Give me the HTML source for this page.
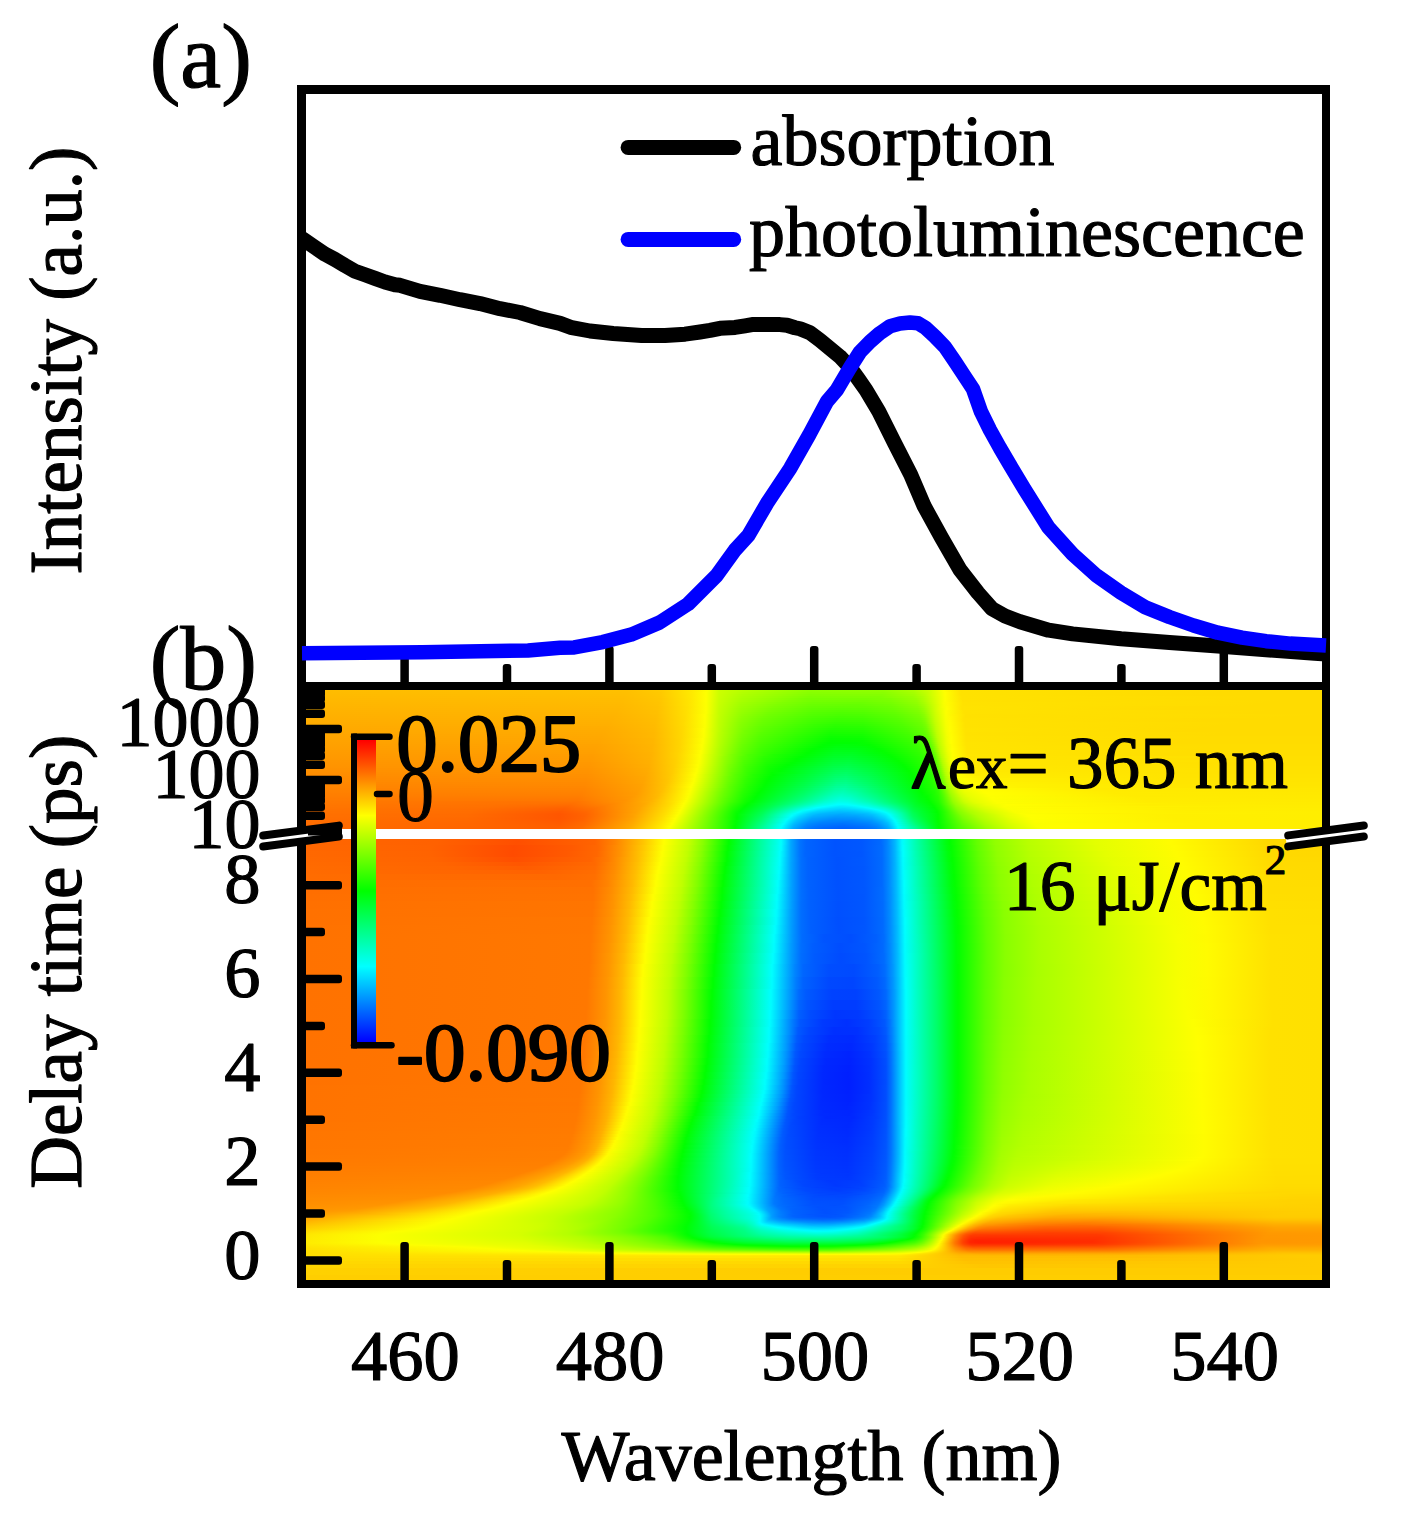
<!DOCTYPE html><html><head><meta charset="utf-8"><style>html,body{margin:0;padding:0;background:#fff}svg{display:block}text{font-family:"Liberation Serif",serif;fill:#000;stroke:#000;stroke-width:1.2px;stroke-linejoin:round}</style></head><body>
<svg width="1405" height="1522" viewBox="0 0 1405 1522">
<defs><linearGradient id="h0" gradientUnits="userSpaceOnUse" x1="306" x2="1321" y1="0" y2="0"><stop offset="0" stop-color="#ffbc00"/><stop offset="0.3163" stop-color="#ffc000"/><stop offset="0.3507" stop-color="#ffcb00"/><stop offset="0.3813" stop-color="#ffeb00"/><stop offset="0.3951" stop-color="#fcff00"/><stop offset="0.4069" stop-color="#ccff00"/><stop offset="0.4315" stop-color="#b5ff00"/><stop offset="0.4966" stop-color="#8cff00"/><stop offset="0.5695" stop-color="#8fff00"/><stop offset="0.599" stop-color="#aaff00"/><stop offset="0.6148" stop-color="#cdff00"/><stop offset="0.6286" stop-color="#feff00"/><stop offset="0.6453" stop-color="#ffe200"/><stop offset="0.9123" stop-color="#ffdb00"/><stop offset="1" stop-color="#ffdb00"/></linearGradient>
<linearGradient id="h1" gradientUnits="userSpaceOnUse" x1="306" x2="1321" y1="0" y2="0"><stop offset="0" stop-color="#ffbb00"/><stop offset="0.3153" stop-color="#ffbf00"/><stop offset="0.3498" stop-color="#ffc900"/><stop offset="0.3803" stop-color="#ffea00"/><stop offset="0.3941" stop-color="#feff00"/><stop offset="0.4069" stop-color="#ccff00"/><stop offset="0.4305" stop-color="#b2ff00"/><stop offset="0.4966" stop-color="#87ff00"/><stop offset="0.5695" stop-color="#8aff00"/><stop offset="0.599" stop-color="#a5ff00"/><stop offset="0.6128" stop-color="#c5ff00"/><stop offset="0.6296" stop-color="#ffff00"/><stop offset="0.6453" stop-color="#ffe200"/><stop offset="0.8995" stop-color="#ffdb00"/><stop offset="1" stop-color="#ffdb00"/></linearGradient>
<linearGradient id="h2" gradientUnits="userSpaceOnUse" x1="306" x2="1321" y1="0" y2="0"><stop offset="0" stop-color="#ffba00"/><stop offset="0.3143" stop-color="#ffbe00"/><stop offset="0.3488" stop-color="#ffc800"/><stop offset="0.3793" stop-color="#ffe800"/><stop offset="0.3941" stop-color="#feff00"/><stop offset="0.4069" stop-color="#cbff00"/><stop offset="0.4296" stop-color="#afff00"/><stop offset="0.4966" stop-color="#82ff00"/><stop offset="0.5675" stop-color="#84ff00"/><stop offset="0.599" stop-color="#a0ff00"/><stop offset="0.6099" stop-color="#baff00"/><stop offset="0.6296" stop-color="#ffff00"/><stop offset="0.6453" stop-color="#ffe200"/><stop offset="0.8867" stop-color="#ffdb00"/><stop offset="1" stop-color="#ffdb00"/></linearGradient>
<linearGradient id="h3" gradientUnits="userSpaceOnUse" x1="306" x2="1321" y1="0" y2="0"><stop offset="0" stop-color="#ffb900"/><stop offset="0.3133" stop-color="#ffbd00"/><stop offset="0.3488" stop-color="#ffc700"/><stop offset="0.3793" stop-color="#ffe800"/><stop offset="0.3941" stop-color="#feff00"/><stop offset="0.4069" stop-color="#caff00"/><stop offset="0.4296" stop-color="#acff00"/><stop offset="0.4956" stop-color="#7dff00"/><stop offset="0.5645" stop-color="#7eff00"/><stop offset="0.598" stop-color="#99ff00"/><stop offset="0.6079" stop-color="#afff00"/><stop offset="0.6296" stop-color="#feff00"/><stop offset="0.6463" stop-color="#ffe200"/><stop offset="0.931" stop-color="#ffdb00"/><stop offset="1" stop-color="#ffdb00"/></linearGradient>
<linearGradient id="h4" gradientUnits="userSpaceOnUse" x1="306" x2="1321" y1="0" y2="0"><stop offset="0" stop-color="#ffb800"/><stop offset="0.3123" stop-color="#ffbc00"/><stop offset="0.3488" stop-color="#ffc600"/><stop offset="0.3783" stop-color="#ffe600"/><stop offset="0.3941" stop-color="#feff00"/><stop offset="0.4069" stop-color="#c9ff00"/><stop offset="0.4296" stop-color="#a9ff00"/><stop offset="0.4936" stop-color="#78ff00"/><stop offset="0.5517" stop-color="#77ff00"/><stop offset="0.5754" stop-color="#7fff00"/><stop offset="0.601" stop-color="#99ff00"/><stop offset="0.6099" stop-color="#b3ff00"/><stop offset="0.6296" stop-color="#feff00"/><stop offset="0.6463" stop-color="#ffe200"/><stop offset="0.9182" stop-color="#ffdb00"/><stop offset="1" stop-color="#ffdb00"/></linearGradient>
<linearGradient id="h5" gradientUnits="userSpaceOnUse" x1="306" x2="1321" y1="0" y2="0"><stop offset="0" stop-color="#ffb700"/><stop offset="0.3113" stop-color="#ffbb00"/><stop offset="0.3478" stop-color="#ffc500"/><stop offset="0.3773" stop-color="#ffe400"/><stop offset="0.3941" stop-color="#feff00"/><stop offset="0.4069" stop-color="#c9ff00"/><stop offset="0.4286" stop-color="#a7ff00"/><stop offset="0.4759" stop-color="#80ff00"/><stop offset="0.4995" stop-color="#73ff00"/><stop offset="0.5498" stop-color="#71ff00"/><stop offset="0.5754" stop-color="#7aff00"/><stop offset="0.602" stop-color="#95ff00"/><stop offset="0.6108" stop-color="#b3ff00"/><stop offset="0.6296" stop-color="#fdff00"/><stop offset="0.6473" stop-color="#ffe100"/><stop offset="0.9616" stop-color="#ffdb00"/><stop offset="1" stop-color="#ffdb00"/></linearGradient>
<linearGradient id="h6" gradientUnits="userSpaceOnUse" x1="306" x2="1321" y1="0" y2="0"><stop offset="0" stop-color="#ffb600"/><stop offset="0.3103" stop-color="#ffba00"/><stop offset="0.3478" stop-color="#ffc400"/><stop offset="0.3773" stop-color="#ffe400"/><stop offset="0.3941" stop-color="#fdff00"/><stop offset="0.4069" stop-color="#c8ff00"/><stop offset="0.4286" stop-color="#a3ff00"/><stop offset="0.469" stop-color="#80ff00"/><stop offset="0.4985" stop-color="#6eff00"/><stop offset="0.5458" stop-color="#6aff00"/><stop offset="0.5764" stop-color="#76ff00"/><stop offset="0.602" stop-color="#91ff00"/><stop offset="0.6099" stop-color="#abff00"/><stop offset="0.6286" stop-color="#faff00"/><stop offset="0.6325" stop-color="#fffb00"/><stop offset="0.6473" stop-color="#ffe200"/><stop offset="0.9478" stop-color="#ffdb00"/><stop offset="1" stop-color="#ffdb00"/></linearGradient>
<linearGradient id="h7" gradientUnits="userSpaceOnUse" x1="306" x2="1321" y1="0" y2="0"><stop offset="0" stop-color="#ffb500"/><stop offset="0.3094" stop-color="#ffb900"/><stop offset="0.3468" stop-color="#ffc300"/><stop offset="0.3764" stop-color="#ffe300"/><stop offset="0.3941" stop-color="#fdff00"/><stop offset="0.4069" stop-color="#c7ff00"/><stop offset="0.4286" stop-color="#a0ff00"/><stop offset="0.464" stop-color="#7fff00"/><stop offset="0.4985" stop-color="#69ff00"/><stop offset="0.5438" stop-color="#64ff00"/><stop offset="0.5764" stop-color="#71ff00"/><stop offset="0.602" stop-color="#8cff00"/><stop offset="0.6089" stop-color="#a2ff00"/><stop offset="0.6286" stop-color="#f9ff00"/><stop offset="0.6325" stop-color="#fffb00"/><stop offset="0.6473" stop-color="#ffe200"/><stop offset="0.935" stop-color="#ffdb00"/><stop offset="1" stop-color="#ffdb00"/></linearGradient>
<linearGradient id="h8" gradientUnits="userSpaceOnUse" x1="306" x2="1321" y1="0" y2="0"><stop offset="0" stop-color="#ffb400"/><stop offset="0.3084" stop-color="#ffb800"/><stop offset="0.3468" stop-color="#ffc200"/><stop offset="0.3764" stop-color="#ffe200"/><stop offset="0.3941" stop-color="#fdff00"/><stop offset="0.4069" stop-color="#c6ff00"/><stop offset="0.4286" stop-color="#9dff00"/><stop offset="0.4611" stop-color="#7dff00"/><stop offset="0.4985" stop-color="#64ff00"/><stop offset="0.5291" stop-color="#60ff00"/><stop offset="0.5527" stop-color="#62ff00"/><stop offset="0.5773" stop-color="#6dff00"/><stop offset="0.603" stop-color="#89ff00"/><stop offset="0.6089" stop-color="#9dff00"/><stop offset="0.6266" stop-color="#f1ff00"/><stop offset="0.6315" stop-color="#fffe00"/><stop offset="0.6463" stop-color="#ffe300"/><stop offset="0.864" stop-color="#ffdb00"/><stop offset="1" stop-color="#ffdb00"/></linearGradient>
<linearGradient id="h9" gradientUnits="userSpaceOnUse" x1="306" x2="1321" y1="0" y2="0"><stop offset="0" stop-color="#ffb300"/><stop offset="0.3074" stop-color="#ffb700"/><stop offset="0.3468" stop-color="#ffc200"/><stop offset="0.3754" stop-color="#ffe100"/><stop offset="0.3941" stop-color="#fdff00"/><stop offset="0.4069" stop-color="#c5ff00"/><stop offset="0.4286" stop-color="#9aff00"/><stop offset="0.4591" stop-color="#7aff00"/><stop offset="0.4985" stop-color="#5fff00"/><stop offset="0.5271" stop-color="#5aff00"/><stop offset="0.5507" stop-color="#5cff00"/><stop offset="0.5783" stop-color="#6aff00"/><stop offset="0.603" stop-color="#84ff00"/><stop offset="0.6089" stop-color="#98ff00"/><stop offset="0.6236" stop-color="#e3ff00"/><stop offset="0.6315" stop-color="#ffff00"/><stop offset="0.6463" stop-color="#ffe300"/><stop offset="0.8493" stop-color="#ffdb00"/><stop offset="1" stop-color="#ffdb00"/></linearGradient>
<linearGradient id="h10" gradientUnits="userSpaceOnUse" x1="306" x2="1321" y1="0" y2="0"><stop offset="0" stop-color="#ffb200"/><stop offset="0.3054" stop-color="#ffb600"/><stop offset="0.3458" stop-color="#ffc000"/><stop offset="0.3744" stop-color="#ffdf00"/><stop offset="0.3941" stop-color="#fcff00"/><stop offset="0.4069" stop-color="#c4ff00"/><stop offset="0.4286" stop-color="#98ff00"/><stop offset="0.4571" stop-color="#78ff00"/><stop offset="0.4995" stop-color="#5aff00"/><stop offset="0.5261" stop-color="#54ff00"/><stop offset="0.5498" stop-color="#57ff00"/><stop offset="0.5793" stop-color="#66ff00"/><stop offset="0.6039" stop-color="#81ff00"/><stop offset="0.6099" stop-color="#98ff00"/><stop offset="0.6207" stop-color="#d3ff00"/><stop offset="0.6305" stop-color="#fcff00"/><stop offset="0.6483" stop-color="#ffe200"/><stop offset="0.9498" stop-color="#ffdb00"/><stop offset="1" stop-color="#ffdb00"/></linearGradient>
<linearGradient id="h11" gradientUnits="userSpaceOnUse" x1="306" x2="1321" y1="0" y2="0"><stop offset="0" stop-color="#ffb100"/><stop offset="0.3044" stop-color="#ffb500"/><stop offset="0.3458" stop-color="#ffc000"/><stop offset="0.3744" stop-color="#ffdf00"/><stop offset="0.3941" stop-color="#fcff00"/><stop offset="0.4069" stop-color="#c3ff00"/><stop offset="0.4286" stop-color="#95ff00"/><stop offset="0.4552" stop-color="#75ff00"/><stop offset="0.4995" stop-color="#55ff00"/><stop offset="0.5251" stop-color="#4eff00"/><stop offset="0.5498" stop-color="#51ff00"/><stop offset="0.5803" stop-color="#62ff00"/><stop offset="0.6039" stop-color="#7dff00"/><stop offset="0.6089" stop-color="#8eff00"/><stop offset="0.6207" stop-color="#d1ff00"/><stop offset="0.6305" stop-color="#fcff00"/><stop offset="0.6483" stop-color="#ffe200"/><stop offset="0.9369" stop-color="#ffdb00"/><stop offset="1" stop-color="#ffdb00"/></linearGradient>
<linearGradient id="h12" gradientUnits="userSpaceOnUse" x1="306" x2="1321" y1="0" y2="0"><stop offset="0" stop-color="#ffb000"/><stop offset="0.3034" stop-color="#ffb400"/><stop offset="0.3458" stop-color="#ffbf00"/><stop offset="0.3744" stop-color="#ffdf00"/><stop offset="0.3931" stop-color="#feff00"/><stop offset="0.401" stop-color="#dbff00"/><stop offset="0.4079" stop-color="#c0ff00"/><stop offset="0.4296" stop-color="#90ff00"/><stop offset="0.4552" stop-color="#71ff00"/><stop offset="0.4995" stop-color="#51ff00"/><stop offset="0.5251" stop-color="#49ff00"/><stop offset="0.5488" stop-color="#4bff00"/><stop offset="0.5813" stop-color="#5eff00"/><stop offset="0.6039" stop-color="#78ff00"/><stop offset="0.6089" stop-color="#88ff00"/><stop offset="0.6197" stop-color="#caff00"/><stop offset="0.6305" stop-color="#fbff00"/><stop offset="0.6374" stop-color="#fff300"/><stop offset="0.6502" stop-color="#ffe100"/><stop offset="1" stop-color="#ffdb00"/></linearGradient>
<linearGradient id="h13" gradientUnits="userSpaceOnUse" x1="306" x2="1321" y1="0" y2="0"><stop offset="0" stop-color="#ffaf00"/><stop offset="0.3025" stop-color="#ffb300"/><stop offset="0.3448" stop-color="#ffbe00"/><stop offset="0.3734" stop-color="#ffdd00"/><stop offset="0.3931" stop-color="#feff00"/><stop offset="0.401" stop-color="#dbff00"/><stop offset="0.4079" stop-color="#bfff00"/><stop offset="0.4296" stop-color="#8dff00"/><stop offset="0.4532" stop-color="#6fff00"/><stop offset="0.4995" stop-color="#4cff00"/><stop offset="0.5241" stop-color="#43ff00"/><stop offset="0.5488" stop-color="#46ff00"/><stop offset="0.5823" stop-color="#5bff00"/><stop offset="0.6049" stop-color="#76ff00"/><stop offset="0.6099" stop-color="#89ff00"/><stop offset="0.6197" stop-color="#c8ff00"/><stop offset="0.6305" stop-color="#faff00"/><stop offset="0.6355" stop-color="#fff800"/><stop offset="0.6493" stop-color="#ffe100"/><stop offset="0.9645" stop-color="#ffdb00"/><stop offset="1" stop-color="#ffdb00"/></linearGradient>
<linearGradient id="h14" gradientUnits="userSpaceOnUse" x1="306" x2="1321" y1="0" y2="0"><stop offset="0" stop-color="#ffae00"/><stop offset="0.3005" stop-color="#ffb200"/><stop offset="0.3448" stop-color="#ffbd00"/><stop offset="0.3734" stop-color="#ffdd00"/><stop offset="0.3931" stop-color="#fdff00"/><stop offset="0.4069" stop-color="#c1ff00"/><stop offset="0.4286" stop-color="#8cff00"/><stop offset="0.4512" stop-color="#6dff00"/><stop offset="0.4995" stop-color="#47ff00"/><stop offset="0.5232" stop-color="#3dff00"/><stop offset="0.5488" stop-color="#40ff00"/><stop offset="0.5833" stop-color="#57ff00"/><stop offset="0.6049" stop-color="#72ff00"/><stop offset="0.6099" stop-color="#83ff00"/><stop offset="0.6197" stop-color="#c6ff00"/><stop offset="0.6305" stop-color="#f9ff00"/><stop offset="0.6345" stop-color="#fffa00"/><stop offset="0.6483" stop-color="#ffe200"/><stop offset="0.8956" stop-color="#ffdb00"/><stop offset="1" stop-color="#ffdb00"/></linearGradient>
<linearGradient id="h15" gradientUnits="userSpaceOnUse" x1="306" x2="1321" y1="0" y2="0"><stop offset="0" stop-color="#ffad00"/><stop offset="0.2995" stop-color="#ffb100"/><stop offset="0.3448" stop-color="#ffbd00"/><stop offset="0.3724" stop-color="#ffdb00"/><stop offset="0.3931" stop-color="#fdff00"/><stop offset="0.4069" stop-color="#c0ff00"/><stop offset="0.4286" stop-color="#8aff00"/><stop offset="0.4502" stop-color="#6aff00"/><stop offset="0.4995" stop-color="#42ff00"/><stop offset="0.5232" stop-color="#38ff00"/><stop offset="0.5488" stop-color="#3bff00"/><stop offset="0.5852" stop-color="#55ff00"/><stop offset="0.6059" stop-color="#6fff00"/><stop offset="0.6099" stop-color="#7eff00"/><stop offset="0.6197" stop-color="#c4ff00"/><stop offset="0.6305" stop-color="#f8ff00"/><stop offset="0.6345" stop-color="#fffb00"/><stop offset="0.6483" stop-color="#ffe200"/><stop offset="0.8818" stop-color="#ffdb00"/><stop offset="1" stop-color="#ffdb00"/></linearGradient>
<linearGradient id="h16" gradientUnits="userSpaceOnUse" x1="306" x2="1321" y1="0" y2="0"><stop offset="0" stop-color="#ffac00"/><stop offset="0.2985" stop-color="#ffb000"/><stop offset="0.3438" stop-color="#ffbc00"/><stop offset="0.3714" stop-color="#ffda00"/><stop offset="0.3931" stop-color="#fdff00"/><stop offset="0.4069" stop-color="#bfff00"/><stop offset="0.4286" stop-color="#87ff00"/><stop offset="0.4493" stop-color="#68ff00"/><stop offset="0.4995" stop-color="#3eff00"/><stop offset="0.5222" stop-color="#32ff00"/><stop offset="0.5488" stop-color="#35ff00"/><stop offset="0.5862" stop-color="#52ff00"/><stop offset="0.6059" stop-color="#6bff00"/><stop offset="0.6099" stop-color="#79ff00"/><stop offset="0.6197" stop-color="#c1ff00"/><stop offset="0.6305" stop-color="#f7ff00"/><stop offset="0.6345" stop-color="#fffc00"/><stop offset="0.6493" stop-color="#ffe200"/><stop offset="0.9222" stop-color="#ffdb00"/><stop offset="1" stop-color="#ffdb00"/></linearGradient>
<linearGradient id="h17" gradientUnits="userSpaceOnUse" x1="306" x2="1321" y1="0" y2="0"><stop offset="0" stop-color="#ffab00"/><stop offset="0.2975" stop-color="#ffaf00"/><stop offset="0.3438" stop-color="#ffbb00"/><stop offset="0.3714" stop-color="#ffda00"/><stop offset="0.3931" stop-color="#fcff00"/><stop offset="0.4069" stop-color="#bfff00"/><stop offset="0.4286" stop-color="#85ff00"/><stop offset="0.4493" stop-color="#65ff00"/><stop offset="0.5005" stop-color="#38ff00"/><stop offset="0.5212" stop-color="#2cff00"/><stop offset="0.5488" stop-color="#30ff00"/><stop offset="0.5872" stop-color="#4fff00"/><stop offset="0.6069" stop-color="#6aff00"/><stop offset="0.6108" stop-color="#79ff00"/><stop offset="0.6207" stop-color="#c5ff00"/><stop offset="0.6305" stop-color="#f6ff00"/><stop offset="0.6345" stop-color="#fffc00"/><stop offset="0.6493" stop-color="#ffe200"/><stop offset="0.9084" stop-color="#ffdb00"/><stop offset="1" stop-color="#ffdb00"/></linearGradient>
<linearGradient id="h18" gradientUnits="userSpaceOnUse" x1="306" x2="1321" y1="0" y2="0"><stop offset="0" stop-color="#ffaa00"/><stop offset="0.2956" stop-color="#ffad00"/><stop offset="0.3438" stop-color="#ffbb00"/><stop offset="0.3714" stop-color="#ffd900"/><stop offset="0.3931" stop-color="#fcff00"/><stop offset="0.4069" stop-color="#beff00"/><stop offset="0.4286" stop-color="#83ff00"/><stop offset="0.4483" stop-color="#62ff00"/><stop offset="0.5005" stop-color="#34ff00"/><stop offset="0.5212" stop-color="#27ff00"/><stop offset="0.5488" stop-color="#2aff00"/><stop offset="0.5892" stop-color="#4dff00"/><stop offset="0.6069" stop-color="#66ff00"/><stop offset="0.6108" stop-color="#74ff00"/><stop offset="0.6207" stop-color="#c2ff00"/><stop offset="0.6305" stop-color="#f5ff00"/><stop offset="0.6345" stop-color="#fffd00"/><stop offset="0.6493" stop-color="#ffe200"/><stop offset="0.8946" stop-color="#ffdb00"/><stop offset="1" stop-color="#ffdb00"/></linearGradient>
<linearGradient id="h19" gradientUnits="userSpaceOnUse" x1="306" x2="1321" y1="0" y2="0"><stop offset="0" stop-color="#ffa900"/><stop offset="0.2946" stop-color="#ffac00"/><stop offset="0.3438" stop-color="#ffba00"/><stop offset="0.3714" stop-color="#ffd900"/><stop offset="0.3921" stop-color="#feff00"/><stop offset="0.4" stop-color="#dbff00"/><stop offset="0.4079" stop-color="#baff00"/><stop offset="0.4296" stop-color="#7eff00"/><stop offset="0.4493" stop-color="#5eff00"/><stop offset="0.5015" stop-color="#2eff00"/><stop offset="0.5202" stop-color="#21ff00"/><stop offset="0.5488" stop-color="#25ff00"/><stop offset="0.5911" stop-color="#4bff00"/><stop offset="0.6079" stop-color="#64ff00"/><stop offset="0.6118" stop-color="#75ff00"/><stop offset="0.6207" stop-color="#c0ff00"/><stop offset="0.6305" stop-color="#f4ff00"/><stop offset="0.6345" stop-color="#fffd00"/><stop offset="0.6493" stop-color="#ffe300"/><stop offset="0.8808" stop-color="#ffdb00"/><stop offset="1" stop-color="#ffdb00"/></linearGradient>
<linearGradient id="h20" gradientUnits="userSpaceOnUse" x1="306" x2="1321" y1="0" y2="0"><stop offset="0" stop-color="#ffa800"/><stop offset="0.2936" stop-color="#ffab00"/><stop offset="0.3429" stop-color="#ffb900"/><stop offset="0.3704" stop-color="#ffd800"/><stop offset="0.3921" stop-color="#feff00"/><stop offset="0.401" stop-color="#d5ff00"/><stop offset="0.4108" stop-color="#b0ff00"/><stop offset="0.4325" stop-color="#75ff00"/><stop offset="0.4532" stop-color="#57ff00"/><stop offset="0.5163" stop-color="#1cff00"/><stop offset="0.5488" stop-color="#1fff00"/><stop offset="0.5931" stop-color="#4aff00"/><stop offset="0.6079" stop-color="#60ff00"/><stop offset="0.6118" stop-color="#6fff00"/><stop offset="0.6207" stop-color="#bdff00"/><stop offset="0.6305" stop-color="#f3ff00"/><stop offset="0.6345" stop-color="#fffe00"/><stop offset="0.6493" stop-color="#ffe300"/><stop offset="0.866" stop-color="#ffdb00"/><stop offset="1" stop-color="#ffdb00"/></linearGradient>
<linearGradient id="h21" gradientUnits="userSpaceOnUse" x1="306" x2="1321" y1="0" y2="0"><stop offset="0" stop-color="#ffa700"/><stop offset="0.2926" stop-color="#ffaa00"/><stop offset="0.3429" stop-color="#ffb800"/><stop offset="0.3704" stop-color="#ffd800"/><stop offset="0.3921" stop-color="#fdff00"/><stop offset="0.4069" stop-color="#bcff00"/><stop offset="0.4296" stop-color="#7aff00"/><stop offset="0.4483" stop-color="#59ff00"/><stop offset="0.5163" stop-color="#17ff00"/><stop offset="0.5488" stop-color="#1aff00"/><stop offset="0.5941" stop-color="#47ff00"/><stop offset="0.6089" stop-color="#5fff00"/><stop offset="0.6128" stop-color="#71ff00"/><stop offset="0.6217" stop-color="#c1ff00"/><stop offset="0.6315" stop-color="#f6ff00"/><stop offset="0.6355" stop-color="#fffc00"/><stop offset="0.6502" stop-color="#ffe200"/><stop offset="0.9084" stop-color="#ffdb00"/><stop offset="1" stop-color="#ffdb00"/></linearGradient>
<linearGradient id="h22" gradientUnits="userSpaceOnUse" x1="306" x2="1321" y1="0" y2="0"><stop offset="0" stop-color="#ffa500"/><stop offset="0.2916" stop-color="#ffa900"/><stop offset="0.3429" stop-color="#ffb800"/><stop offset="0.3704" stop-color="#ffd800"/><stop offset="0.3921" stop-color="#fdff00"/><stop offset="0.4069" stop-color="#bbff00"/><stop offset="0.4296" stop-color="#77ff00"/><stop offset="0.4483" stop-color="#56ff00"/><stop offset="0.5163" stop-color="#12ff00"/><stop offset="0.5478" stop-color="#14ff00"/><stop offset="0.5961" stop-color="#45ff00"/><stop offset="0.6099" stop-color="#5eff00"/><stop offset="0.6128" stop-color="#6bff00"/><stop offset="0.6217" stop-color="#beff00"/><stop offset="0.6315" stop-color="#f5ff00"/><stop offset="0.6355" stop-color="#fffd00"/><stop offset="0.6502" stop-color="#ffe200"/><stop offset="0.8966" stop-color="#ffdb00"/><stop offset="1" stop-color="#ffdb00"/></linearGradient>
<linearGradient id="h23" gradientUnits="userSpaceOnUse" x1="306" x2="1321" y1="0" y2="0"><stop offset="0" stop-color="#ffa400"/><stop offset="0.2906" stop-color="#ffa800"/><stop offset="0.3429" stop-color="#ffb800"/><stop offset="0.3704" stop-color="#ffd800"/><stop offset="0.3921" stop-color="#fcff00"/><stop offset="0.4069" stop-color="#baff00"/><stop offset="0.4296" stop-color="#75ff00"/><stop offset="0.4473" stop-color="#54ff00"/><stop offset="0.5172" stop-color="#0cff00"/><stop offset="0.5478" stop-color="#0fff00"/><stop offset="0.597" stop-color="#43ff00"/><stop offset="0.6099" stop-color="#5aff00"/><stop offset="0.6138" stop-color="#6cff00"/><stop offset="0.6217" stop-color="#bbff00"/><stop offset="0.6305" stop-color="#efff00"/><stop offset="0.6355" stop-color="#fffe00"/><stop offset="0.6502" stop-color="#ffe300"/><stop offset="0.8867" stop-color="#ffdc00"/><stop offset="1" stop-color="#ffdc00"/></linearGradient>
<linearGradient id="h24" gradientUnits="userSpaceOnUse" x1="306" x2="1321" y1="0" y2="0"><stop offset="0" stop-color="#ffa300"/><stop offset="0.2897" stop-color="#ffa700"/><stop offset="0.3419" stop-color="#ffb600"/><stop offset="0.3685" stop-color="#ffd500"/><stop offset="0.3911" stop-color="#feff00"/><stop offset="0.4069" stop-color="#b9ff00"/><stop offset="0.4296" stop-color="#72ff00"/><stop offset="0.4473" stop-color="#51ff00"/><stop offset="0.5172" stop-color="#07ff00"/><stop offset="0.5478" stop-color="#0aff00"/><stop offset="0.598" stop-color="#40ff00"/><stop offset="0.6108" stop-color="#59ff00"/><stop offset="0.6138" stop-color="#66ff00"/><stop offset="0.6227" stop-color="#bfff00"/><stop offset="0.6315" stop-color="#f3ff00"/><stop offset="0.6355" stop-color="#fffe00"/><stop offset="0.6502" stop-color="#ffe300"/><stop offset="0.8759" stop-color="#ffdc00"/><stop offset="1" stop-color="#ffdc00"/></linearGradient>
<linearGradient id="h25" gradientUnits="userSpaceOnUse" x1="306" x2="1321" y1="0" y2="0"><stop offset="0" stop-color="#ffa200"/><stop offset="0.2887" stop-color="#ffa600"/><stop offset="0.3419" stop-color="#ffb600"/><stop offset="0.3685" stop-color="#ffd500"/><stop offset="0.3911" stop-color="#fdff00"/><stop offset="0.4069" stop-color="#b8ff00"/><stop offset="0.4296" stop-color="#70ff00"/><stop offset="0.4473" stop-color="#4eff00"/><stop offset="0.5172" stop-color="#02ff00"/><stop offset="0.5478" stop-color="#05ff00"/><stop offset="0.599" stop-color="#3eff00"/><stop offset="0.6118" stop-color="#58ff00"/><stop offset="0.6148" stop-color="#67ff00"/><stop offset="0.6227" stop-color="#bcff00"/><stop offset="0.6315" stop-color="#f1ff00"/><stop offset="0.6355" stop-color="#ffff00"/><stop offset="0.6502" stop-color="#ffe300"/><stop offset="0.866" stop-color="#ffdc00"/><stop offset="1" stop-color="#ffdc00"/></linearGradient>
<linearGradient id="h26" gradientUnits="userSpaceOnUse" x1="306" x2="1321" y1="0" y2="0"><stop offset="0" stop-color="#ffa100"/><stop offset="0.2877" stop-color="#ffa500"/><stop offset="0.3419" stop-color="#ffb600"/><stop offset="0.3685" stop-color="#ffd500"/><stop offset="0.3911" stop-color="#fcff00"/><stop offset="0.4069" stop-color="#b7ff00"/><stop offset="0.4286" stop-color="#70ff00"/><stop offset="0.4463" stop-color="#4cff00"/><stop offset="0.5143" stop-color="#00ff01"/><stop offset="0.5419" stop-color="#00ff03"/><stop offset="0.5537" stop-color="#07ff00"/><stop offset="0.599" stop-color="#3aff00"/><stop offset="0.6118" stop-color="#54ff00"/><stop offset="0.6148" stop-color="#61ff00"/><stop offset="0.6187" stop-color="#8aff00"/><stop offset="0.6227" stop-color="#b8ff00"/><stop offset="0.6305" stop-color="#ebff00"/><stop offset="0.6355" stop-color="#ffff00"/><stop offset="0.6502" stop-color="#ffe400"/><stop offset="0.8552" stop-color="#ffdc00"/><stop offset="1" stop-color="#ffdc00"/></linearGradient>
<linearGradient id="h27" gradientUnits="userSpaceOnUse" x1="306" x2="1321" y1="0" y2="0"><stop offset="0" stop-color="#ffa000"/><stop offset="0.2867" stop-color="#ffa300"/><stop offset="0.3419" stop-color="#ffb500"/><stop offset="0.3685" stop-color="#ffd500"/><stop offset="0.3901" stop-color="#feff00"/><stop offset="0.4079" stop-color="#b2ff00"/><stop offset="0.4296" stop-color="#6aff00"/><stop offset="0.4483" stop-color="#46ff00"/><stop offset="0.5103" stop-color="#00ff02"/><stop offset="0.531" stop-color="#00ff0b"/><stop offset="0.5547" stop-color="#03ff00"/><stop offset="0.6" stop-color="#38ff00"/><stop offset="0.6118" stop-color="#50ff00"/><stop offset="0.6158" stop-color="#62ff00"/><stop offset="0.6236" stop-color="#bcff00"/><stop offset="0.6315" stop-color="#efff00"/><stop offset="0.6365" stop-color="#fffd00"/><stop offset="0.6502" stop-color="#ffe400"/><stop offset="0.8433" stop-color="#ffdd00"/><stop offset="1" stop-color="#ffdd00"/></linearGradient>
<linearGradient id="h28" gradientUnits="userSpaceOnUse" x1="306" x2="1321" y1="0" y2="0"><stop offset="0" stop-color="#ff9f00"/><stop offset="0.2857" stop-color="#ffa200"/><stop offset="0.3409" stop-color="#ffb400"/><stop offset="0.3675" stop-color="#ffd400"/><stop offset="0.3901" stop-color="#fdff00"/><stop offset="0.4079" stop-color="#b0ff00"/><stop offset="0.4296" stop-color="#68ff00"/><stop offset="0.4483" stop-color="#43ff00"/><stop offset="0.5064" stop-color="#00ff01"/><stop offset="0.5232" stop-color="#00ff0f"/><stop offset="0.5468" stop-color="#00ff0b"/><stop offset="0.5596" stop-color="#04ff00"/><stop offset="0.601" stop-color="#36ff00"/><stop offset="0.6128" stop-color="#50ff00"/><stop offset="0.6158" stop-color="#5cff00"/><stop offset="0.6187" stop-color="#7bff00"/><stop offset="0.6236" stop-color="#b8ff00"/><stop offset="0.6315" stop-color="#edff00"/><stop offset="0.6365" stop-color="#fffe00"/><stop offset="0.6512" stop-color="#ffe400"/><stop offset="0.8936" stop-color="#ffdd00"/><stop offset="1" stop-color="#ffdd00"/></linearGradient>
<linearGradient id="h29" gradientUnits="userSpaceOnUse" x1="306" x2="1321" y1="0" y2="0"><stop offset="0" stop-color="#ff9e00"/><stop offset="0.2847" stop-color="#ffa100"/><stop offset="0.3409" stop-color="#ffb400"/><stop offset="0.3675" stop-color="#ffd400"/><stop offset="0.3901" stop-color="#fcff00"/><stop offset="0.4069" stop-color="#b2ff00"/><stop offset="0.4286" stop-color="#68ff00"/><stop offset="0.4473" stop-color="#41ff00"/><stop offset="0.5005" stop-color="#01ff00"/><stop offset="0.5222" stop-color="#00ff14"/><stop offset="0.5438" stop-color="#00ff12"/><stop offset="0.5635" stop-color="#03ff00"/><stop offset="0.602" stop-color="#34ff00"/><stop offset="0.6138" stop-color="#4fff00"/><stop offset="0.6167" stop-color="#5eff00"/><stop offset="0.6207" stop-color="#8dff00"/><stop offset="0.6246" stop-color="#bdff00"/><stop offset="0.6325" stop-color="#f1ff00"/><stop offset="0.6365" stop-color="#ffff00"/><stop offset="0.6512" stop-color="#ffe400"/><stop offset="0.8828" stop-color="#ffdd00"/><stop offset="1" stop-color="#ffdd00"/></linearGradient>
<linearGradient id="h30" gradientUnits="userSpaceOnUse" x1="306" x2="1321" y1="0" y2="0"><stop offset="0" stop-color="#ff9c00"/><stop offset="0.2837" stop-color="#ffa000"/><stop offset="0.3409" stop-color="#ffb400"/><stop offset="0.3675" stop-color="#ffd400"/><stop offset="0.3892" stop-color="#feff00"/><stop offset="0.4089" stop-color="#a9ff00"/><stop offset="0.4296" stop-color="#62ff00"/><stop offset="0.4493" stop-color="#3aff00"/><stop offset="0.4975" stop-color="#00ff01"/><stop offset="0.5212" stop-color="#00ff19"/><stop offset="0.5409" stop-color="#00ff18"/><stop offset="0.5675" stop-color="#03ff00"/><stop offset="0.6039" stop-color="#33ff00"/><stop offset="0.6148" stop-color="#4fff00"/><stop offset="0.6177" stop-color="#60ff00"/><stop offset="0.6246" stop-color="#b8ff00"/><stop offset="0.6315" stop-color="#eaff00"/><stop offset="0.6365" stop-color="#ffff00"/><stop offset="0.6512" stop-color="#ffe500"/><stop offset="0.8719" stop-color="#ffde00"/><stop offset="1" stop-color="#ffde00"/></linearGradient>
<linearGradient id="h31" gradientUnits="userSpaceOnUse" x1="306" x2="1321" y1="0" y2="0"><stop offset="0" stop-color="#ff9b00"/><stop offset="0.2828" stop-color="#ff9f00"/><stop offset="0.3409" stop-color="#ffb300"/><stop offset="0.3675" stop-color="#ffd500"/><stop offset="0.3892" stop-color="#fdff00"/><stop offset="0.4089" stop-color="#a7ff00"/><stop offset="0.4296" stop-color="#5fff00"/><stop offset="0.4502" stop-color="#35ff00"/><stop offset="0.4946" stop-color="#00ff01"/><stop offset="0.5202" stop-color="#00ff1e"/><stop offset="0.5389" stop-color="#00ff1f"/><stop offset="0.5586" stop-color="#00ff0c"/><stop offset="0.5714" stop-color="#04ff00"/><stop offset="0.6049" stop-color="#31ff00"/><stop offset="0.6158" stop-color="#4eff00"/><stop offset="0.6187" stop-color="#63ff00"/><stop offset="0.6256" stop-color="#bdff00"/><stop offset="0.6325" stop-color="#edff00"/><stop offset="0.6374" stop-color="#fffe00"/><stop offset="0.6512" stop-color="#ffe500"/><stop offset="0.8581" stop-color="#ffde00"/><stop offset="1" stop-color="#ffde00"/></linearGradient>
<linearGradient id="h32" gradientUnits="userSpaceOnUse" x1="306" x2="1321" y1="0" y2="0"><stop offset="0" stop-color="#ff9a00"/><stop offset="0.2818" stop-color="#ff9d00"/><stop offset="0.3399" stop-color="#ffb200"/><stop offset="0.3655" stop-color="#ffd200"/><stop offset="0.3882" stop-color="#feff00"/><stop offset="0.397" stop-color="#d7ff00"/><stop offset="0.4197" stop-color="#7cff00"/><stop offset="0.4355" stop-color="#4dff00"/><stop offset="0.4611" stop-color="#21ff00"/><stop offset="0.4926" stop-color="#00ff03"/><stop offset="0.5202" stop-color="#00ff23"/><stop offset="0.5379" stop-color="#00ff25"/><stop offset="0.5576" stop-color="#00ff12"/><stop offset="0.5744" stop-color="#03ff00"/><stop offset="0.6059" stop-color="#30ff00"/><stop offset="0.6158" stop-color="#4bff00"/><stop offset="0.6187" stop-color="#5cff00"/><stop offset="0.6227" stop-color="#90ff00"/><stop offset="0.6256" stop-color="#b8ff00"/><stop offset="0.6325" stop-color="#ebff00"/><stop offset="0.6374" stop-color="#fffe00"/><stop offset="0.6512" stop-color="#ffe600"/><stop offset="0.8433" stop-color="#ffde00"/><stop offset="1" stop-color="#ffde00"/></linearGradient>
<linearGradient id="h33" gradientUnits="userSpaceOnUse" x1="306" x2="1321" y1="0" y2="0"><stop offset="0" stop-color="#ff9900"/><stop offset="0.2818" stop-color="#ff9c00"/><stop offset="0.3399" stop-color="#ffb200"/><stop offset="0.3655" stop-color="#ffd200"/><stop offset="0.3882" stop-color="#fdff00"/><stop offset="0.4108" stop-color="#9bff00"/><stop offset="0.4296" stop-color="#59ff00"/><stop offset="0.4512" stop-color="#2cff00"/><stop offset="0.4877" stop-color="#00ff01"/><stop offset="0.5192" stop-color="#00ff28"/><stop offset="0.536" stop-color="#00ff2c"/><stop offset="0.5557" stop-color="#00ff1a"/><stop offset="0.5773" stop-color="#03ff00"/><stop offset="0.6069" stop-color="#2eff00"/><stop offset="0.6167" stop-color="#4bff00"/><stop offset="0.6197" stop-color="#5fff00"/><stop offset="0.6256" stop-color="#b3ff00"/><stop offset="0.6305" stop-color="#dcff00"/><stop offset="0.6365" stop-color="#fcff00"/><stop offset="0.6532" stop-color="#ffe500"/><stop offset="0.9399" stop-color="#ffdf00"/><stop offset="1" stop-color="#ffdf00"/></linearGradient>
<linearGradient id="h34" gradientUnits="userSpaceOnUse" x1="306" x2="1321" y1="0" y2="0"><stop offset="0" stop-color="#ff9800"/><stop offset="0.2808" stop-color="#ff9b00"/><stop offset="0.3389" stop-color="#ffb100"/><stop offset="0.3645" stop-color="#ffd000"/><stop offset="0.3882" stop-color="#fcff00"/><stop offset="0.4099" stop-color="#9dff00"/><stop offset="0.4296" stop-color="#57ff00"/><stop offset="0.4512" stop-color="#28ff00"/><stop offset="0.4837" stop-color="#00ff01"/><stop offset="0.5192" stop-color="#00ff2e"/><stop offset="0.535" stop-color="#00ff32"/><stop offset="0.5557" stop-color="#00ff1f"/><stop offset="0.5803" stop-color="#03ff00"/><stop offset="0.6079" stop-color="#2dff00"/><stop offset="0.6177" stop-color="#4bff00"/><stop offset="0.6197" stop-color="#59ff00"/><stop offset="0.6236" stop-color="#8fff00"/><stop offset="0.6266" stop-color="#b8ff00"/><stop offset="0.6335" stop-color="#edff00"/><stop offset="0.6374" stop-color="#feff00"/><stop offset="0.6522" stop-color="#ffe600"/><stop offset="0.8709" stop-color="#ffdf00"/><stop offset="1" stop-color="#ffdf00"/></linearGradient>
<linearGradient id="h35" gradientUnits="userSpaceOnUse" x1="306" x2="1321" y1="0" y2="0"><stop offset="0" stop-color="#ff9600"/><stop offset="0.2798" stop-color="#ff9a00"/><stop offset="0.3389" stop-color="#ffb000"/><stop offset="0.3645" stop-color="#ffd100"/><stop offset="0.3872" stop-color="#fdff00"/><stop offset="0.4138" stop-color="#8bff00"/><stop offset="0.4315" stop-color="#4eff00"/><stop offset="0.4542" stop-color="#20ff00"/><stop offset="0.4828" stop-color="#00ff03"/><stop offset="0.5192" stop-color="#00ff34"/><stop offset="0.535" stop-color="#00ff39"/><stop offset="0.5557" stop-color="#00ff24"/><stop offset="0.5833" stop-color="#03ff00"/><stop offset="0.6089" stop-color="#2cff00"/><stop offset="0.6177" stop-color="#48ff00"/><stop offset="0.6207" stop-color="#5dff00"/><stop offset="0.6266" stop-color="#b2ff00"/><stop offset="0.6315" stop-color="#ddff00"/><stop offset="0.6365" stop-color="#faff00"/><stop offset="0.6404" stop-color="#fffa00"/><stop offset="0.6542" stop-color="#ffe600"/><stop offset="0.9547" stop-color="#ffe000"/><stop offset="1" stop-color="#ffe000"/></linearGradient>
<linearGradient id="h36" gradientUnits="userSpaceOnUse" x1="306" x2="1321" y1="0" y2="0"><stop offset="0" stop-color="#ff9500"/><stop offset="0.2798" stop-color="#ff9800"/><stop offset="0.3389" stop-color="#ffb000"/><stop offset="0.3645" stop-color="#ffd100"/><stop offset="0.3872" stop-color="#fcff00"/><stop offset="0.4128" stop-color="#8dff00"/><stop offset="0.4305" stop-color="#4eff00"/><stop offset="0.4532" stop-color="#1eff00"/><stop offset="0.4788" stop-color="#00ff03"/><stop offset="0.5192" stop-color="#00ff3a"/><stop offset="0.534" stop-color="#00ff40"/><stop offset="0.5557" stop-color="#00ff2a"/><stop offset="0.5862" stop-color="#03ff00"/><stop offset="0.6108" stop-color="#2eff00"/><stop offset="0.6187" stop-color="#48ff00"/><stop offset="0.6207" stop-color="#57ff00"/><stop offset="0.6276" stop-color="#b8ff00"/><stop offset="0.6345" stop-color="#eeff00"/><stop offset="0.6384" stop-color="#ffff00"/><stop offset="0.6532" stop-color="#ffe700"/><stop offset="0.8857" stop-color="#ffe000"/><stop offset="1" stop-color="#ffe000"/></linearGradient>
<linearGradient id="h37" gradientUnits="userSpaceOnUse" x1="306" x2="1321" y1="0" y2="0"><stop offset="0" stop-color="#ff9400"/><stop offset="0.2788" stop-color="#ff9700"/><stop offset="0.3379" stop-color="#ffae00"/><stop offset="0.3626" stop-color="#ffce00"/><stop offset="0.3862" stop-color="#feff00"/><stop offset="0.4167" stop-color="#7bff00"/><stop offset="0.4325" stop-color="#46ff00"/><stop offset="0.4552" stop-color="#17ff00"/><stop offset="0.4749" stop-color="#00ff02"/><stop offset="0.5192" stop-color="#00ff40"/><stop offset="0.534" stop-color="#00ff47"/><stop offset="0.5557" stop-color="#00ff30"/><stop offset="0.5882" stop-color="#02ff00"/><stop offset="0.6128" stop-color="#30ff00"/><stop offset="0.6197" stop-color="#4aff00"/><stop offset="0.6227" stop-color="#6aff00"/><stop offset="0.6276" stop-color="#b2ff00"/><stop offset="0.6335" stop-color="#e4ff00"/><stop offset="0.6384" stop-color="#feff00"/><stop offset="0.6542" stop-color="#ffe700"/><stop offset="0.9113" stop-color="#ffe000"/><stop offset="1" stop-color="#ffe000"/></linearGradient>
<linearGradient id="h38" gradientUnits="userSpaceOnUse" x1="306" x2="1321" y1="0" y2="0"><stop offset="0" stop-color="#ff9300"/><stop offset="0.2788" stop-color="#ff9600"/><stop offset="0.3379" stop-color="#ffae00"/><stop offset="0.3626" stop-color="#ffce00"/><stop offset="0.3862" stop-color="#fcff00"/><stop offset="0.4158" stop-color="#7cff00"/><stop offset="0.4325" stop-color="#43ff00"/><stop offset="0.4552" stop-color="#13ff00"/><stop offset="0.4719" stop-color="#00ff03"/><stop offset="0.5192" stop-color="#00ff47"/><stop offset="0.533" stop-color="#00ff4e"/><stop offset="0.5557" stop-color="#00ff35"/><stop offset="0.5901" stop-color="#02ff00"/><stop offset="0.6128" stop-color="#2dff00"/><stop offset="0.6197" stop-color="#47ff00"/><stop offset="0.6227" stop-color="#64ff00"/><stop offset="0.6286" stop-color="#b8ff00"/><stop offset="0.6355" stop-color="#eeff00"/><stop offset="0.6394" stop-color="#ffff00"/><stop offset="0.6542" stop-color="#ffe800"/><stop offset="0.8837" stop-color="#ffe100"/><stop offset="1" stop-color="#ffe100"/></linearGradient>
<linearGradient id="h39" gradientUnits="userSpaceOnUse" x1="306" x2="1321" y1="0" y2="0"><stop offset="0" stop-color="#ff9100"/><stop offset="0.2778" stop-color="#ff9400"/><stop offset="0.3369" stop-color="#ffac00"/><stop offset="0.3616" stop-color="#ffcd00"/><stop offset="0.3852" stop-color="#feff00"/><stop offset="0.4187" stop-color="#6eff00"/><stop offset="0.4345" stop-color="#3cff00"/><stop offset="0.4571" stop-color="#0dff00"/><stop offset="0.469" stop-color="#00ff03"/><stop offset="0.5202" stop-color="#00ff4f"/><stop offset="0.533" stop-color="#00ff55"/><stop offset="0.5557" stop-color="#00ff3b"/><stop offset="0.5921" stop-color="#02ff00"/><stop offset="0.6138" stop-color="#2dff00"/><stop offset="0.6207" stop-color="#49ff00"/><stop offset="0.6236" stop-color="#6bff00"/><stop offset="0.6286" stop-color="#b2ff00"/><stop offset="0.6345" stop-color="#e4ff00"/><stop offset="0.6394" stop-color="#fdff00"/><stop offset="0.6562" stop-color="#ffe800"/><stop offset="0.9163" stop-color="#ffe100"/><stop offset="1" stop-color="#ffe100"/></linearGradient>
<linearGradient id="h40" gradientUnits="userSpaceOnUse" x1="306" x2="1321" y1="0" y2="0"><stop offset="0" stop-color="#ff9000"/><stop offset="0.2778" stop-color="#ff9300"/><stop offset="0.336" stop-color="#ffab00"/><stop offset="0.3606" stop-color="#ffcb00"/><stop offset="0.3852" stop-color="#fcff00"/><stop offset="0.4167" stop-color="#74ff00"/><stop offset="0.4335" stop-color="#3cff00"/><stop offset="0.4562" stop-color="#0bff00"/><stop offset="0.467" stop-color="#00ff04"/><stop offset="0.4975" stop-color="#00ff33"/><stop offset="0.5232" stop-color="#00ff59"/><stop offset="0.535" stop-color="#00ff5b"/><stop offset="0.5586" stop-color="#00ff3b"/><stop offset="0.5941" stop-color="#02ff00"/><stop offset="0.6148" stop-color="#2eff00"/><stop offset="0.6207" stop-color="#46ff00"/><stop offset="0.6236" stop-color="#65ff00"/><stop offset="0.6296" stop-color="#b7ff00"/><stop offset="0.6365" stop-color="#edff00"/><stop offset="0.6404" stop-color="#feff00"/><stop offset="0.6571" stop-color="#ffe900"/><stop offset="0.8975" stop-color="#ffe200"/><stop offset="1" stop-color="#ffe200"/></linearGradient>
<linearGradient id="h41" gradientUnits="userSpaceOnUse" x1="306" x2="1321" y1="0" y2="0"><stop offset="0" stop-color="#ff8e00"/><stop offset="0.2778" stop-color="#ff9200"/><stop offset="0.336" stop-color="#ffaa00"/><stop offset="0.3606" stop-color="#ffcb00"/><stop offset="0.3842" stop-color="#feff00"/><stop offset="0.4187" stop-color="#69ff00"/><stop offset="0.4355" stop-color="#34ff00"/><stop offset="0.4591" stop-color="#04ff00"/><stop offset="0.4788" stop-color="#00ff17"/><stop offset="0.5202" stop-color="#00ff5c"/><stop offset="0.532" stop-color="#00ff64"/><stop offset="0.5547" stop-color="#00ff47"/><stop offset="0.5961" stop-color="#03ff00"/><stop offset="0.6158" stop-color="#2eff00"/><stop offset="0.6207" stop-color="#42ff00"/><stop offset="0.6236" stop-color="#5fff00"/><stop offset="0.6296" stop-color="#b1ff00"/><stop offset="0.6365" stop-color="#e9ff00"/><stop offset="0.6414" stop-color="#fdff00"/><stop offset="0.6581" stop-color="#ffeb00"/><stop offset="0.8778" stop-color="#ffe200"/><stop offset="1" stop-color="#ffe200"/></linearGradient>
<linearGradient id="h42" gradientUnits="userSpaceOnUse" x1="306" x2="1321" y1="0" y2="0"><stop offset="0" stop-color="#ff8d00"/><stop offset="0.2768" stop-color="#ff9000"/><stop offset="0.335" stop-color="#ffa900"/><stop offset="0.3586" stop-color="#ffc800"/><stop offset="0.3833" stop-color="#ffff00"/><stop offset="0.3931" stop-color="#d3ff00"/><stop offset="0.4227" stop-color="#58ff00"/><stop offset="0.4404" stop-color="#25ff00"/><stop offset="0.4601" stop-color="#00ff01"/><stop offset="0.4916" stop-color="#00ff32"/><stop offset="0.5212" stop-color="#00ff65"/><stop offset="0.532" stop-color="#00ff6b"/><stop offset="0.5547" stop-color="#00ff4c"/><stop offset="0.597" stop-color="#02ff00"/><stop offset="0.6158" stop-color="#2bff00"/><stop offset="0.6217" stop-color="#45ff00"/><stop offset="0.6246" stop-color="#66ff00"/><stop offset="0.6305" stop-color="#b6ff00"/><stop offset="0.6374" stop-color="#eaff00"/><stop offset="0.6424" stop-color="#fdff00"/><stop offset="0.6601" stop-color="#ffec00"/><stop offset="0.87" stop-color="#ffe300"/><stop offset="1" stop-color="#ffe300"/></linearGradient>
<linearGradient id="h43" gradientUnits="userSpaceOnUse" x1="306" x2="1321" y1="0" y2="0"><stop offset="0" stop-color="#ff8b00"/><stop offset="0.2768" stop-color="#ff8f00"/><stop offset="0.334" stop-color="#ffa700"/><stop offset="0.3576" stop-color="#ffc700"/><stop offset="0.3833" stop-color="#fdff00"/><stop offset="0.4177" stop-color="#68ff00"/><stop offset="0.4345" stop-color="#32ff00"/><stop offset="0.4571" stop-color="#01ff00"/><stop offset="0.4897" stop-color="#00ff33"/><stop offset="0.5212" stop-color="#00ff6c"/><stop offset="0.532" stop-color="#00ff73"/><stop offset="0.5547" stop-color="#00ff52"/><stop offset="0.598" stop-color="#02ff00"/><stop offset="0.6158" stop-color="#29ff00"/><stop offset="0.6217" stop-color="#41ff00"/><stop offset="0.6246" stop-color="#60ff00"/><stop offset="0.6305" stop-color="#afff00"/><stop offset="0.6374" stop-color="#e5ff00"/><stop offset="0.6424" stop-color="#faff00"/><stop offset="0.6502" stop-color="#fff700"/><stop offset="0.667" stop-color="#ffed00"/><stop offset="0.8709" stop-color="#ffe300"/><stop offset="1" stop-color="#ffe300"/></linearGradient>
<linearGradient id="h44" gradientUnits="userSpaceOnUse" x1="306" x2="1321" y1="0" y2="0"><stop offset="0" stop-color="#ff8a00"/><stop offset="0.2759" stop-color="#ff8d00"/><stop offset="0.333" stop-color="#ffa600"/><stop offset="0.3567" stop-color="#ffc500"/><stop offset="0.3823" stop-color="#feff00"/><stop offset="0.4187" stop-color="#62ff00"/><stop offset="0.4355" stop-color="#2cff00"/><stop offset="0.4562" stop-color="#00ff01"/><stop offset="0.4916" stop-color="#00ff3b"/><stop offset="0.5222" stop-color="#00ff75"/><stop offset="0.532" stop-color="#00ff7a"/><stop offset="0.5547" stop-color="#00ff57"/><stop offset="0.599" stop-color="#01ff00"/><stop offset="0.6167" stop-color="#29ff00"/><stop offset="0.6217" stop-color="#3dff00"/><stop offset="0.6246" stop-color="#5bff00"/><stop offset="0.6305" stop-color="#a9ff00"/><stop offset="0.6365" stop-color="#d9ff00"/><stop offset="0.6414" stop-color="#f4ff00"/><stop offset="0.6483" stop-color="#fffd00"/><stop offset="0.665" stop-color="#fff000"/><stop offset="0.8512" stop-color="#ffe400"/><stop offset="1" stop-color="#ffe400"/></linearGradient>
<linearGradient id="h45" gradientUnits="userSpaceOnUse" x1="306" x2="1321" y1="0" y2="0"><stop offset="0" stop-color="#ff8900"/><stop offset="0.2759" stop-color="#ff8c00"/><stop offset="0.333" stop-color="#ffa500"/><stop offset="0.3567" stop-color="#ffc600"/><stop offset="0.3823" stop-color="#fcff00"/><stop offset="0.4148" stop-color="#6fff00"/><stop offset="0.4325" stop-color="#32ff00"/><stop offset="0.4542" stop-color="#00ff00"/><stop offset="0.4906" stop-color="#00ff3e"/><stop offset="0.5222" stop-color="#00ff7d"/><stop offset="0.532" stop-color="#00ff82"/><stop offset="0.5547" stop-color="#00ff5d"/><stop offset="0.601" stop-color="#03ff00"/><stop offset="0.6167" stop-color="#26ff00"/><stop offset="0.6227" stop-color="#41ff00"/><stop offset="0.6266" stop-color="#6eff00"/><stop offset="0.6315" stop-color="#adff00"/><stop offset="0.6394" stop-color="#e6ff00"/><stop offset="0.6443" stop-color="#f7ff00"/><stop offset="0.6522" stop-color="#fffb00"/><stop offset="0.6709" stop-color="#fff100"/><stop offset="0.8473" stop-color="#ffe500"/><stop offset="1" stop-color="#ffe400"/></linearGradient>
<linearGradient id="h46" gradientUnits="userSpaceOnUse" x1="306" x2="1321" y1="0" y2="0"><stop offset="0" stop-color="#ff8700"/><stop offset="0.2749" stop-color="#ff8a00"/><stop offset="0.332" stop-color="#ffa400"/><stop offset="0.3557" stop-color="#ffc500"/><stop offset="0.3813" stop-color="#fdff00"/><stop offset="0.4158" stop-color="#68ff00"/><stop offset="0.4335" stop-color="#2dff00"/><stop offset="0.4532" stop-color="#00ff01"/><stop offset="0.4916" stop-color="#00ff46"/><stop offset="0.5232" stop-color="#00ff87"/><stop offset="0.532" stop-color="#00ff8a"/><stop offset="0.5537" stop-color="#00ff65"/><stop offset="0.602" stop-color="#03ff00"/><stop offset="0.6177" stop-color="#27ff00"/><stop offset="0.6227" stop-color="#3dff00"/><stop offset="0.6266" stop-color="#68ff00"/><stop offset="0.6315" stop-color="#a6ff00"/><stop offset="0.6384" stop-color="#daff00"/><stop offset="0.6433" stop-color="#f1ff00"/><stop offset="0.6532" stop-color="#fffd00"/><stop offset="0.6739" stop-color="#fff300"/><stop offset="0.8414" stop-color="#ffe500"/><stop offset="1" stop-color="#ffe500"/></linearGradient>
<linearGradient id="h47" gradientUnits="userSpaceOnUse" x1="306" x2="1321" y1="0" y2="0"><stop offset="0" stop-color="#ff8500"/><stop offset="0.2749" stop-color="#ff8900"/><stop offset="0.331" stop-color="#ffa200"/><stop offset="0.3537" stop-color="#ffc200"/><stop offset="0.3803" stop-color="#feff00"/><stop offset="0.4158" stop-color="#65ff00"/><stop offset="0.4335" stop-color="#2aff00"/><stop offset="0.4522" stop-color="#00ff02"/><stop offset="0.4916" stop-color="#00ff4b"/><stop offset="0.5232" stop-color="#00ff8f"/><stop offset="0.532" stop-color="#00ff93"/><stop offset="0.5537" stop-color="#00ff6b"/><stop offset="0.603" stop-color="#02ff00"/><stop offset="0.6177" stop-color="#24ff00"/><stop offset="0.6227" stop-color="#39ff00"/><stop offset="0.6266" stop-color="#61ff00"/><stop offset="0.6325" stop-color="#a9ff00"/><stop offset="0.6404" stop-color="#dfff00"/><stop offset="0.6453" stop-color="#f2ff00"/><stop offset="0.6571" stop-color="#fffc00"/><stop offset="0.6887" stop-color="#fff300"/><stop offset="0.8542" stop-color="#ffe600"/><stop offset="1" stop-color="#ffe500"/></linearGradient>
<linearGradient id="h48" gradientUnits="userSpaceOnUse" x1="306" x2="1321" y1="0" y2="0"><stop offset="0" stop-color="#ff8400"/><stop offset="0.2739" stop-color="#ff8700"/><stop offset="0.33" stop-color="#ffa100"/><stop offset="0.3527" stop-color="#ffc100"/><stop offset="0.3793" stop-color="#ffff00"/><stop offset="0.4177" stop-color="#5bff00"/><stop offset="0.4355" stop-color="#22ff00"/><stop offset="0.4512" stop-color="#00ff03"/><stop offset="0.4916" stop-color="#00ff51"/><stop offset="0.5222" stop-color="#00ff97"/><stop offset="0.531" stop-color="#00ff9c"/><stop offset="0.5507" stop-color="#00ff79"/><stop offset="0.6039" stop-color="#02ff00"/><stop offset="0.6187" stop-color="#25ff00"/><stop offset="0.6227" stop-color="#36ff00"/><stop offset="0.6266" stop-color="#5bff00"/><stop offset="0.6325" stop-color="#a2ff00"/><stop offset="0.6394" stop-color="#d3ff00"/><stop offset="0.6453" stop-color="#eeff00"/><stop offset="0.6591" stop-color="#fffe00"/><stop offset="0.7015" stop-color="#fff200"/><stop offset="0.866" stop-color="#ffe600"/><stop offset="1" stop-color="#ffe600"/></linearGradient>
<linearGradient id="h49" gradientUnits="userSpaceOnUse" x1="306" x2="1321" y1="0" y2="0"><stop offset="0" stop-color="#ff8200"/><stop offset="0.2739" stop-color="#ff8500"/><stop offset="0.3291" stop-color="#ffa000"/><stop offset="0.3517" stop-color="#ffc000"/><stop offset="0.3793" stop-color="#fcff00"/><stop offset="0.4118" stop-color="#6fff00"/><stop offset="0.4315" stop-color="#2aff00"/><stop offset="0.4493" stop-color="#00ff02"/><stop offset="0.4916" stop-color="#00ff58"/><stop offset="0.5222" stop-color="#00ffa0"/><stop offset="0.53" stop-color="#00ffa6"/><stop offset="0.5468" stop-color="#00ff8a"/><stop offset="0.6049" stop-color="#01ff00"/><stop offset="0.6187" stop-color="#22ff00"/><stop offset="0.6236" stop-color="#39ff00"/><stop offset="0.6286" stop-color="#6dff00"/><stop offset="0.6335" stop-color="#a4ff00"/><stop offset="0.6424" stop-color="#ddff00"/><stop offset="0.6483" stop-color="#efff00"/><stop offset="0.664" stop-color="#fffd00"/><stop offset="0.7764" stop-color="#ffeb00"/><stop offset="1" stop-color="#ffe700"/></linearGradient>
<linearGradient id="h50" gradientUnits="userSpaceOnUse" x1="306" x2="1321" y1="0" y2="0"><stop offset="0" stop-color="#ff8100"/><stop offset="0.2729" stop-color="#ff8400"/><stop offset="0.3281" stop-color="#ff9f00"/><stop offset="0.3507" stop-color="#ffbf00"/><stop offset="0.3783" stop-color="#feff00"/><stop offset="0.4138" stop-color="#65ff00"/><stop offset="0.4325" stop-color="#25ff00"/><stop offset="0.4483" stop-color="#00ff02"/><stop offset="0.4916" stop-color="#00ff5d"/><stop offset="0.5212" stop-color="#00ffa6"/><stop offset="0.53" stop-color="#00ffad"/><stop offset="0.5468" stop-color="#00ff90"/><stop offset="0.6059" stop-color="#01ff00"/><stop offset="0.6197" stop-color="#23ff00"/><stop offset="0.6236" stop-color="#36ff00"/><stop offset="0.6286" stop-color="#68ff00"/><stop offset="0.6345" stop-color="#a7ff00"/><stop offset="0.6433" stop-color="#dcff00"/><stop offset="0.6493" stop-color="#eeff00"/><stop offset="0.666" stop-color="#fffe00"/><stop offset="0.7833" stop-color="#ffeb00"/><stop offset="1" stop-color="#ffe700"/></linearGradient>
<linearGradient id="h51" gradientUnits="userSpaceOnUse" x1="306" x2="1321" y1="0" y2="0"><stop offset="0" stop-color="#ff8100"/><stop offset="0.2719" stop-color="#ff8300"/><stop offset="0.3271" stop-color="#ff9e00"/><stop offset="0.3498" stop-color="#ffbd00"/><stop offset="0.3754" stop-color="#fff900"/><stop offset="0.3783" stop-color="#fcff00"/><stop offset="0.4118" stop-color="#6bff00"/><stop offset="0.4315" stop-color="#26ff00"/><stop offset="0.4473" stop-color="#00ff02"/><stop offset="0.4916" stop-color="#00ff61"/><stop offset="0.5212" stop-color="#00ffab"/><stop offset="0.5291" stop-color="#00ffb2"/><stop offset="0.5419" stop-color="#00ff9e"/><stop offset="0.6059" stop-color="#00ff01"/><stop offset="0.6187" stop-color="#1eff00"/><stop offset="0.6236" stop-color="#34ff00"/><stop offset="0.6286" stop-color="#65ff00"/><stop offset="0.6345" stop-color="#a3ff00"/><stop offset="0.6433" stop-color="#d9ff00"/><stop offset="0.6493" stop-color="#ecff00"/><stop offset="0.668" stop-color="#fffe00"/><stop offset="0.7911" stop-color="#ffeb00"/><stop offset="1" stop-color="#ffe700"/></linearGradient>
<linearGradient id="h52" gradientUnits="userSpaceOnUse" x1="306" x2="1321" y1="0" y2="0"><stop offset="0" stop-color="#ff8000"/><stop offset="0.2719" stop-color="#ff8200"/><stop offset="0.3261" stop-color="#ff9d00"/><stop offset="0.3488" stop-color="#ffbc00"/><stop offset="0.3744" stop-color="#fff700"/><stop offset="0.3783" stop-color="#fbff00"/><stop offset="0.4089" stop-color="#75ff00"/><stop offset="0.4296" stop-color="#2aff00"/><stop offset="0.4463" stop-color="#00ff01"/><stop offset="0.4916" stop-color="#00ff64"/><stop offset="0.5202" stop-color="#00ffae"/><stop offset="0.5291" stop-color="#00ffb7"/><stop offset="0.5419" stop-color="#00ffa3"/><stop offset="0.6069" stop-color="#00ff00"/><stop offset="0.6197" stop-color="#20ff00"/><stop offset="0.6236" stop-color="#33ff00"/><stop offset="0.6286" stop-color="#61ff00"/><stop offset="0.6345" stop-color="#a0ff00"/><stop offset="0.6433" stop-color="#d6ff00"/><stop offset="0.6493" stop-color="#e9ff00"/><stop offset="0.669" stop-color="#ffff00"/><stop offset="0.7911" stop-color="#ffec00"/><stop offset="1" stop-color="#ffe800"/></linearGradient>
<linearGradient id="h53" gradientUnits="userSpaceOnUse" x1="306" x2="1321" y1="0" y2="0"><stop offset="0" stop-color="#ff7f00"/><stop offset="0.2709" stop-color="#ff8100"/><stop offset="0.3251" stop-color="#ff9c00"/><stop offset="0.3478" stop-color="#ffbb00"/><stop offset="0.3734" stop-color="#fff600"/><stop offset="0.3773" stop-color="#fdff00"/><stop offset="0.4118" stop-color="#68ff00"/><stop offset="0.4315" stop-color="#23ff00"/><stop offset="0.4453" stop-color="#00ff01"/><stop offset="0.4906" stop-color="#00ff66"/><stop offset="0.5202" stop-color="#00ffb3"/><stop offset="0.5291" stop-color="#00ffbc"/><stop offset="0.5419" stop-color="#00ffa8"/><stop offset="0.6069" stop-color="#00ff02"/><stop offset="0.6187" stop-color="#1cff00"/><stop offset="0.6236" stop-color="#31ff00"/><stop offset="0.6286" stop-color="#5eff00"/><stop offset="0.6345" stop-color="#9cff00"/><stop offset="0.6433" stop-color="#d2ff00"/><stop offset="0.6493" stop-color="#e7ff00"/><stop offset="0.67" stop-color="#ffff00"/><stop offset="0.798" stop-color="#ffeb00"/><stop offset="1" stop-color="#ffe800"/></linearGradient>
<linearGradient id="h54" gradientUnits="userSpaceOnUse" x1="306" x2="1321" y1="0" y2="0"><stop offset="0" stop-color="#ff7e00"/><stop offset="0.2709" stop-color="#ff8000"/><stop offset="0.3251" stop-color="#ff9c00"/><stop offset="0.3478" stop-color="#ffbc00"/><stop offset="0.3734" stop-color="#fff700"/><stop offset="0.3773" stop-color="#fcff00"/><stop offset="0.4099" stop-color="#6eff00"/><stop offset="0.4305" stop-color="#24ff00"/><stop offset="0.4453" stop-color="#00ff03"/><stop offset="0.4906" stop-color="#00ff6a"/><stop offset="0.5192" stop-color="#00ffb6"/><stop offset="0.5281" stop-color="#00ffc2"/><stop offset="0.5389" stop-color="#00ffb3"/><stop offset="0.5586" stop-color="#00ff82"/><stop offset="0.6069" stop-color="#00ff03"/><stop offset="0.6158" stop-color="#11ff00"/><stop offset="0.6236" stop-color="#2fff00"/><stop offset="0.6286" stop-color="#5bff00"/><stop offset="0.6355" stop-color="#a0ff00"/><stop offset="0.6453" stop-color="#d8ff00"/><stop offset="0.6522" stop-color="#eaff00"/><stop offset="0.6729" stop-color="#ffff00"/><stop offset="0.802" stop-color="#ffec00"/><stop offset="1" stop-color="#ffe800"/></linearGradient>
<linearGradient id="h55" gradientUnits="userSpaceOnUse" x1="306" x2="1321" y1="0" y2="0"><stop offset="0" stop-color="#ff7e00"/><stop offset="0.27" stop-color="#ff7f00"/><stop offset="0.3241" stop-color="#ff9c00"/><stop offset="0.3468" stop-color="#ffba00"/><stop offset="0.3724" stop-color="#fff500"/><stop offset="0.3773" stop-color="#faff00"/><stop offset="0.4079" stop-color="#75ff00"/><stop offset="0.4296" stop-color="#25ff00"/><stop offset="0.4443" stop-color="#00ff02"/><stop offset="0.4897" stop-color="#00ff6c"/><stop offset="0.5182" stop-color="#00ffb9"/><stop offset="0.5271" stop-color="#00ffc7"/><stop offset="0.5369" stop-color="#00ffbc"/><stop offset="0.5567" stop-color="#00ff8c"/><stop offset="0.6069" stop-color="#00ff05"/><stop offset="0.6128" stop-color="#08ff00"/><stop offset="0.6227" stop-color="#28ff00"/><stop offset="0.6276" stop-color="#4eff00"/><stop offset="0.6355" stop-color="#9cff00"/><stop offset="0.6453" stop-color="#d4ff00"/><stop offset="0.6522" stop-color="#e8ff00"/><stop offset="0.6729" stop-color="#feff00"/><stop offset="0.8108" stop-color="#ffeb00"/><stop offset="1" stop-color="#ffe900"/></linearGradient>
<linearGradient id="h56" gradientUnits="userSpaceOnUse" x1="306" x2="1321" y1="0" y2="0"><stop offset="0" stop-color="#ff7d00"/><stop offset="0.269" stop-color="#ff7d00"/><stop offset="0.3222" stop-color="#ff9a00"/><stop offset="0.3448" stop-color="#ffb700"/><stop offset="0.3704" stop-color="#fff100"/><stop offset="0.3764" stop-color="#fcff00"/><stop offset="0.4108" stop-color="#67ff00"/><stop offset="0.4315" stop-color="#1eff00"/><stop offset="0.4433" stop-color="#00ff02"/><stop offset="0.4897" stop-color="#00ff70"/><stop offset="0.5172" stop-color="#00ffbd"/><stop offset="0.5271" stop-color="#00ffcc"/><stop offset="0.5369" stop-color="#00ffc1"/><stop offset="0.5567" stop-color="#00ff90"/><stop offset="0.6059" stop-color="#00ff08"/><stop offset="0.6118" stop-color="#04ff00"/><stop offset="0.6227" stop-color="#26ff00"/><stop offset="0.6276" stop-color="#4cff00"/><stop offset="0.6355" stop-color="#99ff00"/><stop offset="0.6453" stop-color="#d1ff00"/><stop offset="0.6522" stop-color="#e6ff00"/><stop offset="0.6729" stop-color="#fdff00"/><stop offset="0.8177" stop-color="#ffeb00"/><stop offset="1" stop-color="#ffe900"/></linearGradient>
<linearGradient id="h57" gradientUnits="userSpaceOnUse" x1="306" x2="1321" y1="0" y2="0"><stop offset="0" stop-color="#ff7c00"/><stop offset="0.269" stop-color="#ff7c00"/><stop offset="0.3212" stop-color="#ff9900"/><stop offset="0.3448" stop-color="#ffb800"/><stop offset="0.3704" stop-color="#fff200"/><stop offset="0.3764" stop-color="#fbff00"/><stop offset="0.4079" stop-color="#71ff00"/><stop offset="0.4296" stop-color="#22ff00"/><stop offset="0.4424" stop-color="#00ff01"/><stop offset="0.4897" stop-color="#00ff75"/><stop offset="0.5163" stop-color="#00ffc0"/><stop offset="0.5261" stop-color="#00ffd2"/><stop offset="0.535" stop-color="#00ffcb"/><stop offset="0.5547" stop-color="#00ff9b"/><stop offset="0.6059" stop-color="#00ff0a"/><stop offset="0.6118" stop-color="#03ff00"/><stop offset="0.6227" stop-color="#25ff00"/><stop offset="0.6276" stop-color="#49ff00"/><stop offset="0.6365" stop-color="#9cff00"/><stop offset="0.6473" stop-color="#d6ff00"/><stop offset="0.6552" stop-color="#e8ff00"/><stop offset="0.6759" stop-color="#feff00"/><stop offset="0.8187" stop-color="#ffec00"/><stop offset="1" stop-color="#ffe900"/></linearGradient>
<linearGradient id="h58" gradientUnits="userSpaceOnUse" x1="306" x2="1321" y1="0" y2="0"><stop offset="0" stop-color="#ff7b00"/><stop offset="0.268" stop-color="#ff7a00"/><stop offset="0.3192" stop-color="#ff9800"/><stop offset="0.3429" stop-color="#ffb500"/><stop offset="0.3685" stop-color="#ffee00"/><stop offset="0.3754" stop-color="#fdff00"/><stop offset="0.4118" stop-color="#5fff00"/><stop offset="0.4325" stop-color="#17ff00"/><stop offset="0.4424" stop-color="#00ff03"/><stop offset="0.4887" stop-color="#00ff77"/><stop offset="0.5153" stop-color="#00ffc3"/><stop offset="0.5261" stop-color="#00ffd7"/><stop offset="0.535" stop-color="#00ffd0"/><stop offset="0.5547" stop-color="#00ffa0"/><stop offset="0.6049" stop-color="#00ff0e"/><stop offset="0.6128" stop-color="#04ff00"/><stop offset="0.6227" stop-color="#23ff00"/><stop offset="0.6276" stop-color="#47ff00"/><stop offset="0.6365" stop-color="#99ff00"/><stop offset="0.6473" stop-color="#d2ff00"/><stop offset="0.6552" stop-color="#e6ff00"/><stop offset="0.6759" stop-color="#fdff00"/><stop offset="0.8236" stop-color="#ffec00"/><stop offset="1" stop-color="#ffe900"/></linearGradient>
<linearGradient id="h59" gradientUnits="userSpaceOnUse" x1="306" x2="1321" y1="0" y2="0"><stop offset="0" stop-color="#ff7b00"/><stop offset="0.267" stop-color="#ff7900"/><stop offset="0.3172" stop-color="#ff9600"/><stop offset="0.3409" stop-color="#ffb300"/><stop offset="0.3665" stop-color="#ffea00"/><stop offset="0.3754" stop-color="#fbff00"/><stop offset="0.4089" stop-color="#6aff00"/><stop offset="0.4305" stop-color="#1bff00"/><stop offset="0.4414" stop-color="#00ff03"/><stop offset="0.4877" stop-color="#00ff79"/><stop offset="0.5143" stop-color="#00ffc7"/><stop offset="0.5261" stop-color="#00ffdd"/><stop offset="0.535" stop-color="#00ffd6"/><stop offset="0.5547" stop-color="#00ffa6"/><stop offset="0.6049" stop-color="#00ff10"/><stop offset="0.6128" stop-color="#02ff00"/><stop offset="0.6227" stop-color="#22ff00"/><stop offset="0.6276" stop-color="#44ff00"/><stop offset="0.6365" stop-color="#95ff00"/><stop offset="0.6463" stop-color="#caff00"/><stop offset="0.6542" stop-color="#e2ff00"/><stop offset="0.6759" stop-color="#fcff00"/><stop offset="0.8276" stop-color="#ffec00"/><stop offset="1" stop-color="#ffea00"/></linearGradient>
<linearGradient id="h60" gradientUnits="userSpaceOnUse" x1="306" x2="1321" y1="0" y2="0"><stop offset="0" stop-color="#ff7a00"/><stop offset="0.266" stop-color="#ff7700"/><stop offset="0.3143" stop-color="#ff9300"/><stop offset="0.3389" stop-color="#ffb000"/><stop offset="0.3645" stop-color="#ffe600"/><stop offset="0.3744" stop-color="#fdff00"/><stop offset="0.4128" stop-color="#58ff00"/><stop offset="0.4335" stop-color="#10ff00"/><stop offset="0.4404" stop-color="#00ff03"/><stop offset="0.4877" stop-color="#00ff7f"/><stop offset="0.5133" stop-color="#00ffcb"/><stop offset="0.5251" stop-color="#00ffe2"/><stop offset="0.534" stop-color="#00ffde"/><stop offset="0.5547" stop-color="#00ffac"/><stop offset="0.6049" stop-color="#00ff12"/><stop offset="0.6138" stop-color="#03ff00"/><stop offset="0.6236" stop-color="#25ff00"/><stop offset="0.6296" stop-color="#53ff00"/><stop offset="0.6374" stop-color="#98ff00"/><stop offset="0.6483" stop-color="#cfff00"/><stop offset="0.6562" stop-color="#e3ff00"/><stop offset="0.6778" stop-color="#fdff00"/><stop offset="0.8276" stop-color="#ffec00"/><stop offset="1" stop-color="#ffea00"/></linearGradient>
<linearGradient id="h61" gradientUnits="userSpaceOnUse" x1="306" x2="1321" y1="0" y2="0"><stop offset="0" stop-color="#ff7900"/><stop offset="0.2128" stop-color="#ff7400"/><stop offset="0.268" stop-color="#ff7500"/><stop offset="0.3172" stop-color="#ff9600"/><stop offset="0.3419" stop-color="#ffb600"/><stop offset="0.3675" stop-color="#ffef00"/><stop offset="0.3744" stop-color="#fcff00"/><stop offset="0.4118" stop-color="#5aff00"/><stop offset="0.4325" stop-color="#11ff00"/><stop offset="0.4394" stop-color="#00ff03"/><stop offset="0.4867" stop-color="#00ff83"/><stop offset="0.5113" stop-color="#00ffce"/><stop offset="0.5251" stop-color="#00ffe9"/><stop offset="0.534" stop-color="#00ffe4"/><stop offset="0.5547" stop-color="#00ffb3"/><stop offset="0.6039" stop-color="#00ff16"/><stop offset="0.6148" stop-color="#03ff00"/><stop offset="0.6236" stop-color="#23ff00"/><stop offset="0.6296" stop-color="#50ff00"/><stop offset="0.6374" stop-color="#94ff00"/><stop offset="0.6483" stop-color="#cbff00"/><stop offset="0.6571" stop-color="#e2ff00"/><stop offset="0.6788" stop-color="#fcff00"/><stop offset="0.8296" stop-color="#ffec00"/><stop offset="1" stop-color="#ffea00"/></linearGradient>
<linearGradient id="h62" gradientUnits="userSpaceOnUse" x1="306" x2="1321" y1="0" y2="0"><stop offset="0" stop-color="#ff7900"/><stop offset="0.201" stop-color="#ff7300"/><stop offset="0.265" stop-color="#ff7200"/><stop offset="0.3103" stop-color="#ff9000"/><stop offset="0.336" stop-color="#ffad00"/><stop offset="0.3616" stop-color="#ffe100"/><stop offset="0.3734" stop-color="#fdff00"/><stop offset="0.4158" stop-color="#48ff00"/><stop offset="0.4355" stop-color="#05ff00"/><stop offset="0.4394" stop-color="#00ff06"/><stop offset="0.4847" stop-color="#00ff85"/><stop offset="0.5103" stop-color="#00ffd4"/><stop offset="0.5251" stop-color="#00fff1"/><stop offset="0.534" stop-color="#00ffec"/><stop offset="0.5547" stop-color="#00ffbc"/><stop offset="0.6039" stop-color="#00ff19"/><stop offset="0.6148" stop-color="#01ff00"/><stop offset="0.6236" stop-color="#21ff00"/><stop offset="0.6305" stop-color="#55ff00"/><stop offset="0.6384" stop-color="#96ff00"/><stop offset="0.6502" stop-color="#ceff00"/><stop offset="0.6611" stop-color="#e6ff00"/><stop offset="0.6818" stop-color="#fdff00"/><stop offset="0.8286" stop-color="#ffed00"/><stop offset="1" stop-color="#ffeb00"/></linearGradient>
<linearGradient id="h63" gradientUnits="userSpaceOnUse" x1="306" x2="1321" y1="0" y2="0"><stop offset="0" stop-color="#ff7800"/><stop offset="0.1921" stop-color="#ff7300"/><stop offset="0.2631" stop-color="#ff7000"/><stop offset="0.3054" stop-color="#ff8b00"/><stop offset="0.334" stop-color="#ffaa00"/><stop offset="0.3596" stop-color="#ffdd00"/><stop offset="0.3724" stop-color="#ffff00"/><stop offset="0.4177" stop-color="#3dff00"/><stop offset="0.4355" stop-color="#02ff00"/><stop offset="0.4739" stop-color="#00ff6c"/><stop offset="0.5094" stop-color="#00ffdc"/><stop offset="0.5241" stop-color="#00fff8"/><stop offset="0.533" stop-color="#00fff6"/><stop offset="0.5537" stop-color="#00ffc9"/><stop offset="0.5823" stop-color="#00ff68"/><stop offset="0.602" stop-color="#00ff21"/><stop offset="0.6158" stop-color="#02ff00"/><stop offset="0.6236" stop-color="#1eff00"/><stop offset="0.6305" stop-color="#51ff00"/><stop offset="0.6384" stop-color="#92ff00"/><stop offset="0.6493" stop-color="#c5ff00"/><stop offset="0.6591" stop-color="#dfff00"/><stop offset="0.6808" stop-color="#fbff00"/><stop offset="0.7182" stop-color="#fff900"/><stop offset="0.866" stop-color="#ffec00"/><stop offset="1" stop-color="#ffeb00"/></linearGradient>
<linearGradient id="h64" gradientUnits="userSpaceOnUse" x1="306" x2="1321" y1="0" y2="0"><stop offset="0" stop-color="#ff7700"/><stop offset="0.1852" stop-color="#ff7200"/><stop offset="0.2611" stop-color="#ff6d00"/><stop offset="0.3005" stop-color="#ff8600"/><stop offset="0.333" stop-color="#ffa900"/><stop offset="0.3586" stop-color="#ffdc00"/><stop offset="0.3724" stop-color="#fdff00"/><stop offset="0.4177" stop-color="#3aff00"/><stop offset="0.4345" stop-color="#01ff00"/><stop offset="0.466" stop-color="#00ff5b"/><stop offset="0.5074" stop-color="#00ffe2"/><stop offset="0.5232" stop-color="#00feff"/><stop offset="0.535" stop-color="#00fffc"/><stop offset="0.5547" stop-color="#00ffd1"/><stop offset="0.5773" stop-color="#00ff83"/><stop offset="0.601" stop-color="#00ff27"/><stop offset="0.6167" stop-color="#02ff00"/><stop offset="0.6246" stop-color="#21ff00"/><stop offset="0.6335" stop-color="#67ff00"/><stop offset="0.6404" stop-color="#99ff00"/><stop offset="0.6532" stop-color="#cdff00"/><stop offset="0.6709" stop-color="#eeff00"/><stop offset="0.6906" stop-color="#ffff00"/><stop offset="0.8246" stop-color="#ffee00"/><stop offset="1" stop-color="#ffeb00"/></linearGradient>
<linearGradient id="h65" gradientUnits="userSpaceOnUse" x1="306" x2="1321" y1="0" y2="0"><stop offset="0" stop-color="#ff7600"/><stop offset="0.1803" stop-color="#ff7100"/><stop offset="0.2591" stop-color="#ff6a00"/><stop offset="0.2956" stop-color="#ff8100"/><stop offset="0.331" stop-color="#ffa700"/><stop offset="0.3576" stop-color="#ffdb00"/><stop offset="0.3714" stop-color="#feff00"/><stop offset="0.4187" stop-color="#33ff00"/><stop offset="0.4335" stop-color="#00ff00"/><stop offset="0.4611" stop-color="#00ff53"/><stop offset="0.5034" stop-color="#00ffe3"/><stop offset="0.5172" stop-color="#00feff"/><stop offset="0.5281" stop-color="#00f3ff"/><stop offset="0.5399" stop-color="#00fffd"/><stop offset="0.5567" stop-color="#00ffd7"/><stop offset="0.5754" stop-color="#00ff95"/><stop offset="0.601" stop-color="#00ff2a"/><stop offset="0.6177" stop-color="#02ff00"/><stop offset="0.6246" stop-color="#1eff00"/><stop offset="0.6404" stop-color="#94ff00"/><stop offset="0.6532" stop-color="#c8ff00"/><stop offset="0.669" stop-color="#e8ff00"/><stop offset="0.6897" stop-color="#feff00"/><stop offset="0.8325" stop-color="#ffee00"/><stop offset="1" stop-color="#ffec00"/></linearGradient>
<linearGradient id="h66" gradientUnits="userSpaceOnUse" x1="306" x2="1321" y1="0" y2="0"><stop offset="0" stop-color="#ff7600"/><stop offset="0.1754" stop-color="#ff7100"/><stop offset="0.2571" stop-color="#ff6700"/><stop offset="0.2916" stop-color="#ff7c00"/><stop offset="0.33" stop-color="#ffa600"/><stop offset="0.3567" stop-color="#ffda00"/><stop offset="0.3714" stop-color="#fdff00"/><stop offset="0.4187" stop-color="#2fff00"/><stop offset="0.4325" stop-color="#00ff01"/><stop offset="0.4571" stop-color="#00ff4c"/><stop offset="0.4975" stop-color="#00ffde"/><stop offset="0.5103" stop-color="#00ffff"/><stop offset="0.5261" stop-color="#00eaff"/><stop offset="0.5379" stop-color="#00f3ff"/><stop offset="0.5468" stop-color="#00fffb"/><stop offset="0.5616" stop-color="#00ffd4"/><stop offset="0.5773" stop-color="#00ff98"/><stop offset="0.6" stop-color="#00ff30"/><stop offset="0.6187" stop-color="#03ff00"/><stop offset="0.6256" stop-color="#21ff00"/><stop offset="0.6404" stop-color="#8fff00"/><stop offset="0.6522" stop-color="#c0ff00"/><stop offset="0.665" stop-color="#ddff00"/><stop offset="0.6877" stop-color="#fcff00"/><stop offset="0.7468" stop-color="#fff600"/><stop offset="0.9232" stop-color="#ffed00"/><stop offset="1" stop-color="#ffec00"/></linearGradient>
<linearGradient id="h67" gradientUnits="userSpaceOnUse" x1="306" x2="1321" y1="0" y2="0"><stop offset="0" stop-color="#ff7500"/><stop offset="0.1724" stop-color="#ff7000"/><stop offset="0.2552" stop-color="#ff6400"/><stop offset="0.2877" stop-color="#ff7700"/><stop offset="0.3291" stop-color="#ffa600"/><stop offset="0.3567" stop-color="#ffdc00"/><stop offset="0.3704" stop-color="#feff00"/><stop offset="0.4197" stop-color="#28ff00"/><stop offset="0.4315" stop-color="#00ff01"/><stop offset="0.4552" stop-color="#00ff4b"/><stop offset="0.4936" stop-color="#00ffdf"/><stop offset="0.5044" stop-color="#00ffff"/><stop offset="0.5232" stop-color="#00e3ff"/><stop offset="0.535" stop-color="#00e5ff"/><stop offset="0.5517" stop-color="#00fffd"/><stop offset="0.5685" stop-color="#00ffca"/><stop offset="0.5872" stop-color="#00ff73"/><stop offset="0.599" stop-color="#00ff38"/><stop offset="0.6187" stop-color="#00ff00"/><stop offset="0.6256" stop-color="#1eff00"/><stop offset="0.6404" stop-color="#8aff00"/><stop offset="0.6512" stop-color="#b7ff00"/><stop offset="0.664" stop-color="#d7ff00"/><stop offset="0.6877" stop-color="#faff00"/><stop offset="0.7084" stop-color="#fffd00"/><stop offset="0.8493" stop-color="#ffee00"/><stop offset="1" stop-color="#ffec00"/></linearGradient>
<linearGradient id="h68" gradientUnits="userSpaceOnUse" x1="306" x2="1321" y1="0" y2="0"><stop offset="0" stop-color="#ff7400"/><stop offset="0.1685" stop-color="#ff6f00"/><stop offset="0.2542" stop-color="#ff6100"/><stop offset="0.2847" stop-color="#ff7300"/><stop offset="0.3281" stop-color="#ffa500"/><stop offset="0.3557" stop-color="#ffdb00"/><stop offset="0.3704" stop-color="#fcff00"/><stop offset="0.4207" stop-color="#21ff00"/><stop offset="0.4305" stop-color="#00ff02"/><stop offset="0.4532" stop-color="#00ff4a"/><stop offset="0.4906" stop-color="#00ffe3"/><stop offset="0.5005" stop-color="#00fcff"/><stop offset="0.5163" stop-color="#00e0ff"/><stop offset="0.53" stop-color="#00d8ff"/><stop offset="0.5488" stop-color="#00efff"/><stop offset="0.5567" stop-color="#00fffd"/><stop offset="0.5714" stop-color="#00ffcb"/><stop offset="0.5882" stop-color="#00ff75"/><stop offset="0.599" stop-color="#00ff3c"/><stop offset="0.6197" stop-color="#01ff00"/><stop offset="0.6266" stop-color="#22ff00"/><stop offset="0.6414" stop-color="#8bff00"/><stop offset="0.6532" stop-color="#b9ff00"/><stop offset="0.669" stop-color="#dcff00"/><stop offset="0.6916" stop-color="#fbff00"/><stop offset="0.7232" stop-color="#fffa00"/><stop offset="0.8729" stop-color="#ffee00"/><stop offset="1" stop-color="#ffed00"/></linearGradient>
<linearGradient id="h69" gradientUnits="userSpaceOnUse" x1="306" x2="1321" y1="0" y2="0"><stop offset="0" stop-color="#ff7300"/><stop offset="0.1665" stop-color="#ff6e00"/><stop offset="0.2532" stop-color="#ff5f00"/><stop offset="0.2828" stop-color="#ff7000"/><stop offset="0.3281" stop-color="#ffa500"/><stop offset="0.3557" stop-color="#ffdc00"/><stop offset="0.3695" stop-color="#fdff00"/><stop offset="0.4217" stop-color="#1aff00"/><stop offset="0.4296" stop-color="#00ff02"/><stop offset="0.4522" stop-color="#00ff4c"/><stop offset="0.4897" stop-color="#00ffed"/><stop offset="0.4956" stop-color="#00feff"/><stop offset="0.5074" stop-color="#00e2ff"/><stop offset="0.5261" stop-color="#00cfff"/><stop offset="0.5409" stop-color="#00d8ff"/><stop offset="0.5557" stop-color="#00f1ff"/><stop offset="0.5616" stop-color="#00fffc"/><stop offset="0.5734" stop-color="#00ffce"/><stop offset="0.5882" stop-color="#00ff7d"/><stop offset="0.599" stop-color="#00ff3f"/><stop offset="0.6128" stop-color="#00ff16"/><stop offset="0.6207" stop-color="#02ff00"/><stop offset="0.6276" stop-color="#25ff00"/><stop offset="0.6414" stop-color="#86ff00"/><stop offset="0.6512" stop-color="#aeff00"/><stop offset="0.666" stop-color="#d2ff00"/><stop offset="0.6916" stop-color="#f9ff00"/><stop offset="0.7103" stop-color="#fffd00"/><stop offset="0.8512" stop-color="#ffef00"/><stop offset="1" stop-color="#ffed00"/></linearGradient>
<linearGradient id="h70" gradientUnits="userSpaceOnUse" x1="306" x2="1321" y1="0" y2="0"><stop offset="0" stop-color="#ff7300"/><stop offset="0.1635" stop-color="#ff6e00"/><stop offset="0.2522" stop-color="#ff5d00"/><stop offset="0.2798" stop-color="#ff6c00"/><stop offset="0.3271" stop-color="#ffa500"/><stop offset="0.3557" stop-color="#ffde00"/><stop offset="0.3685" stop-color="#feff00"/><stop offset="0.4227" stop-color="#13ff00"/><stop offset="0.4286" stop-color="#00ff03"/><stop offset="0.4512" stop-color="#00ff4e"/><stop offset="0.4877" stop-color="#00fff3"/><stop offset="0.4926" stop-color="#00faff"/><stop offset="0.5054" stop-color="#00daff"/><stop offset="0.5251" stop-color="#00c6ff"/><stop offset="0.5409" stop-color="#00ceff"/><stop offset="0.5557" stop-color="#00e5ff"/><stop offset="0.5655" stop-color="#00fffc"/><stop offset="0.5754" stop-color="#00ffd0"/><stop offset="0.5882" stop-color="#00ff85"/><stop offset="0.598" stop-color="#00ff48"/><stop offset="0.6089" stop-color="#00ff23"/><stop offset="0.6217" stop-color="#03ff00"/><stop offset="0.6296" stop-color="#30ff00"/><stop offset="0.6424" stop-color="#87ff00"/><stop offset="0.6532" stop-color="#afff00"/><stop offset="0.6709" stop-color="#d7ff00"/><stop offset="0.6956" stop-color="#faff00"/><stop offset="0.7202" stop-color="#fffc00"/><stop offset="0.867" stop-color="#ffef00"/><stop offset="1" stop-color="#ffed00"/></linearGradient>
<linearGradient id="h71" gradientUnits="userSpaceOnUse" x1="306" x2="1321" y1="0" y2="0"><stop offset="0" stop-color="#ff7200"/><stop offset="0.1626" stop-color="#ff6d00"/><stop offset="0.2512" stop-color="#ff5a00"/><stop offset="0.2778" stop-color="#ff6900"/><stop offset="0.3261" stop-color="#ffa400"/><stop offset="0.3547" stop-color="#ffdd00"/><stop offset="0.3685" stop-color="#fcff00"/><stop offset="0.4227" stop-color="#10ff00"/><stop offset="0.4276" stop-color="#00ff02"/><stop offset="0.4502" stop-color="#00ff4f"/><stop offset="0.4867" stop-color="#00fffc"/><stop offset="0.5034" stop-color="#00d2ff"/><stop offset="0.5241" stop-color="#00beff"/><stop offset="0.5409" stop-color="#00c5ff"/><stop offset="0.5567" stop-color="#00dcff"/><stop offset="0.5685" stop-color="#00fffd"/><stop offset="0.5793" stop-color="#00ffc5"/><stop offset="0.5901" stop-color="#00ff7f"/><stop offset="0.599" stop-color="#00ff47"/><stop offset="0.6118" stop-color="#00ff1e"/><stop offset="0.6217" stop-color="#01ff00"/><stop offset="0.6296" stop-color="#2dff00"/><stop offset="0.6424" stop-color="#82ff00"/><stop offset="0.6522" stop-color="#a8ff00"/><stop offset="0.67" stop-color="#d1ff00"/><stop offset="0.6966" stop-color="#f9ff00"/><stop offset="0.7163" stop-color="#fffd00"/><stop offset="0.8591" stop-color="#fff000"/><stop offset="1" stop-color="#ffee00"/></linearGradient>
<linearGradient id="h72" gradientUnits="userSpaceOnUse" x1="306" x2="1321" y1="0" y2="0"><stop offset="0" stop-color="#ff7200"/><stop offset="0.1606" stop-color="#ff6d00"/><stop offset="0.2502" stop-color="#ff5900"/><stop offset="0.2759" stop-color="#ff6600"/><stop offset="0.3241" stop-color="#ffa100"/><stop offset="0.3537" stop-color="#ffdc00"/><stop offset="0.3675" stop-color="#feff00"/><stop offset="0.4236" stop-color="#0aff00"/><stop offset="0.4276" stop-color="#00ff05"/><stop offset="0.4502" stop-color="#00ff55"/><stop offset="0.4847" stop-color="#00feff"/><stop offset="0.4995" stop-color="#00cfff"/><stop offset="0.5172" stop-color="#00b9ff"/><stop offset="0.534" stop-color="#00b7ff"/><stop offset="0.5547" stop-color="#00cdff"/><stop offset="0.5685" stop-color="#00f5ff"/><stop offset="0.5714" stop-color="#00fffc"/><stop offset="0.5862" stop-color="#00ffa3"/><stop offset="0.597" stop-color="#00ff56"/><stop offset="0.6059" stop-color="#00ff31"/><stop offset="0.6217" stop-color="#00ff00"/><stop offset="0.6296" stop-color="#2aff00"/><stop offset="0.6433" stop-color="#82ff00"/><stop offset="0.6542" stop-color="#a9ff00"/><stop offset="0.6729" stop-color="#d3ff00"/><stop offset="0.6985" stop-color="#f9ff00"/><stop offset="0.7182" stop-color="#fffd00"/><stop offset="0.8611" stop-color="#fff000"/><stop offset="1" stop-color="#ffee00"/></linearGradient>
<linearGradient id="h73" gradientUnits="userSpaceOnUse" x1="306" x2="1321" y1="0" y2="0"><stop offset="0" stop-color="#ff7100"/><stop offset="0.1596" stop-color="#ff6c00"/><stop offset="0.2502" stop-color="#ff5700"/><stop offset="0.2759" stop-color="#ff6500"/><stop offset="0.3251" stop-color="#ffa400"/><stop offset="0.3547" stop-color="#ffe000"/><stop offset="0.3675" stop-color="#fcff00"/><stop offset="0.4246" stop-color="#04ff00"/><stop offset="0.4286" stop-color="#00ff0b"/><stop offset="0.4493" stop-color="#00ff55"/><stop offset="0.4818" stop-color="#00fffd"/><stop offset="0.4975" stop-color="#00caff"/><stop offset="0.5103" stop-color="#00b7ff"/><stop offset="0.53" stop-color="#00aeff"/><stop offset="0.5527" stop-color="#00c0ff"/><stop offset="0.5655" stop-color="#00e1ff"/><stop offset="0.5734" stop-color="#00fffc"/><stop offset="0.5872" stop-color="#00ffa3"/><stop offset="0.597" stop-color="#00ff5a"/><stop offset="0.6059" stop-color="#00ff34"/><stop offset="0.6227" stop-color="#03ff00"/><stop offset="0.6335" stop-color="#42ff00"/><stop offset="0.6443" stop-color="#83ff00"/><stop offset="0.6571" stop-color="#aeff00"/><stop offset="0.6808" stop-color="#ddff00"/><stop offset="0.7034" stop-color="#fcff00"/><stop offset="0.7931" stop-color="#fff300"/><stop offset="1" stop-color="#ffee00"/></linearGradient>
<linearGradient id="h74" gradientUnits="userSpaceOnUse" x1="306" x2="1321" y1="0" y2="0"><stop offset="0" stop-color="#ff7000"/><stop offset="0.1586" stop-color="#ff6b00"/><stop offset="0.2502" stop-color="#ff5600"/><stop offset="0.2759" stop-color="#ff6400"/><stop offset="0.3251" stop-color="#ffa500"/><stop offset="0.3547" stop-color="#ffe100"/><stop offset="0.3665" stop-color="#fdff00"/><stop offset="0.4246" stop-color="#03ff00"/><stop offset="0.4483" stop-color="#00ff56"/><stop offset="0.4788" stop-color="#00fff7"/><stop offset="0.4818" stop-color="#00f8ff"/><stop offset="0.4936" stop-color="#00ccff"/><stop offset="0.5044" stop-color="#00b5ff"/><stop offset="0.5271" stop-color="#00a6ff"/><stop offset="0.5488" stop-color="#00b3ff"/><stop offset="0.5596" stop-color="#00c6ff"/><stop offset="0.5714" stop-color="#00efff"/><stop offset="0.5744" stop-color="#00ffff"/><stop offset="0.5872" stop-color="#00ffa9"/><stop offset="0.597" stop-color="#00ff5e"/><stop offset="0.6059" stop-color="#00ff36"/><stop offset="0.6227" stop-color="#02ff00"/><stop offset="0.6345" stop-color="#45ff00"/><stop offset="0.6453" stop-color="#83ff00"/><stop offset="0.6601" stop-color="#b2ff00"/><stop offset="0.6897" stop-color="#e9ff00"/><stop offset="0.7094" stop-color="#feff00"/><stop offset="0.8522" stop-color="#fff000"/><stop offset="1" stop-color="#ffee00"/></linearGradient>
<linearGradient id="h75" gradientUnits="userSpaceOnUse" x1="306" x2="1321" y1="0" y2="0"><stop offset="0" stop-color="#ff7000"/><stop offset="0.1586" stop-color="#ff6b00"/><stop offset="0.2493" stop-color="#ff5600"/><stop offset="0.2739" stop-color="#ff6200"/><stop offset="0.3222" stop-color="#ffa100"/><stop offset="0.3517" stop-color="#ffdc00"/><stop offset="0.3655" stop-color="#feff00"/><stop offset="0.4246" stop-color="#02ff00"/><stop offset="0.4483" stop-color="#00ff5a"/><stop offset="0.4788" stop-color="#00ffff"/><stop offset="0.4877" stop-color="#00d8ff"/><stop offset="0.5005" stop-color="#00b4ff"/><stop offset="0.5232" stop-color="#00a1ff"/><stop offset="0.5429" stop-color="#00a7ff"/><stop offset="0.5576" stop-color="#00baff"/><stop offset="0.5704" stop-color="#00e3ff"/><stop offset="0.5754" stop-color="#00feff"/><stop offset="0.5872" stop-color="#00ffae"/><stop offset="0.597" stop-color="#00ff61"/><stop offset="0.6059" stop-color="#00ff38"/><stop offset="0.6227" stop-color="#02ff00"/><stop offset="0.6463" stop-color="#83ff00"/><stop offset="0.6621" stop-color="#b3ff00"/><stop offset="0.6936" stop-color="#edff00"/><stop offset="0.7123" stop-color="#ffff00"/><stop offset="0.8512" stop-color="#fff000"/><stop offset="1" stop-color="#ffee00"/></linearGradient>
<linearGradient id="h76" gradientUnits="userSpaceOnUse" x1="306" x2="1321" y1="0" y2="0"><stop offset="0" stop-color="#ff7000"/><stop offset="0.1576" stop-color="#ff6b00"/><stop offset="0.2493" stop-color="#ff5600"/><stop offset="0.2739" stop-color="#ff6200"/><stop offset="0.3222" stop-color="#ffa100"/><stop offset="0.3517" stop-color="#ffdd00"/><stop offset="0.3655" stop-color="#fcff00"/><stop offset="0.4246" stop-color="#01ff00"/><stop offset="0.4483" stop-color="#00ff5f"/><stop offset="0.4778" stop-color="#00feff"/><stop offset="0.4857" stop-color="#00d7ff"/><stop offset="0.4995" stop-color="#00afff"/><stop offset="0.5222" stop-color="#009bff"/><stop offset="0.5419" stop-color="#00a0ff"/><stop offset="0.5576" stop-color="#00b3ff"/><stop offset="0.5704" stop-color="#00dcff"/><stop offset="0.5764" stop-color="#00fdff"/><stop offset="0.5882" stop-color="#00ffab"/><stop offset="0.598" stop-color="#00ff5f"/><stop offset="0.6079" stop-color="#00ff33"/><stop offset="0.6227" stop-color="#02ff00"/><stop offset="0.6463" stop-color="#7fff00"/><stop offset="0.6621" stop-color="#b0ff00"/><stop offset="0.6906" stop-color="#e6ff00"/><stop offset="0.7113" stop-color="#feff00"/><stop offset="0.8552" stop-color="#fff000"/><stop offset="1" stop-color="#ffee00"/></linearGradient>
<linearGradient id="h77" gradientUnits="userSpaceOnUse" x1="306" x2="1321" y1="0" y2="0"><stop offset="0" stop-color="#ff6f00"/><stop offset="0.1576" stop-color="#ff6a00"/><stop offset="0.2493" stop-color="#ff5600"/><stop offset="0.2739" stop-color="#ff6300"/><stop offset="0.3222" stop-color="#ffa200"/><stop offset="0.3517" stop-color="#ffdf00"/><stop offset="0.3645" stop-color="#fdff00"/><stop offset="0.4246" stop-color="#00ff00"/><stop offset="0.4493" stop-color="#00ff68"/><stop offset="0.4768" stop-color="#00fcff"/><stop offset="0.4847" stop-color="#00d4ff"/><stop offset="0.4985" stop-color="#00aaff"/><stop offset="0.5202" stop-color="#0096ff"/><stop offset="0.5399" stop-color="#0098ff"/><stop offset="0.5576" stop-color="#00acff"/><stop offset="0.5704" stop-color="#00d5ff"/><stop offset="0.5773" stop-color="#00feff"/><stop offset="0.5892" stop-color="#00ffa8"/><stop offset="0.598" stop-color="#00ff64"/><stop offset="0.6079" stop-color="#00ff36"/><stop offset="0.6227" stop-color="#02ff00"/><stop offset="0.6473" stop-color="#80ff00"/><stop offset="0.664" stop-color="#b2ff00"/><stop offset="0.6946" stop-color="#eaff00"/><stop offset="0.7143" stop-color="#feff00"/><stop offset="0.8542" stop-color="#fff000"/><stop offset="1" stop-color="#ffee00"/></linearGradient>
<linearGradient id="h78" gradientUnits="userSpaceOnUse" x1="306" x2="1321" y1="0" y2="0"><stop offset="0" stop-color="#ff6f00"/><stop offset="0.1586" stop-color="#ff6900"/><stop offset="0.2493" stop-color="#ff5600"/><stop offset="0.2729" stop-color="#ff6200"/><stop offset="0.3212" stop-color="#ffa200"/><stop offset="0.3507" stop-color="#ffde00"/><stop offset="0.3635" stop-color="#ffff00"/><stop offset="0.4246" stop-color="#00ff01"/><stop offset="0.4493" stop-color="#00ff6d"/><stop offset="0.4749" stop-color="#00fffd"/><stop offset="0.4847" stop-color="#00cdff"/><stop offset="0.4985" stop-color="#00a3ff"/><stop offset="0.5212" stop-color="#008fff"/><stop offset="0.5419" stop-color="#0094ff"/><stop offset="0.5576" stop-color="#00a6ff"/><stop offset="0.5704" stop-color="#00ceff"/><stop offset="0.5773" stop-color="#00f7ff"/><stop offset="0.5783" stop-color="#00feff"/><stop offset="0.5911" stop-color="#00ff9d"/><stop offset="0.599" stop-color="#00ff62"/><stop offset="0.6108" stop-color="#00ff2d"/><stop offset="0.6227" stop-color="#01ff00"/><stop offset="0.6473" stop-color="#7cff00"/><stop offset="0.665" stop-color="#b1ff00"/><stop offset="0.6946" stop-color="#e7ff00"/><stop offset="0.7153" stop-color="#feff00"/><stop offset="0.8552" stop-color="#fff000"/><stop offset="1" stop-color="#ffee00"/></linearGradient>
<linearGradient id="h79" gradientUnits="userSpaceOnUse" x1="306" x2="1321" y1="0" y2="0"><stop offset="0" stop-color="#ff6e00"/><stop offset="0.1586" stop-color="#ff6900"/><stop offset="0.2493" stop-color="#ff5700"/><stop offset="0.2729" stop-color="#ff6300"/><stop offset="0.3212" stop-color="#ffa300"/><stop offset="0.3507" stop-color="#ffdf00"/><stop offset="0.3635" stop-color="#fdff00"/><stop offset="0.4246" stop-color="#00ff02"/><stop offset="0.4493" stop-color="#00ff71"/><stop offset="0.4739" stop-color="#00fffd"/><stop offset="0.4837" stop-color="#00caff"/><stop offset="0.4975" stop-color="#009fff"/><stop offset="0.5192" stop-color="#008aff"/><stop offset="0.5399" stop-color="#008dff"/><stop offset="0.5576" stop-color="#009fff"/><stop offset="0.5695" stop-color="#00c3ff"/><stop offset="0.5754" stop-color="#00e3ff"/><stop offset="0.5793" stop-color="#00fffe"/><stop offset="0.599" stop-color="#00ff67"/><stop offset="0.6108" stop-color="#00ff2f"/><stop offset="0.6227" stop-color="#01ff00"/><stop offset="0.6473" stop-color="#78ff00"/><stop offset="0.665" stop-color="#aeff00"/><stop offset="0.6916" stop-color="#e0ff00"/><stop offset="0.7143" stop-color="#fdff00"/><stop offset="0.8601" stop-color="#fff000"/><stop offset="1" stop-color="#ffee00"/></linearGradient>
<linearGradient id="h80" gradientUnits="userSpaceOnUse" x1="306" x2="1321" y1="0" y2="0"><stop offset="0" stop-color="#ff6e00"/><stop offset="0.1586" stop-color="#ff6900"/><stop offset="0.2493" stop-color="#ff5800"/><stop offset="0.2729" stop-color="#ff6400"/><stop offset="0.3212" stop-color="#ffa400"/><stop offset="0.3507" stop-color="#ffe100"/><stop offset="0.3626" stop-color="#feff00"/><stop offset="0.4236" stop-color="#01ff00"/><stop offset="0.4473" stop-color="#00ff6b"/><stop offset="0.4729" stop-color="#00fffd"/><stop offset="0.4837" stop-color="#00c3ff"/><stop offset="0.4966" stop-color="#009bff"/><stop offset="0.5163" stop-color="#0086ff"/><stop offset="0.5369" stop-color="#0085ff"/><stop offset="0.5576" stop-color="#0099ff"/><stop offset="0.5695" stop-color="#00bdff"/><stop offset="0.5754" stop-color="#00ddff"/><stop offset="0.5803" stop-color="#00fffc"/><stop offset="0.599" stop-color="#00ff6d"/><stop offset="0.6108" stop-color="#00ff32"/><stop offset="0.6227" stop-color="#00ff00"/><stop offset="0.6483" stop-color="#78ff00"/><stop offset="0.668" stop-color="#b2ff00"/><stop offset="0.6985" stop-color="#e9ff00"/><stop offset="0.7192" stop-color="#feff00"/><stop offset="0.8552" stop-color="#fff000"/><stop offset="1" stop-color="#ffee00"/></linearGradient>
<linearGradient id="h81" gradientUnits="userSpaceOnUse" x1="306" x2="1321" y1="0" y2="0"><stop offset="0" stop-color="#ff6d00"/><stop offset="0.1596" stop-color="#ff6800"/><stop offset="0.2502" stop-color="#ff5900"/><stop offset="0.2749" stop-color="#ff6700"/><stop offset="0.3232" stop-color="#ffa900"/><stop offset="0.3527" stop-color="#ffe800"/><stop offset="0.3626" stop-color="#fcff00"/><stop offset="0.4236" stop-color="#00ff00"/><stop offset="0.4493" stop-color="#00ff7a"/><stop offset="0.4719" stop-color="#00fffc"/><stop offset="0.4828" stop-color="#00c1ff"/><stop offset="0.4956" stop-color="#0097ff"/><stop offset="0.5113" stop-color="#0084ff"/><stop offset="0.533" stop-color="#007eff"/><stop offset="0.5567" stop-color="#0091ff"/><stop offset="0.5675" stop-color="#00afff"/><stop offset="0.5744" stop-color="#00d0ff"/><stop offset="0.5803" stop-color="#00fdff"/><stop offset="0.6" stop-color="#00ff6c"/><stop offset="0.6138" stop-color="#00ff27"/><stop offset="0.6227" stop-color="#00ff00"/><stop offset="0.6483" stop-color="#74ff00"/><stop offset="0.668" stop-color="#aeff00"/><stop offset="0.6956" stop-color="#e2ff00"/><stop offset="0.7182" stop-color="#fdff00"/><stop offset="0.8591" stop-color="#fff000"/><stop offset="1" stop-color="#ffee00"/></linearGradient>
<linearGradient id="h82" gradientUnits="userSpaceOnUse" x1="306" x2="1321" y1="0" y2="0"><stop offset="0" stop-color="#ff6d00"/><stop offset="0.1596" stop-color="#ff6800"/><stop offset="0.2502" stop-color="#ff5a00"/><stop offset="0.2749" stop-color="#ff6900"/><stop offset="0.3222" stop-color="#ffa900"/><stop offset="0.3517" stop-color="#ffe700"/><stop offset="0.3616" stop-color="#fdff00"/><stop offset="0.4217" stop-color="#08ff00"/><stop offset="0.4246" stop-color="#00ff05"/><stop offset="0.4502" stop-color="#00ff84"/><stop offset="0.4719" stop-color="#00fcff"/><stop offset="0.4818" stop-color="#00bfff"/><stop offset="0.4946" stop-color="#0094ff"/><stop offset="0.5084" stop-color="#0081ff"/><stop offset="0.531" stop-color="#0079ff"/><stop offset="0.5557" stop-color="#008aff"/><stop offset="0.5665" stop-color="#00a6ff"/><stop offset="0.5734" stop-color="#00c3ff"/><stop offset="0.5813" stop-color="#00fffe"/><stop offset="0.6" stop-color="#00ff72"/><stop offset="0.6148" stop-color="#00ff25"/><stop offset="0.6227" stop-color="#00ff01"/><stop offset="0.6483" stop-color="#71ff00"/><stop offset="0.669" stop-color="#adff00"/><stop offset="0.6956" stop-color="#e0ff00"/><stop offset="0.7182" stop-color="#fcff00"/><stop offset="0.8621" stop-color="#fff000"/><stop offset="1" stop-color="#ffee00"/></linearGradient>
<linearGradient id="h83" gradientUnits="userSpaceOnUse" x1="306" x2="1321" y1="0" y2="0"><stop offset="0" stop-color="#ff6d00"/><stop offset="0.1606" stop-color="#ff6700"/><stop offset="0.2502" stop-color="#ff5b00"/><stop offset="0.2749" stop-color="#ff6a00"/><stop offset="0.3222" stop-color="#ffaa00"/><stop offset="0.3517" stop-color="#ffe900"/><stop offset="0.3606" stop-color="#feff00"/><stop offset="0.4187" stop-color="#14ff00"/><stop offset="0.4236" stop-color="#00ff02"/><stop offset="0.4502" stop-color="#00ff88"/><stop offset="0.4709" stop-color="#00feff"/><stop offset="0.4808" stop-color="#00beff"/><stop offset="0.4936" stop-color="#0090ff"/><stop offset="0.5054" stop-color="#007fff"/><stop offset="0.5281" stop-color="#0073ff"/><stop offset="0.5517" stop-color="#0081ff"/><stop offset="0.5616" stop-color="#0091ff"/><stop offset="0.5724" stop-color="#00b8ff"/><stop offset="0.5793" stop-color="#00ebff"/><stop offset="0.5813" stop-color="#00fcff"/><stop offset="0.601" stop-color="#00ff72"/><stop offset="0.6177" stop-color="#00ff19"/><stop offset="0.6236" stop-color="#03ff00"/><stop offset="0.6473" stop-color="#69ff00"/><stop offset="0.668" stop-color="#a8ff00"/><stop offset="0.6916" stop-color="#d7ff00"/><stop offset="0.7172" stop-color="#faff00"/><stop offset="0.7419" stop-color="#fffc00"/><stop offset="0.8788" stop-color="#fff000"/><stop offset="1" stop-color="#ffee00"/></linearGradient>
<linearGradient id="h84" gradientUnits="userSpaceOnUse" x1="306" x2="1321" y1="0" y2="0"><stop offset="0" stop-color="#ff6c00"/><stop offset="0.1606" stop-color="#ff6700"/><stop offset="0.2502" stop-color="#ff5c00"/><stop offset="0.2749" stop-color="#ff6b00"/><stop offset="0.3222" stop-color="#ffac00"/><stop offset="0.3517" stop-color="#ffea00"/><stop offset="0.3606" stop-color="#fcff00"/><stop offset="0.4236" stop-color="#00ff03"/><stop offset="0.4512" stop-color="#00ff92"/><stop offset="0.47" stop-color="#00ffff"/><stop offset="0.4808" stop-color="#00b8ff"/><stop offset="0.4936" stop-color="#008bff"/><stop offset="0.5064" stop-color="#0079ff"/><stop offset="0.5291" stop-color="#006fff"/><stop offset="0.5537" stop-color="#007eff"/><stop offset="0.5635" stop-color="#0091ff"/><stop offset="0.5734" stop-color="#00b9ff"/><stop offset="0.5823" stop-color="#00fffe"/><stop offset="0.601" stop-color="#00ff78"/><stop offset="0.6187" stop-color="#00ff16"/><stop offset="0.6236" stop-color="#02ff00"/><stop offset="0.6473" stop-color="#66ff00"/><stop offset="0.669" stop-color="#a7ff00"/><stop offset="0.6926" stop-color="#d6ff00"/><stop offset="0.7182" stop-color="#faff00"/><stop offset="0.7409" stop-color="#fffc00"/><stop offset="0.8759" stop-color="#fff000"/><stop offset="1" stop-color="#ffee00"/></linearGradient>
<linearGradient id="h85" gradientUnits="userSpaceOnUse" x1="306" x2="1321" y1="0" y2="0"><stop offset="0" stop-color="#ff6c00"/><stop offset="0.1606" stop-color="#ff6700"/><stop offset="0.2493" stop-color="#ff5d00"/><stop offset="0.2729" stop-color="#ff6a00"/><stop offset="0.3212" stop-color="#ffab00"/><stop offset="0.3507" stop-color="#ffea00"/><stop offset="0.3596" stop-color="#fdff00"/><stop offset="0.4158" stop-color="#20ff00"/><stop offset="0.4227" stop-color="#01ff00"/><stop offset="0.4443" stop-color="#00ff70"/><stop offset="0.469" stop-color="#00fffd"/><stop offset="0.4808" stop-color="#00b3ff"/><stop offset="0.4936" stop-color="#0086ff"/><stop offset="0.5074" stop-color="#0074ff"/><stop offset="0.53" stop-color="#006aff"/><stop offset="0.5547" stop-color="#007bff"/><stop offset="0.5645" stop-color="#008fff"/><stop offset="0.5734" stop-color="#00b4ff"/><stop offset="0.5823" stop-color="#00fdff"/><stop offset="0.6039" stop-color="#00ff6c"/><stop offset="0.6217" stop-color="#00ff08"/><stop offset="0.6246" stop-color="#06ff00"/><stop offset="0.6463" stop-color="#5fff00"/><stop offset="0.669" stop-color="#a3ff00"/><stop offset="0.6926" stop-color="#d4ff00"/><stop offset="0.7192" stop-color="#faff00"/><stop offset="0.7399" stop-color="#fffd00"/><stop offset="0.8719" stop-color="#fff000"/><stop offset="1" stop-color="#ffee00"/></linearGradient>
<linearGradient id="h86" gradientUnits="userSpaceOnUse" x1="306" x2="1321" y1="0" y2="0"><stop offset="0" stop-color="#ff6c00"/><stop offset="0.1596" stop-color="#ff6600"/><stop offset="0.2483" stop-color="#ff5e00"/><stop offset="0.2719" stop-color="#ff6b00"/><stop offset="0.3202" stop-color="#ffab00"/><stop offset="0.3498" stop-color="#ffe900"/><stop offset="0.3586" stop-color="#feff00"/><stop offset="0.4148" stop-color="#23ff00"/><stop offset="0.4227" stop-color="#00ff00"/><stop offset="0.4522" stop-color="#00ff9f"/><stop offset="0.469" stop-color="#00fdff"/><stop offset="0.4798" stop-color="#00b4ff"/><stop offset="0.4916" stop-color="#0087ff"/><stop offset="0.5015" stop-color="#0075ff"/><stop offset="0.5261" stop-color="#0066ff"/><stop offset="0.5488" stop-color="#0070ff"/><stop offset="0.5616" stop-color="#0082ff"/><stop offset="0.5724" stop-color="#00aaff"/><stop offset="0.5773" stop-color="#00cdff"/><stop offset="0.5833" stop-color="#00fffd"/><stop offset="0.603" stop-color="#00ff79"/><stop offset="0.6217" stop-color="#00ff09"/><stop offset="0.6236" stop-color="#00ff00"/><stop offset="0.6443" stop-color="#56ff00"/><stop offset="0.668" stop-color="#9dff00"/><stop offset="0.6906" stop-color="#ceff00"/><stop offset="0.7192" stop-color="#f9ff00"/><stop offset="0.7379" stop-color="#fffd00"/><stop offset="0.867" stop-color="#fff000"/><stop offset="1" stop-color="#ffee00"/></linearGradient>
<linearGradient id="h87" gradientUnits="userSpaceOnUse" x1="306" x2="1321" y1="0" y2="0"><stop offset="0" stop-color="#ff6b00"/><stop offset="0.1586" stop-color="#ff6600"/><stop offset="0.2463" stop-color="#ff5e00"/><stop offset="0.27" stop-color="#ff6a00"/><stop offset="0.3182" stop-color="#ffa900"/><stop offset="0.3478" stop-color="#ffe600"/><stop offset="0.3586" stop-color="#fbff00"/><stop offset="0.4138" stop-color="#27ff00"/><stop offset="0.4227" stop-color="#00ff01"/><stop offset="0.4601" stop-color="#00ffcf"/><stop offset="0.468" stop-color="#00fffe"/><stop offset="0.4808" stop-color="#00abff"/><stop offset="0.4936" stop-color="#007eff"/><stop offset="0.5103" stop-color="#0069ff"/><stop offset="0.532" stop-color="#0062ff"/><stop offset="0.5567" stop-color="#0075ff"/><stop offset="0.5665" stop-color="#008dff"/><stop offset="0.5744" stop-color="#00b1ff"/><stop offset="0.5833" stop-color="#00ffff"/><stop offset="0.6158" stop-color="#00ff2d"/><stop offset="0.6236" stop-color="#00ff01"/><stop offset="0.6443" stop-color="#53ff00"/><stop offset="0.6709" stop-color="#a1ff00"/><stop offset="0.6946" stop-color="#d2ff00"/><stop offset="0.7222" stop-color="#faff00"/><stop offset="0.7448" stop-color="#fffc00"/><stop offset="0.8768" stop-color="#fff000"/><stop offset="1" stop-color="#ffee00"/></linearGradient>
<linearGradient id="h88" gradientUnits="userSpaceOnUse" x1="306" x2="1321" y1="0" y2="0"><stop offset="0" stop-color="#ff6b00"/><stop offset="0.1576" stop-color="#ff6600"/><stop offset="0.2433" stop-color="#ff5f00"/><stop offset="0.268" stop-color="#ff6900"/><stop offset="0.3153" stop-color="#ffa500"/><stop offset="0.3448" stop-color="#ffe000"/><stop offset="0.3576" stop-color="#fcff00"/><stop offset="0.4128" stop-color="#2aff00"/><stop offset="0.4227" stop-color="#00ff02"/><stop offset="0.468" stop-color="#00fdff"/><stop offset="0.4798" stop-color="#00acff"/><stop offset="0.4916" stop-color="#007fff"/><stop offset="0.5025" stop-color="#006dff"/><stop offset="0.5261" stop-color="#005eff"/><stop offset="0.5488" stop-color="#0069ff"/><stop offset="0.5616" stop-color="#007aff"/><stop offset="0.5724" stop-color="#00a2ff"/><stop offset="0.5764" stop-color="#00bdff"/><stop offset="0.5833" stop-color="#00fcff"/><stop offset="0.6108" stop-color="#00ff51"/><stop offset="0.6227" stop-color="#00ff07"/><stop offset="0.6256" stop-color="#07ff00"/><stop offset="0.6443" stop-color="#50ff00"/><stop offset="0.6739" stop-color="#a5ff00"/><stop offset="0.6985" stop-color="#d6ff00"/><stop offset="0.7241" stop-color="#fbff00"/><stop offset="0.7507" stop-color="#fffb00"/><stop offset="0.8847" stop-color="#fff000"/><stop offset="1" stop-color="#ffee00"/></linearGradient>
<linearGradient id="h89" gradientUnits="userSpaceOnUse" x1="306" x2="1321" y1="0" y2="0"><stop offset="0" stop-color="#ff6600"/><stop offset="0.1281" stop-color="#ff6100"/><stop offset="0.2079" stop-color="#ff4f00"/><stop offset="0.2847" stop-color="#ff6300"/><stop offset="0.3034" stop-color="#ff8200"/><stop offset="0.332" stop-color="#ffc400"/><stop offset="0.3527" stop-color="#ffff00"/><stop offset="0.3773" stop-color="#c2ff00"/><stop offset="0.3911" stop-color="#88ff00"/><stop offset="0.4167" stop-color="#01ff00"/><stop offset="0.4473" stop-color="#00ff9a"/><stop offset="0.464" stop-color="#00ffe6"/><stop offset="0.468" stop-color="#00fffd"/><stop offset="0.4719" stop-color="#00dfff"/><stop offset="0.4778" stop-color="#00a6ff"/><stop offset="0.4867" stop-color="#0073ff"/><stop offset="0.4926" stop-color="#0064ff"/><stop offset="0.5212" stop-color="#0053ff"/><stop offset="0.5478" stop-color="#0057ff"/><stop offset="0.5665" stop-color="#0069ff"/><stop offset="0.5724" stop-color="#0081ff"/><stop offset="0.5803" stop-color="#00b6ff"/><stop offset="0.5872" stop-color="#00faff"/><stop offset="0.5892" stop-color="#00fff5"/><stop offset="0.602" stop-color="#00ffa8"/><stop offset="0.6305" stop-color="#00ff10"/><stop offset="0.6345" stop-color="#01ff00"/><stop offset="0.6611" stop-color="#63ff00"/><stop offset="0.6788" stop-color="#91ff00"/><stop offset="0.7113" stop-color="#b8ff00"/><stop offset="0.7773" stop-color="#e3ff00"/><stop offset="0.8522" stop-color="#fffc00"/><stop offset="0.9498" stop-color="#ffd700"/><stop offset="1" stop-color="#ffd700"/></linearGradient>
<linearGradient id="h90" gradientUnits="userSpaceOnUse" x1="306" x2="1321" y1="0" y2="0"><stop offset="0" stop-color="#ff6700"/><stop offset="0.1222" stop-color="#ff6200"/><stop offset="0.2049" stop-color="#ff4b00"/><stop offset="0.2621" stop-color="#ff5a00"/><stop offset="0.2877" stop-color="#ff6700"/><stop offset="0.3113" stop-color="#ff9500"/><stop offset="0.333" stop-color="#ffca00"/><stop offset="0.3517" stop-color="#feff00"/><stop offset="0.3764" stop-color="#c1ff00"/><stop offset="0.3901" stop-color="#88ff00"/><stop offset="0.4158" stop-color="#01ff00"/><stop offset="0.4483" stop-color="#00ffa0"/><stop offset="0.464" stop-color="#00ffe9"/><stop offset="0.468" stop-color="#00feff"/><stop offset="0.4778" stop-color="#00a6ff"/><stop offset="0.4867" stop-color="#0073ff"/><stop offset="0.4926" stop-color="#0064ff"/><stop offset="0.5212" stop-color="#0053ff"/><stop offset="0.5478" stop-color="#0057ff"/><stop offset="0.5675" stop-color="#006bff"/><stop offset="0.5744" stop-color="#008cff"/><stop offset="0.5803" stop-color="#00b5ff"/><stop offset="0.5872" stop-color="#00f9ff"/><stop offset="0.5882" stop-color="#00fffe"/><stop offset="0.6" stop-color="#00ffb5"/><stop offset="0.6315" stop-color="#00ff0e"/><stop offset="0.6355" stop-color="#02ff00"/><stop offset="0.6621" stop-color="#63ff00"/><stop offset="0.6798" stop-color="#90ff00"/><stop offset="0.7123" stop-color="#b7ff00"/><stop offset="0.7823" stop-color="#e4ff00"/><stop offset="0.8552" stop-color="#fffc00"/><stop offset="0.9498" stop-color="#ffd800"/><stop offset="1" stop-color="#ffd700"/></linearGradient>
<linearGradient id="h91" gradientUnits="userSpaceOnUse" x1="306" x2="1321" y1="0" y2="0"><stop offset="0" stop-color="#ff6800"/><stop offset="0.1222" stop-color="#ff6300"/><stop offset="0.2039" stop-color="#ff4b00"/><stop offset="0.2562" stop-color="#ff5900"/><stop offset="0.2867" stop-color="#ff6700"/><stop offset="0.3094" stop-color="#ff9200"/><stop offset="0.331" stop-color="#ffc700"/><stop offset="0.3507" stop-color="#feff00"/><stop offset="0.3754" stop-color="#c1ff00"/><stop offset="0.3892" stop-color="#88ff00"/><stop offset="0.4148" stop-color="#02ff00"/><stop offset="0.4483" stop-color="#00ffa3"/><stop offset="0.464" stop-color="#00ffeb"/><stop offset="0.467" stop-color="#00fffd"/><stop offset="0.4709" stop-color="#00e2ff"/><stop offset="0.4778" stop-color="#00a6ff"/><stop offset="0.4867" stop-color="#0073ff"/><stop offset="0.4916" stop-color="#0065ff"/><stop offset="0.5202" stop-color="#0053ff"/><stop offset="0.5478" stop-color="#0056ff"/><stop offset="0.5675" stop-color="#006bff"/><stop offset="0.5744" stop-color="#008cff"/><stop offset="0.5803" stop-color="#00b4ff"/><stop offset="0.5882" stop-color="#00ffff"/><stop offset="0.601" stop-color="#00ffb2"/><stop offset="0.6325" stop-color="#00ff0d"/><stop offset="0.6365" stop-color="#04ff00"/><stop offset="0.6631" stop-color="#63ff00"/><stop offset="0.6808" stop-color="#90ff00"/><stop offset="0.7133" stop-color="#b6ff00"/><stop offset="0.7882" stop-color="#e5ff00"/><stop offset="0.8581" stop-color="#fffc00"/><stop offset="0.9498" stop-color="#ffd900"/><stop offset="1" stop-color="#ffd800"/></linearGradient>
<linearGradient id="h92" gradientUnits="userSpaceOnUse" x1="306" x2="1321" y1="0" y2="0"><stop offset="0" stop-color="#ff6900"/><stop offset="0.1251" stop-color="#ff6400"/><stop offset="0.2059" stop-color="#ff4f00"/><stop offset="0.2808" stop-color="#ff6400"/><stop offset="0.2975" stop-color="#ff7b00"/><stop offset="0.3261" stop-color="#ffbb00"/><stop offset="0.3498" stop-color="#fdff00"/><stop offset="0.3744" stop-color="#c1ff00"/><stop offset="0.3882" stop-color="#88ff00"/><stop offset="0.4148" stop-color="#00ff02"/><stop offset="0.4473" stop-color="#00ffa1"/><stop offset="0.464" stop-color="#00ffee"/><stop offset="0.467" stop-color="#00feff"/><stop offset="0.4778" stop-color="#00a6ff"/><stop offset="0.4877" stop-color="#006fff"/><stop offset="0.4946" stop-color="#0062ff"/><stop offset="0.5232" stop-color="#0052ff"/><stop offset="0.5498" stop-color="#0058ff"/><stop offset="0.5675" stop-color="#006aff"/><stop offset="0.5744" stop-color="#008bff"/><stop offset="0.5803" stop-color="#00b3ff"/><stop offset="0.5882" stop-color="#00fdff"/><stop offset="0.602" stop-color="#00ffaf"/><stop offset="0.6325" stop-color="#00ff0f"/><stop offset="0.6365" stop-color="#01ff00"/><stop offset="0.6631" stop-color="#61ff00"/><stop offset="0.6808" stop-color="#8eff00"/><stop offset="0.7123" stop-color="#b3ff00"/><stop offset="0.7882" stop-color="#e3ff00"/><stop offset="0.8611" stop-color="#fffc00"/><stop offset="0.9498" stop-color="#ffda00"/><stop offset="1" stop-color="#ffd900"/></linearGradient>
<linearGradient id="h93" gradientUnits="userSpaceOnUse" x1="306" x2="1321" y1="0" y2="0"><stop offset="0" stop-color="#ff6a00"/><stop offset="0.131" stop-color="#ff6500"/><stop offset="0.2099" stop-color="#ff5600"/><stop offset="0.2847" stop-color="#ff6900"/><stop offset="0.3044" stop-color="#ff8b00"/><stop offset="0.3271" stop-color="#ffc000"/><stop offset="0.3488" stop-color="#feff00"/><stop offset="0.3734" stop-color="#c1ff00"/><stop offset="0.3872" stop-color="#89ff00"/><stop offset="0.4138" stop-color="#00ff00"/><stop offset="0.4473" stop-color="#00ffa2"/><stop offset="0.464" stop-color="#00fff0"/><stop offset="0.467" stop-color="#00fdff"/><stop offset="0.4778" stop-color="#00a5ff"/><stop offset="0.4877" stop-color="#006fff"/><stop offset="0.4946" stop-color="#0062ff"/><stop offset="0.5232" stop-color="#0052ff"/><stop offset="0.5498" stop-color="#0058ff"/><stop offset="0.5675" stop-color="#006aff"/><stop offset="0.5744" stop-color="#008bff"/><stop offset="0.5803" stop-color="#00b2ff"/><stop offset="0.5882" stop-color="#00fcff"/><stop offset="0.6039" stop-color="#00ffa6"/><stop offset="0.6335" stop-color="#00ff0d"/><stop offset="0.6374" stop-color="#03ff00"/><stop offset="0.664" stop-color="#62ff00"/><stop offset="0.6818" stop-color="#8eff00"/><stop offset="0.7143" stop-color="#b3ff00"/><stop offset="0.7961" stop-color="#e6ff00"/><stop offset="0.8631" stop-color="#fffc00"/><stop offset="0.9498" stop-color="#ffda00"/><stop offset="1" stop-color="#ffda00"/></linearGradient>
<linearGradient id="h94" gradientUnits="userSpaceOnUse" x1="306" x2="1321" y1="0" y2="0"><stop offset="0" stop-color="#ff6b00"/><stop offset="0.1389" stop-color="#ff6600"/><stop offset="0.2158" stop-color="#ff5c00"/><stop offset="0.2847" stop-color="#ff6b00"/><stop offset="0.3044" stop-color="#ff8c00"/><stop offset="0.3261" stop-color="#ffbf00"/><stop offset="0.3478" stop-color="#feff00"/><stop offset="0.3734" stop-color="#bfff00"/><stop offset="0.3882" stop-color="#81ff00"/><stop offset="0.4128" stop-color="#02ff00"/><stop offset="0.4483" stop-color="#00ffa8"/><stop offset="0.464" stop-color="#00fff2"/><stop offset="0.467" stop-color="#00fbff"/><stop offset="0.4778" stop-color="#00a5ff"/><stop offset="0.4877" stop-color="#006fff"/><stop offset="0.4946" stop-color="#0062ff"/><stop offset="0.5232" stop-color="#0052ff"/><stop offset="0.5498" stop-color="#0057ff"/><stop offset="0.5675" stop-color="#006aff"/><stop offset="0.5744" stop-color="#008aff"/><stop offset="0.5813" stop-color="#00baff"/><stop offset="0.5882" stop-color="#00fbff"/><stop offset="0.5931" stop-color="#00ffe2"/><stop offset="0.6335" stop-color="#00ff0e"/><stop offset="0.6374" stop-color="#02ff00"/><stop offset="0.664" stop-color="#60ff00"/><stop offset="0.6818" stop-color="#8cff00"/><stop offset="0.7133" stop-color="#b1ff00"/><stop offset="0.7961" stop-color="#e4ff00"/><stop offset="0.865" stop-color="#fffc00"/><stop offset="0.9498" stop-color="#ffdb00"/><stop offset="1" stop-color="#ffda00"/></linearGradient>
<linearGradient id="h95" gradientUnits="userSpaceOnUse" x1="306" x2="1321" y1="0" y2="0"><stop offset="0" stop-color="#ff6b00"/><stop offset="0.1527" stop-color="#ff6600"/><stop offset="0.2286" stop-color="#ff6200"/><stop offset="0.2847" stop-color="#ff6d00"/><stop offset="0.3044" stop-color="#ff8e00"/><stop offset="0.3251" stop-color="#ffbe00"/><stop offset="0.3468" stop-color="#ffff00"/><stop offset="0.3724" stop-color="#c0ff00"/><stop offset="0.3872" stop-color="#83ff00"/><stop offset="0.4128" stop-color="#00ff01"/><stop offset="0.4473" stop-color="#00ffa5"/><stop offset="0.464" stop-color="#00fff4"/><stop offset="0.466" stop-color="#00ffff"/><stop offset="0.4788" stop-color="#009fff"/><stop offset="0.4877" stop-color="#006fff"/><stop offset="0.4946" stop-color="#0062ff"/><stop offset="0.5232" stop-color="#0052ff"/><stop offset="0.5498" stop-color="#0057ff"/><stop offset="0.5675" stop-color="#006aff"/><stop offset="0.5744" stop-color="#008aff"/><stop offset="0.5813" stop-color="#00b9ff"/><stop offset="0.5882" stop-color="#00faff"/><stop offset="0.5901" stop-color="#00fff6"/><stop offset="0.6039" stop-color="#00ffa9"/><stop offset="0.6345" stop-color="#00ff0c"/><stop offset="0.6384" stop-color="#04ff00"/><stop offset="0.665" stop-color="#62ff00"/><stop offset="0.6828" stop-color="#8dff00"/><stop offset="0.7153" stop-color="#b2ff00"/><stop offset="0.803" stop-color="#e7ff00"/><stop offset="0.867" stop-color="#fffc00"/><stop offset="0.9498" stop-color="#ffdb00"/><stop offset="1" stop-color="#ffdb00"/></linearGradient>
<linearGradient id="h96" gradientUnits="userSpaceOnUse" x1="306" x2="1321" y1="0" y2="0"><stop offset="0" stop-color="#ff6c00"/><stop offset="0.2463" stop-color="#ff6900"/><stop offset="0.2847" stop-color="#ff6f00"/><stop offset="0.3044" stop-color="#ff9000"/><stop offset="0.3241" stop-color="#ffbd00"/><stop offset="0.3458" stop-color="#feff00"/><stop offset="0.3714" stop-color="#c0ff00"/><stop offset="0.3862" stop-color="#83ff00"/><stop offset="0.4118" stop-color="#01ff00"/><stop offset="0.4483" stop-color="#00ffab"/><stop offset="0.466" stop-color="#00fdff"/><stop offset="0.4778" stop-color="#00a4ff"/><stop offset="0.4877" stop-color="#006fff"/><stop offset="0.4946" stop-color="#0062ff"/><stop offset="0.5232" stop-color="#0052ff"/><stop offset="0.5498" stop-color="#0057ff"/><stop offset="0.5675" stop-color="#006aff"/><stop offset="0.5744" stop-color="#0089ff"/><stop offset="0.5813" stop-color="#00b9ff"/><stop offset="0.5882" stop-color="#00f9ff"/><stop offset="0.5901" stop-color="#00fff7"/><stop offset="0.603" stop-color="#00ffaf"/><stop offset="0.6355" stop-color="#00ff0a"/><stop offset="0.6384" stop-color="#02ff00"/><stop offset="0.665" stop-color="#60ff00"/><stop offset="0.6828" stop-color="#8bff00"/><stop offset="0.7143" stop-color="#afff00"/><stop offset="0.8039" stop-color="#e6ff00"/><stop offset="0.869" stop-color="#fffc00"/><stop offset="0.9498" stop-color="#ffdc00"/><stop offset="1" stop-color="#ffdb00"/></linearGradient>
<linearGradient id="h97" gradientUnits="userSpaceOnUse" x1="306" x2="1321" y1="0" y2="0"><stop offset="0" stop-color="#ff6d00"/><stop offset="0.2808" stop-color="#ff6f00"/><stop offset="0.2975" stop-color="#ff8400"/><stop offset="0.3212" stop-color="#ffb700"/><stop offset="0.3448" stop-color="#feff00"/><stop offset="0.3704" stop-color="#c0ff00"/><stop offset="0.3852" stop-color="#83ff00"/><stop offset="0.4108" stop-color="#02ff00"/><stop offset="0.4493" stop-color="#00ffb2"/><stop offset="0.465" stop-color="#00fffe"/><stop offset="0.4788" stop-color="#009eff"/><stop offset="0.4877" stop-color="#006fff"/><stop offset="0.4946" stop-color="#0062ff"/><stop offset="0.5232" stop-color="#0051ff"/><stop offset="0.5498" stop-color="#0057ff"/><stop offset="0.5675" stop-color="#0069ff"/><stop offset="0.5744" stop-color="#0089ff"/><stop offset="0.5813" stop-color="#00b7ff"/><stop offset="0.5892" stop-color="#00ffff"/><stop offset="0.602" stop-color="#00ffb6"/><stop offset="0.6355" stop-color="#00ff0c"/><stop offset="0.6394" stop-color="#04ff00"/><stop offset="0.666" stop-color="#60ff00"/><stop offset="0.6837" stop-color="#8bff00"/><stop offset="0.7163" stop-color="#afff00"/><stop offset="0.8118" stop-color="#e8ff00"/><stop offset="0.8719" stop-color="#fffc00"/><stop offset="0.9498" stop-color="#ffdd00"/><stop offset="1" stop-color="#ffdc00"/></linearGradient>
<linearGradient id="h98" gradientUnits="userSpaceOnUse" x1="306" x2="1321" y1="0" y2="0"><stop offset="0" stop-color="#ff6e00"/><stop offset="0.2828" stop-color="#ff7200"/><stop offset="0.3015" stop-color="#ff8e00"/><stop offset="0.3212" stop-color="#ffba00"/><stop offset="0.3438" stop-color="#fdff00"/><stop offset="0.3695" stop-color="#bfff00"/><stop offset="0.3842" stop-color="#83ff00"/><stop offset="0.4099" stop-color="#02ff00"/><stop offset="0.4512" stop-color="#00ffbd"/><stop offset="0.465" stop-color="#00fdff"/><stop offset="0.4778" stop-color="#00a3ff"/><stop offset="0.4877" stop-color="#006fff"/><stop offset="0.4956" stop-color="#0061ff"/><stop offset="0.5241" stop-color="#0051ff"/><stop offset="0.5507" stop-color="#0057ff"/><stop offset="0.5685" stop-color="#006cff"/><stop offset="0.5764" stop-color="#0094ff"/><stop offset="0.5823" stop-color="#00bfff"/><stop offset="0.5892" stop-color="#00feff"/><stop offset="0.603" stop-color="#00ffb3"/><stop offset="0.6365" stop-color="#00ff0a"/><stop offset="0.6404" stop-color="#05ff00"/><stop offset="0.667" stop-color="#61ff00"/><stop offset="0.6847" stop-color="#8bff00"/><stop offset="0.7172" stop-color="#aeff00"/><stop offset="0.8187" stop-color="#eaff00"/><stop offset="0.8739" stop-color="#fffc00"/><stop offset="0.9498" stop-color="#ffdd00"/><stop offset="1" stop-color="#ffdd00"/></linearGradient>
<linearGradient id="h99" gradientUnits="userSpaceOnUse" x1="306" x2="1321" y1="0" y2="0"><stop offset="0" stop-color="#ff6f00"/><stop offset="0.2828" stop-color="#ff7300"/><stop offset="0.3015" stop-color="#ff9000"/><stop offset="0.3202" stop-color="#ffba00"/><stop offset="0.3419" stop-color="#fffe00"/><stop offset="0.3685" stop-color="#bfff00"/><stop offset="0.3833" stop-color="#82ff00"/><stop offset="0.4099" stop-color="#00ff02"/><stop offset="0.4493" stop-color="#00ffb7"/><stop offset="0.464" stop-color="#00fffe"/><stop offset="0.4788" stop-color="#009dff"/><stop offset="0.4877" stop-color="#006fff"/><stop offset="0.4956" stop-color="#0061ff"/><stop offset="0.5241" stop-color="#0051ff"/><stop offset="0.5498" stop-color="#0056ff"/><stop offset="0.5685" stop-color="#006cff"/><stop offset="0.5764" stop-color="#0093ff"/><stop offset="0.5823" stop-color="#00beff"/><stop offset="0.5892" stop-color="#00fcff"/><stop offset="0.6059" stop-color="#00ffa7"/><stop offset="0.6374" stop-color="#00ff09"/><stop offset="0.6404" stop-color="#03ff00"/><stop offset="0.668" stop-color="#61ff00"/><stop offset="0.6857" stop-color="#8bff00"/><stop offset="0.7192" stop-color="#aeff00"/><stop offset="0.8276" stop-color="#edff00"/><stop offset="0.8768" stop-color="#fffc00"/><stop offset="0.9498" stop-color="#ffde00"/><stop offset="1" stop-color="#ffdd00"/></linearGradient>
<linearGradient id="h100" gradientUnits="userSpaceOnUse" x1="306" x2="1321" y1="0" y2="0"><stop offset="0" stop-color="#ff7000"/><stop offset="0.2828" stop-color="#ff7500"/><stop offset="0.3025" stop-color="#ff9300"/><stop offset="0.3192" stop-color="#ffba00"/><stop offset="0.3409" stop-color="#feff00"/><stop offset="0.3675" stop-color="#beff00"/><stop offset="0.3823" stop-color="#82ff00"/><stop offset="0.4089" stop-color="#00ff02"/><stop offset="0.464" stop-color="#00fdff"/><stop offset="0.4788" stop-color="#009cff"/><stop offset="0.4877" stop-color="#006eff"/><stop offset="0.4956" stop-color="#0061ff"/><stop offset="0.5241" stop-color="#0050ff"/><stop offset="0.5498" stop-color="#0056ff"/><stop offset="0.5685" stop-color="#006bff"/><stop offset="0.5754" stop-color="#008dff"/><stop offset="0.5823" stop-color="#00bcff"/><stop offset="0.5892" stop-color="#00fbff"/><stop offset="0.5921" stop-color="#00fff0"/><stop offset="0.6069" stop-color="#00ffa4"/><stop offset="0.6374" stop-color="#00ff0b"/><stop offset="0.6414" stop-color="#05ff00"/><stop offset="0.668" stop-color="#5fff00"/><stop offset="0.6867" stop-color="#8aff00"/><stop offset="0.7202" stop-color="#adff00"/><stop offset="0.8355" stop-color="#efff00"/><stop offset="0.8798" stop-color="#fffb00"/><stop offset="0.9498" stop-color="#ffdf00"/><stop offset="1" stop-color="#ffde00"/></linearGradient>
<linearGradient id="h101" gradientUnits="userSpaceOnUse" x1="306" x2="1321" y1="0" y2="0"><stop offset="0" stop-color="#ff7100"/><stop offset="0.2818" stop-color="#ff7500"/><stop offset="0.3005" stop-color="#ff9100"/><stop offset="0.3182" stop-color="#ffba00"/><stop offset="0.3399" stop-color="#feff00"/><stop offset="0.3665" stop-color="#bdff00"/><stop offset="0.3823" stop-color="#7cff00"/><stop offset="0.4079" stop-color="#00ff02"/><stop offset="0.4621" stop-color="#00fffa"/><stop offset="0.464" stop-color="#00faff"/><stop offset="0.4778" stop-color="#00a0ff"/><stop offset="0.4877" stop-color="#006eff"/><stop offset="0.4966" stop-color="#0060ff"/><stop offset="0.5241" stop-color="#0050ff"/><stop offset="0.5498" stop-color="#0056ff"/><stop offset="0.5685" stop-color="#006bff"/><stop offset="0.5754" stop-color="#008cff"/><stop offset="0.5823" stop-color="#00bbff"/><stop offset="0.5892" stop-color="#00f9ff"/><stop offset="0.5911" stop-color="#00fff7"/><stop offset="0.6049" stop-color="#00ffaf"/><stop offset="0.6384" stop-color="#00ff09"/><stop offset="0.6414" stop-color="#03ff00"/><stop offset="0.669" stop-color="#60ff00"/><stop offset="0.6877" stop-color="#8aff00"/><stop offset="0.7222" stop-color="#adff00"/><stop offset="0.8443" stop-color="#f2ff00"/><stop offset="0.8818" stop-color="#fffb00"/><stop offset="0.9498" stop-color="#ffe000"/><stop offset="1" stop-color="#ffdf00"/></linearGradient>
<linearGradient id="h102" gradientUnits="userSpaceOnUse" x1="306" x2="1321" y1="0" y2="0"><stop offset="0" stop-color="#ff7100"/><stop offset="0.2818" stop-color="#ff7700"/><stop offset="0.3015" stop-color="#ff9500"/><stop offset="0.3172" stop-color="#ffba00"/><stop offset="0.3379" stop-color="#fffe00"/><stop offset="0.3645" stop-color="#c0ff00"/><stop offset="0.3793" stop-color="#85ff00"/><stop offset="0.4069" stop-color="#00ff02"/><stop offset="0.4631" stop-color="#00fcff"/><stop offset="0.4778" stop-color="#009fff"/><stop offset="0.4877" stop-color="#006eff"/><stop offset="0.4966" stop-color="#0060ff"/><stop offset="0.5241" stop-color="#004fff"/><stop offset="0.5498" stop-color="#0055ff"/><stop offset="0.5685" stop-color="#006aff"/><stop offset="0.5754" stop-color="#008bff"/><stop offset="0.5823" stop-color="#00baff"/><stop offset="0.5901" stop-color="#00ffff"/><stop offset="0.603" stop-color="#00ffb9"/><stop offset="0.6236" stop-color="#00ff54"/><stop offset="0.6394" stop-color="#00ff07"/><stop offset="0.6424" stop-color="#05ff00"/><stop offset="0.669" stop-color="#5eff00"/><stop offset="0.6877" stop-color="#89ff00"/><stop offset="0.7212" stop-color="#abff00"/><stop offset="0.8483" stop-color="#f3ff00"/><stop offset="0.8837" stop-color="#fffb00"/><stop offset="0.9498" stop-color="#ffe000"/><stop offset="1" stop-color="#ffdf00"/></linearGradient>
<linearGradient id="h103" gradientUnits="userSpaceOnUse" x1="306" x2="1321" y1="0" y2="0"><stop offset="0" stop-color="#ff7200"/><stop offset="0.2808" stop-color="#ff7700"/><stop offset="0.2995" stop-color="#ff9300"/><stop offset="0.3153" stop-color="#ffb600"/><stop offset="0.3369" stop-color="#fffe00"/><stop offset="0.3635" stop-color="#bfff00"/><stop offset="0.3793" stop-color="#80ff00"/><stop offset="0.4059" stop-color="#00ff01"/><stop offset="0.4621" stop-color="#00feff"/><stop offset="0.4788" stop-color="#0099ff"/><stop offset="0.4877" stop-color="#006eff"/><stop offset="0.4975" stop-color="#005fff"/><stop offset="0.5251" stop-color="#004fff"/><stop offset="0.5507" stop-color="#0056ff"/><stop offset="0.5685" stop-color="#006aff"/><stop offset="0.5754" stop-color="#008aff"/><stop offset="0.5823" stop-color="#00b8ff"/><stop offset="0.5901" stop-color="#00feff"/><stop offset="0.6039" stop-color="#00ffb6"/><stop offset="0.6236" stop-color="#00ff56"/><stop offset="0.6394" stop-color="#00ff08"/><stop offset="0.6424" stop-color="#03ff00"/><stop offset="0.67" stop-color="#60ff00"/><stop offset="0.6887" stop-color="#8aff00"/><stop offset="0.7232" stop-color="#abff00"/><stop offset="0.8552" stop-color="#f5ff00"/><stop offset="0.8857" stop-color="#fffb00"/><stop offset="0.9507" stop-color="#ffe000"/><stop offset="1" stop-color="#ffe000"/></linearGradient>
<linearGradient id="h104" gradientUnits="userSpaceOnUse" x1="306" x2="1321" y1="0" y2="0"><stop offset="0" stop-color="#ff7200"/><stop offset="0.2808" stop-color="#ff7800"/><stop offset="0.3005" stop-color="#ff9600"/><stop offset="0.3153" stop-color="#ffb900"/><stop offset="0.336" stop-color="#feff00"/><stop offset="0.3626" stop-color="#bfff00"/><stop offset="0.3783" stop-color="#7fff00"/><stop offset="0.4049" stop-color="#00ff01"/><stop offset="0.4611" stop-color="#00fffe"/><stop offset="0.4798" stop-color="#0093ff"/><stop offset="0.4887" stop-color="#006bff"/><stop offset="0.5103" stop-color="#0054ff"/><stop offset="0.5369" stop-color="#004eff"/><stop offset="0.5616" stop-color="#005fff"/><stop offset="0.5695" stop-color="#006cff"/><stop offset="0.5773" stop-color="#0095ff"/><stop offset="0.5833" stop-color="#00c0ff"/><stop offset="0.5901" stop-color="#00fdff"/><stop offset="0.6059" stop-color="#00ffae"/><stop offset="0.6246" stop-color="#00ff52"/><stop offset="0.6404" stop-color="#00ff05"/><stop offset="0.6443" stop-color="#0aff00"/><stop offset="0.6709" stop-color="#62ff00"/><stop offset="0.6887" stop-color="#89ff00"/><stop offset="0.7232" stop-color="#abff00"/><stop offset="0.8591" stop-color="#f7ff00"/><stop offset="0.8877" stop-color="#fffa00"/><stop offset="0.9507" stop-color="#ffe100"/><stop offset="1" stop-color="#ffe000"/></linearGradient>
<linearGradient id="h105" gradientUnits="userSpaceOnUse" x1="306" x2="1321" y1="0" y2="0"><stop offset="0" stop-color="#ff7200"/><stop offset="0.2798" stop-color="#ff7800"/><stop offset="0.2985" stop-color="#ff9400"/><stop offset="0.3133" stop-color="#ffb600"/><stop offset="0.335" stop-color="#feff00"/><stop offset="0.3616" stop-color="#beff00"/><stop offset="0.3773" stop-color="#7fff00"/><stop offset="0.4039" stop-color="#00ff01"/><stop offset="0.4611" stop-color="#00fdff"/><stop offset="0.4778" stop-color="#009cff"/><stop offset="0.4877" stop-color="#006eff"/><stop offset="0.4995" stop-color="#005dff"/><stop offset="0.5261" stop-color="#004dff"/><stop offset="0.5507" stop-color="#0055ff"/><stop offset="0.5685" stop-color="#0069ff"/><stop offset="0.5754" stop-color="#0088ff"/><stop offset="0.5823" stop-color="#00b6ff"/><stop offset="0.5901" stop-color="#00fcff"/><stop offset="0.6069" stop-color="#00ffab"/><stop offset="0.6246" stop-color="#00ff53"/><stop offset="0.6404" stop-color="#00ff06"/><stop offset="0.6443" stop-color="#09ff00"/><stop offset="0.6709" stop-color="#61ff00"/><stop offset="0.6887" stop-color="#89ff00"/><stop offset="0.7222" stop-color="#aaff00"/><stop offset="0.8591" stop-color="#f6ff00"/><stop offset="0.8877" stop-color="#fffb00"/><stop offset="0.9507" stop-color="#ffe100"/><stop offset="1" stop-color="#ffe000"/></linearGradient>
<linearGradient id="h106" gradientUnits="userSpaceOnUse" x1="306" x2="1321" y1="0" y2="0"><stop offset="0" stop-color="#ff7200"/><stop offset="0.2798" stop-color="#ff7800"/><stop offset="0.2995" stop-color="#ff9800"/><stop offset="0.3133" stop-color="#ffb900"/><stop offset="0.334" stop-color="#feff00"/><stop offset="0.3606" stop-color="#bdff00"/><stop offset="0.3764" stop-color="#7eff00"/><stop offset="0.403" stop-color="#00ff01"/><stop offset="0.4601" stop-color="#00feff"/><stop offset="0.4788" stop-color="#0096ff"/><stop offset="0.4877" stop-color="#006dff"/><stop offset="0.5005" stop-color="#005bff"/><stop offset="0.5271" stop-color="#004bff"/><stop offset="0.5517" stop-color="#0054ff"/><stop offset="0.5695" stop-color="#006bff"/><stop offset="0.5764" stop-color="#008dff"/><stop offset="0.5833" stop-color="#00bdff"/><stop offset="0.5901" stop-color="#00fbff"/><stop offset="0.5931" stop-color="#00fff0"/><stop offset="0.6079" stop-color="#00ffa7"/><stop offset="0.6404" stop-color="#00ff06"/><stop offset="0.6443" stop-color="#09ff00"/><stop offset="0.6709" stop-color="#61ff00"/><stop offset="0.6887" stop-color="#89ff00"/><stop offset="0.7222" stop-color="#aaff00"/><stop offset="0.8591" stop-color="#f6ff00"/><stop offset="0.8877" stop-color="#fffb00"/><stop offset="0.9507" stop-color="#ffe100"/><stop offset="1" stop-color="#ffe000"/></linearGradient>
<linearGradient id="h107" gradientUnits="userSpaceOnUse" x1="306" x2="1321" y1="0" y2="0"><stop offset="0" stop-color="#ff7200"/><stop offset="0.2788" stop-color="#ff7800"/><stop offset="0.2985" stop-color="#ff9700"/><stop offset="0.3123" stop-color="#ffb900"/><stop offset="0.332" stop-color="#fffe00"/><stop offset="0.3586" stop-color="#c0ff00"/><stop offset="0.3744" stop-color="#82ff00"/><stop offset="0.402" stop-color="#00ff02"/><stop offset="0.4591" stop-color="#00fffe"/><stop offset="0.4818" stop-color="#0084ff"/><stop offset="0.4897" stop-color="#0066ff"/><stop offset="0.5153" stop-color="#004dff"/><stop offset="0.5399" stop-color="#004aff"/><stop offset="0.5635" stop-color="#005eff"/><stop offset="0.5704" stop-color="#006cff"/><stop offset="0.5783" stop-color="#0097ff"/><stop offset="0.5842" stop-color="#00c5ff"/><stop offset="0.5901" stop-color="#00faff"/><stop offset="0.5921" stop-color="#00fff7"/><stop offset="0.6049" stop-color="#00ffb5"/><stop offset="0.6227" stop-color="#00ff5f"/><stop offset="0.6394" stop-color="#00ff0a"/><stop offset="0.6424" stop-color="#02ff00"/><stop offset="0.669" stop-color="#5cff00"/><stop offset="0.6877" stop-color="#87ff00"/><stop offset="0.7202" stop-color="#a8ff00"/><stop offset="0.8591" stop-color="#f6ff00"/><stop offset="0.8877" stop-color="#fffb00"/><stop offset="0.9507" stop-color="#ffe100"/><stop offset="1" stop-color="#ffe000"/></linearGradient>
<linearGradient id="h108" gradientUnits="userSpaceOnUse" x1="306" x2="1321" y1="0" y2="0"><stop offset="0" stop-color="#ff7200"/><stop offset="0.2778" stop-color="#ff7800"/><stop offset="0.2966" stop-color="#ff9500"/><stop offset="0.3113" stop-color="#ffb800"/><stop offset="0.331" stop-color="#fffe00"/><stop offset="0.3576" stop-color="#c0ff00"/><stop offset="0.3734" stop-color="#82ff00"/><stop offset="0.401" stop-color="#00ff01"/><stop offset="0.4591" stop-color="#00fdff"/><stop offset="0.4828" stop-color="#007cff"/><stop offset="0.4897" stop-color="#0062ff"/><stop offset="0.5153" stop-color="#0048ff"/><stop offset="0.5389" stop-color="#0045ff"/><stop offset="0.5626" stop-color="#0059ff"/><stop offset="0.5704" stop-color="#0068ff"/><stop offset="0.5783" stop-color="#0095ff"/><stop offset="0.5842" stop-color="#00c3ff"/><stop offset="0.5901" stop-color="#00f9ff"/><stop offset="0.5911" stop-color="#00fffe"/><stop offset="0.603" stop-color="#00ffbe"/><stop offset="0.6217" stop-color="#00ff65"/><stop offset="0.6394" stop-color="#00ff0a"/><stop offset="0.6424" stop-color="#02ff00"/><stop offset="0.669" stop-color="#5cff00"/><stop offset="0.6877" stop-color="#88ff00"/><stop offset="0.7192" stop-color="#a8ff00"/><stop offset="0.8601" stop-color="#f7ff00"/><stop offset="0.8887" stop-color="#fffa00"/><stop offset="0.9507" stop-color="#ffe100"/><stop offset="1" stop-color="#ffe000"/></linearGradient>
<linearGradient id="h109" gradientUnits="userSpaceOnUse" x1="306" x2="1321" y1="0" y2="0"><stop offset="0" stop-color="#ff7200"/><stop offset="0.2768" stop-color="#ff7800"/><stop offset="0.2956" stop-color="#ff9400"/><stop offset="0.3103" stop-color="#ffb700"/><stop offset="0.331" stop-color="#feff00"/><stop offset="0.3576" stop-color="#bdff00"/><stop offset="0.3744" stop-color="#79ff00"/><stop offset="0.4" stop-color="#00ff00"/><stop offset="0.4581" stop-color="#00ffff"/><stop offset="0.4857" stop-color="#006aff"/><stop offset="0.4926" stop-color="#005aff"/><stop offset="0.5182" stop-color="#0042ff"/><stop offset="0.5419" stop-color="#0041ff"/><stop offset="0.5645" stop-color="#0058ff"/><stop offset="0.5714" stop-color="#0068ff"/><stop offset="0.5803" stop-color="#00a1ff"/><stop offset="0.5911" stop-color="#00ffff"/><stop offset="0.603" stop-color="#00ffbf"/><stop offset="0.6217" stop-color="#00ff66"/><stop offset="0.6394" stop-color="#00ff0a"/><stop offset="0.6424" stop-color="#02ff00"/><stop offset="0.669" stop-color="#5dff00"/><stop offset="0.6877" stop-color="#89ff00"/><stop offset="0.7192" stop-color="#a8ff00"/><stop offset="0.864" stop-color="#f9ff00"/><stop offset="0.8906" stop-color="#fff900"/><stop offset="0.9507" stop-color="#ffe100"/><stop offset="1" stop-color="#ffe000"/></linearGradient>
<linearGradient id="h110" gradientUnits="userSpaceOnUse" x1="306" x2="1321" y1="0" y2="0"><stop offset="0" stop-color="#ff7200"/><stop offset="0.2768" stop-color="#ff7800"/><stop offset="0.2956" stop-color="#ff9500"/><stop offset="0.3094" stop-color="#ffb600"/><stop offset="0.33" stop-color="#ffff00"/><stop offset="0.3567" stop-color="#beff00"/><stop offset="0.3734" stop-color="#7bff00"/><stop offset="0.399" stop-color="#01ff00"/><stop offset="0.4581" stop-color="#00fdff"/><stop offset="0.4857" stop-color="#0065ff"/><stop offset="0.4936" stop-color="#0054ff"/><stop offset="0.5192" stop-color="#003cff"/><stop offset="0.5419" stop-color="#003cff"/><stop offset="0.5645" stop-color="#0054ff"/><stop offset="0.5714" stop-color="#0064ff"/><stop offset="0.5793" stop-color="#0098ff"/><stop offset="0.5852" stop-color="#00caff"/><stop offset="0.5911" stop-color="#00feff"/><stop offset="0.603" stop-color="#00ffbf"/><stop offset="0.6217" stop-color="#00ff66"/><stop offset="0.6394" stop-color="#00ff0a"/><stop offset="0.6424" stop-color="#02ff00"/><stop offset="0.669" stop-color="#5eff00"/><stop offset="0.6867" stop-color="#88ff00"/><stop offset="0.7163" stop-color="#a7ff00"/><stop offset="0.865" stop-color="#f9ff00"/><stop offset="0.8906" stop-color="#fff900"/><stop offset="0.9507" stop-color="#ffe100"/><stop offset="1" stop-color="#ffe000"/></linearGradient>
<linearGradient id="h111" gradientUnits="userSpaceOnUse" x1="306" x2="1321" y1="0" y2="0"><stop offset="0" stop-color="#ff7200"/><stop offset="0.2759" stop-color="#ff7800"/><stop offset="0.2946" stop-color="#ff9400"/><stop offset="0.3094" stop-color="#ffb800"/><stop offset="0.3291" stop-color="#fffe00"/><stop offset="0.3557" stop-color="#bfff00"/><stop offset="0.3724" stop-color="#7cff00"/><stop offset="0.399" stop-color="#00ff02"/><stop offset="0.4571" stop-color="#00ffff"/><stop offset="0.4857" stop-color="#005fff"/><stop offset="0.4966" stop-color="#004cff"/><stop offset="0.5212" stop-color="#0036ff"/><stop offset="0.5438" stop-color="#0039ff"/><stop offset="0.5655" stop-color="#0051ff"/><stop offset="0.5714" stop-color="#0060ff"/><stop offset="0.5783" stop-color="#008eff"/><stop offset="0.5852" stop-color="#00c9ff"/><stop offset="0.5911" stop-color="#00feff"/><stop offset="0.6039" stop-color="#00ffbb"/><stop offset="0.6217" stop-color="#00ff67"/><stop offset="0.6394" stop-color="#00ff0a"/><stop offset="0.6424" stop-color="#02ff00"/><stop offset="0.669" stop-color="#5eff00"/><stop offset="0.6867" stop-color="#88ff00"/><stop offset="0.7163" stop-color="#a7ff00"/><stop offset="0.869" stop-color="#fbff00"/><stop offset="0.8975" stop-color="#fff600"/><stop offset="0.9527" stop-color="#ffe100"/><stop offset="1" stop-color="#ffe000"/></linearGradient>
<linearGradient id="h112" gradientUnits="userSpaceOnUse" x1="306" x2="1321" y1="0" y2="0"><stop offset="0" stop-color="#ff7200"/><stop offset="0.2759" stop-color="#ff7800"/><stop offset="0.2956" stop-color="#ff9700"/><stop offset="0.3094" stop-color="#ffb900"/><stop offset="0.3291" stop-color="#ffff00"/><stop offset="0.3557" stop-color="#bdff00"/><stop offset="0.3724" stop-color="#79ff00"/><stop offset="0.398" stop-color="#00ff00"/><stop offset="0.4571" stop-color="#00fdff"/><stop offset="0.4798" stop-color="#0079ff"/><stop offset="0.4867" stop-color="#0057ff"/><stop offset="0.5094" stop-color="#0039ff"/><stop offset="0.533" stop-color="#0030ff"/><stop offset="0.5547" stop-color="#003eff"/><stop offset="0.5704" stop-color="#0058ff"/><stop offset="0.5754" stop-color="#0075ff"/><stop offset="0.5852" stop-color="#00c8ff"/><stop offset="0.5911" stop-color="#00fdff"/><stop offset="0.6039" stop-color="#00ffbb"/><stop offset="0.6217" stop-color="#00ff67"/><stop offset="0.6394" stop-color="#00ff0a"/><stop offset="0.6424" stop-color="#02ff00"/><stop offset="0.669" stop-color="#5fff00"/><stop offset="0.6867" stop-color="#89ff00"/><stop offset="0.7163" stop-color="#a7ff00"/><stop offset="0.8739" stop-color="#fdff00"/><stop offset="0.9527" stop-color="#ffe100"/><stop offset="1" stop-color="#ffe000"/></linearGradient>
<linearGradient id="h113" gradientUnits="userSpaceOnUse" x1="306" x2="1321" y1="0" y2="0"><stop offset="0" stop-color="#ff7200"/><stop offset="0.2749" stop-color="#ff7800"/><stop offset="0.2936" stop-color="#ff9400"/><stop offset="0.3084" stop-color="#ffb700"/><stop offset="0.3281" stop-color="#fffe00"/><stop offset="0.3547" stop-color="#beff00"/><stop offset="0.3714" stop-color="#7bff00"/><stop offset="0.398" stop-color="#00ff02"/><stop offset="0.4562" stop-color="#00fffe"/><stop offset="0.4759" stop-color="#008fff"/><stop offset="0.4847" stop-color="#0059ff"/><stop offset="0.4956" stop-color="#0045ff"/><stop offset="0.5202" stop-color="#002fff"/><stop offset="0.5429" stop-color="#0030ff"/><stop offset="0.5645" stop-color="#0049ff"/><stop offset="0.5714" stop-color="#0059ff"/><stop offset="0.5773" stop-color="#0082ff"/><stop offset="0.5862" stop-color="#00d1ff"/><stop offset="0.5911" stop-color="#00fdff"/><stop offset="0.6049" stop-color="#00ffb7"/><stop offset="0.6217" stop-color="#00ff67"/><stop offset="0.6394" stop-color="#00ff0a"/><stop offset="0.6424" stop-color="#02ff00"/><stop offset="0.669" stop-color="#5fff00"/><stop offset="0.6867" stop-color="#8aff00"/><stop offset="0.7153" stop-color="#a7ff00"/><stop offset="0.8768" stop-color="#feff00"/><stop offset="0.9507" stop-color="#ffe100"/><stop offset="1" stop-color="#ffe000"/></linearGradient>
<linearGradient id="h114" gradientUnits="userSpaceOnUse" x1="306" x2="1321" y1="0" y2="0"><stop offset="0" stop-color="#ff7200"/><stop offset="0.2749" stop-color="#ff7800"/><stop offset="0.2946" stop-color="#ff9700"/><stop offset="0.3084" stop-color="#ffb900"/><stop offset="0.3281" stop-color="#feff00"/><stop offset="0.3547" stop-color="#bcff00"/><stop offset="0.3714" stop-color="#78ff00"/><stop offset="0.397" stop-color="#00ff01"/><stop offset="0.4562" stop-color="#00feff"/><stop offset="0.4759" stop-color="#008aff"/><stop offset="0.4837" stop-color="#0059ff"/><stop offset="0.4906" stop-color="#0048ff"/><stop offset="0.5153" stop-color="#002dff"/><stop offset="0.5389" stop-color="#002aff"/><stop offset="0.5606" stop-color="#003fff"/><stop offset="0.5714" stop-color="#0055ff"/><stop offset="0.5773" stop-color="#0080ff"/><stop offset="0.5872" stop-color="#00daff"/><stop offset="0.5911" stop-color="#00fcff"/><stop offset="0.6049" stop-color="#00ffb7"/><stop offset="0.6217" stop-color="#00ff67"/><stop offset="0.6394" stop-color="#00ff0a"/><stop offset="0.6424" stop-color="#02ff00"/><stop offset="0.669" stop-color="#60ff00"/><stop offset="0.6867" stop-color="#8bff00"/><stop offset="0.7153" stop-color="#a8ff00"/><stop offset="0.8788" stop-color="#ffff00"/><stop offset="0.9498" stop-color="#ffe100"/><stop offset="1" stop-color="#ffe000"/></linearGradient>
<linearGradient id="h115" gradientUnits="userSpaceOnUse" x1="306" x2="1321" y1="0" y2="0"><stop offset="0" stop-color="#ff7200"/><stop offset="0.2739" stop-color="#ff7800"/><stop offset="0.2926" stop-color="#ff9400"/><stop offset="0.3064" stop-color="#ffb400"/><stop offset="0.3271" stop-color="#fffe00"/><stop offset="0.3537" stop-color="#bdff00"/><stop offset="0.3704" stop-color="#79ff00"/><stop offset="0.3961" stop-color="#01ff00"/><stop offset="0.4552" stop-color="#00fffe"/><stop offset="0.4729" stop-color="#009aff"/><stop offset="0.4828" stop-color="#0058ff"/><stop offset="0.4887" stop-color="#0048ff"/><stop offset="0.5133" stop-color="#002bff"/><stop offset="0.5369" stop-color="#0027ff"/><stop offset="0.5576" stop-color="#0038ff"/><stop offset="0.5714" stop-color="#0053ff"/><stop offset="0.5764" stop-color="#0075ff"/><stop offset="0.5872" stop-color="#00d9ff"/><stop offset="0.5911" stop-color="#00fcff"/><stop offset="0.6049" stop-color="#00ffb7"/><stop offset="0.6217" stop-color="#00ff68"/><stop offset="0.6394" stop-color="#00ff0a"/><stop offset="0.6424" stop-color="#02ff00"/><stop offset="0.669" stop-color="#61ff00"/><stop offset="0.6867" stop-color="#8cff00"/><stop offset="0.7153" stop-color="#a8ff00"/><stop offset="0.8788" stop-color="#ffff00"/><stop offset="0.9498" stop-color="#ffe100"/><stop offset="1" stop-color="#ffe000"/></linearGradient>
<linearGradient id="h116" gradientUnits="userSpaceOnUse" x1="306" x2="1321" y1="0" y2="0"><stop offset="0" stop-color="#ff7200"/><stop offset="0.2739" stop-color="#ff7800"/><stop offset="0.2936" stop-color="#ff9700"/><stop offset="0.3064" stop-color="#ffb600"/><stop offset="0.3261" stop-color="#fffe00"/><stop offset="0.3527" stop-color="#beff00"/><stop offset="0.3695" stop-color="#7bff00"/><stop offset="0.3961" stop-color="#00ff02"/><stop offset="0.4414" stop-color="#00ffc3"/><stop offset="0.4552" stop-color="#00fdff"/><stop offset="0.4739" stop-color="#008eff"/><stop offset="0.4818" stop-color="#0058ff"/><stop offset="0.4867" stop-color="#0049ff"/><stop offset="0.5113" stop-color="#002aff"/><stop offset="0.535" stop-color="#0023ff"/><stop offset="0.5557" stop-color="#0033ff"/><stop offset="0.5714" stop-color="#0050ff"/><stop offset="0.5764" stop-color="#0073ff"/><stop offset="0.5911" stop-color="#00fcff"/><stop offset="0.6049" stop-color="#00ffb7"/><stop offset="0.6217" stop-color="#00ff68"/><stop offset="0.6394" stop-color="#00ff0a"/><stop offset="0.6424" stop-color="#02ff00"/><stop offset="0.67" stop-color="#64ff00"/><stop offset="0.6867" stop-color="#8dff00"/><stop offset="0.7153" stop-color="#a9ff00"/><stop offset="0.8798" stop-color="#fffe00"/><stop offset="0.9498" stop-color="#ffe100"/><stop offset="1" stop-color="#ffe000"/></linearGradient>
<linearGradient id="h117" gradientUnits="userSpaceOnUse" x1="306" x2="1321" y1="0" y2="0"><stop offset="0" stop-color="#ff7200"/><stop offset="0.2729" stop-color="#ff7800"/><stop offset="0.2916" stop-color="#ff9500"/><stop offset="0.3054" stop-color="#ffb500"/><stop offset="0.3261" stop-color="#feff00"/><stop offset="0.3527" stop-color="#bbff00"/><stop offset="0.3704" stop-color="#73ff00"/><stop offset="0.3951" stop-color="#00ff01"/><stop offset="0.4394" stop-color="#00ffbd"/><stop offset="0.4542" stop-color="#00fffe"/><stop offset="0.4709" stop-color="#009fff"/><stop offset="0.4818" stop-color="#0054ff"/><stop offset="0.4877" stop-color="#0044ff"/><stop offset="0.5123" stop-color="#0027ff"/><stop offset="0.536" stop-color="#0022ff"/><stop offset="0.5567" stop-color="#0032ff"/><stop offset="0.5714" stop-color="#004eff"/><stop offset="0.5764" stop-color="#0072ff"/><stop offset="0.5911" stop-color="#00fcff"/><stop offset="0.602" stop-color="#00ffc5"/><stop offset="0.6217" stop-color="#00ff68"/><stop offset="0.6394" stop-color="#00ff0a"/><stop offset="0.6424" stop-color="#02ff00"/><stop offset="0.67" stop-color="#65ff00"/><stop offset="0.6867" stop-color="#8eff00"/><stop offset="0.7143" stop-color="#a9ff00"/><stop offset="0.8808" stop-color="#fffe00"/><stop offset="0.9498" stop-color="#ffe100"/><stop offset="1" stop-color="#ffe000"/></linearGradient>
<linearGradient id="h118" gradientUnits="userSpaceOnUse" x1="306" x2="1321" y1="0" y2="0"><stop offset="0" stop-color="#ff7200"/><stop offset="0.2719" stop-color="#ff7800"/><stop offset="0.2906" stop-color="#ff9400"/><stop offset="0.3044" stop-color="#ffb400"/><stop offset="0.3251" stop-color="#ffff00"/><stop offset="0.3517" stop-color="#bcff00"/><stop offset="0.3695" stop-color="#74ff00"/><stop offset="0.3941" stop-color="#00ff00"/><stop offset="0.4394" stop-color="#00ffc0"/><stop offset="0.4542" stop-color="#00fdff"/><stop offset="0.4719" stop-color="#0094ff"/><stop offset="0.4808" stop-color="#0055ff"/><stop offset="0.4857" stop-color="#0046ff"/><stop offset="0.5103" stop-color="#0027ff"/><stop offset="0.535" stop-color="#0020ff"/><stop offset="0.5557" stop-color="#0030ff"/><stop offset="0.5714" stop-color="#004dff"/><stop offset="0.5764" stop-color="#0071ff"/><stop offset="0.5911" stop-color="#00fcff"/><stop offset="0.599" stop-color="#00ffd4"/><stop offset="0.6217" stop-color="#00ff68"/><stop offset="0.6394" stop-color="#00ff0a"/><stop offset="0.6424" stop-color="#02ff00"/><stop offset="0.67" stop-color="#66ff00"/><stop offset="0.6867" stop-color="#8fff00"/><stop offset="0.7143" stop-color="#a9ff00"/><stop offset="0.8808" stop-color="#fffe00"/><stop offset="0.9498" stop-color="#ffe100"/><stop offset="1" stop-color="#ffe000"/></linearGradient>
<linearGradient id="h119" gradientUnits="userSpaceOnUse" x1="306" x2="1321" y1="0" y2="0"><stop offset="0" stop-color="#ff7200"/><stop offset="0.2719" stop-color="#ff7800"/><stop offset="0.2916" stop-color="#ff9700"/><stop offset="0.3044" stop-color="#ffb600"/><stop offset="0.3241" stop-color="#fffe00"/><stop offset="0.3507" stop-color="#bcff00"/><stop offset="0.3685" stop-color="#74ff00"/><stop offset="0.3931" stop-color="#01ff00"/><stop offset="0.4384" stop-color="#00ffbf"/><stop offset="0.4532" stop-color="#00feff"/><stop offset="0.4709" stop-color="#0096ff"/><stop offset="0.4798" stop-color="#0056ff"/><stop offset="0.4847" stop-color="#0046ff"/><stop offset="0.5094" stop-color="#0027ff"/><stop offset="0.534" stop-color="#001fff"/><stop offset="0.5547" stop-color="#002eff"/><stop offset="0.5714" stop-color="#004dff"/><stop offset="0.5764" stop-color="#0070ff"/><stop offset="0.5911" stop-color="#00fcff"/><stop offset="0.598" stop-color="#00ffd9"/><stop offset="0.6217" stop-color="#00ff68"/><stop offset="0.6394" stop-color="#00ff0a"/><stop offset="0.6424" stop-color="#02ff00"/><stop offset="0.67" stop-color="#66ff00"/><stop offset="0.6867" stop-color="#90ff00"/><stop offset="0.7143" stop-color="#aaff00"/><stop offset="0.8818" stop-color="#fffd00"/><stop offset="0.9498" stop-color="#ffe100"/><stop offset="1" stop-color="#ffe000"/></linearGradient>
<linearGradient id="h120" gradientUnits="userSpaceOnUse" x1="306" x2="1321" y1="0" y2="0"><stop offset="0" stop-color="#ff7200"/><stop offset="0.2709" stop-color="#ff7800"/><stop offset="0.2897" stop-color="#ff9500"/><stop offset="0.3034" stop-color="#ffb600"/><stop offset="0.3232" stop-color="#fffe00"/><stop offset="0.3498" stop-color="#bcff00"/><stop offset="0.3675" stop-color="#74ff00"/><stop offset="0.3921" stop-color="#01ff00"/><stop offset="0.4374" stop-color="#00ffbe"/><stop offset="0.4522" stop-color="#00fffe"/><stop offset="0.465" stop-color="#00b7ff"/><stop offset="0.4739" stop-color="#007bff"/><stop offset="0.4798" stop-color="#0053ff"/><stop offset="0.4857" stop-color="#0043ff"/><stop offset="0.5103" stop-color="#0026ff"/><stop offset="0.535" stop-color="#001fff"/><stop offset="0.5557" stop-color="#002fff"/><stop offset="0.5714" stop-color="#004cff"/><stop offset="0.5764" stop-color="#0070ff"/><stop offset="0.5911" stop-color="#00fcff"/><stop offset="0.598" stop-color="#00ffd9"/><stop offset="0.6217" stop-color="#00ff68"/><stop offset="0.6394" stop-color="#00ff0a"/><stop offset="0.6424" stop-color="#02ff00"/><stop offset="0.67" stop-color="#67ff00"/><stop offset="0.6867" stop-color="#90ff00"/><stop offset="0.7143" stop-color="#aaff00"/><stop offset="0.8818" stop-color="#fffd00"/><stop offset="0.9498" stop-color="#ffe100"/><stop offset="1" stop-color="#ffe000"/></linearGradient>
<linearGradient id="h121" gradientUnits="userSpaceOnUse" x1="306" x2="1321" y1="0" y2="0"><stop offset="0" stop-color="#ff7300"/><stop offset="0.27" stop-color="#ff7800"/><stop offset="0.2887" stop-color="#ff9400"/><stop offset="0.3025" stop-color="#ffb500"/><stop offset="0.3222" stop-color="#fffe00"/><stop offset="0.3488" stop-color="#bcff00"/><stop offset="0.3655" stop-color="#79ff00"/><stop offset="0.3911" stop-color="#01ff00"/><stop offset="0.4355" stop-color="#00ffb9"/><stop offset="0.4522" stop-color="#00fdff"/><stop offset="0.47" stop-color="#0093ff"/><stop offset="0.4788" stop-color="#0054ff"/><stop offset="0.4837" stop-color="#0045ff"/><stop offset="0.5094" stop-color="#0027ff"/><stop offset="0.535" stop-color="#001fff"/><stop offset="0.5557" stop-color="#002fff"/><stop offset="0.5714" stop-color="#004dff"/><stop offset="0.5764" stop-color="#0070ff"/><stop offset="0.5911" stop-color="#00fcff"/><stop offset="0.599" stop-color="#00ffd3"/><stop offset="0.6217" stop-color="#00ff68"/><stop offset="0.6394" stop-color="#00ff0a"/><stop offset="0.6424" stop-color="#02ff00"/><stop offset="0.67" stop-color="#68ff00"/><stop offset="0.6867" stop-color="#91ff00"/><stop offset="0.7133" stop-color="#aaff00"/><stop offset="0.8818" stop-color="#fffd00"/><stop offset="0.9498" stop-color="#ffe100"/><stop offset="1" stop-color="#ffe000"/></linearGradient>
<linearGradient id="h122" gradientUnits="userSpaceOnUse" x1="306" x2="1321" y1="0" y2="0"><stop offset="0" stop-color="#ff7300"/><stop offset="0.27" stop-color="#ff7800"/><stop offset="0.2887" stop-color="#ff9500"/><stop offset="0.3015" stop-color="#ffb300"/><stop offset="0.3212" stop-color="#fffe00"/><stop offset="0.3478" stop-color="#bdff00"/><stop offset="0.3645" stop-color="#79ff00"/><stop offset="0.3901" stop-color="#01ff00"/><stop offset="0.4335" stop-color="#00ffb5"/><stop offset="0.4512" stop-color="#00feff"/><stop offset="0.469" stop-color="#0095ff"/><stop offset="0.4778" stop-color="#0056ff"/><stop offset="0.4828" stop-color="#0046ff"/><stop offset="0.5084" stop-color="#0027ff"/><stop offset="0.534" stop-color="#0020ff"/><stop offset="0.5547" stop-color="#002eff"/><stop offset="0.5714" stop-color="#004dff"/><stop offset="0.5764" stop-color="#0071ff"/><stop offset="0.5911" stop-color="#00fcff"/><stop offset="0.6039" stop-color="#00ffbc"/><stop offset="0.6217" stop-color="#00ff67"/><stop offset="0.6394" stop-color="#00ff0a"/><stop offset="0.6424" stop-color="#02ff00"/><stop offset="0.67" stop-color="#68ff00"/><stop offset="0.6867" stop-color="#92ff00"/><stop offset="0.7133" stop-color="#abff00"/><stop offset="0.8818" stop-color="#fffd00"/><stop offset="0.9498" stop-color="#ffe100"/><stop offset="1" stop-color="#ffe000"/></linearGradient>
<linearGradient id="h123" gradientUnits="userSpaceOnUse" x1="306" x2="1321" y1="0" y2="0"><stop offset="0" stop-color="#ff7300"/><stop offset="0.269" stop-color="#ff7800"/><stop offset="0.2877" stop-color="#ff9400"/><stop offset="0.3015" stop-color="#ffb500"/><stop offset="0.3202" stop-color="#fffd00"/><stop offset="0.3468" stop-color="#beff00"/><stop offset="0.3635" stop-color="#7aff00"/><stop offset="0.3892" stop-color="#01ff01"/><stop offset="0.4315" stop-color="#00ffb1"/><stop offset="0.4502" stop-color="#00feff"/><stop offset="0.468" stop-color="#0096ff"/><stop offset="0.4778" stop-color="#0053ff"/><stop offset="0.4837" stop-color="#0044ff"/><stop offset="0.5094" stop-color="#0027ff"/><stop offset="0.535" stop-color="#0021ff"/><stop offset="0.5567" stop-color="#0032ff"/><stop offset="0.5714" stop-color="#004dff"/><stop offset="0.5764" stop-color="#0071ff"/><stop offset="0.5911" stop-color="#00fcff"/><stop offset="0.6049" stop-color="#00ffb7"/><stop offset="0.6217" stop-color="#00ff67"/><stop offset="0.6394" stop-color="#00ff0a"/><stop offset="0.6424" stop-color="#03ff00"/><stop offset="0.67" stop-color="#69ff00"/><stop offset="0.6857" stop-color="#91ff00"/><stop offset="0.7084" stop-color="#a8ff00"/><stop offset="0.8818" stop-color="#fffd00"/><stop offset="0.9498" stop-color="#ffe100"/><stop offset="1" stop-color="#ffe000"/></linearGradient>
<linearGradient id="h124" gradientUnits="userSpaceOnUse" x1="306" x2="1321" y1="0" y2="0"><stop offset="0" stop-color="#ff7300"/><stop offset="0.269" stop-color="#ff7900"/><stop offset="0.2877" stop-color="#ff9500"/><stop offset="0.3005" stop-color="#ffb400"/><stop offset="0.3202" stop-color="#feff00"/><stop offset="0.3468" stop-color="#bbff00"/><stop offset="0.3635" stop-color="#75ff00"/><stop offset="0.3882" stop-color="#00ff01"/><stop offset="0.4305" stop-color="#00ffb1"/><stop offset="0.4493" stop-color="#00fffe"/><stop offset="0.466" stop-color="#009dff"/><stop offset="0.4768" stop-color="#0054ff"/><stop offset="0.4828" stop-color="#0045ff"/><stop offset="0.5084" stop-color="#0028ff"/><stop offset="0.535" stop-color="#0021ff"/><stop offset="0.5567" stop-color="#0032ff"/><stop offset="0.5714" stop-color="#004dff"/><stop offset="0.5764" stop-color="#0071ff"/><stop offset="0.5911" stop-color="#00fcff"/><stop offset="0.6049" stop-color="#00ffb7"/><stop offset="0.6217" stop-color="#00ff66"/><stop offset="0.6394" stop-color="#00ff09"/><stop offset="0.6424" stop-color="#03ff00"/><stop offset="0.67" stop-color="#6aff00"/><stop offset="0.6857" stop-color="#92ff00"/><stop offset="0.7084" stop-color="#a9ff00"/><stop offset="0.8828" stop-color="#fffd00"/><stop offset="0.9498" stop-color="#ffe100"/><stop offset="1" stop-color="#ffe000"/></linearGradient>
<linearGradient id="h125" gradientUnits="userSpaceOnUse" x1="306" x2="1321" y1="0" y2="0"><stop offset="0" stop-color="#ff7300"/><stop offset="0.268" stop-color="#ff7800"/><stop offset="0.2867" stop-color="#ff9400"/><stop offset="0.2995" stop-color="#ffb300"/><stop offset="0.3192" stop-color="#feff00"/><stop offset="0.3458" stop-color="#bbff00"/><stop offset="0.3616" stop-color="#79ff00"/><stop offset="0.3862" stop-color="#02ff00"/><stop offset="0.4305" stop-color="#00ffb5"/><stop offset="0.4483" stop-color="#00fffe"/><stop offset="0.465" stop-color="#009eff"/><stop offset="0.4759" stop-color="#0055ff"/><stop offset="0.4808" stop-color="#0047ff"/><stop offset="0.5074" stop-color="#0029ff"/><stop offset="0.534" stop-color="#0022ff"/><stop offset="0.5557" stop-color="#0032ff"/><stop offset="0.5714" stop-color="#004eff"/><stop offset="0.5764" stop-color="#0071ff"/><stop offset="0.5911" stop-color="#00fcff"/><stop offset="0.6039" stop-color="#00ffbb"/><stop offset="0.6217" stop-color="#00ff66"/><stop offset="0.6394" stop-color="#00ff09"/><stop offset="0.6424" stop-color="#03ff00"/><stop offset="0.67" stop-color="#6bff00"/><stop offset="0.6857" stop-color="#93ff00"/><stop offset="0.7074" stop-color="#a9ff00"/><stop offset="0.8828" stop-color="#fffd00"/><stop offset="0.9498" stop-color="#ffe100"/><stop offset="1" stop-color="#ffe000"/></linearGradient>
<linearGradient id="h126" gradientUnits="userSpaceOnUse" x1="306" x2="1321" y1="0" y2="0"><stop offset="0" stop-color="#ff7300"/><stop offset="0.268" stop-color="#ff7900"/><stop offset="0.2867" stop-color="#ff9600"/><stop offset="0.2985" stop-color="#ffb200"/><stop offset="0.3172" stop-color="#fffd00"/><stop offset="0.3438" stop-color="#bfff00"/><stop offset="0.3586" stop-color="#82ff00"/><stop offset="0.3852" stop-color="#01ff00"/><stop offset="0.4276" stop-color="#00ffae"/><stop offset="0.4473" stop-color="#00fffe"/><stop offset="0.4631" stop-color="#00a4ff"/><stop offset="0.4749" stop-color="#0057ff"/><stop offset="0.4798" stop-color="#0048ff"/><stop offset="0.5064" stop-color="#002aff"/><stop offset="0.533" stop-color="#0023ff"/><stop offset="0.5547" stop-color="#0031ff"/><stop offset="0.5714" stop-color="#004eff"/><stop offset="0.5764" stop-color="#0071ff"/><stop offset="0.5911" stop-color="#00fdff"/><stop offset="0.6039" stop-color="#00ffba"/><stop offset="0.6217" stop-color="#00ff65"/><stop offset="0.6394" stop-color="#00ff08"/><stop offset="0.6424" stop-color="#04ff00"/><stop offset="0.67" stop-color="#6cff00"/><stop offset="0.6857" stop-color="#94ff00"/><stop offset="0.7074" stop-color="#aaff00"/><stop offset="0.8828" stop-color="#fffd00"/><stop offset="0.9498" stop-color="#ffe100"/><stop offset="1" stop-color="#ffe000"/></linearGradient>
<linearGradient id="h127" gradientUnits="userSpaceOnUse" x1="306" x2="1321" y1="0" y2="0"><stop offset="0" stop-color="#ff7400"/><stop offset="0.267" stop-color="#ff7900"/><stop offset="0.2857" stop-color="#ff9500"/><stop offset="0.2975" stop-color="#ffb100"/><stop offset="0.3163" stop-color="#fffd00"/><stop offset="0.3429" stop-color="#bfff00"/><stop offset="0.3576" stop-color="#82ff00"/><stop offset="0.3842" stop-color="#00ff01"/><stop offset="0.4256" stop-color="#00ffaa"/><stop offset="0.4463" stop-color="#00fffe"/><stop offset="0.4591" stop-color="#00b6ff"/><stop offset="0.4749" stop-color="#0053ff"/><stop offset="0.4828" stop-color="#0043ff"/><stop offset="0.5103" stop-color="#0028ff"/><stop offset="0.5369" stop-color="#0025ff"/><stop offset="0.5586" stop-color="#0037ff"/><stop offset="0.5714" stop-color="#004fff"/><stop offset="0.5764" stop-color="#0071ff"/><stop offset="0.5872" stop-color="#00d9ff"/><stop offset="0.5911" stop-color="#00fdff"/><stop offset="0.6039" stop-color="#00ffba"/><stop offset="0.6217" stop-color="#00ff64"/><stop offset="0.6394" stop-color="#00ff08"/><stop offset="0.6424" stop-color="#04ff00"/><stop offset="0.67" stop-color="#6cff00"/><stop offset="0.6857" stop-color="#95ff00"/><stop offset="0.7074" stop-color="#abff00"/><stop offset="0.8828" stop-color="#fffd00"/><stop offset="0.9498" stop-color="#ffe100"/><stop offset="1" stop-color="#ffe000"/></linearGradient>
<linearGradient id="h128" gradientUnits="userSpaceOnUse" x1="306" x2="1321" y1="0" y2="0"><stop offset="0" stop-color="#ff7400"/><stop offset="0.267" stop-color="#ff7a00"/><stop offset="0.2857" stop-color="#ff9600"/><stop offset="0.2975" stop-color="#ffb300"/><stop offset="0.3153" stop-color="#fffd00"/><stop offset="0.3419" stop-color="#c0ff00"/><stop offset="0.3567" stop-color="#83ff00"/><stop offset="0.3833" stop-color="#00ff01"/><stop offset="0.4246" stop-color="#00ffa9"/><stop offset="0.4463" stop-color="#00fdff"/><stop offset="0.466" stop-color="#0086ff"/><stop offset="0.4739" stop-color="#0055ff"/><stop offset="0.4798" stop-color="#0047ff"/><stop offset="0.5074" stop-color="#002aff"/><stop offset="0.535" stop-color="#0025ff"/><stop offset="0.5576" stop-color="#0037ff"/><stop offset="0.5714" stop-color="#004fff"/><stop offset="0.5764" stop-color="#0072ff"/><stop offset="0.5862" stop-color="#00cfff"/><stop offset="0.5911" stop-color="#00fdff"/><stop offset="0.603" stop-color="#00ffbe"/><stop offset="0.6217" stop-color="#00ff63"/><stop offset="0.6394" stop-color="#00ff07"/><stop offset="0.6424" stop-color="#05ff00"/><stop offset="0.67" stop-color="#6dff00"/><stop offset="0.6857" stop-color="#96ff00"/><stop offset="0.7074" stop-color="#abff00"/><stop offset="0.8828" stop-color="#fffd00"/><stop offset="0.9498" stop-color="#ffe100"/><stop offset="1" stop-color="#ffe000"/></linearGradient>
<linearGradient id="h129" gradientUnits="userSpaceOnUse" x1="306" x2="1321" y1="0" y2="0"><stop offset="0" stop-color="#ff7400"/><stop offset="0.266" stop-color="#ff7a00"/><stop offset="0.2847" stop-color="#ff9500"/><stop offset="0.2966" stop-color="#ffb200"/><stop offset="0.3143" stop-color="#fffc00"/><stop offset="0.3409" stop-color="#c0ff00"/><stop offset="0.3547" stop-color="#88ff00"/><stop offset="0.3813" stop-color="#03ff00"/><stop offset="0.4246" stop-color="#00ffad"/><stop offset="0.4453" stop-color="#00feff"/><stop offset="0.466" stop-color="#0082ff"/><stop offset="0.4739" stop-color="#0053ff"/><stop offset="0.4847" stop-color="#0040ff"/><stop offset="0.5123" stop-color="#0028ff"/><stop offset="0.5389" stop-color="#0027ff"/><stop offset="0.5616" stop-color="#003dff"/><stop offset="0.5714" stop-color="#0050ff"/><stop offset="0.5764" stop-color="#0072ff"/><stop offset="0.5862" stop-color="#00cfff"/><stop offset="0.5911" stop-color="#00feff"/><stop offset="0.603" stop-color="#00ffbd"/><stop offset="0.6217" stop-color="#00ff63"/><stop offset="0.6394" stop-color="#00ff06"/><stop offset="0.6424" stop-color="#06ff00"/><stop offset="0.67" stop-color="#6eff00"/><stop offset="0.6857" stop-color="#97ff00"/><stop offset="0.7074" stop-color="#acff00"/><stop offset="0.8837" stop-color="#fffd00"/><stop offset="0.9507" stop-color="#ffe100"/><stop offset="1" stop-color="#ffe000"/></linearGradient>
<linearGradient id="h130" gradientUnits="userSpaceOnUse" x1="306" x2="1321" y1="0" y2="0"><stop offset="0" stop-color="#ff7400"/><stop offset="0.266" stop-color="#ff7a00"/><stop offset="0.2847" stop-color="#ff9700"/><stop offset="0.2956" stop-color="#ffb100"/><stop offset="0.3133" stop-color="#fffc00"/><stop offset="0.3399" stop-color="#c1ff00"/><stop offset="0.3537" stop-color="#88ff00"/><stop offset="0.3803" stop-color="#03ff00"/><stop offset="0.4443" stop-color="#00ffff"/><stop offset="0.464" stop-color="#008aff"/><stop offset="0.4729" stop-color="#0055ff"/><stop offset="0.4808" stop-color="#0045ff"/><stop offset="0.5084" stop-color="#002bff"/><stop offset="0.536" stop-color="#0027ff"/><stop offset="0.5586" stop-color="#003aff"/><stop offset="0.5714" stop-color="#0050ff"/><stop offset="0.5764" stop-color="#0072ff"/><stop offset="0.5862" stop-color="#00cfff"/><stop offset="0.5911" stop-color="#00feff"/><stop offset="0.602" stop-color="#00ffc1"/><stop offset="0.6207" stop-color="#00ff67"/><stop offset="0.6384" stop-color="#00ff0a"/><stop offset="0.6414" stop-color="#02ff00"/><stop offset="0.67" stop-color="#6fff00"/><stop offset="0.6857" stop-color="#98ff00"/><stop offset="0.7064" stop-color="#acff00"/><stop offset="0.8837" stop-color="#fffd00"/><stop offset="0.9507" stop-color="#ffe100"/><stop offset="1" stop-color="#ffe000"/></linearGradient>
<linearGradient id="h131" gradientUnits="userSpaceOnUse" x1="306" x2="1321" y1="0" y2="0"><stop offset="0" stop-color="#ff7500"/><stop offset="0.265" stop-color="#ff7a00"/><stop offset="0.2837" stop-color="#ff9600"/><stop offset="0.2946" stop-color="#ffb000"/><stop offset="0.3123" stop-color="#fffd00"/><stop offset="0.3389" stop-color="#c1ff00"/><stop offset="0.3527" stop-color="#88ff00"/><stop offset="0.3793" stop-color="#02ff00"/><stop offset="0.4424" stop-color="#00fff9"/><stop offset="0.4453" stop-color="#00f6ff"/><stop offset="0.4719" stop-color="#0057ff"/><stop offset="0.4788" stop-color="#0047ff"/><stop offset="0.5074" stop-color="#002cff"/><stop offset="0.535" stop-color="#0028ff"/><stop offset="0.5576" stop-color="#0039ff"/><stop offset="0.5714" stop-color="#0051ff"/><stop offset="0.5764" stop-color="#0072ff"/><stop offset="0.5862" stop-color="#00d0ff"/><stop offset="0.5911" stop-color="#00feff"/><stop offset="0.602" stop-color="#00ffc1"/><stop offset="0.6207" stop-color="#00ff66"/><stop offset="0.6384" stop-color="#00ff09"/><stop offset="0.6414" stop-color="#03ff00"/><stop offset="0.67" stop-color="#70ff00"/><stop offset="0.6857" stop-color="#99ff00"/><stop offset="0.7064" stop-color="#adff00"/><stop offset="0.8837" stop-color="#fffd00"/><stop offset="0.9507" stop-color="#ffe100"/><stop offset="1" stop-color="#ffe000"/></linearGradient>
<linearGradient id="h132" gradientUnits="userSpaceOnUse" x1="306" x2="1321" y1="0" y2="0"><stop offset="0" stop-color="#ff7500"/><stop offset="0.264" stop-color="#ff7a00"/><stop offset="0.2828" stop-color="#ff9600"/><stop offset="0.2936" stop-color="#ffb000"/><stop offset="0.3113" stop-color="#fffd00"/><stop offset="0.3389" stop-color="#beff00"/><stop offset="0.3527" stop-color="#83ff00"/><stop offset="0.3783" stop-color="#02ff00"/><stop offset="0.4414" stop-color="#00fff8"/><stop offset="0.4443" stop-color="#00f8ff"/><stop offset="0.4709" stop-color="#0059ff"/><stop offset="0.4768" stop-color="#004aff"/><stop offset="0.5054" stop-color="#002eff"/><stop offset="0.534" stop-color="#0028ff"/><stop offset="0.5576" stop-color="#003aff"/><stop offset="0.5714" stop-color="#0051ff"/><stop offset="0.5764" stop-color="#0072ff"/><stop offset="0.5852" stop-color="#00c5ff"/><stop offset="0.5911" stop-color="#00ffff"/><stop offset="0.601" stop-color="#00ffc5"/><stop offset="0.6207" stop-color="#00ff65"/><stop offset="0.6384" stop-color="#00ff09"/><stop offset="0.6414" stop-color="#03ff00"/><stop offset="0.67" stop-color="#71ff00"/><stop offset="0.6857" stop-color="#9aff00"/><stop offset="0.7064" stop-color="#aeff00"/><stop offset="0.8837" stop-color="#fffd00"/><stop offset="0.9507" stop-color="#ffe100"/><stop offset="1" stop-color="#ffe000"/></linearGradient>
<linearGradient id="h133" gradientUnits="userSpaceOnUse" x1="306" x2="1321" y1="0" y2="0"><stop offset="0" stop-color="#ff7500"/><stop offset="0.264" stop-color="#ff7b00"/><stop offset="0.2828" stop-color="#ff9700"/><stop offset="0.2926" stop-color="#ffaf00"/><stop offset="0.3103" stop-color="#fffe00"/><stop offset="0.3379" stop-color="#beff00"/><stop offset="0.3517" stop-color="#83ff00"/><stop offset="0.3773" stop-color="#02ff00"/><stop offset="0.4424" stop-color="#00feff"/><stop offset="0.47" stop-color="#005bff"/><stop offset="0.4759" stop-color="#004bff"/><stop offset="0.5044" stop-color="#002fff"/><stop offset="0.533" stop-color="#0029ff"/><stop offset="0.5567" stop-color="#0039ff"/><stop offset="0.5714" stop-color="#0052ff"/><stop offset="0.5764" stop-color="#0073ff"/><stop offset="0.5852" stop-color="#00c5ff"/><stop offset="0.5901" stop-color="#00f8ff"/><stop offset="0.5911" stop-color="#00ffff"/><stop offset="0.601" stop-color="#00ffc5"/><stop offset="0.6207" stop-color="#00ff64"/><stop offset="0.6384" stop-color="#00ff08"/><stop offset="0.6414" stop-color="#04ff00"/><stop offset="0.67" stop-color="#72ff00"/><stop offset="0.6857" stop-color="#9bff00"/><stop offset="0.7064" stop-color="#afff00"/><stop offset="0.8837" stop-color="#fffd00"/><stop offset="0.9507" stop-color="#ffe100"/><stop offset="1" stop-color="#ffe000"/></linearGradient>
<linearGradient id="h134" gradientUnits="userSpaceOnUse" x1="306" x2="1321" y1="0" y2="0"><stop offset="0" stop-color="#ff7600"/><stop offset="0.2631" stop-color="#ff7b00"/><stop offset="0.2818" stop-color="#ff9700"/><stop offset="0.2916" stop-color="#ffaf00"/><stop offset="0.3084" stop-color="#fffb00"/><stop offset="0.3182" stop-color="#e9ff00"/><stop offset="0.3369" stop-color="#bdff00"/><stop offset="0.3507" stop-color="#83ff00"/><stop offset="0.3764" stop-color="#02ff00"/><stop offset="0.4404" stop-color="#00fffa"/><stop offset="0.4433" stop-color="#00f6ff"/><stop offset="0.47" stop-color="#0059ff"/><stop offset="0.4768" stop-color="#004aff"/><stop offset="0.5054" stop-color="#002fff"/><stop offset="0.534" stop-color="#002aff"/><stop offset="0.5576" stop-color="#003bff"/><stop offset="0.5714" stop-color="#0052ff"/><stop offset="0.5764" stop-color="#0073ff"/><stop offset="0.5852" stop-color="#00c6ff"/><stop offset="0.5901" stop-color="#00f8ff"/><stop offset="0.5911" stop-color="#00fffe"/><stop offset="0.601" stop-color="#00ffc4"/><stop offset="0.6207" stop-color="#00ff63"/><stop offset="0.6384" stop-color="#00ff07"/><stop offset="0.6414" stop-color="#05ff00"/><stop offset="0.67" stop-color="#73ff00"/><stop offset="0.6857" stop-color="#9cff00"/><stop offset="0.7064" stop-color="#b0ff00"/><stop offset="0.8837" stop-color="#fffd00"/><stop offset="0.9507" stop-color="#ffe100"/><stop offset="1" stop-color="#ffe000"/></linearGradient>
<linearGradient id="h135" gradientUnits="userSpaceOnUse" x1="306" x2="1321" y1="0" y2="0"><stop offset="0" stop-color="#ff7600"/><stop offset="0.2621" stop-color="#ff7c00"/><stop offset="0.2808" stop-color="#ff9700"/><stop offset="0.2906" stop-color="#ffaf00"/><stop offset="0.3074" stop-color="#fffc00"/><stop offset="0.335" stop-color="#c0ff00"/><stop offset="0.3478" stop-color="#8cff00"/><stop offset="0.3754" stop-color="#02ff00"/><stop offset="0.4394" stop-color="#00fff8"/><stop offset="0.4424" stop-color="#00f8ff"/><stop offset="0.469" stop-color="#005cff"/><stop offset="0.4749" stop-color="#004cff"/><stop offset="0.5044" stop-color="#0030ff"/><stop offset="0.534" stop-color="#002bff"/><stop offset="0.5576" stop-color="#003cff"/><stop offset="0.5714" stop-color="#0053ff"/><stop offset="0.5764" stop-color="#0073ff"/><stop offset="0.5852" stop-color="#00c6ff"/><stop offset="0.5901" stop-color="#00f9ff"/><stop offset="0.5911" stop-color="#00fffe"/><stop offset="0.601" stop-color="#00ffc3"/><stop offset="0.6217" stop-color="#00ff5d"/><stop offset="0.6384" stop-color="#00ff06"/><stop offset="0.6414" stop-color="#06ff00"/><stop offset="0.67" stop-color="#74ff00"/><stop offset="0.6857" stop-color="#9dff00"/><stop offset="0.7064" stop-color="#b1ff00"/><stop offset="0.8847" stop-color="#fffc00"/><stop offset="0.9507" stop-color="#ffe100"/><stop offset="1" stop-color="#ffe000"/></linearGradient>
<linearGradient id="h136" gradientUnits="userSpaceOnUse" x1="306" x2="1321" y1="0" y2="0"><stop offset="0" stop-color="#ff7600"/><stop offset="0.2611" stop-color="#ff7c00"/><stop offset="0.2798" stop-color="#ff9700"/><stop offset="0.2897" stop-color="#ffaf00"/><stop offset="0.3064" stop-color="#fffe00"/><stop offset="0.334" stop-color="#c0ff00"/><stop offset="0.3478" stop-color="#87ff00"/><stop offset="0.3744" stop-color="#02ff00"/><stop offset="0.4384" stop-color="#00fff6"/><stop offset="0.4414" stop-color="#00faff"/><stop offset="0.468" stop-color="#005eff"/><stop offset="0.4739" stop-color="#004eff"/><stop offset="0.5034" stop-color="#0031ff"/><stop offset="0.533" stop-color="#002cff"/><stop offset="0.5576" stop-color="#003dff"/><stop offset="0.5714" stop-color="#0053ff"/><stop offset="0.5764" stop-color="#0073ff"/><stop offset="0.5852" stop-color="#00c6ff"/><stop offset="0.5901" stop-color="#00f9ff"/><stop offset="0.5921" stop-color="#00fff6"/><stop offset="0.603" stop-color="#00ffb9"/><stop offset="0.6217" stop-color="#00ff5c"/><stop offset="0.6384" stop-color="#00ff06"/><stop offset="0.6424" stop-color="#0bff00"/><stop offset="0.67" stop-color="#75ff00"/><stop offset="0.6857" stop-color="#9fff00"/><stop offset="0.7064" stop-color="#b2ff00"/><stop offset="0.8847" stop-color="#fffc00"/><stop offset="0.9507" stop-color="#ffe100"/><stop offset="1" stop-color="#ffe000"/></linearGradient>
<linearGradient id="h137" gradientUnits="userSpaceOnUse" x1="306" x2="1321" y1="0" y2="0"><stop offset="0" stop-color="#ff7700"/><stop offset="0.2601" stop-color="#ff7c00"/><stop offset="0.2788" stop-color="#ff9700"/><stop offset="0.2887" stop-color="#ffb000"/><stop offset="0.3044" stop-color="#fffc00"/><stop offset="0.333" stop-color="#bfff00"/><stop offset="0.3468" stop-color="#87ff00"/><stop offset="0.3734" stop-color="#03ff00"/><stop offset="0.4404" stop-color="#00fdff"/><stop offset="0.468" stop-color="#005dff"/><stop offset="0.4739" stop-color="#004eff"/><stop offset="0.5034" stop-color="#0032ff"/><stop offset="0.533" stop-color="#002cff"/><stop offset="0.5576" stop-color="#003eff"/><stop offset="0.5714" stop-color="#0054ff"/><stop offset="0.5764" stop-color="#0074ff"/><stop offset="0.5842" stop-color="#00bbff"/><stop offset="0.5901" stop-color="#00faff"/><stop offset="0.5921" stop-color="#00fff6"/><stop offset="0.603" stop-color="#00ffb9"/><stop offset="0.6217" stop-color="#00ff5b"/><stop offset="0.6384" stop-color="#00ff05"/><stop offset="0.6424" stop-color="#0bff00"/><stop offset="0.67" stop-color="#77ff00"/><stop offset="0.6857" stop-color="#a0ff00"/><stop offset="0.7064" stop-color="#b3ff00"/><stop offset="0.8847" stop-color="#fffc00"/><stop offset="0.9507" stop-color="#ffe100"/><stop offset="1" stop-color="#ffe000"/></linearGradient>
<linearGradient id="h138" gradientUnits="userSpaceOnUse" x1="306" x2="1321" y1="0" y2="0"><stop offset="0" stop-color="#ff7700"/><stop offset="0.2591" stop-color="#ff7c00"/><stop offset="0.2778" stop-color="#ff9700"/><stop offset="0.2877" stop-color="#ffb000"/><stop offset="0.3034" stop-color="#fffd00"/><stop offset="0.332" stop-color="#bfff00"/><stop offset="0.3458" stop-color="#87ff00"/><stop offset="0.3734" stop-color="#00ff00"/><stop offset="0.4374" stop-color="#00fff5"/><stop offset="0.4404" stop-color="#00fbff"/><stop offset="0.467" stop-color="#0060ff"/><stop offset="0.4729" stop-color="#004fff"/><stop offset="0.5025" stop-color="#0033ff"/><stop offset="0.533" stop-color="#002dff"/><stop offset="0.5576" stop-color="#003eff"/><stop offset="0.5714" stop-color="#0055ff"/><stop offset="0.5764" stop-color="#0074ff"/><stop offset="0.5842" stop-color="#00bbff"/><stop offset="0.5901" stop-color="#00faff"/><stop offset="0.5921" stop-color="#00fff5"/><stop offset="0.603" stop-color="#00ffb8"/><stop offset="0.6217" stop-color="#00ff5a"/><stop offset="0.6384" stop-color="#00ff04"/><stop offset="0.6424" stop-color="#0cff00"/><stop offset="0.67" stop-color="#78ff00"/><stop offset="0.6857" stop-color="#a1ff00"/><stop offset="0.7054" stop-color="#b3ff00"/><stop offset="0.8847" stop-color="#fffc00"/><stop offset="0.9507" stop-color="#ffe100"/><stop offset="1" stop-color="#ffe000"/></linearGradient>
<linearGradient id="h139" gradientUnits="userSpaceOnUse" x1="306" x2="1321" y1="0" y2="0"><stop offset="0" stop-color="#ff7700"/><stop offset="0.2581" stop-color="#ff7c00"/><stop offset="0.2768" stop-color="#ff9700"/><stop offset="0.2867" stop-color="#ffaf00"/><stop offset="0.3025" stop-color="#fffd00"/><stop offset="0.331" stop-color="#c0ff00"/><stop offset="0.3448" stop-color="#89ff00"/><stop offset="0.3724" stop-color="#02ff00"/><stop offset="0.4365" stop-color="#00fff2"/><stop offset="0.4394" stop-color="#00ffff"/><stop offset="0.467" stop-color="#005fff"/><stop offset="0.4729" stop-color="#004fff"/><stop offset="0.5034" stop-color="#0033ff"/><stop offset="0.534" stop-color="#002eff"/><stop offset="0.5586" stop-color="#0040ff"/><stop offset="0.5714" stop-color="#0055ff"/><stop offset="0.5764" stop-color="#0074ff"/><stop offset="0.5842" stop-color="#00bbff"/><stop offset="0.5901" stop-color="#00faff"/><stop offset="0.5921" stop-color="#00fff5"/><stop offset="0.603" stop-color="#00ffb7"/><stop offset="0.6217" stop-color="#00ff59"/><stop offset="0.6384" stop-color="#00ff03"/><stop offset="0.6483" stop-color="#25ff00"/><stop offset="0.6719" stop-color="#7fff00"/><stop offset="0.6867" stop-color="#a4ff00"/><stop offset="0.7123" stop-color="#b8ff00"/><stop offset="0.8847" stop-color="#fffc00"/><stop offset="0.9507" stop-color="#ffe100"/><stop offset="1" stop-color="#ffe000"/></linearGradient>
<linearGradient id="h140" gradientUnits="userSpaceOnUse" x1="306" x2="1321" y1="0" y2="0"><stop offset="0" stop-color="#ff7700"/><stop offset="0.2581" stop-color="#ff7d00"/><stop offset="0.2768" stop-color="#ff9800"/><stop offset="0.2857" stop-color="#ffaf00"/><stop offset="0.3015" stop-color="#fffd00"/><stop offset="0.331" stop-color="#bdff00"/><stop offset="0.3458" stop-color="#80ff00"/><stop offset="0.3724" stop-color="#00ff00"/><stop offset="0.4365" stop-color="#00fff3"/><stop offset="0.4394" stop-color="#00feff"/><stop offset="0.467" stop-color="#005fff"/><stop offset="0.4729" stop-color="#004fff"/><stop offset="0.5034" stop-color="#0033ff"/><stop offset="0.534" stop-color="#002fff"/><stop offset="0.5586" stop-color="#0041ff"/><stop offset="0.5714" stop-color="#0055ff"/><stop offset="0.5764" stop-color="#0074ff"/><stop offset="0.5842" stop-color="#00bbff"/><stop offset="0.5901" stop-color="#00fbff"/><stop offset="0.5931" stop-color="#00ffee"/><stop offset="0.6049" stop-color="#00ffae"/><stop offset="0.6384" stop-color="#00ff03"/><stop offset="0.6709" stop-color="#7dff00"/><stop offset="0.6857" stop-color="#a3ff00"/><stop offset="0.7054" stop-color="#b5ff00"/><stop offset="0.8847" stop-color="#fffc00"/><stop offset="0.9507" stop-color="#ffe100"/><stop offset="1" stop-color="#ffe000"/></linearGradient>
<linearGradient id="h141" gradientUnits="userSpaceOnUse" x1="306" x2="1321" y1="0" y2="0"><stop offset="0" stop-color="#ff7800"/><stop offset="0.2571" stop-color="#ff7d00"/><stop offset="0.2759" stop-color="#ff9800"/><stop offset="0.2847" stop-color="#ffae00"/><stop offset="0.2995" stop-color="#fffa00"/><stop offset="0.3034" stop-color="#f8ff00"/><stop offset="0.33" stop-color="#bdff00"/><stop offset="0.3448" stop-color="#82ff00"/><stop offset="0.3714" stop-color="#02ff00"/><stop offset="0.4355" stop-color="#00ffef"/><stop offset="0.4394" stop-color="#00fdff"/><stop offset="0.467" stop-color="#005eff"/><stop offset="0.4729" stop-color="#0050ff"/><stop offset="0.5034" stop-color="#0034ff"/><stop offset="0.534" stop-color="#002fff"/><stop offset="0.5586" stop-color="#0041ff"/><stop offset="0.5714" stop-color="#0056ff"/><stop offset="0.5764" stop-color="#0074ff"/><stop offset="0.5842" stop-color="#00bcff"/><stop offset="0.5901" stop-color="#00fbff"/><stop offset="0.5941" stop-color="#00ffe7"/><stop offset="0.6069" stop-color="#00ffa4"/><stop offset="0.6374" stop-color="#00ff06"/><stop offset="0.6404" stop-color="#06ff00"/><stop offset="0.669" stop-color="#77ff00"/><stop offset="0.6847" stop-color="#a2ff00"/><stop offset="0.7015" stop-color="#b3ff00"/><stop offset="0.8847" stop-color="#fffc00"/><stop offset="0.9507" stop-color="#ffe100"/><stop offset="1" stop-color="#ffe000"/></linearGradient>
<linearGradient id="h142" gradientUnits="userSpaceOnUse" x1="306" x2="1321" y1="0" y2="0"><stop offset="0" stop-color="#ff7800"/><stop offset="0.2562" stop-color="#ff7e00"/><stop offset="0.2749" stop-color="#ff9800"/><stop offset="0.2837" stop-color="#ffaf00"/><stop offset="0.2985" stop-color="#fffb00"/><stop offset="0.3044" stop-color="#f2ff00"/><stop offset="0.3281" stop-color="#c0ff00"/><stop offset="0.3419" stop-color="#8cff00"/><stop offset="0.3714" stop-color="#00ff00"/><stop offset="0.4355" stop-color="#00fff0"/><stop offset="0.4394" stop-color="#00fcff"/><stop offset="0.466" stop-color="#0062ff"/><stop offset="0.4719" stop-color="#0051ff"/><stop offset="0.5025" stop-color="#0035ff"/><stop offset="0.533" stop-color="#002fff"/><stop offset="0.5576" stop-color="#0040ff"/><stop offset="0.5714" stop-color="#0056ff"/><stop offset="0.5764" stop-color="#0075ff"/><stop offset="0.5842" stop-color="#00bcff"/><stop offset="0.5901" stop-color="#00fcff"/><stop offset="0.597" stop-color="#00ffd5"/><stop offset="0.6227" stop-color="#00ff51"/><stop offset="0.6384" stop-color="#00ff01"/><stop offset="0.67" stop-color="#7bff00"/><stop offset="0.6847" stop-color="#a3ff00"/><stop offset="0.7015" stop-color="#b4ff00"/><stop offset="0.8847" stop-color="#fffc00"/><stop offset="0.9507" stop-color="#ffe100"/><stop offset="1" stop-color="#ffe000"/></linearGradient>
<linearGradient id="h143" gradientUnits="userSpaceOnUse" x1="306" x2="1321" y1="0" y2="0"><stop offset="0" stop-color="#ff7800"/><stop offset="0.2542" stop-color="#ff7e00"/><stop offset="0.2739" stop-color="#ff9a00"/><stop offset="0.2828" stop-color="#ffb100"/><stop offset="0.2975" stop-color="#fffc00"/><stop offset="0.3281" stop-color="#bdff00"/><stop offset="0.3429" stop-color="#83ff00"/><stop offset="0.3704" stop-color="#02ff00"/><stop offset="0.4345" stop-color="#00ffec"/><stop offset="0.4384" stop-color="#00fffe"/><stop offset="0.466" stop-color="#0062ff"/><stop offset="0.4719" stop-color="#0051ff"/><stop offset="0.5025" stop-color="#0035ff"/><stop offset="0.533" stop-color="#0030ff"/><stop offset="0.5576" stop-color="#0041ff"/><stop offset="0.5714" stop-color="#0056ff"/><stop offset="0.5764" stop-color="#0075ff"/><stop offset="0.5842" stop-color="#00bcff"/><stop offset="0.5901" stop-color="#00fcff"/><stop offset="0.603" stop-color="#00ffb5"/><stop offset="0.6217" stop-color="#00ff55"/><stop offset="0.6374" stop-color="#00ff04"/><stop offset="0.6404" stop-color="#08ff00"/><stop offset="0.669" stop-color="#79ff00"/><stop offset="0.6847" stop-color="#a4ff00"/><stop offset="0.7015" stop-color="#b5ff00"/><stop offset="0.8837" stop-color="#fffc00"/><stop offset="0.9517" stop-color="#ffe100"/><stop offset="1" stop-color="#ffe000"/></linearGradient>
<linearGradient id="h144" gradientUnits="userSpaceOnUse" x1="306" x2="1321" y1="0" y2="0"><stop offset="0" stop-color="#ff7900"/><stop offset="0.2522" stop-color="#ff7e00"/><stop offset="0.2719" stop-color="#ff9900"/><stop offset="0.2808" stop-color="#ffae00"/><stop offset="0.2966" stop-color="#fffd00"/><stop offset="0.3271" stop-color="#bdff00"/><stop offset="0.3429" stop-color="#80ff00"/><stop offset="0.3704" stop-color="#01ff00"/><stop offset="0.4345" stop-color="#00ffed"/><stop offset="0.4384" stop-color="#00ffff"/><stop offset="0.466" stop-color="#0062ff"/><stop offset="0.4719" stop-color="#0052ff"/><stop offset="0.5025" stop-color="#0035ff"/><stop offset="0.533" stop-color="#0030ff"/><stop offset="0.5576" stop-color="#0041ff"/><stop offset="0.5714" stop-color="#0057ff"/><stop offset="0.5764" stop-color="#0075ff"/><stop offset="0.5842" stop-color="#00bdff"/><stop offset="0.5901" stop-color="#00fcff"/><stop offset="0.602" stop-color="#00ffba"/><stop offset="0.6217" stop-color="#00ff54"/><stop offset="0.6374" stop-color="#00ff04"/><stop offset="0.6433" stop-color="#15ff00"/><stop offset="0.669" stop-color="#7aff00"/><stop offset="0.6847" stop-color="#a5ff00"/><stop offset="0.7015" stop-color="#b6ff00"/><stop offset="0.8837" stop-color="#fffc00"/><stop offset="0.9517" stop-color="#ffe100"/><stop offset="1" stop-color="#ffe000"/></linearGradient>
<linearGradient id="h145" gradientUnits="userSpaceOnUse" x1="306" x2="1321" y1="0" y2="0"><stop offset="0" stop-color="#ff7900"/><stop offset="0.2512" stop-color="#ff7e00"/><stop offset="0.2709" stop-color="#ff9900"/><stop offset="0.2798" stop-color="#ffae00"/><stop offset="0.2956" stop-color="#fffc00"/><stop offset="0.3261" stop-color="#beff00"/><stop offset="0.3419" stop-color="#82ff00"/><stop offset="0.3704" stop-color="#00ff00"/><stop offset="0.4345" stop-color="#00ffed"/><stop offset="0.4384" stop-color="#00ffff"/><stop offset="0.466" stop-color="#0062ff"/><stop offset="0.4719" stop-color="#0052ff"/><stop offset="0.5025" stop-color="#0036ff"/><stop offset="0.533" stop-color="#0030ff"/><stop offset="0.5576" stop-color="#0041ff"/><stop offset="0.5714" stop-color="#0057ff"/><stop offset="0.5764" stop-color="#0076ff"/><stop offset="0.5842" stop-color="#00bdff"/><stop offset="0.5901" stop-color="#00fdff"/><stop offset="0.602" stop-color="#00ffba"/><stop offset="0.6207" stop-color="#00ff59"/><stop offset="0.6374" stop-color="#00ff03"/><stop offset="0.6709" stop-color="#81ff00"/><stop offset="0.6857" stop-color="#a7ff00"/><stop offset="0.7064" stop-color="#baff00"/><stop offset="0.8828" stop-color="#fffc00"/><stop offset="0.9517" stop-color="#ffe100"/><stop offset="1" stop-color="#ffe000"/></linearGradient>
<linearGradient id="h146" gradientUnits="userSpaceOnUse" x1="306" x2="1321" y1="0" y2="0"><stop offset="0" stop-color="#ff7900"/><stop offset="0.2493" stop-color="#ff7e00"/><stop offset="0.269" stop-color="#ff9800"/><stop offset="0.2788" stop-color="#ffae00"/><stop offset="0.2946" stop-color="#fffc00"/><stop offset="0.3251" stop-color="#bfff00"/><stop offset="0.3409" stop-color="#84ff00"/><stop offset="0.3704" stop-color="#00ff01"/><stop offset="0.4345" stop-color="#00ffed"/><stop offset="0.4384" stop-color="#00ffff"/><stop offset="0.466" stop-color="#0062ff"/><stop offset="0.4719" stop-color="#0052ff"/><stop offset="0.5025" stop-color="#0036ff"/><stop offset="0.533" stop-color="#0031ff"/><stop offset="0.5576" stop-color="#0042ff"/><stop offset="0.5714" stop-color="#0057ff"/><stop offset="0.5764" stop-color="#0076ff"/><stop offset="0.5842" stop-color="#00bdff"/><stop offset="0.5901" stop-color="#00fdff"/><stop offset="0.602" stop-color="#00ffb9"/><stop offset="0.6207" stop-color="#00ff59"/><stop offset="0.6365" stop-color="#00ff06"/><stop offset="0.6394" stop-color="#06ff00"/><stop offset="0.668" stop-color="#78ff00"/><stop offset="0.6837" stop-color="#a4ff00"/><stop offset="0.6985" stop-color="#b5ff00"/><stop offset="0.8808" stop-color="#fffd00"/><stop offset="0.9517" stop-color="#ffe100"/><stop offset="1" stop-color="#ffe000"/></linearGradient>
<linearGradient id="h147" gradientUnits="userSpaceOnUse" x1="306" x2="1321" y1="0" y2="0"><stop offset="0" stop-color="#ff7900"/><stop offset="0.2483" stop-color="#ff7f00"/><stop offset="0.269" stop-color="#ff9a00"/><stop offset="0.2778" stop-color="#ffaf00"/><stop offset="0.2936" stop-color="#fffc00"/><stop offset="0.3133" stop-color="#d8ff00"/><stop offset="0.3281" stop-color="#b4ff00"/><stop offset="0.3458" stop-color="#6cff00"/><stop offset="0.3695" stop-color="#02ff00"/><stop offset="0.4335" stop-color="#00ffe9"/><stop offset="0.4384" stop-color="#00ffff"/><stop offset="0.466" stop-color="#0062ff"/><stop offset="0.4719" stop-color="#0052ff"/><stop offset="0.5025" stop-color="#0036ff"/><stop offset="0.533" stop-color="#0031ff"/><stop offset="0.5576" stop-color="#0042ff"/><stop offset="0.5714" stop-color="#0057ff"/><stop offset="0.5764" stop-color="#0076ff"/><stop offset="0.5842" stop-color="#00beff"/><stop offset="0.5901" stop-color="#00fdff"/><stop offset="0.602" stop-color="#00ffb9"/><stop offset="0.6207" stop-color="#00ff58"/><stop offset="0.6365" stop-color="#00ff06"/><stop offset="0.6404" stop-color="#0bff00"/><stop offset="0.668" stop-color="#79ff00"/><stop offset="0.6837" stop-color="#a5ff00"/><stop offset="0.6995" stop-color="#b7ff00"/><stop offset="0.8808" stop-color="#fffc00"/><stop offset="0.9517" stop-color="#ffe000"/><stop offset="1" stop-color="#ffe000"/></linearGradient>
<linearGradient id="h148" gradientUnits="userSpaceOnUse" x1="306" x2="1321" y1="0" y2="0"><stop offset="0" stop-color="#ff7a00"/><stop offset="0.2463" stop-color="#ff7f00"/><stop offset="0.267" stop-color="#ff9a00"/><stop offset="0.2768" stop-color="#ffb000"/><stop offset="0.2926" stop-color="#fffc00"/><stop offset="0.3133" stop-color="#d7ff00"/><stop offset="0.3271" stop-color="#b5ff00"/><stop offset="0.3448" stop-color="#6eff00"/><stop offset="0.3695" stop-color="#01ff00"/><stop offset="0.4335" stop-color="#00ffea"/><stop offset="0.4384" stop-color="#00feff"/><stop offset="0.466" stop-color="#0062ff"/><stop offset="0.4719" stop-color="#0052ff"/><stop offset="0.5025" stop-color="#0036ff"/><stop offset="0.533" stop-color="#0031ff"/><stop offset="0.5576" stop-color="#0042ff"/><stop offset="0.5714" stop-color="#0058ff"/><stop offset="0.5764" stop-color="#0077ff"/><stop offset="0.5842" stop-color="#00beff"/><stop offset="0.5901" stop-color="#00fdff"/><stop offset="0.601" stop-color="#00ffbe"/><stop offset="0.6207" stop-color="#00ff57"/><stop offset="0.6365" stop-color="#00ff05"/><stop offset="0.6404" stop-color="#0cff00"/><stop offset="0.668" stop-color="#7aff00"/><stop offset="0.6837" stop-color="#a5ff00"/><stop offset="0.6995" stop-color="#b7ff00"/><stop offset="0.8778" stop-color="#fffd00"/><stop offset="0.9517" stop-color="#ffe000"/><stop offset="1" stop-color="#ffe000"/></linearGradient>
<linearGradient id="h149" gradientUnits="userSpaceOnUse" x1="306" x2="1321" y1="0" y2="0"><stop offset="0" stop-color="#ff7a00"/><stop offset="0.2443" stop-color="#ff7f00"/><stop offset="0.265" stop-color="#ff9900"/><stop offset="0.2759" stop-color="#ffb100"/><stop offset="0.2916" stop-color="#fffc00"/><stop offset="0.3222" stop-color="#c1ff00"/><stop offset="0.3379" stop-color="#8aff00"/><stop offset="0.3695" stop-color="#00ff00"/><stop offset="0.4335" stop-color="#00ffea"/><stop offset="0.4384" stop-color="#00feff"/><stop offset="0.466" stop-color="#0062ff"/><stop offset="0.4719" stop-color="#0052ff"/><stop offset="0.5025" stop-color="#0036ff"/><stop offset="0.533" stop-color="#0031ff"/><stop offset="0.5576" stop-color="#0042ff"/><stop offset="0.5714" stop-color="#0058ff"/><stop offset="0.5764" stop-color="#0077ff"/><stop offset="0.5842" stop-color="#00bfff"/><stop offset="0.5901" stop-color="#00feff"/><stop offset="0.601" stop-color="#00ffbe"/><stop offset="0.6197" stop-color="#00ff5c"/><stop offset="0.6355" stop-color="#00ff08"/><stop offset="0.6384" stop-color="#04ff00"/><stop offset="0.668" stop-color="#7aff00"/><stop offset="0.6837" stop-color="#a6ff00"/><stop offset="0.6995" stop-color="#b8ff00"/><stop offset="0.8739" stop-color="#fffe00"/><stop offset="0.9517" stop-color="#ffe000"/><stop offset="1" stop-color="#ffe000"/></linearGradient>
<linearGradient id="h150" gradientUnits="userSpaceOnUse" x1="306" x2="1321" y1="0" y2="0"><stop offset="0" stop-color="#ff7a00"/><stop offset="0.2424" stop-color="#ff7f00"/><stop offset="0.264" stop-color="#ff9a00"/><stop offset="0.2739" stop-color="#ffaf00"/><stop offset="0.2906" stop-color="#fffc00"/><stop offset="0.3222" stop-color="#bfff00"/><stop offset="0.3389" stop-color="#83ff00"/><stop offset="0.3695" stop-color="#00ff00"/><stop offset="0.4335" stop-color="#00ffea"/><stop offset="0.4384" stop-color="#00feff"/><stop offset="0.466" stop-color="#0062ff"/><stop offset="0.4719" stop-color="#0052ff"/><stop offset="0.5025" stop-color="#0037ff"/><stop offset="0.533" stop-color="#0031ff"/><stop offset="0.5576" stop-color="#0042ff"/><stop offset="0.5714" stop-color="#0058ff"/><stop offset="0.5764" stop-color="#0077ff"/><stop offset="0.5842" stop-color="#00bfff"/><stop offset="0.5901" stop-color="#00feff"/><stop offset="0.601" stop-color="#00ffbd"/><stop offset="0.6197" stop-color="#00ff5c"/><stop offset="0.6355" stop-color="#00ff07"/><stop offset="0.6384" stop-color="#05ff00"/><stop offset="0.667" stop-color="#78ff00"/><stop offset="0.6828" stop-color="#a4ff00"/><stop offset="0.6975" stop-color="#b7ff00"/><stop offset="0.7734" stop-color="#d9ff00"/><stop offset="0.8778" stop-color="#fffc00"/><stop offset="0.9527" stop-color="#ffe000"/><stop offset="1" stop-color="#ffe000"/></linearGradient>
<linearGradient id="h151" gradientUnits="userSpaceOnUse" x1="306" x2="1321" y1="0" y2="0"><stop offset="0" stop-color="#ff7a00"/><stop offset="0.2404" stop-color="#ff8000"/><stop offset="0.2621" stop-color="#ff9a00"/><stop offset="0.2729" stop-color="#ffb100"/><stop offset="0.2897" stop-color="#fffc00"/><stop offset="0.3222" stop-color="#bdff00"/><stop offset="0.3389" stop-color="#81ff00"/><stop offset="0.3685" stop-color="#02ff00"/><stop offset="0.4315" stop-color="#00ffe2"/><stop offset="0.4384" stop-color="#00feff"/><stop offset="0.466" stop-color="#0062ff"/><stop offset="0.4719" stop-color="#0053ff"/><stop offset="0.5025" stop-color="#0037ff"/><stop offset="0.533" stop-color="#0032ff"/><stop offset="0.5576" stop-color="#0043ff"/><stop offset="0.5714" stop-color="#0058ff"/><stop offset="0.5764" stop-color="#0078ff"/><stop offset="0.5842" stop-color="#00c0ff"/><stop offset="0.5901" stop-color="#00feff"/><stop offset="0.601" stop-color="#00ffbd"/><stop offset="0.6197" stop-color="#00ff5b"/><stop offset="0.6355" stop-color="#00ff06"/><stop offset="0.6384" stop-color="#06ff00"/><stop offset="0.667" stop-color="#79ff00"/><stop offset="0.6828" stop-color="#a5ff00"/><stop offset="0.6975" stop-color="#b8ff00"/><stop offset="0.7606" stop-color="#d4ff00"/><stop offset="0.8759" stop-color="#fffc00"/><stop offset="0.9527" stop-color="#ffe000"/><stop offset="1" stop-color="#ffe000"/></linearGradient>
<linearGradient id="h152" gradientUnits="userSpaceOnUse" x1="306" x2="1321" y1="0" y2="0"><stop offset="0" stop-color="#ff7b00"/><stop offset="0.2384" stop-color="#ff8000"/><stop offset="0.2611" stop-color="#ff9b00"/><stop offset="0.2719" stop-color="#ffb300"/><stop offset="0.2887" stop-color="#fffd00"/><stop offset="0.3212" stop-color="#bdff00"/><stop offset="0.3379" stop-color="#82ff00"/><stop offset="0.3685" stop-color="#02ff00"/><stop offset="0.4315" stop-color="#00ffe2"/><stop offset="0.4384" stop-color="#00fdff"/><stop offset="0.466" stop-color="#0062ff"/><stop offset="0.4719" stop-color="#0053ff"/><stop offset="0.5025" stop-color="#0037ff"/><stop offset="0.533" stop-color="#0032ff"/><stop offset="0.5576" stop-color="#0043ff"/><stop offset="0.5714" stop-color="#0059ff"/><stop offset="0.5764" stop-color="#0078ff"/><stop offset="0.5842" stop-color="#00c1ff"/><stop offset="0.5901" stop-color="#00ffff"/><stop offset="0.6" stop-color="#00ffc2"/><stop offset="0.6197" stop-color="#00ff5a"/><stop offset="0.6355" stop-color="#00ff05"/><stop offset="0.6394" stop-color="#0bff00"/><stop offset="0.667" stop-color="#79ff00"/><stop offset="0.6828" stop-color="#a6ff00"/><stop offset="0.6975" stop-color="#b9ff00"/><stop offset="0.7576" stop-color="#d4ff00"/><stop offset="0.8739" stop-color="#fffc00"/><stop offset="0.9527" stop-color="#ffe000"/><stop offset="1" stop-color="#ffe000"/></linearGradient>
<linearGradient id="h153" gradientUnits="userSpaceOnUse" x1="306" x2="1321" y1="0" y2="0"><stop offset="0" stop-color="#ff7b00"/><stop offset="0.2365" stop-color="#ff8000"/><stop offset="0.2591" stop-color="#ff9b00"/><stop offset="0.27" stop-color="#ffb200"/><stop offset="0.2877" stop-color="#fffd00"/><stop offset="0.3202" stop-color="#beff00"/><stop offset="0.3379" stop-color="#80ff00"/><stop offset="0.3685" stop-color="#01ff00"/><stop offset="0.4315" stop-color="#00ffe2"/><stop offset="0.4384" stop-color="#00fdff"/><stop offset="0.466" stop-color="#0062ff"/><stop offset="0.4719" stop-color="#0053ff"/><stop offset="0.5025" stop-color="#0037ff"/><stop offset="0.533" stop-color="#0032ff"/><stop offset="0.5576" stop-color="#0043ff"/><stop offset="0.5714" stop-color="#0059ff"/><stop offset="0.5764" stop-color="#0079ff"/><stop offset="0.5842" stop-color="#00c1ff"/><stop offset="0.5901" stop-color="#00ffff"/><stop offset="0.6" stop-color="#00ffc2"/><stop offset="0.6187" stop-color="#00ff5f"/><stop offset="0.6345" stop-color="#00ff09"/><stop offset="0.6374" stop-color="#04ff00"/><stop offset="0.666" stop-color="#77ff00"/><stop offset="0.6828" stop-color="#a6ff00"/><stop offset="0.6975" stop-color="#b9ff00"/><stop offset="0.7557" stop-color="#d4ff00"/><stop offset="0.8729" stop-color="#fffc00"/><stop offset="0.9527" stop-color="#ffe000"/><stop offset="1" stop-color="#ffdf00"/></linearGradient>
<linearGradient id="h154" gradientUnits="userSpaceOnUse" x1="306" x2="1321" y1="0" y2="0"><stop offset="0" stop-color="#ff7b00"/><stop offset="0.2335" stop-color="#ff8000"/><stop offset="0.2571" stop-color="#ff9c00"/><stop offset="0.268" stop-color="#ffb100"/><stop offset="0.2867" stop-color="#fffe00"/><stop offset="0.3202" stop-color="#bcff00"/><stop offset="0.3389" stop-color="#7aff00"/><stop offset="0.3685" stop-color="#00ff00"/><stop offset="0.4315" stop-color="#00ffe3"/><stop offset="0.4384" stop-color="#00fdff"/><stop offset="0.466" stop-color="#0062ff"/><stop offset="0.4719" stop-color="#0053ff"/><stop offset="0.5025" stop-color="#0038ff"/><stop offset="0.533" stop-color="#0032ff"/><stop offset="0.5576" stop-color="#0043ff"/><stop offset="0.5714" stop-color="#0059ff"/><stop offset="0.5764" stop-color="#0079ff"/><stop offset="0.5842" stop-color="#00c2ff"/><stop offset="0.5901" stop-color="#00ffff"/><stop offset="0.6" stop-color="#00ffc1"/><stop offset="0.6187" stop-color="#00ff5e"/><stop offset="0.6345" stop-color="#00ff07"/><stop offset="0.6374" stop-color="#05ff00"/><stop offset="0.666" stop-color="#78ff00"/><stop offset="0.6828" stop-color="#a7ff00"/><stop offset="0.6975" stop-color="#baff00"/><stop offset="0.7537" stop-color="#d5ff00"/><stop offset="0.8709" stop-color="#fffc00"/><stop offset="0.9537" stop-color="#ffdf00"/><stop offset="1" stop-color="#ffdf00"/></linearGradient>
<linearGradient id="h155" gradientUnits="userSpaceOnUse" x1="306" x2="1321" y1="0" y2="0"><stop offset="0" stop-color="#ff7c00"/><stop offset="0.2315" stop-color="#ff8100"/><stop offset="0.2552" stop-color="#ff9c00"/><stop offset="0.267" stop-color="#ffb300"/><stop offset="0.2847" stop-color="#fffc00"/><stop offset="0.3182" stop-color="#bfff00"/><stop offset="0.336" stop-color="#83ff00"/><stop offset="0.3685" stop-color="#00ff01"/><stop offset="0.4315" stop-color="#00ffe3"/><stop offset="0.4384" stop-color="#00fdff"/><stop offset="0.466" stop-color="#0062ff"/><stop offset="0.4719" stop-color="#0053ff"/><stop offset="0.5025" stop-color="#0038ff"/><stop offset="0.533" stop-color="#0033ff"/><stop offset="0.5576" stop-color="#0044ff"/><stop offset="0.5714" stop-color="#0059ff"/><stop offset="0.5764" stop-color="#007aff"/><stop offset="0.5842" stop-color="#00c3ff"/><stop offset="0.5892" stop-color="#00f7ff"/><stop offset="0.5901" stop-color="#00fffe"/><stop offset="0.6" stop-color="#00ffc1"/><stop offset="0.6187" stop-color="#00ff5d"/><stop offset="0.6345" stop-color="#00ff06"/><stop offset="0.6374" stop-color="#07ff00"/><stop offset="0.666" stop-color="#79ff00"/><stop offset="0.6828" stop-color="#a8ff00"/><stop offset="0.6985" stop-color="#bcff00"/><stop offset="0.7596" stop-color="#d8ff00"/><stop offset="0.869" stop-color="#fffc00"/><stop offset="0.9537" stop-color="#ffdf00"/><stop offset="1" stop-color="#ffdf00"/></linearGradient>
<linearGradient id="h156" gradientUnits="userSpaceOnUse" x1="306" x2="1321" y1="0" y2="0"><stop offset="0" stop-color="#ff7c00"/><stop offset="0.2286" stop-color="#ff8100"/><stop offset="0.2532" stop-color="#ff9c00"/><stop offset="0.265" stop-color="#ffb300"/><stop offset="0.2837" stop-color="#fffd00"/><stop offset="0.3172" stop-color="#bfff00"/><stop offset="0.335" stop-color="#84ff00"/><stop offset="0.3685" stop-color="#00ff02"/><stop offset="0.4305" stop-color="#00ffdf"/><stop offset="0.4384" stop-color="#00fdff"/><stop offset="0.466" stop-color="#0062ff"/><stop offset="0.4719" stop-color="#0054ff"/><stop offset="0.5025" stop-color="#0038ff"/><stop offset="0.533" stop-color="#0033ff"/><stop offset="0.5576" stop-color="#0044ff"/><stop offset="0.5714" stop-color="#005aff"/><stop offset="0.5764" stop-color="#007aff"/><stop offset="0.5842" stop-color="#00c3ff"/><stop offset="0.5892" stop-color="#00f8ff"/><stop offset="0.5901" stop-color="#00fffe"/><stop offset="0.6" stop-color="#00ffc1"/><stop offset="0.6187" stop-color="#00ff5c"/><stop offset="0.6335" stop-color="#00ff09"/><stop offset="0.6365" stop-color="#04ff00"/><stop offset="0.665" stop-color="#76ff00"/><stop offset="0.6818" stop-color="#a7ff00"/><stop offset="0.6966" stop-color="#bbff00"/><stop offset="0.7478" stop-color="#d5ff00"/><stop offset="0.866" stop-color="#fffc00"/><stop offset="0.9537" stop-color="#ffdf00"/><stop offset="1" stop-color="#ffdf00"/></linearGradient>
<linearGradient id="h157" gradientUnits="userSpaceOnUse" x1="306" x2="1321" y1="0" y2="0"><stop offset="0" stop-color="#ff7c00"/><stop offset="0.2266" stop-color="#ff8200"/><stop offset="0.2522" stop-color="#ff9e00"/><stop offset="0.264" stop-color="#ffb600"/><stop offset="0.2828" stop-color="#fffe00"/><stop offset="0.3172" stop-color="#bcff00"/><stop offset="0.336" stop-color="#7eff00"/><stop offset="0.3675" stop-color="#01ff00"/><stop offset="0.4276" stop-color="#00ffd3"/><stop offset="0.4384" stop-color="#00fcff"/><stop offset="0.466" stop-color="#0063ff"/><stop offset="0.4719" stop-color="#0054ff"/><stop offset="0.5025" stop-color="#0038ff"/><stop offset="0.533" stop-color="#0033ff"/><stop offset="0.5576" stop-color="#0044ff"/><stop offset="0.5714" stop-color="#005aff"/><stop offset="0.5764" stop-color="#007bff"/><stop offset="0.5842" stop-color="#00c4ff"/><stop offset="0.5892" stop-color="#00f8ff"/><stop offset="0.5901" stop-color="#00fffe"/><stop offset="0.6" stop-color="#00ffc0"/><stop offset="0.6177" stop-color="#00ff61"/><stop offset="0.6335" stop-color="#00ff08"/><stop offset="0.6365" stop-color="#05ff00"/><stop offset="0.665" stop-color="#78ff00"/><stop offset="0.6818" stop-color="#a8ff00"/><stop offset="0.6966" stop-color="#bcff00"/><stop offset="0.7478" stop-color="#d6ff00"/><stop offset="0.864" stop-color="#fffc00"/><stop offset="0.9537" stop-color="#ffdf00"/><stop offset="1" stop-color="#ffdf00"/></linearGradient>
<linearGradient id="h158" gradientUnits="userSpaceOnUse" x1="306" x2="1321" y1="0" y2="0"><stop offset="0" stop-color="#ff7d00"/><stop offset="0.2236" stop-color="#ff8200"/><stop offset="0.2493" stop-color="#ff9d00"/><stop offset="0.2621" stop-color="#ffb600"/><stop offset="0.2818" stop-color="#ffff00"/><stop offset="0.3163" stop-color="#bdff00"/><stop offset="0.336" stop-color="#7cff00"/><stop offset="0.3675" stop-color="#01ff00"/><stop offset="0.4276" stop-color="#00ffd4"/><stop offset="0.4384" stop-color="#00fcff"/><stop offset="0.466" stop-color="#0063ff"/><stop offset="0.4719" stop-color="#0054ff"/><stop offset="0.5025" stop-color="#0039ff"/><stop offset="0.534" stop-color="#0034ff"/><stop offset="0.5586" stop-color="#0045ff"/><stop offset="0.5714" stop-color="#005aff"/><stop offset="0.5764" stop-color="#007bff"/><stop offset="0.5842" stop-color="#00c5ff"/><stop offset="0.5892" stop-color="#00f9ff"/><stop offset="0.5901" stop-color="#00fffd"/><stop offset="0.6" stop-color="#00ffc0"/><stop offset="0.6177" stop-color="#00ff60"/><stop offset="0.6335" stop-color="#00ff07"/><stop offset="0.6365" stop-color="#06ff00"/><stop offset="0.665" stop-color="#79ff00"/><stop offset="0.6818" stop-color="#a8ff00"/><stop offset="0.6966" stop-color="#bdff00"/><stop offset="0.7468" stop-color="#d7ff00"/><stop offset="0.8611" stop-color="#fffd00"/><stop offset="0.9547" stop-color="#ffdf00"/><stop offset="1" stop-color="#ffdf00"/></linearGradient>
<linearGradient id="h159" gradientUnits="userSpaceOnUse" x1="306" x2="1321" y1="0" y2="0"><stop offset="0" stop-color="#ff7d00"/><stop offset="0.2207" stop-color="#ff8200"/><stop offset="0.2473" stop-color="#ff9e00"/><stop offset="0.2601" stop-color="#ffb600"/><stop offset="0.2798" stop-color="#fffd00"/><stop offset="0.3153" stop-color="#bdff00"/><stop offset="0.335" stop-color="#7dff00"/><stop offset="0.3675" stop-color="#00ff00"/><stop offset="0.4286" stop-color="#00ffd8"/><stop offset="0.4384" stop-color="#00fcff"/><stop offset="0.466" stop-color="#0063ff"/><stop offset="0.4719" stop-color="#0054ff"/><stop offset="0.5025" stop-color="#0039ff"/><stop offset="0.534" stop-color="#0034ff"/><stop offset="0.5586" stop-color="#0046ff"/><stop offset="0.5714" stop-color="#005bff"/><stop offset="0.5764" stop-color="#007cff"/><stop offset="0.5842" stop-color="#00c5ff"/><stop offset="0.5892" stop-color="#00f9ff"/><stop offset="0.5911" stop-color="#00fff6"/><stop offset="0.602" stop-color="#00ffb5"/><stop offset="0.6177" stop-color="#00ff5f"/><stop offset="0.6325" stop-color="#00ff0a"/><stop offset="0.6355" stop-color="#03ff00"/><stop offset="0.664" stop-color="#76ff00"/><stop offset="0.6808" stop-color="#a7ff00"/><stop offset="0.6956" stop-color="#bdff00"/><stop offset="0.7438" stop-color="#d7ff00"/><stop offset="0.8581" stop-color="#fffd00"/><stop offset="0.9547" stop-color="#ffdf00"/><stop offset="1" stop-color="#ffde00"/></linearGradient>
<linearGradient id="h160" gradientUnits="userSpaceOnUse" x1="306" x2="1321" y1="0" y2="0"><stop offset="0" stop-color="#ff7d00"/><stop offset="0.2177" stop-color="#ff8200"/><stop offset="0.2443" stop-color="#ff9d00"/><stop offset="0.2581" stop-color="#ffb600"/><stop offset="0.2788" stop-color="#ffff00"/><stop offset="0.3143" stop-color="#bdff00"/><stop offset="0.334" stop-color="#7eff00"/><stop offset="0.3675" stop-color="#00ff01"/><stop offset="0.4276" stop-color="#00ffd4"/><stop offset="0.4384" stop-color="#00fcff"/><stop offset="0.466" stop-color="#0063ff"/><stop offset="0.4719" stop-color="#0055ff"/><stop offset="0.5025" stop-color="#0039ff"/><stop offset="0.534" stop-color="#0034ff"/><stop offset="0.5586" stop-color="#0046ff"/><stop offset="0.5714" stop-color="#005bff"/><stop offset="0.5764" stop-color="#007cff"/><stop offset="0.5842" stop-color="#00c6ff"/><stop offset="0.5892" stop-color="#00faff"/><stop offset="0.5911" stop-color="#00fff5"/><stop offset="0.602" stop-color="#00ffb5"/><stop offset="0.6177" stop-color="#00ff5e"/><stop offset="0.6325" stop-color="#00ff08"/><stop offset="0.6355" stop-color="#05ff00"/><stop offset="0.664" stop-color="#78ff00"/><stop offset="0.6818" stop-color="#aaff00"/><stop offset="0.6975" stop-color="#c0ff00"/><stop offset="0.7488" stop-color="#dbff00"/><stop offset="0.8552" stop-color="#fffd00"/><stop offset="0.9547" stop-color="#ffde00"/><stop offset="1" stop-color="#ffde00"/></linearGradient>
<linearGradient id="h161" gradientUnits="userSpaceOnUse" x1="306" x2="1321" y1="0" y2="0"><stop offset="0" stop-color="#ff7e00"/><stop offset="0.2148" stop-color="#ff8300"/><stop offset="0.2424" stop-color="#ff9e00"/><stop offset="0.2562" stop-color="#ffb600"/><stop offset="0.2768" stop-color="#fffd00"/><stop offset="0.3133" stop-color="#bdff00"/><stop offset="0.334" stop-color="#7cff00"/><stop offset="0.3675" stop-color="#00ff01"/><stop offset="0.4266" stop-color="#00ffd0"/><stop offset="0.4374" stop-color="#00fffe"/><stop offset="0.4571" stop-color="#0094ff"/><stop offset="0.466" stop-color="#0063ff"/><stop offset="0.4719" stop-color="#0055ff"/><stop offset="0.5025" stop-color="#0039ff"/><stop offset="0.534" stop-color="#0034ff"/><stop offset="0.5586" stop-color="#0046ff"/><stop offset="0.5714" stop-color="#005bff"/><stop offset="0.5764" stop-color="#007dff"/><stop offset="0.5842" stop-color="#00c7ff"/><stop offset="0.5892" stop-color="#00faff"/><stop offset="0.5911" stop-color="#00fff5"/><stop offset="0.602" stop-color="#00ffb4"/><stop offset="0.6177" stop-color="#00ff5c"/><stop offset="0.6325" stop-color="#00ff07"/><stop offset="0.6355" stop-color="#06ff00"/><stop offset="0.6631" stop-color="#75ff00"/><stop offset="0.6808" stop-color="#a9ff00"/><stop offset="0.6956" stop-color="#bfff00"/><stop offset="0.7429" stop-color="#daff00"/><stop offset="0.8512" stop-color="#fffd00"/><stop offset="0.9547" stop-color="#ffde00"/><stop offset="1" stop-color="#ffde00"/></linearGradient>
<linearGradient id="h162" gradientUnits="userSpaceOnUse" x1="306" x2="1321" y1="0" y2="0"><stop offset="0" stop-color="#ff7e00"/><stop offset="0.2118" stop-color="#ff8300"/><stop offset="0.2394" stop-color="#ff9e00"/><stop offset="0.2542" stop-color="#ffb700"/><stop offset="0.2759" stop-color="#ffff00"/><stop offset="0.3123" stop-color="#bdff00"/><stop offset="0.333" stop-color="#7eff00"/><stop offset="0.3675" stop-color="#00ff02"/><stop offset="0.4256" stop-color="#00ffcd"/><stop offset="0.4374" stop-color="#00fffe"/><stop offset="0.4591" stop-color="#0088ff"/><stop offset="0.467" stop-color="#005fff"/><stop offset="0.4768" stop-color="#004fff"/><stop offset="0.5084" stop-color="#0037ff"/><stop offset="0.5379" stop-color="#0036ff"/><stop offset="0.5616" stop-color="#004aff"/><stop offset="0.5714" stop-color="#005cff"/><stop offset="0.5764" stop-color="#007dff"/><stop offset="0.5852" stop-color="#00d3ff"/><stop offset="0.5892" stop-color="#00fbff"/><stop offset="0.5921" stop-color="#00ffed"/><stop offset="0.6049" stop-color="#00ffa4"/><stop offset="0.6197" stop-color="#00ff4f"/><stop offset="0.6325" stop-color="#00ff05"/><stop offset="0.6355" stop-color="#08ff00"/><stop offset="0.6631" stop-color="#77ff00"/><stop offset="0.6808" stop-color="#aaff00"/><stop offset="0.6966" stop-color="#c1ff00"/><stop offset="0.7448" stop-color="#dcff00"/><stop offset="0.8483" stop-color="#fffd00"/><stop offset="0.9557" stop-color="#ffde00"/><stop offset="1" stop-color="#ffde00"/></linearGradient>
<linearGradient id="h163" gradientUnits="userSpaceOnUse" x1="306" x2="1321" y1="0" y2="0"><stop offset="0" stop-color="#ff7e00"/><stop offset="0.2089" stop-color="#ff8400"/><stop offset="0.2374" stop-color="#ff9f00"/><stop offset="0.2522" stop-color="#ffb800"/><stop offset="0.2739" stop-color="#fffe00"/><stop offset="0.3113" stop-color="#bdff00"/><stop offset="0.332" stop-color="#7fff00"/><stop offset="0.3675" stop-color="#00ff02"/><stop offset="0.4246" stop-color="#00ffc9"/><stop offset="0.4374" stop-color="#00fffe"/><stop offset="0.466" stop-color="#0063ff"/><stop offset="0.4719" stop-color="#0055ff"/><stop offset="0.5025" stop-color="#003aff"/><stop offset="0.534" stop-color="#0035ff"/><stop offset="0.5586" stop-color="#0047ff"/><stop offset="0.5714" stop-color="#005cff"/><stop offset="0.5764" stop-color="#007eff"/><stop offset="0.5852" stop-color="#00d4ff"/><stop offset="0.5892" stop-color="#00fbff"/><stop offset="0.5951" stop-color="#00ffda"/><stop offset="0.6167" stop-color="#00ff60"/><stop offset="0.6315" stop-color="#00ff08"/><stop offset="0.6345" stop-color="#05ff00"/><stop offset="0.6621" stop-color="#75ff00"/><stop offset="0.6798" stop-color="#a9ff00"/><stop offset="0.6946" stop-color="#c0ff00"/><stop offset="0.7399" stop-color="#dcff00"/><stop offset="0.8443" stop-color="#fffd00"/><stop offset="0.9557" stop-color="#ffde00"/><stop offset="1" stop-color="#ffde00"/></linearGradient>
<linearGradient id="h164" gradientUnits="userSpaceOnUse" x1="306" x2="1321" y1="0" y2="0"><stop offset="0" stop-color="#ff7f00"/><stop offset="0.2059" stop-color="#ff8400"/><stop offset="0.2355" stop-color="#ffa000"/><stop offset="0.2502" stop-color="#ffb800"/><stop offset="0.2729" stop-color="#ffff00"/><stop offset="0.3103" stop-color="#bdff00"/><stop offset="0.332" stop-color="#7dff00"/><stop offset="0.3665" stop-color="#01ff00"/><stop offset="0.4207" stop-color="#00ffbb"/><stop offset="0.4374" stop-color="#00ffff"/><stop offset="0.466" stop-color="#0064ff"/><stop offset="0.4719" stop-color="#0056ff"/><stop offset="0.5025" stop-color="#003aff"/><stop offset="0.534" stop-color="#0035ff"/><stop offset="0.5586" stop-color="#0047ff"/><stop offset="0.5714" stop-color="#005cff"/><stop offset="0.5764" stop-color="#007eff"/><stop offset="0.5852" stop-color="#00d4ff"/><stop offset="0.5892" stop-color="#00fcff"/><stop offset="0.602" stop-color="#00ffb2"/><stop offset="0.6167" stop-color="#00ff5f"/><stop offset="0.6305" stop-color="#00ff0b"/><stop offset="0.6335" stop-color="#02ff00"/><stop offset="0.6611" stop-color="#73ff00"/><stop offset="0.6788" stop-color="#a8ff00"/><stop offset="0.6936" stop-color="#c0ff00"/><stop offset="0.7379" stop-color="#dcff00"/><stop offset="0.8404" stop-color="#fffd00"/><stop offset="0.9557" stop-color="#ffde00"/><stop offset="1" stop-color="#ffdd00"/></linearGradient>
<linearGradient id="h165" gradientUnits="userSpaceOnUse" x1="306" x2="1321" y1="0" y2="0"><stop offset="0" stop-color="#ff7f00"/><stop offset="0.203" stop-color="#ff8400"/><stop offset="0.2335" stop-color="#ffa100"/><stop offset="0.2483" stop-color="#ffb900"/><stop offset="0.2709" stop-color="#fffe00"/><stop offset="0.3094" stop-color="#bdff00"/><stop offset="0.331" stop-color="#7eff00"/><stop offset="0.3665" stop-color="#00ff00"/><stop offset="0.4217" stop-color="#00ffbf"/><stop offset="0.4374" stop-color="#00ffff"/><stop offset="0.466" stop-color="#0064ff"/><stop offset="0.4719" stop-color="#0056ff"/><stop offset="0.5025" stop-color="#003bff"/><stop offset="0.534" stop-color="#0036ff"/><stop offset="0.5586" stop-color="#0048ff"/><stop offset="0.5714" stop-color="#005dff"/><stop offset="0.5764" stop-color="#007fff"/><stop offset="0.5852" stop-color="#00d5ff"/><stop offset="0.5892" stop-color="#00fdff"/><stop offset="0.602" stop-color="#00ffb2"/><stop offset="0.6167" stop-color="#00ff5d"/><stop offset="0.6305" stop-color="#00ff0a"/><stop offset="0.6335" stop-color="#04ff00"/><stop offset="0.6611" stop-color="#74ff00"/><stop offset="0.6788" stop-color="#a9ff00"/><stop offset="0.6946" stop-color="#c2ff00"/><stop offset="0.7399" stop-color="#deff00"/><stop offset="0.8374" stop-color="#fffd00"/><stop offset="0.9557" stop-color="#ffdd00"/><stop offset="1" stop-color="#ffdd00"/></linearGradient>
<linearGradient id="h166" gradientUnits="userSpaceOnUse" x1="306" x2="1321" y1="0" y2="0"><stop offset="0" stop-color="#ff8000"/><stop offset="0.2" stop-color="#ff8500"/><stop offset="0.2315" stop-color="#ffa200"/><stop offset="0.2463" stop-color="#ffba00"/><stop offset="0.27" stop-color="#ffff00"/><stop offset="0.3084" stop-color="#bdff00"/><stop offset="0.33" stop-color="#7fff00"/><stop offset="0.3665" stop-color="#00ff00"/><stop offset="0.4217" stop-color="#00ffbf"/><stop offset="0.4374" stop-color="#00ffff"/><stop offset="0.466" stop-color="#0064ff"/><stop offset="0.4729" stop-color="#0055ff"/><stop offset="0.5034" stop-color="#003aff"/><stop offset="0.534" stop-color="#0036ff"/><stop offset="0.5586" stop-color="#0048ff"/><stop offset="0.5714" stop-color="#005dff"/><stop offset="0.5764" stop-color="#0080ff"/><stop offset="0.5852" stop-color="#00d6ff"/><stop offset="0.5892" stop-color="#00fdff"/><stop offset="0.601" stop-color="#00ffb6"/><stop offset="0.6158" stop-color="#00ff62"/><stop offset="0.6296" stop-color="#00ff0d"/><stop offset="0.6325" stop-color="#01ff00"/><stop offset="0.6601" stop-color="#72ff00"/><stop offset="0.6788" stop-color="#aaff00"/><stop offset="0.6946" stop-color="#c4ff00"/><stop offset="0.7399" stop-color="#e0ff00"/><stop offset="0.8335" stop-color="#fffd00"/><stop offset="0.9567" stop-color="#ffdd00"/><stop offset="1" stop-color="#ffdd00"/></linearGradient>
<linearGradient id="h167" gradientUnits="userSpaceOnUse" x1="306" x2="1321" y1="0" y2="0"><stop offset="0" stop-color="#ff8000"/><stop offset="0.197" stop-color="#ff8500"/><stop offset="0.2296" stop-color="#ffa300"/><stop offset="0.2443" stop-color="#ffbb00"/><stop offset="0.268" stop-color="#ffff00"/><stop offset="0.3074" stop-color="#beff00"/><stop offset="0.33" stop-color="#7dff00"/><stop offset="0.3665" stop-color="#00ff01"/><stop offset="0.4207" stop-color="#00ffbb"/><stop offset="0.4374" stop-color="#00ffff"/><stop offset="0.466" stop-color="#0064ff"/><stop offset="0.4729" stop-color="#0055ff"/><stop offset="0.5034" stop-color="#003bff"/><stop offset="0.535" stop-color="#0037ff"/><stop offset="0.5596" stop-color="#004aff"/><stop offset="0.5714" stop-color="#005dff"/><stop offset="0.5764" stop-color="#0080ff"/><stop offset="0.5852" stop-color="#00d7ff"/><stop offset="0.5892" stop-color="#00feff"/><stop offset="0.6" stop-color="#00ffbb"/><stop offset="0.6148" stop-color="#00ff67"/><stop offset="0.6296" stop-color="#00ff0b"/><stop offset="0.6325" stop-color="#03ff00"/><stop offset="0.6601" stop-color="#74ff00"/><stop offset="0.6788" stop-color="#abff00"/><stop offset="0.6946" stop-color="#c5ff00"/><stop offset="0.7399" stop-color="#e2ff00"/><stop offset="0.8296" stop-color="#fffd00"/><stop offset="0.9567" stop-color="#ffdd00"/><stop offset="1" stop-color="#ffdd00"/></linearGradient>
<linearGradient id="h168" gradientUnits="userSpaceOnUse" x1="306" x2="1321" y1="0" y2="0"><stop offset="0" stop-color="#ff8000"/><stop offset="0.1931" stop-color="#ff8500"/><stop offset="0.2256" stop-color="#ffa200"/><stop offset="0.2414" stop-color="#ffb900"/><stop offset="0.266" stop-color="#fffe00"/><stop offset="0.3064" stop-color="#beff00"/><stop offset="0.3291" stop-color="#7fff00"/><stop offset="0.3665" stop-color="#00ff01"/><stop offset="0.4207" stop-color="#00ffbc"/><stop offset="0.4374" stop-color="#00feff"/><stop offset="0.466" stop-color="#0064ff"/><stop offset="0.4729" stop-color="#0056ff"/><stop offset="0.5044" stop-color="#003bff"/><stop offset="0.535" stop-color="#0037ff"/><stop offset="0.5596" stop-color="#004aff"/><stop offset="0.5714" stop-color="#005eff"/><stop offset="0.5764" stop-color="#0081ff"/><stop offset="0.5852" stop-color="#00d8ff"/><stop offset="0.5892" stop-color="#00ffff"/><stop offset="0.599" stop-color="#00ffc0"/><stop offset="0.6148" stop-color="#00ff65"/><stop offset="0.6286" stop-color="#00ff0e"/><stop offset="0.6315" stop-color="#00ff00"/><stop offset="0.6591" stop-color="#72ff00"/><stop offset="0.6778" stop-color="#aaff00"/><stop offset="0.6936" stop-color="#c5ff00"/><stop offset="0.7379" stop-color="#e2ff00"/><stop offset="0.8246" stop-color="#fffd00"/><stop offset="0.9567" stop-color="#ffdd00"/><stop offset="1" stop-color="#ffdd00"/></linearGradient>
<linearGradient id="h169" gradientUnits="userSpaceOnUse" x1="306" x2="1321" y1="0" y2="0"><stop offset="0" stop-color="#ff8100"/><stop offset="0.1901" stop-color="#ff8600"/><stop offset="0.2236" stop-color="#ffa300"/><stop offset="0.2394" stop-color="#ffbb00"/><stop offset="0.265" stop-color="#feff00"/><stop offset="0.3054" stop-color="#beff00"/><stop offset="0.3281" stop-color="#80ff00"/><stop offset="0.3665" stop-color="#00ff01"/><stop offset="0.4197" stop-color="#00ffb8"/><stop offset="0.4374" stop-color="#00feff"/><stop offset="0.4601" stop-color="#0083ff"/><stop offset="0.467" stop-color="#0061ff"/><stop offset="0.4837" stop-color="#004aff"/><stop offset="0.5153" stop-color="#0037ff"/><stop offset="0.5429" stop-color="#003bff"/><stop offset="0.5665" stop-color="#0054ff"/><stop offset="0.5714" stop-color="#005eff"/><stop offset="0.5764" stop-color="#0081ff"/><stop offset="0.5852" stop-color="#00d8ff"/><stop offset="0.5892" stop-color="#00ffff"/><stop offset="0.599" stop-color="#00ffbf"/><stop offset="0.6138" stop-color="#00ff6a"/><stop offset="0.6286" stop-color="#00ff0c"/><stop offset="0.6315" stop-color="#02ff00"/><stop offset="0.6581" stop-color="#70ff00"/><stop offset="0.6768" stop-color="#a9ff00"/><stop offset="0.6926" stop-color="#c5ff00"/><stop offset="0.736" stop-color="#e3ff00"/><stop offset="0.8207" stop-color="#fffd00"/><stop offset="0.9576" stop-color="#ffdc00"/><stop offset="1" stop-color="#ffdc00"/></linearGradient>
<linearGradient id="h170" gradientUnits="userSpaceOnUse" x1="306" x2="1321" y1="0" y2="0"><stop offset="0" stop-color="#ff8100"/><stop offset="0.1872" stop-color="#ff8700"/><stop offset="0.2217" stop-color="#ffa400"/><stop offset="0.2374" stop-color="#ffbc00"/><stop offset="0.2631" stop-color="#ffff00"/><stop offset="0.3044" stop-color="#beff00"/><stop offset="0.3281" stop-color="#7eff00"/><stop offset="0.3665" stop-color="#00ff01"/><stop offset="0.4197" stop-color="#00ffb9"/><stop offset="0.4374" stop-color="#00feff"/><stop offset="0.4601" stop-color="#0083ff"/><stop offset="0.467" stop-color="#0061ff"/><stop offset="0.4857" stop-color="#0048ff"/><stop offset="0.5172" stop-color="#0037ff"/><stop offset="0.5448" stop-color="#003dff"/><stop offset="0.5685" stop-color="#0058ff"/><stop offset="0.5724" stop-color="#0064ff"/><stop offset="0.5783" stop-color="#0094ff"/><stop offset="0.5852" stop-color="#00d9ff"/><stop offset="0.5892" stop-color="#00fffe"/><stop offset="0.599" stop-color="#00ffbe"/><stop offset="0.6138" stop-color="#00ff68"/><stop offset="0.6276" stop-color="#00ff0f"/><stop offset="0.6305" stop-color="#00ff00"/><stop offset="0.6581" stop-color="#72ff00"/><stop offset="0.6768" stop-color="#abff00"/><stop offset="0.6926" stop-color="#c7ff00"/><stop offset="0.736" stop-color="#e4ff00"/><stop offset="0.8158" stop-color="#fffd00"/><stop offset="0.9576" stop-color="#ffdc00"/><stop offset="1" stop-color="#ffdc00"/></linearGradient>
<linearGradient id="h171" gradientUnits="userSpaceOnUse" x1="306" x2="1321" y1="0" y2="0"><stop offset="0" stop-color="#ff8200"/><stop offset="0.1833" stop-color="#ff8700"/><stop offset="0.2177" stop-color="#ffa300"/><stop offset="0.2345" stop-color="#ffba00"/><stop offset="0.2611" stop-color="#ffff00"/><stop offset="0.3034" stop-color="#beff00"/><stop offset="0.3271" stop-color="#80ff00"/><stop offset="0.3665" stop-color="#00ff01"/><stop offset="0.4187" stop-color="#00ffb5"/><stop offset="0.4374" stop-color="#00feff"/><stop offset="0.4601" stop-color="#0083ff"/><stop offset="0.467" stop-color="#0061ff"/><stop offset="0.4867" stop-color="#0048ff"/><stop offset="0.5182" stop-color="#0038ff"/><stop offset="0.5448" stop-color="#003dff"/><stop offset="0.5685" stop-color="#0058ff"/><stop offset="0.5724" stop-color="#0064ff"/><stop offset="0.5783" stop-color="#0095ff"/><stop offset="0.5852" stop-color="#00daff"/><stop offset="0.5892" stop-color="#00fffd"/><stop offset="0.599" stop-color="#00ffbd"/><stop offset="0.6138" stop-color="#00ff67"/><stop offset="0.6276" stop-color="#00ff0d"/><stop offset="0.6305" stop-color="#02ff00"/><stop offset="0.6571" stop-color="#70ff00"/><stop offset="0.6759" stop-color="#aaff00"/><stop offset="0.6926" stop-color="#c8ff00"/><stop offset="0.736" stop-color="#e6ff00"/><stop offset="0.8118" stop-color="#fffd00"/><stop offset="0.9576" stop-color="#ffdc00"/><stop offset="1" stop-color="#ffdc00"/></linearGradient>
<linearGradient id="h172" gradientUnits="userSpaceOnUse" x1="306" x2="1321" y1="0" y2="0"><stop offset="0" stop-color="#ff8200"/><stop offset="0.1803" stop-color="#ff8700"/><stop offset="0.2158" stop-color="#ffa400"/><stop offset="0.2325" stop-color="#ffbc00"/><stop offset="0.2591" stop-color="#fffe00"/><stop offset="0.3025" stop-color="#beff00"/><stop offset="0.3261" stop-color="#81ff00"/><stop offset="0.3665" stop-color="#00ff02"/><stop offset="0.4187" stop-color="#00ffb6"/><stop offset="0.4374" stop-color="#00fdff"/><stop offset="0.4591" stop-color="#0089ff"/><stop offset="0.467" stop-color="#0061ff"/><stop offset="0.4887" stop-color="#0047ff"/><stop offset="0.5202" stop-color="#0038ff"/><stop offset="0.5468" stop-color="#003fff"/><stop offset="0.5695" stop-color="#005aff"/><stop offset="0.5734" stop-color="#006bff"/><stop offset="0.5833" stop-color="#00c5ff"/><stop offset="0.5882" stop-color="#00faff"/><stop offset="0.5901" stop-color="#00fff5"/><stop offset="0.601" stop-color="#00ffb1"/><stop offset="0.6138" stop-color="#00ff65"/><stop offset="0.6276" stop-color="#00ff0b"/><stop offset="0.6305" stop-color="#04ff00"/><stop offset="0.6571" stop-color="#72ff00"/><stop offset="0.6759" stop-color="#abff00"/><stop offset="0.6926" stop-color="#c9ff00"/><stop offset="0.736" stop-color="#e8ff00"/><stop offset="0.8079" stop-color="#fffd00"/><stop offset="0.9576" stop-color="#ffdc00"/><stop offset="1" stop-color="#ffdc00"/></linearGradient>
<linearGradient id="h173" gradientUnits="userSpaceOnUse" x1="306" x2="1321" y1="0" y2="0"><stop offset="0" stop-color="#ff8300"/><stop offset="0.1773" stop-color="#ff8800"/><stop offset="0.2148" stop-color="#ffa600"/><stop offset="0.2305" stop-color="#ffbd00"/><stop offset="0.2571" stop-color="#fffe00"/><stop offset="0.3015" stop-color="#beff00"/><stop offset="0.3261" stop-color="#80ff00"/><stop offset="0.3665" stop-color="#00ff02"/><stop offset="0.4187" stop-color="#00ffb6"/><stop offset="0.4374" stop-color="#00fdff"/><stop offset="0.4591" stop-color="#0089ff"/><stop offset="0.467" stop-color="#0061ff"/><stop offset="0.4897" stop-color="#0046ff"/><stop offset="0.5212" stop-color="#0038ff"/><stop offset="0.5478" stop-color="#0040ff"/><stop offset="0.5704" stop-color="#005dff"/><stop offset="0.5744" stop-color="#0073ff"/><stop offset="0.5833" stop-color="#00c6ff"/><stop offset="0.5882" stop-color="#00faff"/><stop offset="0.5901" stop-color="#00fff4"/><stop offset="0.601" stop-color="#00ffb0"/><stop offset="0.6138" stop-color="#00ff63"/><stop offset="0.6266" stop-color="#00ff0e"/><stop offset="0.6296" stop-color="#01ff00"/><stop offset="0.6562" stop-color="#70ff00"/><stop offset="0.6759" stop-color="#adff00"/><stop offset="0.6926" stop-color="#cbff00"/><stop offset="0.736" stop-color="#e9ff00"/><stop offset="0.803" stop-color="#fffd00"/><stop offset="0.9576" stop-color="#ffdb00"/><stop offset="1" stop-color="#ffdb00"/></linearGradient>
<linearGradient id="h174" gradientUnits="userSpaceOnUse" x1="306" x2="1321" y1="0" y2="0"><stop offset="0" stop-color="#ff8300"/><stop offset="0.1734" stop-color="#ff8800"/><stop offset="0.2108" stop-color="#ffa500"/><stop offset="0.2276" stop-color="#ffbc00"/><stop offset="0.2562" stop-color="#feff00"/><stop offset="0.3005" stop-color="#beff00"/><stop offset="0.3251" stop-color="#81ff00"/><stop offset="0.3665" stop-color="#00ff02"/><stop offset="0.4177" stop-color="#00ffb3"/><stop offset="0.4374" stop-color="#00fdff"/><stop offset="0.4591" stop-color="#0088ff"/><stop offset="0.467" stop-color="#0061ff"/><stop offset="0.4906" stop-color="#0046ff"/><stop offset="0.5232" stop-color="#0038ff"/><stop offset="0.5488" stop-color="#0041ff"/><stop offset="0.5704" stop-color="#005dff"/><stop offset="0.5744" stop-color="#0073ff"/><stop offset="0.5833" stop-color="#00c7ff"/><stop offset="0.5882" stop-color="#00fbff"/><stop offset="0.5931" stop-color="#00ffde"/><stop offset="0.6128" stop-color="#00ff68"/><stop offset="0.6266" stop-color="#00ff0b"/><stop offset="0.6296" stop-color="#03ff00"/><stop offset="0.6552" stop-color="#6eff00"/><stop offset="0.6749" stop-color="#acff00"/><stop offset="0.6916" stop-color="#cbff00"/><stop offset="0.734" stop-color="#eaff00"/><stop offset="0.799" stop-color="#fffc00"/><stop offset="0.9576" stop-color="#ffdb00"/><stop offset="1" stop-color="#ffdb00"/></linearGradient>
<linearGradient id="h175" gradientUnits="userSpaceOnUse" x1="306" x2="1321" y1="0" y2="0"><stop offset="0" stop-color="#ff8300"/><stop offset="0.1704" stop-color="#ff8900"/><stop offset="0.2089" stop-color="#ffa600"/><stop offset="0.2256" stop-color="#ffbe00"/><stop offset="0.2532" stop-color="#fffe00"/><stop offset="0.2995" stop-color="#beff00"/><stop offset="0.3241" stop-color="#83ff00"/><stop offset="0.3665" stop-color="#00ff01"/><stop offset="0.4187" stop-color="#00ffb7"/><stop offset="0.4374" stop-color="#00fcff"/><stop offset="0.4591" stop-color="#0088ff"/><stop offset="0.467" stop-color="#0062ff"/><stop offset="0.4916" stop-color="#0046ff"/><stop offset="0.5241" stop-color="#0039ff"/><stop offset="0.5498" stop-color="#0043ff"/><stop offset="0.5704" stop-color="#005eff"/><stop offset="0.5744" stop-color="#0074ff"/><stop offset="0.5833" stop-color="#00c8ff"/><stop offset="0.5882" stop-color="#00fdff"/><stop offset="0.6" stop-color="#00ffb3"/><stop offset="0.6128" stop-color="#00ff65"/><stop offset="0.6256" stop-color="#00ff0d"/><stop offset="0.6286" stop-color="#02ff00"/><stop offset="0.6542" stop-color="#6dff00"/><stop offset="0.6739" stop-color="#acff00"/><stop offset="0.6906" stop-color="#ccff00"/><stop offset="0.732" stop-color="#ebff00"/><stop offset="0.7941" stop-color="#fffc00"/><stop offset="0.9576" stop-color="#ffdb00"/><stop offset="1" stop-color="#ffdb00"/></linearGradient>
<linearGradient id="h176" gradientUnits="userSpaceOnUse" x1="306" x2="1321" y1="0" y2="0"><stop offset="0" stop-color="#ff8400"/><stop offset="0.1665" stop-color="#ff8900"/><stop offset="0.2069" stop-color="#ffa800"/><stop offset="0.2236" stop-color="#ffc000"/><stop offset="0.2512" stop-color="#ffff00"/><stop offset="0.2985" stop-color="#beff00"/><stop offset="0.3241" stop-color="#81ff00"/><stop offset="0.3665" stop-color="#00ff01"/><stop offset="0.4197" stop-color="#00ffbb"/><stop offset="0.4365" stop-color="#00fffe"/><stop offset="0.4562" stop-color="#0099ff"/><stop offset="0.465" stop-color="#0069ff"/><stop offset="0.4719" stop-color="#005aff"/><stop offset="0.5034" stop-color="#003fff"/><stop offset="0.535" stop-color="#003bff"/><stop offset="0.5596" stop-color="#004eff"/><stop offset="0.5714" stop-color="#0063ff"/><stop offset="0.5764" stop-color="#0087ff"/><stop offset="0.5833" stop-color="#00cbff"/><stop offset="0.5882" stop-color="#00ffff"/><stop offset="0.598" stop-color="#00ffbd"/><stop offset="0.6118" stop-color="#00ff69"/><stop offset="0.6246" stop-color="#00ff0f"/><stop offset="0.6276" stop-color="#00ff00"/><stop offset="0.6532" stop-color="#6dff00"/><stop offset="0.6729" stop-color="#acff00"/><stop offset="0.6897" stop-color="#cdff00"/><stop offset="0.73" stop-color="#ecff00"/><stop offset="0.7882" stop-color="#fffd00"/><stop offset="0.9576" stop-color="#ffda00"/><stop offset="1" stop-color="#ffda00"/></linearGradient>
<linearGradient id="h177" gradientUnits="userSpaceOnUse" x1="306" x2="1321" y1="0" y2="0"><stop offset="0" stop-color="#ff8400"/><stop offset="0.1616" stop-color="#ff8900"/><stop offset="0.202" stop-color="#ffa700"/><stop offset="0.2197" stop-color="#ffbf00"/><stop offset="0.2493" stop-color="#ffff00"/><stop offset="0.2975" stop-color="#bfff00"/><stop offset="0.3232" stop-color="#83ff00"/><stop offset="0.3665" stop-color="#00ff01"/><stop offset="0.4217" stop-color="#00ffc3"/><stop offset="0.4365" stop-color="#00fffe"/><stop offset="0.4581" stop-color="#008dff"/><stop offset="0.466" stop-color="#0065ff"/><stop offset="0.4857" stop-color="#004cff"/><stop offset="0.5172" stop-color="#003cff"/><stop offset="0.5448" stop-color="#0041ff"/><stop offset="0.5685" stop-color="#005dff"/><stop offset="0.5724" stop-color="#006aff"/><stop offset="0.5803" stop-color="#00afff"/><stop offset="0.5872" stop-color="#00f9ff"/><stop offset="0.5882" stop-color="#00fffd"/><stop offset="0.598" stop-color="#00ffbb"/><stop offset="0.6108" stop-color="#00ff6c"/><stop offset="0.6236" stop-color="#00ff10"/><stop offset="0.6266" stop-color="#00ff01"/><stop offset="0.6532" stop-color="#71ff00"/><stop offset="0.6729" stop-color="#afff00"/><stop offset="0.6897" stop-color="#d0ff00"/><stop offset="0.73" stop-color="#eeff00"/><stop offset="0.7833" stop-color="#fffc00"/><stop offset="0.9576" stop-color="#ffda00"/><stop offset="1" stop-color="#ffda00"/></linearGradient>
<linearGradient id="h178" gradientUnits="userSpaceOnUse" x1="306" x2="1321" y1="0" y2="0"><stop offset="0" stop-color="#ff8500"/><stop offset="0.1576" stop-color="#ff8a00"/><stop offset="0.2" stop-color="#ffa900"/><stop offset="0.2177" stop-color="#ffc300"/><stop offset="0.2463" stop-color="#ffff00"/><stop offset="0.2966" stop-color="#bfff00"/><stop offset="0.3222" stop-color="#85ff00"/><stop offset="0.3665" stop-color="#00ff00"/><stop offset="0.4246" stop-color="#00ffcf"/><stop offset="0.4365" stop-color="#00ffff"/><stop offset="0.4581" stop-color="#008cff"/><stop offset="0.466" stop-color="#0066ff"/><stop offset="0.4897" stop-color="#004aff"/><stop offset="0.5212" stop-color="#003cff"/><stop offset="0.5478" stop-color="#0045ff"/><stop offset="0.5695" stop-color="#0060ff"/><stop offset="0.5734" stop-color="#0074ff"/><stop offset="0.5823" stop-color="#00c6ff"/><stop offset="0.5872" stop-color="#00fcff"/><stop offset="0.5941" stop-color="#00ffd1"/><stop offset="0.6099" stop-color="#00ff6f"/><stop offset="0.6227" stop-color="#00ff11"/><stop offset="0.6256" stop-color="#00ff01"/><stop offset="0.6522" stop-color="#71ff00"/><stop offset="0.6719" stop-color="#b0ff00"/><stop offset="0.6887" stop-color="#d2ff00"/><stop offset="0.7281" stop-color="#efff00"/><stop offset="0.7783" stop-color="#fffc00"/><stop offset="0.9576" stop-color="#ffd900"/><stop offset="1" stop-color="#ffd900"/></linearGradient>
<linearGradient id="h179" gradientUnits="userSpaceOnUse" x1="306" x2="1321" y1="0" y2="0"><stop offset="0" stop-color="#ff8600"/><stop offset="0.1527" stop-color="#ff8b00"/><stop offset="0.1961" stop-color="#ffaa00"/><stop offset="0.2148" stop-color="#ffc500"/><stop offset="0.2443" stop-color="#feff00"/><stop offset="0.2956" stop-color="#bfff00"/><stop offset="0.3212" stop-color="#87ff00"/><stop offset="0.3655" stop-color="#04ff00"/><stop offset="0.3734" stop-color="#00ff16"/><stop offset="0.4335" stop-color="#00fff3"/><stop offset="0.4365" stop-color="#00feff"/><stop offset="0.4591" stop-color="#0086ff"/><stop offset="0.466" stop-color="#0066ff"/><stop offset="0.4916" stop-color="#0049ff"/><stop offset="0.5232" stop-color="#003dff"/><stop offset="0.5498" stop-color="#0048ff"/><stop offset="0.5695" stop-color="#0062ff"/><stop offset="0.5734" stop-color="#0077ff"/><stop offset="0.5823" stop-color="#00caff"/><stop offset="0.5872" stop-color="#00ffff"/><stop offset="0.597" stop-color="#00ffbc"/><stop offset="0.6089" stop-color="#00ff72"/><stop offset="0.6217" stop-color="#00ff12"/><stop offset="0.6246" stop-color="#00ff01"/><stop offset="0.6512" stop-color="#72ff00"/><stop offset="0.6709" stop-color="#b2ff00"/><stop offset="0.6887" stop-color="#d5ff00"/><stop offset="0.7291" stop-color="#f2ff00"/><stop offset="0.7724" stop-color="#fffc00"/><stop offset="0.9576" stop-color="#ffd900"/><stop offset="1" stop-color="#ffd900"/></linearGradient>
<linearGradient id="h180" gradientUnits="userSpaceOnUse" x1="306" x2="1321" y1="0" y2="0"><stop offset="0" stop-color="#ff8600"/><stop offset="0.1478" stop-color="#ff8b00"/><stop offset="0.1931" stop-color="#ffac00"/><stop offset="0.2128" stop-color="#ffc900"/><stop offset="0.2414" stop-color="#ffff00"/><stop offset="0.2946" stop-color="#bfff00"/><stop offset="0.3212" stop-color="#86ff00"/><stop offset="0.3635" stop-color="#0aff00"/><stop offset="0.3685" stop-color="#00ff05"/><stop offset="0.4335" stop-color="#00fff4"/><stop offset="0.4365" stop-color="#00feff"/><stop offset="0.4591" stop-color="#0085ff"/><stop offset="0.466" stop-color="#0067ff"/><stop offset="0.4936" stop-color="#0049ff"/><stop offset="0.5251" stop-color="#003fff"/><stop offset="0.5517" stop-color="#004cff"/><stop offset="0.5695" stop-color="#0064ff"/><stop offset="0.5734" stop-color="#007bff"/><stop offset="0.5813" stop-color="#00c4ff"/><stop offset="0.5862" stop-color="#00faff"/><stop offset="0.5882" stop-color="#00fff4"/><stop offset="0.601" stop-color="#00ffa2"/><stop offset="0.6108" stop-color="#00ff5d"/><stop offset="0.6217" stop-color="#00ff0c"/><stop offset="0.6246" stop-color="#04ff00"/><stop offset="0.6493" stop-color="#6fff00"/><stop offset="0.669" stop-color="#b1ff00"/><stop offset="0.6867" stop-color="#d6ff00"/><stop offset="0.7232" stop-color="#f2ff00"/><stop offset="0.7655" stop-color="#fffc00"/><stop offset="0.9537" stop-color="#ffd800"/><stop offset="1" stop-color="#ffd800"/></linearGradient>
<linearGradient id="h181" gradientUnits="userSpaceOnUse" x1="306" x2="1321" y1="0" y2="0"><stop offset="0" stop-color="#ff8700"/><stop offset="0.1419" stop-color="#ff8b00"/><stop offset="0.1882" stop-color="#ffac00"/><stop offset="0.2089" stop-color="#ffc900"/><stop offset="0.2384" stop-color="#ffff00"/><stop offset="0.2926" stop-color="#c1ff00"/><stop offset="0.3192" stop-color="#8aff00"/><stop offset="0.3576" stop-color="#1eff00"/><stop offset="0.3675" stop-color="#00ff01"/><stop offset="0.4365" stop-color="#00fdff"/><stop offset="0.464" stop-color="#006dff"/><stop offset="0.4739" stop-color="#005cff"/><stop offset="0.5044" stop-color="#0044ff"/><stop offset="0.534" stop-color="#0042ff"/><stop offset="0.5596" stop-color="#0056ff"/><stop offset="0.5695" stop-color="#0066ff"/><stop offset="0.5734" stop-color="#007fff"/><stop offset="0.5813" stop-color="#00c9ff"/><stop offset="0.5862" stop-color="#00feff"/><stop offset="0.598" stop-color="#00ffb1"/><stop offset="0.6079" stop-color="#00ff6e"/><stop offset="0.6197" stop-color="#00ff12"/><stop offset="0.6227" stop-color="#00ff01"/><stop offset="0.6483" stop-color="#70ff00"/><stop offset="0.668" stop-color="#b2ff00"/><stop offset="0.6857" stop-color="#d8ff00"/><stop offset="0.7192" stop-color="#f3ff00"/><stop offset="0.7586" stop-color="#fffc00"/><stop offset="0.9438" stop-color="#ffd800"/><stop offset="1" stop-color="#ffd800"/></linearGradient>
<linearGradient id="h182" gradientUnits="userSpaceOnUse" x1="306" x2="1321" y1="0" y2="0"><stop offset="0" stop-color="#ff8700"/><stop offset="0.1369" stop-color="#ff8c00"/><stop offset="0.1852" stop-color="#ffae00"/><stop offset="0.2089" stop-color="#ffd100"/><stop offset="0.2355" stop-color="#ffff00"/><stop offset="0.2916" stop-color="#c1ff00"/><stop offset="0.3182" stop-color="#8cff00"/><stop offset="0.3547" stop-color="#27ff00"/><stop offset="0.3685" stop-color="#00ff03"/><stop offset="0.4365" stop-color="#00fcff"/><stop offset="0.4631" stop-color="#0071ff"/><stop offset="0.47" stop-color="#0062ff"/><stop offset="0.5005" stop-color="#0047ff"/><stop offset="0.531" stop-color="#0043ff"/><stop offset="0.5567" stop-color="#0055ff"/><stop offset="0.5695" stop-color="#0069ff"/><stop offset="0.5744" stop-color="#008cff"/><stop offset="0.5813" stop-color="#00ceff"/><stop offset="0.5852" stop-color="#00f9ff"/><stop offset="0.5872" stop-color="#00fff4"/><stop offset="0.6059" stop-color="#00ff78"/><stop offset="0.6187" stop-color="#00ff11"/><stop offset="0.6217" stop-color="#00ff00"/><stop offset="0.6463" stop-color="#6eff00"/><stop offset="0.666" stop-color="#b2ff00"/><stop offset="0.6837" stop-color="#d9ff00"/><stop offset="0.7084" stop-color="#f0ff00"/><stop offset="0.7498" stop-color="#fffd00"/><stop offset="0.9222" stop-color="#ffda00"/><stop offset="1" stop-color="#ffd700"/></linearGradient>
<linearGradient id="h183" gradientUnits="userSpaceOnUse" x1="306" x2="1321" y1="0" y2="0"><stop offset="0" stop-color="#ff8800"/><stop offset="0.131" stop-color="#ff8d00"/><stop offset="0.1803" stop-color="#ffae00"/><stop offset="0.2059" stop-color="#ffd400"/><stop offset="0.2325" stop-color="#feff00"/><stop offset="0.2906" stop-color="#c1ff00"/><stop offset="0.3182" stop-color="#8bff00"/><stop offset="0.3537" stop-color="#2bff00"/><stop offset="0.3685" stop-color="#00ff02"/><stop offset="0.3951" stop-color="#00ff68"/><stop offset="0.4355" stop-color="#00fffe"/><stop offset="0.4562" stop-color="#0094ff"/><stop offset="0.464" stop-color="#006eff"/><stop offset="0.4867" stop-color="#0051ff"/><stop offset="0.5172" stop-color="#0043ff"/><stop offset="0.5448" stop-color="#004bff"/><stop offset="0.5675" stop-color="#0066ff"/><stop offset="0.5714" stop-color="#0078ff"/><stop offset="0.5803" stop-color="#00c9ff"/><stop offset="0.5852" stop-color="#00feff"/><stop offset="0.597" stop-color="#00ffb0"/><stop offset="0.6059" stop-color="#00ff72"/><stop offset="0.6177" stop-color="#00ff11"/><stop offset="0.6207" stop-color="#00ff00"/><stop offset="0.6453" stop-color="#6fff00"/><stop offset="0.665" stop-color="#b4ff00"/><stop offset="0.6828" stop-color="#dcff00"/><stop offset="0.7044" stop-color="#f1ff00"/><stop offset="0.7419" stop-color="#fffc00"/><stop offset="0.8788" stop-color="#ffe100"/><stop offset="0.9764" stop-color="#ffd600"/><stop offset="1" stop-color="#ffd600"/></linearGradient>
<linearGradient id="h184" gradientUnits="userSpaceOnUse" x1="306" x2="1321" y1="0" y2="0"><stop offset="0" stop-color="#ff8900"/><stop offset="0.1261" stop-color="#ff8e00"/><stop offset="0.1773" stop-color="#ffb100"/><stop offset="0.2089" stop-color="#ffe000"/><stop offset="0.2305" stop-color="#fdff00"/><stop offset="0.2887" stop-color="#c2ff00"/><stop offset="0.3163" stop-color="#8fff00"/><stop offset="0.3507" stop-color="#35ff00"/><stop offset="0.3685" stop-color="#00ff01"/><stop offset="0.3901" stop-color="#00ff55"/><stop offset="0.4148" stop-color="#00ffb1"/><stop offset="0.4355" stop-color="#00ffff"/><stop offset="0.4631" stop-color="#0071ff"/><stop offset="0.4759" stop-color="#005dff"/><stop offset="0.5054" stop-color="#0047ff"/><stop offset="0.535" stop-color="#0048ff"/><stop offset="0.5606" stop-color="#005eff"/><stop offset="0.5685" stop-color="#006bff"/><stop offset="0.5734" stop-color="#008dff"/><stop offset="0.5803" stop-color="#00ceff"/><stop offset="0.5842" stop-color="#00f9ff"/><stop offset="0.5862" stop-color="#00fff4"/><stop offset="0.6039" stop-color="#00ff7b"/><stop offset="0.6167" stop-color="#00ff10"/><stop offset="0.6197" stop-color="#01ff00"/><stop offset="0.6443" stop-color="#71ff00"/><stop offset="0.664" stop-color="#b6ff00"/><stop offset="0.6818" stop-color="#dfff00"/><stop offset="0.7015" stop-color="#f2ff00"/><stop offset="0.734" stop-color="#fffc00"/><stop offset="0.8611" stop-color="#ffe200"/><stop offset="0.9744" stop-color="#ffd600"/><stop offset="1" stop-color="#ffd600"/></linearGradient>
<linearGradient id="h185" gradientUnits="userSpaceOnUse" x1="306" x2="1321" y1="0" y2="0"><stop offset="0" stop-color="#ff8900"/><stop offset="0.1202" stop-color="#ff8e00"/><stop offset="0.1724" stop-color="#ffb100"/><stop offset="0.2069" stop-color="#ffe400"/><stop offset="0.2276" stop-color="#fdff00"/><stop offset="0.2877" stop-color="#c2ff00"/><stop offset="0.3163" stop-color="#8eff00"/><stop offset="0.3507" stop-color="#35ff00"/><stop offset="0.3695" stop-color="#00ff03"/><stop offset="0.3911" stop-color="#00ff59"/><stop offset="0.4138" stop-color="#00ffae"/><stop offset="0.4355" stop-color="#00ffff"/><stop offset="0.4621" stop-color="#0075ff"/><stop offset="0.47" stop-color="#0065ff"/><stop offset="0.4995" stop-color="#004bff"/><stop offset="0.5291" stop-color="#0047ff"/><stop offset="0.5557" stop-color="#005aff"/><stop offset="0.5675" stop-color="#006bff"/><stop offset="0.5714" stop-color="#0082ff"/><stop offset="0.5793" stop-color="#00c9ff"/><stop offset="0.5842" stop-color="#00feff"/><stop offset="0.5961" stop-color="#00ffae"/><stop offset="0.6039" stop-color="#00ff74"/><stop offset="0.6148" stop-color="#00ff17"/><stop offset="0.6187" stop-color="#01ff00"/><stop offset="0.6433" stop-color="#72ff00"/><stop offset="0.6631" stop-color="#b8ff00"/><stop offset="0.6808" stop-color="#e2ff00"/><stop offset="0.6995" stop-color="#f5ff00"/><stop offset="0.7271" stop-color="#fffc00"/><stop offset="0.8473" stop-color="#ffe300"/><stop offset="0.9754" stop-color="#ffd500"/><stop offset="1" stop-color="#ffd500"/></linearGradient>
<linearGradient id="h186" gradientUnits="userSpaceOnUse" x1="306" x2="1321" y1="0" y2="0"><stop offset="0" stop-color="#ff8a00"/><stop offset="0.1143" stop-color="#ff8f00"/><stop offset="0.1675" stop-color="#ffb200"/><stop offset="0.2236" stop-color="#fdff00"/><stop offset="0.2857" stop-color="#c3ff00"/><stop offset="0.3143" stop-color="#92ff00"/><stop offset="0.3478" stop-color="#3eff00"/><stop offset="0.3695" stop-color="#00ff02"/><stop offset="0.3882" stop-color="#00ff4d"/><stop offset="0.4079" stop-color="#00ff9b"/><stop offset="0.4345" stop-color="#00fffb"/><stop offset="0.4374" stop-color="#00f5ff"/><stop offset="0.4621" stop-color="#0075ff"/><stop offset="0.4719" stop-color="#0064ff"/><stop offset="0.5015" stop-color="#004bff"/><stop offset="0.531" stop-color="#0049ff"/><stop offset="0.5567" stop-color="#005dff"/><stop offset="0.5675" stop-color="#006eff"/><stop offset="0.5724" stop-color="#008fff"/><stop offset="0.5783" stop-color="#00c5ff"/><stop offset="0.5833" stop-color="#00faff"/><stop offset="0.5852" stop-color="#00fff3"/><stop offset="0.602" stop-color="#00ff7e"/><stop offset="0.6138" stop-color="#00ff17"/><stop offset="0.6177" stop-color="#01ff00"/><stop offset="0.6424" stop-color="#73ff00"/><stop offset="0.6621" stop-color="#baff00"/><stop offset="0.6798" stop-color="#e4ff00"/><stop offset="0.6975" stop-color="#f7ff00"/><stop offset="0.7202" stop-color="#fffb00"/><stop offset="0.8325" stop-color="#ffe300"/><stop offset="0.9754" stop-color="#ffd400"/><stop offset="1" stop-color="#ffd400"/></linearGradient>
<linearGradient id="h187" gradientUnits="userSpaceOnUse" x1="306" x2="1321" y1="0" y2="0"><stop offset="0" stop-color="#ff8b00"/><stop offset="0.1084" stop-color="#ff8f00"/><stop offset="0.1635" stop-color="#ffb300"/><stop offset="0.2197" stop-color="#feff00"/><stop offset="0.2847" stop-color="#c3ff00"/><stop offset="0.3143" stop-color="#91ff00"/><stop offset="0.3478" stop-color="#3fff00"/><stop offset="0.3695" stop-color="#00ff01"/><stop offset="0.3862" stop-color="#00ff44"/><stop offset="0.4059" stop-color="#00ff95"/><stop offset="0.4355" stop-color="#00feff"/><stop offset="0.4611" stop-color="#0079ff"/><stop offset="0.468" stop-color="#006aff"/><stop offset="0.4975" stop-color="#004eff"/><stop offset="0.5271" stop-color="#004aff"/><stop offset="0.5537" stop-color="#005bff"/><stop offset="0.5665" stop-color="#006eff"/><stop offset="0.5714" stop-color="#008cff"/><stop offset="0.5783" stop-color="#00cbff"/><stop offset="0.5833" stop-color="#00ffff"/><stop offset="0.601" stop-color="#00ff80"/><stop offset="0.6128" stop-color="#00ff17"/><stop offset="0.6167" stop-color="#01ff00"/><stop offset="0.6414" stop-color="#74ff00"/><stop offset="0.6611" stop-color="#bcff00"/><stop offset="0.6788" stop-color="#e7ff00"/><stop offset="0.6956" stop-color="#faff00"/><stop offset="0.7182" stop-color="#fff900"/><stop offset="0.8305" stop-color="#ffe200"/><stop offset="0.9783" stop-color="#ffd400"/><stop offset="1" stop-color="#ffd400"/></linearGradient>
<linearGradient id="h188" gradientUnits="userSpaceOnUse" x1="306" x2="1321" y1="0" y2="0"><stop offset="0" stop-color="#ff8b00"/><stop offset="0.1025" stop-color="#ff9000"/><stop offset="0.1586" stop-color="#ffb400"/><stop offset="0.2167" stop-color="#feff00"/><stop offset="0.2828" stop-color="#c4ff00"/><stop offset="0.3133" stop-color="#92ff00"/><stop offset="0.3468" stop-color="#42ff00"/><stop offset="0.3704" stop-color="#00ff03"/><stop offset="0.3872" stop-color="#00ff48"/><stop offset="0.4049" stop-color="#00ff92"/><stop offset="0.4335" stop-color="#00fff8"/><stop offset="0.4365" stop-color="#00f9ff"/><stop offset="0.4611" stop-color="#0079ff"/><stop offset="0.469" stop-color="#0069ff"/><stop offset="0.4985" stop-color="#004eff"/><stop offset="0.5281" stop-color="#004bff"/><stop offset="0.5547" stop-color="#005eff"/><stop offset="0.5665" stop-color="#0071ff"/><stop offset="0.5714" stop-color="#0091ff"/><stop offset="0.5773" stop-color="#00c6ff"/><stop offset="0.5823" stop-color="#00fbff"/><stop offset="0.5872" stop-color="#00ffdc"/><stop offset="0.6" stop-color="#00ff81"/><stop offset="0.6118" stop-color="#00ff18"/><stop offset="0.6158" stop-color="#01ff00"/><stop offset="0.6404" stop-color="#75ff00"/><stop offset="0.6611" stop-color="#c0ff00"/><stop offset="0.6788" stop-color="#ebff00"/><stop offset="0.6956" stop-color="#feff00"/><stop offset="0.7675" stop-color="#ffe900"/><stop offset="0.9714" stop-color="#ffd300"/><stop offset="1" stop-color="#ffd300"/></linearGradient>
<linearGradient id="h189" gradientUnits="userSpaceOnUse" x1="306" x2="1321" y1="0" y2="0"><stop offset="0" stop-color="#ff8c00"/><stop offset="0.09754" stop-color="#ff9100"/><stop offset="0.1547" stop-color="#ffb500"/><stop offset="0.2128" stop-color="#feff00"/><stop offset="0.2818" stop-color="#c3ff00"/><stop offset="0.3123" stop-color="#93ff00"/><stop offset="0.3458" stop-color="#46ff00"/><stop offset="0.3704" stop-color="#00ff01"/><stop offset="0.3852" stop-color="#00ff3e"/><stop offset="0.403" stop-color="#00ff8c"/><stop offset="0.4335" stop-color="#00fff8"/><stop offset="0.4365" stop-color="#00f9ff"/><stop offset="0.4611" stop-color="#0079ff"/><stop offset="0.47" stop-color="#0068ff"/><stop offset="0.4995" stop-color="#004eff"/><stop offset="0.5291" stop-color="#004dff"/><stop offset="0.5557" stop-color="#0061ff"/><stop offset="0.5655" stop-color="#0070ff"/><stop offset="0.5704" stop-color="#008eff"/><stop offset="0.5764" stop-color="#00c1ff"/><stop offset="0.5823" stop-color="#00fffe"/><stop offset="0.599" stop-color="#00ff83"/><stop offset="0.6108" stop-color="#00ff1a"/><stop offset="0.6148" stop-color="#00ff00"/><stop offset="0.6394" stop-color="#75ff00"/><stop offset="0.6601" stop-color="#c1ff00"/><stop offset="0.6778" stop-color="#eeff00"/><stop offset="0.6926" stop-color="#fffe00"/><stop offset="0.7537" stop-color="#ffe900"/><stop offset="0.9714" stop-color="#ffd200"/><stop offset="1" stop-color="#ffd200"/></linearGradient>
<linearGradient id="h190" gradientUnits="userSpaceOnUse" x1="306" x2="1321" y1="0" y2="0"><stop offset="0" stop-color="#ff8d00"/><stop offset="0.09163" stop-color="#ff9200"/><stop offset="0.1498" stop-color="#ffb600"/><stop offset="0.2099" stop-color="#feff00"/><stop offset="0.2798" stop-color="#c4ff00"/><stop offset="0.3113" stop-color="#94ff00"/><stop offset="0.3448" stop-color="#49ff00"/><stop offset="0.3704" stop-color="#00ff00"/><stop offset="0.3842" stop-color="#00ff39"/><stop offset="0.402" stop-color="#00ff89"/><stop offset="0.4355" stop-color="#00fdff"/><stop offset="0.4611" stop-color="#0079ff"/><stop offset="0.4709" stop-color="#0067ff"/><stop offset="0.5005" stop-color="#004fff"/><stop offset="0.5291" stop-color="#004eff"/><stop offset="0.5547" stop-color="#0062ff"/><stop offset="0.5655" stop-color="#0073ff"/><stop offset="0.5704" stop-color="#0093ff"/><stop offset="0.5764" stop-color="#00c7ff"/><stop offset="0.5813" stop-color="#00fcff"/><stop offset="0.598" stop-color="#00ff85"/><stop offset="0.6108" stop-color="#00ff15"/><stop offset="0.6138" stop-color="#00ff02"/><stop offset="0.6414" stop-color="#81ff00"/><stop offset="0.6611" stop-color="#c8ff00"/><stop offset="0.6788" stop-color="#f3ff00"/><stop offset="0.6897" stop-color="#fffc00"/><stop offset="0.7448" stop-color="#ffe800"/><stop offset="0.9645" stop-color="#ffd200"/><stop offset="1" stop-color="#ffd200"/></linearGradient>
<linearGradient id="h191" gradientUnits="userSpaceOnUse" x1="306" x2="1321" y1="0" y2="0"><stop offset="0" stop-color="#ff8e00"/><stop offset="0.08571" stop-color="#ff9200"/><stop offset="0.1448" stop-color="#ffb600"/><stop offset="0.2059" stop-color="#feff00"/><stop offset="0.2788" stop-color="#c3ff00"/><stop offset="0.3113" stop-color="#93ff00"/><stop offset="0.3448" stop-color="#49ff00"/><stop offset="0.3714" stop-color="#00ff02"/><stop offset="0.3852" stop-color="#00ff3d"/><stop offset="0.402" stop-color="#00ff89"/><stop offset="0.4355" stop-color="#00fdff"/><stop offset="0.4611" stop-color="#0079ff"/><stop offset="0.4709" stop-color="#0068ff"/><stop offset="0.5005" stop-color="#004fff"/><stop offset="0.5291" stop-color="#004fff"/><stop offset="0.5547" stop-color="#0063ff"/><stop offset="0.5645" stop-color="#0073ff"/><stop offset="0.5695" stop-color="#0090ff"/><stop offset="0.5754" stop-color="#00c2ff"/><stop offset="0.5803" stop-color="#00f8ff"/><stop offset="0.5813" stop-color="#00fffd"/><stop offset="0.598" stop-color="#00ff7f"/><stop offset="0.6099" stop-color="#00ff17"/><stop offset="0.6138" stop-color="#01ff00"/><stop offset="0.6394" stop-color="#7bff00"/><stop offset="0.6601" stop-color="#c9ff00"/><stop offset="0.6778" stop-color="#f5ff00"/><stop offset="0.6867" stop-color="#fffc00"/><stop offset="0.732" stop-color="#ffe800"/><stop offset="0.9044" stop-color="#ffd500"/><stop offset="1" stop-color="#ffd100"/></linearGradient>
<linearGradient id="h192" gradientUnits="userSpaceOnUse" x1="306" x2="1321" y1="0" y2="0"><stop offset="0" stop-color="#ff8e00"/><stop offset="0.08079" stop-color="#ff9300"/><stop offset="0.1409" stop-color="#ffb700"/><stop offset="0.203" stop-color="#feff00"/><stop offset="0.2768" stop-color="#c4ff00"/><stop offset="0.3103" stop-color="#93ff00"/><stop offset="0.3438" stop-color="#4cff00"/><stop offset="0.3714" stop-color="#00ff01"/><stop offset="0.3842" stop-color="#00ff37"/><stop offset="0.401" stop-color="#00ff85"/><stop offset="0.4355" stop-color="#00fdff"/><stop offset="0.4611" stop-color="#0079ff"/><stop offset="0.4709" stop-color="#0068ff"/><stop offset="0.5005" stop-color="#0050ff"/><stop offset="0.5291" stop-color="#004fff"/><stop offset="0.5547" stop-color="#0065ff"/><stop offset="0.5645" stop-color="#0076ff"/><stop offset="0.5704" stop-color="#009cff"/><stop offset="0.5754" stop-color="#00c8ff"/><stop offset="0.5803" stop-color="#00fdff"/><stop offset="0.597" stop-color="#00ff82"/><stop offset="0.6099" stop-color="#00ff14"/><stop offset="0.6128" stop-color="#00ff01"/><stop offset="0.6414" stop-color="#86ff00"/><stop offset="0.6611" stop-color="#cfff00"/><stop offset="0.6788" stop-color="#faff00"/><stop offset="0.6857" stop-color="#fffa00"/><stop offset="0.7261" stop-color="#ffe600"/><stop offset="0.8532" stop-color="#ffd700"/><stop offset="1" stop-color="#ffd100"/></linearGradient>
<linearGradient id="h193" gradientUnits="userSpaceOnUse" x1="306" x2="1321" y1="0" y2="0"><stop offset="0" stop-color="#ff8f00"/><stop offset="0.07488" stop-color="#ff9400"/><stop offset="0.136" stop-color="#ffb800"/><stop offset="0.199" stop-color="#feff00"/><stop offset="0.2749" stop-color="#c4ff00"/><stop offset="0.3103" stop-color="#92ff00"/><stop offset="0.3438" stop-color="#4cff00"/><stop offset="0.3724" stop-color="#00ff02"/><stop offset="0.3852" stop-color="#00ff3a"/><stop offset="0.401" stop-color="#00ff85"/><stop offset="0.4345" stop-color="#00fffb"/><stop offset="0.4374" stop-color="#00f6ff"/><stop offset="0.4611" stop-color="#007bff"/><stop offset="0.469" stop-color="#006bff"/><stop offset="0.4985" stop-color="#0051ff"/><stop offset="0.5271" stop-color="#004fff"/><stop offset="0.5527" stop-color="#0064ff"/><stop offset="0.5635" stop-color="#0075ff"/><stop offset="0.5685" stop-color="#0092ff"/><stop offset="0.5744" stop-color="#00c4ff"/><stop offset="0.5793" stop-color="#00faff"/><stop offset="0.5813" stop-color="#00fff3"/><stop offset="0.597" stop-color="#00ff7c"/><stop offset="0.6089" stop-color="#00ff18"/><stop offset="0.6128" stop-color="#01ff00"/><stop offset="0.6394" stop-color="#80ff00"/><stop offset="0.6601" stop-color="#ceff00"/><stop offset="0.6778" stop-color="#fcff00"/><stop offset="0.6916" stop-color="#fff100"/><stop offset="0.7517" stop-color="#ffdd00"/><stop offset="1" stop-color="#ffd000"/></linearGradient>
<linearGradient id="h194" gradientUnits="userSpaceOnUse" x1="306" x2="1321" y1="0" y2="0"><stop offset="0" stop-color="#ff9000"/><stop offset="0.06995" stop-color="#ff9500"/><stop offset="0.132" stop-color="#ffb900"/><stop offset="0.1951" stop-color="#feff00"/><stop offset="0.2729" stop-color="#c4ff00"/><stop offset="0.3094" stop-color="#92ff00"/><stop offset="0.3438" stop-color="#4cff00"/><stop offset="0.3724" stop-color="#00ff01"/><stop offset="0.3833" stop-color="#00ff2f"/><stop offset="0.4" stop-color="#00ff81"/><stop offset="0.4345" stop-color="#00fff8"/><stop offset="0.4374" stop-color="#00f9ff"/><stop offset="0.4581" stop-color="#008bff"/><stop offset="0.465" stop-color="#0071ff"/><stop offset="0.4936" stop-color="#0054ff"/><stop offset="0.5222" stop-color="#004eff"/><stop offset="0.5478" stop-color="#005fff"/><stop offset="0.5635" stop-color="#0078ff"/><stop offset="0.5695" stop-color="#009fff"/><stop offset="0.5744" stop-color="#00ccff"/><stop offset="0.5793" stop-color="#00fffe"/><stop offset="0.598" stop-color="#00ff6d"/><stop offset="0.6089" stop-color="#00ff15"/><stop offset="0.6128" stop-color="#03ff00"/><stop offset="0.6404" stop-color="#86ff00"/><stop offset="0.6611" stop-color="#d4ff00"/><stop offset="0.6778" stop-color="#ffff00"/><stop offset="0.6936" stop-color="#ffed00"/><stop offset="0.7537" stop-color="#ffda00"/><stop offset="1" stop-color="#ffd000"/></linearGradient>
<linearGradient id="h195" gradientUnits="userSpaceOnUse" x1="306" x2="1321" y1="0" y2="0"><stop offset="0" stop-color="#ff9100"/><stop offset="0.06404" stop-color="#ff9600"/><stop offset="0.1271" stop-color="#ffba00"/><stop offset="0.1921" stop-color="#feff00"/><stop offset="0.2709" stop-color="#c3ff00"/><stop offset="0.3094" stop-color="#90ff00"/><stop offset="0.3438" stop-color="#4dff00"/><stop offset="0.3734" stop-color="#00ff02"/><stop offset="0.3842" stop-color="#00ff31"/><stop offset="0.4" stop-color="#00ff80"/><stop offset="0.4345" stop-color="#00fff4"/><stop offset="0.4374" stop-color="#00fdff"/><stop offset="0.4532" stop-color="#00a6ff"/><stop offset="0.464" stop-color="#0076ff"/><stop offset="0.4749" stop-color="#0065ff"/><stop offset="0.5044" stop-color="#0050ff"/><stop offset="0.531" stop-color="#0052ff"/><stop offset="0.5547" stop-color="#0069ff"/><stop offset="0.5626" stop-color="#0078ff"/><stop offset="0.5685" stop-color="#009eff"/><stop offset="0.5734" stop-color="#00caff"/><stop offset="0.5783" stop-color="#00feff"/><stop offset="0.598" stop-color="#00ff66"/><stop offset="0.6089" stop-color="#00ff12"/><stop offset="0.6118" stop-color="#00ff01"/><stop offset="0.6414" stop-color="#8dff00"/><stop offset="0.6611" stop-color="#d7ff00"/><stop offset="0.6759" stop-color="#feff00"/><stop offset="0.6926" stop-color="#ffea00"/><stop offset="0.7507" stop-color="#ffd600"/><stop offset="1" stop-color="#ffd000"/></linearGradient>
<linearGradient id="h196" gradientUnits="userSpaceOnUse" x1="306" x2="1321" y1="0" y2="0"><stop offset="0" stop-color="#ff9200"/><stop offset="0.05813" stop-color="#ff9700"/><stop offset="0.1222" stop-color="#ffbc00"/><stop offset="0.1882" stop-color="#fdff00"/><stop offset="0.268" stop-color="#c4ff00"/><stop offset="0.3094" stop-color="#8fff00"/><stop offset="0.3438" stop-color="#4dff00"/><stop offset="0.3744" stop-color="#00ff03"/><stop offset="0.3852" stop-color="#00ff34"/><stop offset="0.399" stop-color="#00ff7b"/><stop offset="0.4187" stop-color="#00ffbb"/><stop offset="0.4365" stop-color="#00fff7"/><stop offset="0.4394" stop-color="#00f9ff"/><stop offset="0.4522" stop-color="#00adff"/><stop offset="0.465" stop-color="#0077ff"/><stop offset="0.4739" stop-color="#0067ff"/><stop offset="0.5044" stop-color="#0050ff"/><stop offset="0.531" stop-color="#0052ff"/><stop offset="0.5547" stop-color="#006aff"/><stop offset="0.5616" stop-color="#0077ff"/><stop offset="0.5665" stop-color="#0095ff"/><stop offset="0.5724" stop-color="#00c8ff"/><stop offset="0.5773" stop-color="#00fcff"/><stop offset="0.599" stop-color="#00ff58"/><stop offset="0.6089" stop-color="#00ff10"/><stop offset="0.6118" stop-color="#01ff00"/><stop offset="0.6414" stop-color="#8fff00"/><stop offset="0.6611" stop-color="#daff00"/><stop offset="0.6749" stop-color="#fffe00"/><stop offset="0.6906" stop-color="#ffe800"/><stop offset="0.7478" stop-color="#ffd300"/><stop offset="1" stop-color="#ffd000"/></linearGradient>
<linearGradient id="h197" gradientUnits="userSpaceOnUse" x1="306" x2="1321" y1="0" y2="0"><stop offset="0" stop-color="#ff9300"/><stop offset="0.0532" stop-color="#ff9800"/><stop offset="0.1172" stop-color="#ffbd00"/><stop offset="0.1842" stop-color="#fdff00"/><stop offset="0.266" stop-color="#c3ff00"/><stop offset="0.3094" stop-color="#8dff00"/><stop offset="0.3448" stop-color="#4bff00"/><stop offset="0.3744" stop-color="#00ff00"/><stop offset="0.3833" stop-color="#00ff27"/><stop offset="0.399" stop-color="#00ff7a"/><stop offset="0.4167" stop-color="#00ffb3"/><stop offset="0.4355" stop-color="#00ffee"/><stop offset="0.4394" stop-color="#00fffe"/><stop offset="0.4473" stop-color="#00cfff"/><stop offset="0.4542" stop-color="#00a6ff"/><stop offset="0.467" stop-color="#0074ff"/><stop offset="0.4778" stop-color="#0063ff"/><stop offset="0.5074" stop-color="#0050ff"/><stop offset="0.533" stop-color="#0054ff"/><stop offset="0.5557" stop-color="#006dff"/><stop offset="0.5616" stop-color="#007bff"/><stop offset="0.5685" stop-color="#00acff"/><stop offset="0.5764" stop-color="#00fbff"/><stop offset="0.5793" stop-color="#00ffea"/><stop offset="0.6069" stop-color="#00ff1a"/><stop offset="0.6118" stop-color="#02ff00"/><stop offset="0.6424" stop-color="#96ff00"/><stop offset="0.6621" stop-color="#e1ff00"/><stop offset="0.6739" stop-color="#fffd00"/><stop offset="0.6887" stop-color="#ffe600"/><stop offset="0.7438" stop-color="#ffd000"/><stop offset="1" stop-color="#ffcf00"/></linearGradient>
<linearGradient id="h198" gradientUnits="userSpaceOnUse" x1="306" x2="1321" y1="0" y2="0"><stop offset="0" stop-color="#ff9300"/><stop offset="0.04828" stop-color="#ff9a00"/><stop offset="0.1133" stop-color="#ffc000"/><stop offset="0.1793" stop-color="#feff00"/><stop offset="0.2631" stop-color="#c3ff00"/><stop offset="0.3094" stop-color="#8cff00"/><stop offset="0.3448" stop-color="#4cff00"/><stop offset="0.3754" stop-color="#00ff01"/><stop offset="0.3842" stop-color="#00ff29"/><stop offset="0.399" stop-color="#00ff78"/><stop offset="0.4158" stop-color="#00ffae"/><stop offset="0.4355" stop-color="#00ffe9"/><stop offset="0.4414" stop-color="#00fdff"/><stop offset="0.4542" stop-color="#00a8ff"/><stop offset="0.468" stop-color="#0074ff"/><stop offset="0.4788" stop-color="#0062ff"/><stop offset="0.5094" stop-color="#004fff"/><stop offset="0.534" stop-color="#0055ff"/><stop offset="0.5567" stop-color="#0071ff"/><stop offset="0.5616" stop-color="#0080ff"/><stop offset="0.5695" stop-color="#00bbff"/><stop offset="0.5754" stop-color="#00f9ff"/><stop offset="0.5773" stop-color="#00fff4"/><stop offset="0.6059" stop-color="#00ff1e"/><stop offset="0.6108" stop-color="#00ff01"/><stop offset="0.6443" stop-color="#a1ff00"/><stop offset="0.6631" stop-color="#e8ff00"/><stop offset="0.6719" stop-color="#fffe00"/><stop offset="0.6867" stop-color="#ffe400"/><stop offset="0.7409" stop-color="#ffcd00"/><stop offset="1" stop-color="#ffcf00"/></linearGradient>
<linearGradient id="h199" gradientUnits="userSpaceOnUse" x1="306" x2="1321" y1="0" y2="0"><stop offset="0" stop-color="#ff9400"/><stop offset="0.04532" stop-color="#ff9c00"/><stop offset="0.1094" stop-color="#ffc200"/><stop offset="0.1754" stop-color="#feff00"/><stop offset="0.2611" stop-color="#c3ff00"/><stop offset="0.3094" stop-color="#8aff00"/><stop offset="0.3448" stop-color="#4cff00"/><stop offset="0.3764" stop-color="#00ff02"/><stop offset="0.3852" stop-color="#00ff2b"/><stop offset="0.399" stop-color="#00ff77"/><stop offset="0.4148" stop-color="#00ffa9"/><stop offset="0.4355" stop-color="#00ffe4"/><stop offset="0.4424" stop-color="#00feff"/><stop offset="0.4493" stop-color="#00cfff"/><stop offset="0.4552" stop-color="#00a5ff"/><stop offset="0.468" stop-color="#0077ff"/><stop offset="0.4788" stop-color="#0063ff"/><stop offset="0.5094" stop-color="#0050ff"/><stop offset="0.533" stop-color="#0055ff"/><stop offset="0.5557" stop-color="#0071ff"/><stop offset="0.5606" stop-color="#0080ff"/><stop offset="0.5685" stop-color="#00baff"/><stop offset="0.5754" stop-color="#00fffe"/><stop offset="0.6" stop-color="#00ff43"/><stop offset="0.6108" stop-color="#00ff00"/><stop offset="0.6433" stop-color="#9fff00"/><stop offset="0.6621" stop-color="#e8ff00"/><stop offset="0.6709" stop-color="#fffc00"/><stop offset="0.6857" stop-color="#ffe200"/><stop offset="0.7389" stop-color="#ffc900"/><stop offset="0.8355" stop-color="#ffca00"/><stop offset="1" stop-color="#ffcf00"/></linearGradient>
<linearGradient id="h200" gradientUnits="userSpaceOnUse" x1="306" x2="1321" y1="0" y2="0"><stop offset="0" stop-color="#ff9500"/><stop offset="0.04532" stop-color="#ffa000"/><stop offset="0.1064" stop-color="#ffc500"/><stop offset="0.1714" stop-color="#feff00"/><stop offset="0.2581" stop-color="#c3ff00"/><stop offset="0.3084" stop-color="#8aff00"/><stop offset="0.3448" stop-color="#4cff00"/><stop offset="0.3754" stop-color="#03ff00"/><stop offset="0.3803" stop-color="#00ff0f"/><stop offset="0.399" stop-color="#00ff76"/><stop offset="0.4148" stop-color="#00ffa7"/><stop offset="0.4365" stop-color="#00ffe3"/><stop offset="0.4433" stop-color="#00fffe"/><stop offset="0.4483" stop-color="#00e0ff"/><stop offset="0.4562" stop-color="#00a3ff"/><stop offset="0.468" stop-color="#0079ff"/><stop offset="0.4798" stop-color="#0062ff"/><stop offset="0.5113" stop-color="#0050ff"/><stop offset="0.534" stop-color="#0057ff"/><stop offset="0.5557" stop-color="#0073ff"/><stop offset="0.5596" stop-color="#007fff"/><stop offset="0.5675" stop-color="#00b8ff"/><stop offset="0.5744" stop-color="#00fdff"/><stop offset="0.601" stop-color="#00ff3a"/><stop offset="0.6099" stop-color="#00ff03"/><stop offset="0.6167" stop-color="#20ff00"/><stop offset="0.6463" stop-color="#b0ff00"/><stop offset="0.664" stop-color="#f3ff00"/><stop offset="0.669" stop-color="#fffd00"/><stop offset="0.6837" stop-color="#ffe000"/><stop offset="0.735" stop-color="#ffc600"/><stop offset="0.799" stop-color="#ffc400"/><stop offset="0.998" stop-color="#ffce00"/><stop offset="1" stop-color="#ffce00"/></linearGradient>
<linearGradient id="h201" gradientUnits="userSpaceOnUse" x1="306" x2="1321" y1="0" y2="0"><stop offset="0" stop-color="#ff9600"/><stop offset="0.04926" stop-color="#ffa700"/><stop offset="0.1064" stop-color="#ffcb00"/><stop offset="0.1675" stop-color="#fdff00"/><stop offset="0.2562" stop-color="#c3ff00"/><stop offset="0.3084" stop-color="#89ff00"/><stop offset="0.3448" stop-color="#4cff00"/><stop offset="0.3754" stop-color="#04ff00"/><stop offset="0.3793" stop-color="#00ff08"/><stop offset="0.3901" stop-color="#00ff44"/><stop offset="0.4" stop-color="#00ff78"/><stop offset="0.4158" stop-color="#00ffa8"/><stop offset="0.4374" stop-color="#00ffe2"/><stop offset="0.4453" stop-color="#00fcff"/><stop offset="0.4512" stop-color="#00d0ff"/><stop offset="0.4571" stop-color="#00a1ff"/><stop offset="0.467" stop-color="#007dff"/><stop offset="0.4798" stop-color="#0062ff"/><stop offset="0.5113" stop-color="#0050ff"/><stop offset="0.534" stop-color="#0057ff"/><stop offset="0.5557" stop-color="#0076ff"/><stop offset="0.5606" stop-color="#008bff"/><stop offset="0.5685" stop-color="#00c8ff"/><stop offset="0.5734" stop-color="#00faff"/><stop offset="0.5754" stop-color="#00fff3"/><stop offset="0.598" stop-color="#00ff4b"/><stop offset="0.6099" stop-color="#00ff02"/><stop offset="0.6473" stop-color="#b8ff00"/><stop offset="0.665" stop-color="#fbff00"/><stop offset="0.6709" stop-color="#fff300"/><stop offset="0.6847" stop-color="#ffdb00"/><stop offset="0.7379" stop-color="#ffc100"/><stop offset="0.8049" stop-color="#ffc100"/><stop offset="0.9793" stop-color="#ffce00"/><stop offset="1" stop-color="#ffce00"/></linearGradient>
<linearGradient id="h202" gradientUnits="userSpaceOnUse" x1="306" x2="1321" y1="0" y2="0"><stop offset="0" stop-color="#ff9800"/><stop offset="0.05911" stop-color="#ffb000"/><stop offset="0.1123" stop-color="#ffd600"/><stop offset="0.1645" stop-color="#fdff00"/><stop offset="0.2532" stop-color="#c3ff00"/><stop offset="0.3074" stop-color="#89ff00"/><stop offset="0.3438" stop-color="#4eff00"/><stop offset="0.3744" stop-color="#08ff00"/><stop offset="0.3783" stop-color="#00ff03"/><stop offset="0.3862" stop-color="#00ff2a"/><stop offset="0.398" stop-color="#00ff6e"/><stop offset="0.4118" stop-color="#00ff9c"/><stop offset="0.4374" stop-color="#00ffdf"/><stop offset="0.4463" stop-color="#00fcff"/><stop offset="0.4522" stop-color="#00ceff"/><stop offset="0.4581" stop-color="#009eff"/><stop offset="0.467" stop-color="#007dff"/><stop offset="0.4808" stop-color="#0061ff"/><stop offset="0.5123" stop-color="#0050ff"/><stop offset="0.534" stop-color="#0059ff"/><stop offset="0.5557" stop-color="#0078ff"/><stop offset="0.5606" stop-color="#0090ff"/><stop offset="0.5685" stop-color="#00ceff"/><stop offset="0.5734" stop-color="#00feff"/><stop offset="0.5911" stop-color="#00ff79"/><stop offset="0.6069" stop-color="#00ff11"/><stop offset="0.6099" stop-color="#00ff01"/><stop offset="0.6463" stop-color="#b7ff00"/><stop offset="0.664" stop-color="#fdff00"/><stop offset="0.6808" stop-color="#ffdb00"/><stop offset="0.7281" stop-color="#ffc000"/><stop offset="0.7783" stop-color="#ffba00"/><stop offset="0.9675" stop-color="#ffcd00"/><stop offset="1" stop-color="#ffcd00"/></linearGradient>
<linearGradient id="h203" gradientUnits="userSpaceOnUse" x1="306" x2="1321" y1="0" y2="0"><stop offset="0" stop-color="#ff9a00"/><stop offset="0.07685" stop-color="#ffbf00"/><stop offset="0.1606" stop-color="#fdff00"/><stop offset="0.2512" stop-color="#c3ff00"/><stop offset="0.3074" stop-color="#88ff00"/><stop offset="0.3448" stop-color="#4cff00"/><stop offset="0.3783" stop-color="#00ff02"/><stop offset="0.3862" stop-color="#00ff28"/><stop offset="0.398" stop-color="#00ff6c"/><stop offset="0.4118" stop-color="#00ff9a"/><stop offset="0.4374" stop-color="#00ffdc"/><stop offset="0.4463" stop-color="#00ffff"/><stop offset="0.4512" stop-color="#00dcff"/><stop offset="0.4581" stop-color="#00a0ff"/><stop offset="0.4631" stop-color="#008aff"/><stop offset="0.4768" stop-color="#0067ff"/><stop offset="0.4956" stop-color="#0056ff"/><stop offset="0.5222" stop-color="#0052ff"/><stop offset="0.5429" stop-color="#0065ff"/><stop offset="0.5567" stop-color="#007fff"/><stop offset="0.5635" stop-color="#00a9ff"/><stop offset="0.5685" stop-color="#00d2ff"/><stop offset="0.5734" stop-color="#00fffd"/><stop offset="0.5901" stop-color="#00ff7e"/><stop offset="0.6059" stop-color="#00ff15"/><stop offset="0.6099" stop-color="#00ff00"/><stop offset="0.6453" stop-color="#b7ff00"/><stop offset="0.6631" stop-color="#ffff00"/><stop offset="0.6778" stop-color="#ffda00"/><stop offset="0.7074" stop-color="#ffc400"/><stop offset="0.7567" stop-color="#ffb500"/><stop offset="0.9685" stop-color="#ffcd00"/><stop offset="1" stop-color="#ffcd00"/></linearGradient>
<linearGradient id="h204" gradientUnits="userSpaceOnUse" x1="306" x2="1321" y1="0" y2="0"><stop offset="0" stop-color="#ff9d00"/><stop offset="0.08374" stop-color="#ffc900"/><stop offset="0.1567" stop-color="#fdff00"/><stop offset="0.2483" stop-color="#c4ff00"/><stop offset="0.3054" stop-color="#8aff00"/><stop offset="0.3429" stop-color="#50ff00"/><stop offset="0.3744" stop-color="#09ff00"/><stop offset="0.3793" stop-color="#00ff05"/><stop offset="0.3882" stop-color="#00ff32"/><stop offset="0.399" stop-color="#00ff6f"/><stop offset="0.4138" stop-color="#00ff9d"/><stop offset="0.4374" stop-color="#00ffda"/><stop offset="0.4473" stop-color="#00fcff"/><stop offset="0.4532" stop-color="#00cdff"/><stop offset="0.4591" stop-color="#009bff"/><stop offset="0.466" stop-color="#0081ff"/><stop offset="0.4798" stop-color="#0062ff"/><stop offset="0.5084" stop-color="#0052ff"/><stop offset="0.5291" stop-color="#0057ff"/><stop offset="0.5507" stop-color="#0074ff"/><stop offset="0.5567" stop-color="#0084ff"/><stop offset="0.5655" stop-color="#00baff"/><stop offset="0.5724" stop-color="#00fbff"/><stop offset="0.5754" stop-color="#00ffeb"/><stop offset="0.597" stop-color="#00ff4c"/><stop offset="0.6089" stop-color="#00ff03"/><stop offset="0.6167" stop-color="#27ff00"/><stop offset="0.6463" stop-color="#c1ff00"/><stop offset="0.6611" stop-color="#feff00"/><stop offset="0.6759" stop-color="#ffd800"/><stop offset="0.6946" stop-color="#ffc700"/><stop offset="0.7458" stop-color="#ffb100"/><stop offset="0.8128" stop-color="#ffb600"/><stop offset="0.9576" stop-color="#ffcc00"/><stop offset="1" stop-color="#ffcc00"/></linearGradient>
<linearGradient id="h205" gradientUnits="userSpaceOnUse" x1="306" x2="1321" y1="0" y2="0"><stop offset="0" stop-color="#ffa000"/><stop offset="0.08374" stop-color="#ffce00"/><stop offset="0.1527" stop-color="#fdff00"/><stop offset="0.2463" stop-color="#c4ff00"/><stop offset="0.3044" stop-color="#8aff00"/><stop offset="0.3429" stop-color="#4fff00"/><stop offset="0.3783" stop-color="#00ff01"/><stop offset="0.3862" stop-color="#00ff26"/><stop offset="0.399" stop-color="#00ff6d"/><stop offset="0.4138" stop-color="#00ff9c"/><stop offset="0.4374" stop-color="#00ffda"/><stop offset="0.4473" stop-color="#00fdff"/><stop offset="0.4532" stop-color="#00ceff"/><stop offset="0.4591" stop-color="#009bff"/><stop offset="0.466" stop-color="#0081ff"/><stop offset="0.4798" stop-color="#0063ff"/><stop offset="0.5084" stop-color="#0053ff"/><stop offset="0.5281" stop-color="#0057ff"/><stop offset="0.5488" stop-color="#0074ff"/><stop offset="0.5567" stop-color="#0088ff"/><stop offset="0.5655" stop-color="#00bcff"/><stop offset="0.5724" stop-color="#00fbff"/><stop offset="0.5754" stop-color="#00ffeb"/><stop offset="0.598" stop-color="#00ff45"/><stop offset="0.6089" stop-color="#00ff02"/><stop offset="0.6463" stop-color="#c6ff00"/><stop offset="0.6601" stop-color="#fffe00"/><stop offset="0.6739" stop-color="#ffd600"/><stop offset="0.6887" stop-color="#ffc600"/><stop offset="0.7409" stop-color="#ffad00"/><stop offset="0.798" stop-color="#ffaf00"/><stop offset="0.9517" stop-color="#ffcb00"/><stop offset="1" stop-color="#ffcc00"/></linearGradient>
<linearGradient id="h206" gradientUnits="userSpaceOnUse" x1="306" x2="1321" y1="0" y2="0"><stop offset="0" stop-color="#ffa300"/><stop offset="0.08374" stop-color="#ffd200"/><stop offset="0.1498" stop-color="#fcff00"/><stop offset="0.2443" stop-color="#c5ff00"/><stop offset="0.3025" stop-color="#8cff00"/><stop offset="0.3409" stop-color="#51ff00"/><stop offset="0.3734" stop-color="#0bff00"/><stop offset="0.3783" stop-color="#00ff02"/><stop offset="0.3862" stop-color="#00ff25"/><stop offset="0.399" stop-color="#00ff6b"/><stop offset="0.4148" stop-color="#00ff9c"/><stop offset="0.4374" stop-color="#00ffd8"/><stop offset="0.4473" stop-color="#00fdff"/><stop offset="0.4542" stop-color="#00c3ff"/><stop offset="0.4591" stop-color="#009dff"/><stop offset="0.47" stop-color="#0079ff"/><stop offset="0.4837" stop-color="#0062ff"/><stop offset="0.5163" stop-color="#0056ff"/><stop offset="0.535" stop-color="#0063ff"/><stop offset="0.5537" stop-color="#0084ff"/><stop offset="0.5616" stop-color="#00aaff"/><stop offset="0.5685" stop-color="#00d9ff"/><stop offset="0.5724" stop-color="#00fdff"/><stop offset="0.599" stop-color="#00ff3d"/><stop offset="0.6089" stop-color="#00ff01"/><stop offset="0.6453" stop-color="#c7ff00"/><stop offset="0.6581" stop-color="#fffe00"/><stop offset="0.6719" stop-color="#ffd400"/><stop offset="0.6847" stop-color="#ffc300"/><stop offset="0.7369" stop-color="#ffa900"/><stop offset="0.7892" stop-color="#ffa800"/><stop offset="0.9527" stop-color="#ffca00"/><stop offset="1" stop-color="#ffca00"/></linearGradient>
<linearGradient id="h207" gradientUnits="userSpaceOnUse" x1="306" x2="1321" y1="0" y2="0"><stop offset="0" stop-color="#ffa700"/><stop offset="0.0867" stop-color="#ffd900"/><stop offset="0.1458" stop-color="#fdff00"/><stop offset="0.2424" stop-color="#c6ff00"/><stop offset="0.2995" stop-color="#8eff00"/><stop offset="0.3389" stop-color="#54ff00"/><stop offset="0.3783" stop-color="#00ff02"/><stop offset="0.3862" stop-color="#00ff25"/><stop offset="0.399" stop-color="#00ff69"/><stop offset="0.4148" stop-color="#00ff99"/><stop offset="0.4374" stop-color="#00ffd6"/><stop offset="0.4473" stop-color="#00fdff"/><stop offset="0.4571" stop-color="#00acff"/><stop offset="0.4631" stop-color="#0093ff"/><stop offset="0.4768" stop-color="#0072ff"/><stop offset="0.5005" stop-color="#0060ff"/><stop offset="0.5232" stop-color="#005fff"/><stop offset="0.5438" stop-color="#0079ff"/><stop offset="0.5547" stop-color="#0091ff"/><stop offset="0.5655" stop-color="#00cbff"/><stop offset="0.5724" stop-color="#00fffd"/><stop offset="0.599" stop-color="#00ff3d"/><stop offset="0.6089" stop-color="#01ff00"/><stop offset="0.6453" stop-color="#cdff00"/><stop offset="0.6562" stop-color="#ffff00"/><stop offset="0.67" stop-color="#ffd100"/><stop offset="0.6818" stop-color="#ffbe00"/><stop offset="0.734" stop-color="#ffa300"/><stop offset="0.7842" stop-color="#ffa100"/><stop offset="0.9547" stop-color="#ffc700"/><stop offset="1" stop-color="#ffc700"/></linearGradient>
<linearGradient id="h208" gradientUnits="userSpaceOnUse" x1="306" x2="1321" y1="0" y2="0"><stop offset="0" stop-color="#ffab00"/><stop offset="0.09163" stop-color="#ffe000"/><stop offset="0.1429" stop-color="#fdff00"/><stop offset="0.2414" stop-color="#c6ff00"/><stop offset="0.2966" stop-color="#91ff00"/><stop offset="0.3369" stop-color="#56ff00"/><stop offset="0.3714" stop-color="#0eff00"/><stop offset="0.3783" stop-color="#00ff03"/><stop offset="0.3872" stop-color="#00ff2a"/><stop offset="0.399" stop-color="#00ff67"/><stop offset="0.4158" stop-color="#00ff98"/><stop offset="0.4365" stop-color="#00ffcf"/><stop offset="0.4453" stop-color="#00fff4"/><stop offset="0.4473" stop-color="#00fcff"/><stop offset="0.4562" stop-color="#00b5ff"/><stop offset="0.464" stop-color="#0098ff"/><stop offset="0.4788" stop-color="#0079ff"/><stop offset="0.5084" stop-color="#0066ff"/><stop offset="0.5271" stop-color="#006cff"/><stop offset="0.5488" stop-color="#008dff"/><stop offset="0.5557" stop-color="#00a2ff"/><stop offset="0.5685" stop-color="#00ebff"/><stop offset="0.5714" stop-color="#00fffe"/><stop offset="0.6049" stop-color="#00ff15"/><stop offset="0.6089" stop-color="#02ff00"/><stop offset="0.6453" stop-color="#d4ff00"/><stop offset="0.6542" stop-color="#ffff00"/><stop offset="0.668" stop-color="#ffcd00"/><stop offset="0.6798" stop-color="#ffb900"/><stop offset="0.732" stop-color="#ff9d00"/><stop offset="0.7813" stop-color="#ff9900"/><stop offset="0.9547" stop-color="#ffc400"/><stop offset="1" stop-color="#ffc400"/></linearGradient>
<linearGradient id="h209" gradientUnits="userSpaceOnUse" x1="306" x2="1321" y1="0" y2="0"><stop offset="0" stop-color="#ffaf00"/><stop offset="0.1015" stop-color="#ffea00"/><stop offset="0.1399" stop-color="#fcff00"/><stop offset="0.2394" stop-color="#c8ff00"/><stop offset="0.2936" stop-color="#95ff00"/><stop offset="0.335" stop-color="#58ff00"/><stop offset="0.3704" stop-color="#0fff00"/><stop offset="0.3773" stop-color="#00ff02"/><stop offset="0.3852" stop-color="#00ff20"/><stop offset="0.399" stop-color="#00ff65"/><stop offset="0.4158" stop-color="#00ff94"/><stop offset="0.4355" stop-color="#00ffc8"/><stop offset="0.4443" stop-color="#00ffed"/><stop offset="0.4473" stop-color="#00fbff"/><stop offset="0.4552" stop-color="#00c0ff"/><stop offset="0.467" stop-color="#009aff"/><stop offset="0.4818" stop-color="#0082ff"/><stop offset="0.5094" stop-color="#0070ff"/><stop offset="0.5271" stop-color="#0077ff"/><stop offset="0.5498" stop-color="#009bff"/><stop offset="0.5567" stop-color="#00b5ff"/><stop offset="0.5695" stop-color="#00fdff"/><stop offset="0.6079" stop-color="#00ff03"/><stop offset="0.6236" stop-color="#5cff00"/><stop offset="0.6473" stop-color="#e6ff00"/><stop offset="0.6522" stop-color="#feff00"/><stop offset="0.666" stop-color="#ffca00"/><stop offset="0.6768" stop-color="#ffb400"/><stop offset="0.7291" stop-color="#ff9600"/><stop offset="0.7783" stop-color="#ff9200"/><stop offset="0.9557" stop-color="#ffc000"/><stop offset="1" stop-color="#ffc000"/></linearGradient>
<linearGradient id="h210" gradientUnits="userSpaceOnUse" x1="306" x2="1321" y1="0" y2="0"><stop offset="0" stop-color="#ffb400"/><stop offset="0.1369" stop-color="#fcff00"/><stop offset="0.2374" stop-color="#c9ff00"/><stop offset="0.2897" stop-color="#99ff00"/><stop offset="0.332" stop-color="#5cff00"/><stop offset="0.3685" stop-color="#12ff00"/><stop offset="0.3773" stop-color="#00ff03"/><stop offset="0.3862" stop-color="#00ff25"/><stop offset="0.4" stop-color="#00ff65"/><stop offset="0.4197" stop-color="#00ff99"/><stop offset="0.4365" stop-color="#00ffc6"/><stop offset="0.4433" stop-color="#00ffe6"/><stop offset="0.4473" stop-color="#00fbff"/><stop offset="0.4542" stop-color="#00cdff"/><stop offset="0.468" stop-color="#00a5ff"/><stop offset="0.4867" stop-color="#008bff"/><stop offset="0.5103" stop-color="#007cff"/><stop offset="0.5291" stop-color="#0087ff"/><stop offset="0.5507" stop-color="#00acff"/><stop offset="0.5596" stop-color="#00d6ff"/><stop offset="0.5675" stop-color="#00fffe"/><stop offset="0.5911" stop-color="#00ff6f"/><stop offset="0.6079" stop-color="#00ff02"/><stop offset="0.6473" stop-color="#eeff00"/><stop offset="0.6512" stop-color="#fffc00"/><stop offset="0.664" stop-color="#ffc600"/><stop offset="0.6749" stop-color="#ffae00"/><stop offset="0.7261" stop-color="#ff9000"/><stop offset="0.7754" stop-color="#ff8a00"/><stop offset="0.9557" stop-color="#ffbb00"/><stop offset="1" stop-color="#ffbb00"/></linearGradient>
<linearGradient id="h211" gradientUnits="userSpaceOnUse" x1="306" x2="1321" y1="0" y2="0"><stop offset="0" stop-color="#ffb800"/><stop offset="0.133" stop-color="#fdff00"/><stop offset="0.2365" stop-color="#caff00"/><stop offset="0.2867" stop-color="#9cff00"/><stop offset="0.3291" stop-color="#60ff00"/><stop offset="0.3675" stop-color="#13ff00"/><stop offset="0.3764" stop-color="#00ff02"/><stop offset="0.3852" stop-color="#00ff21"/><stop offset="0.4" stop-color="#00ff63"/><stop offset="0.4345" stop-color="#00ffba"/><stop offset="0.4414" stop-color="#00ffd7"/><stop offset="0.4473" stop-color="#00fdff"/><stop offset="0.4532" stop-color="#00dbff"/><stop offset="0.468" stop-color="#00b2ff"/><stop offset="0.4946" stop-color="#0090ff"/><stop offset="0.5143" stop-color="#008aff"/><stop offset="0.534" stop-color="#009cff"/><stop offset="0.5507" stop-color="#00bcff"/><stop offset="0.5616" stop-color="#00f2ff"/><stop offset="0.5645" stop-color="#00fffc"/><stop offset="0.5862" stop-color="#00ff89"/><stop offset="0.6079" stop-color="#00ff01"/><stop offset="0.6463" stop-color="#f1ff00"/><stop offset="0.6493" stop-color="#fffc00"/><stop offset="0.6621" stop-color="#ffc300"/><stop offset="0.6729" stop-color="#ffa800"/><stop offset="0.7222" stop-color="#ff8a00"/><stop offset="0.7714" stop-color="#ff8200"/><stop offset="0.8581" stop-color="#ff9b00"/><stop offset="0.9567" stop-color="#ffb700"/><stop offset="1" stop-color="#ffb700"/></linearGradient>
<linearGradient id="h212" gradientUnits="userSpaceOnUse" x1="306" x2="1321" y1="0" y2="0"><stop offset="0" stop-color="#ffbc00"/><stop offset="0.13" stop-color="#fcff00"/><stop offset="0.2345" stop-color="#ccff00"/><stop offset="0.2828" stop-color="#a1ff00"/><stop offset="0.3261" stop-color="#64ff00"/><stop offset="0.3655" stop-color="#16ff00"/><stop offset="0.3764" stop-color="#00ff03"/><stop offset="0.3862" stop-color="#00ff25"/><stop offset="0.4" stop-color="#00ff60"/><stop offset="0.4335" stop-color="#00ffb1"/><stop offset="0.4404" stop-color="#00ffce"/><stop offset="0.4483" stop-color="#00fdff"/><stop offset="0.4562" stop-color="#00deff"/><stop offset="0.4719" stop-color="#00baff"/><stop offset="0.5005" stop-color="#009aff"/><stop offset="0.5182" stop-color="#009aff"/><stop offset="0.5399" stop-color="#00b5ff"/><stop offset="0.5507" stop-color="#00cdff"/><stop offset="0.5606" stop-color="#00feff"/><stop offset="0.5882" stop-color="#00ff78"/><stop offset="0.6079" stop-color="#01ff00"/><stop offset="0.6325" stop-color="#a3ff00"/><stop offset="0.6473" stop-color="#fffe00"/><stop offset="0.6601" stop-color="#ffc000"/><stop offset="0.67" stop-color="#ffa300"/><stop offset="0.7094" stop-color="#ff8700"/><stop offset="0.7606" stop-color="#ff7b00"/><stop offset="0.8236" stop-color="#ff8800"/><stop offset="0.9537" stop-color="#ffb200"/><stop offset="1" stop-color="#ffb300"/></linearGradient>
<linearGradient id="h213" gradientUnits="userSpaceOnUse" x1="306" x2="1321" y1="0" y2="0"><stop offset="0" stop-color="#ffc000"/><stop offset="0.1271" stop-color="#fcff00"/><stop offset="0.2325" stop-color="#cdff00"/><stop offset="0.2788" stop-color="#a5ff00"/><stop offset="0.3222" stop-color="#69ff00"/><stop offset="0.3635" stop-color="#19ff00"/><stop offset="0.3754" stop-color="#00ff02"/><stop offset="0.3852" stop-color="#00ff21"/><stop offset="0.4" stop-color="#00ff5d"/><stop offset="0.4325" stop-color="#00ffa7"/><stop offset="0.4394" stop-color="#00ffc4"/><stop offset="0.4493" stop-color="#00fffc"/><stop offset="0.468" stop-color="#00d0ff"/><stop offset="0.4975" stop-color="#00aaff"/><stop offset="0.5153" stop-color="#00a8ff"/><stop offset="0.536" stop-color="#00beff"/><stop offset="0.5498" stop-color="#00daff"/><stop offset="0.5576" stop-color="#00fffe"/><stop offset="0.5704" stop-color="#00ffc1"/><stop offset="0.5911" stop-color="#00ff62"/><stop offset="0.6079" stop-color="#02ff00"/><stop offset="0.6276" stop-color="#86ff00"/><stop offset="0.6453" stop-color="#feff00"/><stop offset="0.6581" stop-color="#ffbc00"/><stop offset="0.668" stop-color="#ff9d00"/><stop offset="0.6916" stop-color="#ff8900"/><stop offset="0.7438" stop-color="#ff7500"/><stop offset="0.7961" stop-color="#ff7800"/><stop offset="0.9537" stop-color="#ffae00"/><stop offset="1" stop-color="#ffae00"/></linearGradient>
<linearGradient id="h214" gradientUnits="userSpaceOnUse" x1="306" x2="1321" y1="0" y2="0"><stop offset="0" stop-color="#ffc400"/><stop offset="0.1232" stop-color="#fcff00"/><stop offset="0.2315" stop-color="#ceff00"/><stop offset="0.2768" stop-color="#a7ff00"/><stop offset="0.3212" stop-color="#69ff00"/><stop offset="0.3645" stop-color="#15ff00"/><stop offset="0.3754" stop-color="#00ff03"/><stop offset="0.3862" stop-color="#00ff25"/><stop offset="0.4" stop-color="#00ff5a"/><stop offset="0.4315" stop-color="#00ff9d"/><stop offset="0.4384" stop-color="#00ffb9"/><stop offset="0.4483" stop-color="#00ffed"/><stop offset="0.4552" stop-color="#00fcff"/><stop offset="0.4719" stop-color="#00d8ff"/><stop offset="0.4985" stop-color="#00b7ff"/><stop offset="0.5163" stop-color="#00b7ff"/><stop offset="0.5379" stop-color="#00d1ff"/><stop offset="0.5488" stop-color="#00e8ff"/><stop offset="0.5547" stop-color="#00fffd"/><stop offset="0.5675" stop-color="#00ffbf"/><stop offset="0.5901" stop-color="#00ff62"/><stop offset="0.602" stop-color="#00ff21"/><stop offset="0.6069" stop-color="#00ff02"/><stop offset="0.6177" stop-color="#44ff00"/><stop offset="0.6433" stop-color="#fcff00"/><stop offset="0.6581" stop-color="#ffb100"/><stop offset="0.668" stop-color="#ff9300"/><stop offset="0.7113" stop-color="#ff7700"/><stop offset="0.7645" stop-color="#ff6c00"/><stop offset="0.8276" stop-color="#ff7c00"/><stop offset="0.9527" stop-color="#ffaa00"/><stop offset="1" stop-color="#ffaa00"/></linearGradient>
<linearGradient id="h215" gradientUnits="userSpaceOnUse" x1="306" x2="1321" y1="0" y2="0"><stop offset="0" stop-color="#ffc800"/><stop offset="0.1192" stop-color="#fcff00"/><stop offset="0.2296" stop-color="#cfff00"/><stop offset="0.2739" stop-color="#aaff00"/><stop offset="0.3182" stop-color="#6dff00"/><stop offset="0.3635" stop-color="#16ff00"/><stop offset="0.3744" stop-color="#00ff02"/><stop offset="0.3852" stop-color="#00ff21"/><stop offset="0.4" stop-color="#00ff57"/><stop offset="0.4315" stop-color="#00ff96"/><stop offset="0.4394" stop-color="#00ffb8"/><stop offset="0.4483" stop-color="#00ffe1"/><stop offset="0.4601" stop-color="#00fcff"/><stop offset="0.4887" stop-color="#00ceff"/><stop offset="0.5064" stop-color="#00c2ff"/><stop offset="0.5261" stop-color="#00cfff"/><stop offset="0.5468" stop-color="#00f2ff"/><stop offset="0.5507" stop-color="#00ffff"/><stop offset="0.5675" stop-color="#00ffb3"/><stop offset="0.5901" stop-color="#00ff5e"/><stop offset="0.601" stop-color="#00ff25"/><stop offset="0.6069" stop-color="#00ff00"/><stop offset="0.6207" stop-color="#5eff00"/><stop offset="0.6424" stop-color="#fffe00"/><stop offset="0.6542" stop-color="#ffb700"/><stop offset="0.664" stop-color="#ff9100"/><stop offset="0.6739" stop-color="#ff8400"/><stop offset="0.7291" stop-color="#ff6900"/><stop offset="0.7813" stop-color="#ff6700"/><stop offset="0.9537" stop-color="#ffa700"/><stop offset="1" stop-color="#ffa700"/></linearGradient>
<linearGradient id="h216" gradientUnits="userSpaceOnUse" x1="306" x2="1321" y1="0" y2="0"><stop offset="0" stop-color="#ffcb00"/><stop offset="0.1153" stop-color="#fcff00"/><stop offset="0.2276" stop-color="#d0ff00"/><stop offset="0.2709" stop-color="#adff00"/><stop offset="0.3153" stop-color="#71ff00"/><stop offset="0.3616" stop-color="#1aff00"/><stop offset="0.3744" stop-color="#00ff02"/><stop offset="0.3862" stop-color="#00ff25"/><stop offset="0.4" stop-color="#00ff54"/><stop offset="0.4315" stop-color="#00ff90"/><stop offset="0.4483" stop-color="#00ffd6"/><stop offset="0.465" stop-color="#00ffff"/><stop offset="0.4946" stop-color="#00d5ff"/><stop offset="0.5113" stop-color="#00d1ff"/><stop offset="0.532" stop-color="#00e6ff"/><stop offset="0.5468" stop-color="#00fffe"/><stop offset="0.5685" stop-color="#00ffa6"/><stop offset="0.5882" stop-color="#00ff63"/><stop offset="0.599" stop-color="#00ff30"/><stop offset="0.6069" stop-color="#02ff00"/><stop offset="0.6207" stop-color="#64ff00"/><stop offset="0.6404" stop-color="#fdff00"/><stop offset="0.6532" stop-color="#ffb000"/><stop offset="0.6621" stop-color="#ff8b00"/><stop offset="0.6709" stop-color="#ff7d00"/><stop offset="0.7271" stop-color="#ff6300"/><stop offset="0.7813" stop-color="#ff6100"/><stop offset="0.9064" stop-color="#ff9300"/><stop offset="0.9567" stop-color="#ffa400"/><stop offset="1" stop-color="#ffa400"/></linearGradient>
<linearGradient id="h217" gradientUnits="userSpaceOnUse" x1="306" x2="1321" y1="0" y2="0"><stop offset="0" stop-color="#ffcf00"/><stop offset="0.1103" stop-color="#fdff00"/><stop offset="0.2256" stop-color="#d1ff00"/><stop offset="0.268" stop-color="#b0ff00"/><stop offset="0.3123" stop-color="#74ff00"/><stop offset="0.3606" stop-color="#1bff00"/><stop offset="0.3744" stop-color="#00ff02"/><stop offset="0.3862" stop-color="#00ff24"/><stop offset="0.4" stop-color="#00ff52"/><stop offset="0.4315" stop-color="#00ff8b"/><stop offset="0.4483" stop-color="#00ffcc"/><stop offset="0.467" stop-color="#00fff7"/><stop offset="0.4749" stop-color="#00fbff"/><stop offset="0.4985" stop-color="#00dfff"/><stop offset="0.5153" stop-color="#00e0ff"/><stop offset="0.5409" stop-color="#00fffd"/><stop offset="0.5498" stop-color="#00ffe6"/><stop offset="0.5675" stop-color="#00ffa2"/><stop offset="0.5872" stop-color="#00ff66"/><stop offset="0.599" stop-color="#00ff2f"/><stop offset="0.6059" stop-color="#00ff02"/><stop offset="0.6167" stop-color="#4cff00"/><stop offset="0.6384" stop-color="#fbff00"/><stop offset="0.6414" stop-color="#ffed00"/><stop offset="0.6522" stop-color="#ffa800"/><stop offset="0.6611" stop-color="#ff8300"/><stop offset="0.669" stop-color="#ff7600"/><stop offset="0.7281" stop-color="#ff5d00"/><stop offset="0.7823" stop-color="#ff5b00"/><stop offset="0.9074" stop-color="#ff9100"/><stop offset="0.9567" stop-color="#ffa200"/><stop offset="1" stop-color="#ffa200"/></linearGradient>
<linearGradient id="h218" gradientUnits="userSpaceOnUse" x1="306" x2="1321" y1="0" y2="0"><stop offset="0" stop-color="#ffd300"/><stop offset="0.1054" stop-color="#fcff00"/><stop offset="0.2227" stop-color="#d2ff00"/><stop offset="0.265" stop-color="#b2ff00"/><stop offset="0.3103" stop-color="#76ff00"/><stop offset="0.3606" stop-color="#1bff00"/><stop offset="0.3744" stop-color="#00ff02"/><stop offset="0.401" stop-color="#00ff51"/><stop offset="0.4315" stop-color="#00ff87"/><stop offset="0.4493" stop-color="#00ffc6"/><stop offset="0.469" stop-color="#00ffef"/><stop offset="0.4828" stop-color="#00fcff"/><stop offset="0.5034" stop-color="#00eaff"/><stop offset="0.5212" stop-color="#00f2ff"/><stop offset="0.533" stop-color="#00fffc"/><stop offset="0.5468" stop-color="#00ffe2"/><stop offset="0.5675" stop-color="#00ff9b"/><stop offset="0.5862" stop-color="#00ff65"/><stop offset="0.598" stop-color="#00ff2f"/><stop offset="0.6049" stop-color="#00ff03"/><stop offset="0.6118" stop-color="#2dff00"/><stop offset="0.6374" stop-color="#fffd00"/><stop offset="0.6493" stop-color="#ffa900"/><stop offset="0.6581" stop-color="#ff7f00"/><stop offset="0.666" stop-color="#ff6d00"/><stop offset="0.7281" stop-color="#ff5600"/><stop offset="0.7833" stop-color="#ff5600"/><stop offset="0.9084" stop-color="#ff8e00"/><stop offset="0.9557" stop-color="#ffa000"/><stop offset="1" stop-color="#ffa000"/></linearGradient>
<linearGradient id="h219" gradientUnits="userSpaceOnUse" x1="306" x2="1321" y1="0" y2="0"><stop offset="0" stop-color="#ffd800"/><stop offset="0.09852" stop-color="#fcff00"/><stop offset="0.2197" stop-color="#d3ff00"/><stop offset="0.2631" stop-color="#b2ff00"/><stop offset="0.3094" stop-color="#76ff00"/><stop offset="0.3616" stop-color="#1aff00"/><stop offset="0.3754" stop-color="#00ff03"/><stop offset="0.4" stop-color="#00ff4d"/><stop offset="0.4325" stop-color="#00ff86"/><stop offset="0.4483" stop-color="#00ffbb"/><stop offset="0.469" stop-color="#00ffe3"/><stop offset="0.4926" stop-color="#00fdff"/><stop offset="0.5103" stop-color="#00f7ff"/><stop offset="0.5241" stop-color="#00fffb"/><stop offset="0.5448" stop-color="#00ffda"/><stop offset="0.5685" stop-color="#00ff90"/><stop offset="0.5862" stop-color="#00ff5c"/><stop offset="0.597" stop-color="#00ff2d"/><stop offset="0.6039" stop-color="#00ff02"/><stop offset="0.6108" stop-color="#2dff00"/><stop offset="0.6276" stop-color="#bbff00"/><stop offset="0.6355" stop-color="#fffe00"/><stop offset="0.6463" stop-color="#ffab00"/><stop offset="0.6552" stop-color="#ff7a00"/><stop offset="0.6631" stop-color="#ff6500"/><stop offset="0.7271" stop-color="#ff5000"/><stop offset="0.7842" stop-color="#ff5000"/><stop offset="0.9094" stop-color="#ff8c00"/><stop offset="0.9557" stop-color="#ff9f00"/><stop offset="1" stop-color="#ff9f00"/></linearGradient>
<linearGradient id="h220" gradientUnits="userSpaceOnUse" x1="306" x2="1321" y1="0" y2="0"><stop offset="0" stop-color="#ffdc00"/><stop offset="0.09064" stop-color="#fdff00"/><stop offset="0.2158" stop-color="#d4ff00"/><stop offset="0.2601" stop-color="#b4ff00"/><stop offset="0.3084" stop-color="#78ff00"/><stop offset="0.3626" stop-color="#1bff00"/><stop offset="0.3754" stop-color="#00ff03"/><stop offset="0.399" stop-color="#00ff49"/><stop offset="0.4325" stop-color="#00ff83"/><stop offset="0.4483" stop-color="#00ffb4"/><stop offset="0.4709" stop-color="#00ffdb"/><stop offset="0.5005" stop-color="#00fff9"/><stop offset="0.5172" stop-color="#00fff5"/><stop offset="0.5429" stop-color="#00ffd1"/><stop offset="0.5872" stop-color="#00ff4f"/><stop offset="0.597" stop-color="#00ff23"/><stop offset="0.603" stop-color="#00ff01"/><stop offset="0.6108" stop-color="#35ff00"/><stop offset="0.6256" stop-color="#b7ff00"/><stop offset="0.6335" stop-color="#ffff00"/><stop offset="0.6443" stop-color="#ffa600"/><stop offset="0.6532" stop-color="#ff7200"/><stop offset="0.6601" stop-color="#ff5c00"/><stop offset="0.7182" stop-color="#ff4a00"/><stop offset="0.7823" stop-color="#ff4a00"/><stop offset="0.8611" stop-color="#ff7000"/><stop offset="0.9498" stop-color="#ff9c00"/><stop offset="1" stop-color="#ff9d00"/></linearGradient>
<linearGradient id="h221" gradientUnits="userSpaceOnUse" x1="306" x2="1321" y1="0" y2="0"><stop offset="0" stop-color="#ffe000"/><stop offset="0.08473" stop-color="#fcff00"/><stop offset="0.2128" stop-color="#d4ff00"/><stop offset="0.2591" stop-color="#b4ff00"/><stop offset="0.3094" stop-color="#78ff00"/><stop offset="0.3626" stop-color="#20ff00"/><stop offset="0.3754" stop-color="#00ff02"/><stop offset="0.398" stop-color="#00ff45"/><stop offset="0.4335" stop-color="#00ff82"/><stop offset="0.4483" stop-color="#00ffad"/><stop offset="0.4729" stop-color="#00ffd2"/><stop offset="0.5015" stop-color="#00ffeb"/><stop offset="0.5192" stop-color="#00ffe5"/><stop offset="0.5429" stop-color="#00ffc4"/><stop offset="0.5882" stop-color="#00ff42"/><stop offset="0.6" stop-color="#00ff0b"/><stop offset="0.602" stop-color="#00ff00"/><stop offset="0.6108" stop-color="#3eff00"/><stop offset="0.6256" stop-color="#c5ff00"/><stop offset="0.6315" stop-color="#fdff00"/><stop offset="0.6443" stop-color="#ff9500"/><stop offset="0.6522" stop-color="#ff6600"/><stop offset="0.6591" stop-color="#ff5100"/><stop offset="0.735" stop-color="#ff4200"/><stop offset="0.7882" stop-color="#ff4600"/><stop offset="0.9488" stop-color="#ff9a00"/><stop offset="1" stop-color="#ff9c00"/></linearGradient>
<linearGradient id="h222" gradientUnits="userSpaceOnUse" x1="306" x2="1321" y1="0" y2="0"><stop offset="0" stop-color="#ffe300"/><stop offset="0.07882" stop-color="#fcff00"/><stop offset="0.2108" stop-color="#d5ff00"/><stop offset="0.2601" stop-color="#b3ff00"/><stop offset="0.3113" stop-color="#78ff00"/><stop offset="0.3596" stop-color="#2bff00"/><stop offset="0.3754" stop-color="#00ff01"/><stop offset="0.398" stop-color="#00ff42"/><stop offset="0.4345" stop-color="#00ff81"/><stop offset="0.4483" stop-color="#00ffa6"/><stop offset="0.4739" stop-color="#00ffc8"/><stop offset="0.5034" stop-color="#00ffdd"/><stop offset="0.5222" stop-color="#00ffd4"/><stop offset="0.5438" stop-color="#00ffb6"/><stop offset="0.5852" stop-color="#00ff45"/><stop offset="0.597" stop-color="#00ff14"/><stop offset="0.601" stop-color="#00ff00"/><stop offset="0.6089" stop-color="#36ff00"/><stop offset="0.6207" stop-color="#a1ff00"/><stop offset="0.6296" stop-color="#f9ff00"/><stop offset="0.6315" stop-color="#fff200"/><stop offset="0.6424" stop-color="#ff9200"/><stop offset="0.6502" stop-color="#ff6000"/><stop offset="0.6571" stop-color="#ff4800"/><stop offset="0.731" stop-color="#ff3d00"/><stop offset="0.7872" stop-color="#ff4100"/><stop offset="0.9478" stop-color="#ff9900"/><stop offset="1" stop-color="#ff9a00"/></linearGradient>
<linearGradient id="h223" gradientUnits="userSpaceOnUse" x1="306" x2="1321" y1="0" y2="0"><stop offset="0" stop-color="#ffe600"/><stop offset="0.07389" stop-color="#fcff00"/><stop offset="0.2089" stop-color="#d6ff00"/><stop offset="0.2611" stop-color="#b3ff00"/><stop offset="0.3143" stop-color="#79ff00"/><stop offset="0.3567" stop-color="#37ff00"/><stop offset="0.3764" stop-color="#00ff01"/><stop offset="0.398" stop-color="#00ff40"/><stop offset="0.4355" stop-color="#00ff80"/><stop offset="0.4493" stop-color="#00ffa0"/><stop offset="0.4759" stop-color="#00ffbf"/><stop offset="0.5054" stop-color="#00ffce"/><stop offset="0.5261" stop-color="#00ffc2"/><stop offset="0.5458" stop-color="#00ffa6"/><stop offset="0.5813" stop-color="#00ff4b"/><stop offset="0.5941" stop-color="#00ff1d"/><stop offset="0.6" stop-color="#00ff00"/><stop offset="0.6079" stop-color="#34ff00"/><stop offset="0.6187" stop-color="#97ff00"/><stop offset="0.6286" stop-color="#fcff00"/><stop offset="0.6355" stop-color="#ffbf00"/><stop offset="0.6443" stop-color="#ff7600"/><stop offset="0.6512" stop-color="#ff4f00"/><stop offset="0.6581" stop-color="#ff3d00"/><stop offset="0.7783" stop-color="#ff3a00"/><stop offset="0.8355" stop-color="#ff5700"/><stop offset="0.9458" stop-color="#ff9800"/><stop offset="1" stop-color="#ff9a00"/></linearGradient>
<linearGradient id="h224" gradientUnits="userSpaceOnUse" x1="306" x2="1321" y1="0" y2="0"><stop offset="0" stop-color="#ffe700"/><stop offset="0.07192" stop-color="#fcff00"/><stop offset="0.2089" stop-color="#d6ff00"/><stop offset="0.264" stop-color="#b3ff00"/><stop offset="0.3172" stop-color="#7aff00"/><stop offset="0.3547" stop-color="#42ff00"/><stop offset="0.3773" stop-color="#00ff01"/><stop offset="0.398" stop-color="#00ff3c"/><stop offset="0.4365" stop-color="#00ff7d"/><stop offset="0.4512" stop-color="#00ff9a"/><stop offset="0.4778" stop-color="#00ffb4"/><stop offset="0.5084" stop-color="#00ffbf"/><stop offset="0.535" stop-color="#00ffaa"/><stop offset="0.5567" stop-color="#00ff85"/><stop offset="0.5852" stop-color="#00ff3c"/><stop offset="0.598" stop-color="#00ff08"/><stop offset="0.601" stop-color="#08ff00"/><stop offset="0.6089" stop-color="#40ff00"/><stop offset="0.6207" stop-color="#b1ff00"/><stop offset="0.6276" stop-color="#faff00"/><stop offset="0.6296" stop-color="#fff000"/><stop offset="0.6404" stop-color="#ff8a00"/><stop offset="0.6483" stop-color="#ff5400"/><stop offset="0.6552" stop-color="#ff3900"/><stop offset="0.6739" stop-color="#ff3500"/><stop offset="0.7823" stop-color="#ff3800"/><stop offset="0.8443" stop-color="#ff5b00"/><stop offset="0.9458" stop-color="#ff9700"/><stop offset="1" stop-color="#ff9900"/></linearGradient>
<linearGradient id="h225" gradientUnits="userSpaceOnUse" x1="306" x2="1321" y1="0" y2="0"><stop offset="0" stop-color="#ffe800"/><stop offset="0.07192" stop-color="#fcff00"/><stop offset="0.2099" stop-color="#d7ff00"/><stop offset="0.267" stop-color="#b4ff00"/><stop offset="0.3202" stop-color="#7cff00"/><stop offset="0.3547" stop-color="#49ff00"/><stop offset="0.3764" stop-color="#08ff00"/><stop offset="0.3803" stop-color="#00ff05"/><stop offset="0.398" stop-color="#00ff38"/><stop offset="0.4394" stop-color="#00ff7c"/><stop offset="0.4611" stop-color="#00ff9b"/><stop offset="0.4906" stop-color="#00ffad"/><stop offset="0.5153" stop-color="#00ffad"/><stop offset="0.5448" stop-color="#00ff91"/><stop offset="0.5704" stop-color="#00ff63"/><stop offset="0.5882" stop-color="#00ff30"/><stop offset="0.599" stop-color="#00ff02"/><stop offset="0.6049" stop-color="#22ff00"/><stop offset="0.6138" stop-color="#6eff00"/><stop offset="0.6276" stop-color="#fdff00"/><stop offset="0.6404" stop-color="#ff8500"/><stop offset="0.6483" stop-color="#ff4e00"/><stop offset="0.6552" stop-color="#ff3400"/><stop offset="0.6759" stop-color="#ff3100"/><stop offset="0.7823" stop-color="#ff3600"/><stop offset="0.8443" stop-color="#ff5b00"/><stop offset="0.9448" stop-color="#ff9700"/><stop offset="1" stop-color="#ff9900"/></linearGradient>
<linearGradient id="h226" gradientUnits="userSpaceOnUse" x1="306" x2="1321" y1="0" y2="0"><stop offset="0" stop-color="#ffe900"/><stop offset="0.07192" stop-color="#fcff00"/><stop offset="0.2108" stop-color="#d8ff00"/><stop offset="0.269" stop-color="#b5ff00"/><stop offset="0.3222" stop-color="#7eff00"/><stop offset="0.3547" stop-color="#4fff00"/><stop offset="0.3764" stop-color="#0eff00"/><stop offset="0.3813" stop-color="#00ff02"/><stop offset="0.399" stop-color="#00ff32"/><stop offset="0.4542" stop-color="#00ff87"/><stop offset="0.4788" stop-color="#00ff9a"/><stop offset="0.5133" stop-color="#00ff9e"/><stop offset="0.5448" stop-color="#00ff84"/><stop offset="0.5695" stop-color="#00ff5f"/><stop offset="0.5892" stop-color="#00ff26"/><stop offset="0.598" stop-color="#00ff01"/><stop offset="0.6049" stop-color="#27ff00"/><stop offset="0.6138" stop-color="#72ff00"/><stop offset="0.6276" stop-color="#fffd00"/><stop offset="0.6394" stop-color="#ff8900"/><stop offset="0.6473" stop-color="#ff4f00"/><stop offset="0.6542" stop-color="#ff3200"/><stop offset="0.6621" stop-color="#ff2c00"/><stop offset="0.7813" stop-color="#ff3300"/><stop offset="0.8443" stop-color="#ff5a00"/><stop offset="0.9448" stop-color="#ff9700"/><stop offset="1" stop-color="#ff9900"/></linearGradient>
<linearGradient id="h227" gradientUnits="userSpaceOnUse" x1="306" x2="1321" y1="0" y2="0"><stop offset="0" stop-color="#ffea00"/><stop offset="0.07192" stop-color="#fcff00"/><stop offset="0.2118" stop-color="#d9ff00"/><stop offset="0.27" stop-color="#b7ff00"/><stop offset="0.3241" stop-color="#80ff00"/><stop offset="0.3557" stop-color="#52ff00"/><stop offset="0.3813" stop-color="#06ff00"/><stop offset="0.3852" stop-color="#00ff06"/><stop offset="0.402" stop-color="#00ff2e"/><stop offset="0.4532" stop-color="#00ff78"/><stop offset="0.4778" stop-color="#00ff8b"/><stop offset="0.5163" stop-color="#00ff8d"/><stop offset="0.5468" stop-color="#00ff75"/><stop offset="0.5695" stop-color="#00ff52"/><stop offset="0.5911" stop-color="#00ff13"/><stop offset="0.5961" stop-color="#00ff00"/><stop offset="0.6039" stop-color="#29ff00"/><stop offset="0.6128" stop-color="#70ff00"/><stop offset="0.6266" stop-color="#fcff00"/><stop offset="0.6404" stop-color="#ff7c00"/><stop offset="0.6483" stop-color="#ff4500"/><stop offset="0.6552" stop-color="#ff2b00"/><stop offset="0.6749" stop-color="#ff2700"/><stop offset="0.7813" stop-color="#ff3200"/><stop offset="0.9429" stop-color="#ff9600"/><stop offset="1" stop-color="#ff9900"/></linearGradient>
<linearGradient id="h228" gradientUnits="userSpaceOnUse" x1="306" x2="1321" y1="0" y2="0"><stop offset="0" stop-color="#ffea00"/><stop offset="0.07291" stop-color="#fcff00"/><stop offset="0.2118" stop-color="#dbff00"/><stop offset="0.27" stop-color="#b9ff00"/><stop offset="0.3251" stop-color="#82ff00"/><stop offset="0.3557" stop-color="#57ff00"/><stop offset="0.3872" stop-color="#00ff01"/><stop offset="0.4059" stop-color="#00ff2a"/><stop offset="0.4453" stop-color="#00ff62"/><stop offset="0.4749" stop-color="#00ff7b"/><stop offset="0.5172" stop-color="#00ff7c"/><stop offset="0.5468" stop-color="#00ff66"/><stop offset="0.5685" stop-color="#00ff44"/><stop offset="0.5931" stop-color="#03ff00"/><stop offset="0.603" stop-color="#2dff00"/><stop offset="0.6108" stop-color="#67ff00"/><stop offset="0.6236" stop-color="#e4ff00"/><stop offset="0.6266" stop-color="#fffc00"/><stop offset="0.6384" stop-color="#ff8800"/><stop offset="0.6463" stop-color="#ff4d00"/><stop offset="0.6532" stop-color="#ff2c00"/><stop offset="0.6591" stop-color="#ff2300"/><stop offset="0.7773" stop-color="#ff2f00"/><stop offset="0.8365" stop-color="#ff5400"/><stop offset="0.9419" stop-color="#ff9600"/><stop offset="1" stop-color="#ff9900"/></linearGradient>
<linearGradient id="h229" gradientUnits="userSpaceOnUse" x1="306" x2="1321" y1="0" y2="0"><stop offset="0" stop-color="#ffeb00"/><stop offset="0.07291" stop-color="#fcff00"/><stop offset="0.2138" stop-color="#dcff00"/><stop offset="0.2719" stop-color="#baff00"/><stop offset="0.3291" stop-color="#81ff00"/><stop offset="0.3567" stop-color="#5aff00"/><stop offset="0.3921" stop-color="#00ff03"/><stop offset="0.4236" stop-color="#00ff3b"/><stop offset="0.469" stop-color="#00ff68"/><stop offset="0.5172" stop-color="#00ff6b"/><stop offset="0.5468" stop-color="#00ff57"/><stop offset="0.5655" stop-color="#00ff38"/><stop offset="0.5872" stop-color="#02ff00"/><stop offset="0.6" stop-color="#2bff00"/><stop offset="0.6069" stop-color="#53ff00"/><stop offset="0.6158" stop-color="#9dff00"/><stop offset="0.6256" stop-color="#ffff00"/><stop offset="0.6384" stop-color="#ff8400"/><stop offset="0.6463" stop-color="#ff4900"/><stop offset="0.6532" stop-color="#ff2900"/><stop offset="0.6591" stop-color="#ff2000"/><stop offset="0.7744" stop-color="#ff2d00"/><stop offset="0.8305" stop-color="#ff4f00"/><stop offset="0.9379" stop-color="#ff9400"/><stop offset="0.9911" stop-color="#ff9900"/><stop offset="1" stop-color="#ff9900"/></linearGradient>
<linearGradient id="h230" gradientUnits="userSpaceOnUse" x1="306" x2="1321" y1="0" y2="0"><stop offset="0" stop-color="#ffeb00"/><stop offset="0.07291" stop-color="#fdff00"/><stop offset="0.2148" stop-color="#deff00"/><stop offset="0.2729" stop-color="#bcff00"/><stop offset="0.331" stop-color="#83ff00"/><stop offset="0.3576" stop-color="#5eff00"/><stop offset="0.397" stop-color="#00ff01"/><stop offset="0.4286" stop-color="#00ff36"/><stop offset="0.4749" stop-color="#00ff5a"/><stop offset="0.5222" stop-color="#00ff57"/><stop offset="0.5488" stop-color="#00ff44"/><stop offset="0.5645" stop-color="#00ff28"/><stop offset="0.5813" stop-color="#03ff00"/><stop offset="0.6" stop-color="#39ff00"/><stop offset="0.6069" stop-color="#5eff00"/><stop offset="0.6158" stop-color="#a6ff00"/><stop offset="0.6246" stop-color="#fbff00"/><stop offset="0.6276" stop-color="#ffe600"/><stop offset="0.6394" stop-color="#ff7800"/><stop offset="0.6473" stop-color="#ff4100"/><stop offset="0.6542" stop-color="#ff2400"/><stop offset="0.6621" stop-color="#ff1f00"/><stop offset="0.7744" stop-color="#ff2c00"/><stop offset="0.8305" stop-color="#ff4f00"/><stop offset="0.9369" stop-color="#ff9400"/><stop offset="0.9852" stop-color="#ff9900"/><stop offset="1" stop-color="#ff9900"/></linearGradient>
<linearGradient id="h231" gradientUnits="userSpaceOnUse" x1="306" x2="1321" y1="0" y2="0"><stop offset="0" stop-color="#ffec00"/><stop offset="0.07389" stop-color="#fdff00"/><stop offset="0.2158" stop-color="#e0ff00"/><stop offset="0.2739" stop-color="#bfff00"/><stop offset="0.334" stop-color="#84ff00"/><stop offset="0.3586" stop-color="#62ff00"/><stop offset="0.401" stop-color="#03ff00"/><stop offset="0.4177" stop-color="#00ff1a"/><stop offset="0.4374" stop-color="#00ff30"/><stop offset="0.4768" stop-color="#00ff49"/><stop offset="0.5251" stop-color="#00ff43"/><stop offset="0.5498" stop-color="#00ff31"/><stop offset="0.5645" stop-color="#00ff17"/><stop offset="0.5754" stop-color="#03ff00"/><stop offset="0.6" stop-color="#45ff00"/><stop offset="0.6069" stop-color="#69ff00"/><stop offset="0.6167" stop-color="#b7ff00"/><stop offset="0.6246" stop-color="#fffd00"/><stop offset="0.6384" stop-color="#ff7e00"/><stop offset="0.6473" stop-color="#ff4100"/><stop offset="0.6542" stop-color="#ff2500"/><stop offset="0.6621" stop-color="#ff1f00"/><stop offset="0.7744" stop-color="#ff2d00"/><stop offset="0.8315" stop-color="#ff5000"/><stop offset="0.9379" stop-color="#ff9500"/><stop offset="0.9911" stop-color="#ff9900"/><stop offset="1" stop-color="#ff9900"/></linearGradient>
<linearGradient id="h232" gradientUnits="userSpaceOnUse" x1="306" x2="1321" y1="0" y2="0"><stop offset="0" stop-color="#ffeb00"/><stop offset="0.08177" stop-color="#fdff00"/><stop offset="0.2167" stop-color="#e2ff00"/><stop offset="0.2759" stop-color="#c0ff00"/><stop offset="0.3379" stop-color="#85ff00"/><stop offset="0.3606" stop-color="#66ff00"/><stop offset="0.402" stop-color="#0eff00"/><stop offset="0.4118" stop-color="#00ff03"/><stop offset="0.4335" stop-color="#00ff1e"/><stop offset="0.4778" stop-color="#00ff37"/><stop offset="0.5251" stop-color="#00ff30"/><stop offset="0.5507" stop-color="#00ff1d"/><stop offset="0.5675" stop-color="#01ff00"/><stop offset="0.6" stop-color="#54ff00"/><stop offset="0.6079" stop-color="#7cff00"/><stop offset="0.6177" stop-color="#c8ff00"/><stop offset="0.6236" stop-color="#fdff00"/><stop offset="0.6394" stop-color="#ff7700"/><stop offset="0.6473" stop-color="#ff4400"/><stop offset="0.6542" stop-color="#ff2a00"/><stop offset="0.6631" stop-color="#ff2400"/><stop offset="0.7764" stop-color="#ff3100"/><stop offset="0.8374" stop-color="#ff5700"/><stop offset="0.9419" stop-color="#ff9700"/><stop offset="1" stop-color="#ff9b00"/></linearGradient>
<linearGradient id="h233" gradientUnits="userSpaceOnUse" x1="306" x2="1321" y1="0" y2="0"><stop offset="0" stop-color="#ffe900"/><stop offset="0.09655" stop-color="#fdff00"/><stop offset="0.2187" stop-color="#e3ff00"/><stop offset="0.2798" stop-color="#c1ff00"/><stop offset="0.3448" stop-color="#83ff00"/><stop offset="0.3665" stop-color="#61ff00"/><stop offset="0.401" stop-color="#1dff00"/><stop offset="0.4227" stop-color="#00ff03"/><stop offset="0.4729" stop-color="#00ff24"/><stop offset="0.5212" stop-color="#00ff1e"/><stop offset="0.5507" stop-color="#00ff08"/><stop offset="0.5586" stop-color="#03ff00"/><stop offset="0.598" stop-color="#5dff00"/><stop offset="0.6059" stop-color="#7eff00"/><stop offset="0.6158" stop-color="#c1ff00"/><stop offset="0.6227" stop-color="#faff00"/><stop offset="0.6246" stop-color="#fff300"/><stop offset="0.6394" stop-color="#ff7b00"/><stop offset="0.6483" stop-color="#ff4600"/><stop offset="0.6552" stop-color="#ff3000"/><stop offset="0.7202" stop-color="#ff3000"/><stop offset="0.7862" stop-color="#ff3c00"/><stop offset="0.9419" stop-color="#ff9a00"/><stop offset="1" stop-color="#ff9d00"/></linearGradient>
<linearGradient id="h234" gradientUnits="userSpaceOnUse" x1="306" x2="1321" y1="0" y2="0"><stop offset="0" stop-color="#ffe700"/><stop offset="0.1192" stop-color="#fdff00"/><stop offset="0.2246" stop-color="#e4ff00"/><stop offset="0.2887" stop-color="#beff00"/><stop offset="0.3527" stop-color="#81ff00"/><stop offset="0.403" stop-color="#29ff00"/><stop offset="0.4335" stop-color="#06ff00"/><stop offset="0.4532" stop-color="#00ff05"/><stop offset="0.4798" stop-color="#00ff10"/><stop offset="0.5202" stop-color="#00ff0b"/><stop offset="0.5409" stop-color="#04ff00"/><stop offset="0.5645" stop-color="#23ff00"/><stop offset="0.6" stop-color="#74ff00"/><stop offset="0.6089" stop-color="#9dff00"/><stop offset="0.6227" stop-color="#fffe00"/><stop offset="0.6394" stop-color="#ff8000"/><stop offset="0.6483" stop-color="#ff5000"/><stop offset="0.6562" stop-color="#ff3a00"/><stop offset="0.7754" stop-color="#ff4100"/><stop offset="0.8374" stop-color="#ff6200"/><stop offset="0.9448" stop-color="#ff9e00"/><stop offset="1" stop-color="#ffa000"/></linearGradient>
<linearGradient id="h235" gradientUnits="userSpaceOnUse" x1="306" x2="1321" y1="0" y2="0"><stop offset="0" stop-color="#ffe500"/><stop offset="0.1468" stop-color="#fcff00"/><stop offset="0.2365" stop-color="#e2ff00"/><stop offset="0.3044" stop-color="#b6ff00"/><stop offset="0.3576" stop-color="#82ff00"/><stop offset="0.401" stop-color="#3aff00"/><stop offset="0.4394" stop-color="#16ff00"/><stop offset="0.4778" stop-color="#04ff00"/><stop offset="0.5182" stop-color="#09ff00"/><stop offset="0.5537" stop-color="#29ff00"/><stop offset="0.5773" stop-color="#51ff00"/><stop offset="0.601" stop-color="#88ff00"/><stop offset="0.6108" stop-color="#b7ff00"/><stop offset="0.6217" stop-color="#ffff00"/><stop offset="0.6394" stop-color="#ff8600"/><stop offset="0.6493" stop-color="#ff5700"/><stop offset="0.6571" stop-color="#ff4600"/><stop offset="0.7823" stop-color="#ff4e00"/><stop offset="0.9468" stop-color="#ffa200"/><stop offset="1" stop-color="#ffa400"/></linearGradient>
<linearGradient id="h236" gradientUnits="userSpaceOnUse" x1="306" x2="1321" y1="0" y2="0"><stop offset="0" stop-color="#ffe300"/><stop offset="0.1645" stop-color="#fcff00"/><stop offset="0.2463" stop-color="#e0ff00"/><stop offset="0.3192" stop-color="#afff00"/><stop offset="0.3606" stop-color="#86ff00"/><stop offset="0.401" stop-color="#4aff00"/><stop offset="0.4571" stop-color="#21ff00"/><stop offset="0.4877" stop-color="#1aff00"/><stop offset="0.5182" stop-color="#1fff00"/><stop offset="0.5586" stop-color="#47ff00"/><stop offset="0.5842" stop-color="#72ff00"/><stop offset="0.602" stop-color="#9cff00"/><stop offset="0.6128" stop-color="#cfff00"/><stop offset="0.6207" stop-color="#ffff00"/><stop offset="0.6394" stop-color="#ff8d00"/><stop offset="0.6493" stop-color="#ff6300"/><stop offset="0.6571" stop-color="#ff5400"/><stop offset="0.7842" stop-color="#ff5900"/><stop offset="0.9488" stop-color="#ffa700"/><stop offset="1" stop-color="#ffa800"/></linearGradient>
<linearGradient id="h237" gradientUnits="userSpaceOnUse" x1="306" x2="1321" y1="0" y2="0"><stop offset="0" stop-color="#ffe100"/><stop offset="0.1783" stop-color="#fcff00"/><stop offset="0.2571" stop-color="#dfff00"/><stop offset="0.336" stop-color="#a9ff00"/><stop offset="0.3665" stop-color="#88ff00"/><stop offset="0.401" stop-color="#5cff00"/><stop offset="0.465" stop-color="#33ff00"/><stop offset="0.5153" stop-color="#34ff00"/><stop offset="0.5645" stop-color="#65ff00"/><stop offset="0.5951" stop-color="#9aff00"/><stop offset="0.6059" stop-color="#bbff00"/><stop offset="0.6197" stop-color="#fffe00"/><stop offset="0.6394" stop-color="#ff9300"/><stop offset="0.6502" stop-color="#ff6b00"/><stop offset="0.6591" stop-color="#ff6000"/><stop offset="0.7872" stop-color="#ff6500"/><stop offset="0.9507" stop-color="#ffab00"/><stop offset="1" stop-color="#ffac00"/></linearGradient>
<linearGradient id="h238" gradientUnits="userSpaceOnUse" x1="306" x2="1321" y1="0" y2="0"><stop offset="0" stop-color="#ffe000"/><stop offset="0.1931" stop-color="#fcff00"/><stop offset="0.27" stop-color="#deff00"/><stop offset="0.3537" stop-color="#a4ff00"/><stop offset="0.401" stop-color="#6fff00"/><stop offset="0.468" stop-color="#4cff00"/><stop offset="0.5153" stop-color="#4eff00"/><stop offset="0.5714" stop-color="#84ff00"/><stop offset="0.598" stop-color="#b3ff00"/><stop offset="0.6099" stop-color="#d9ff00"/><stop offset="0.6187" stop-color="#fffc00"/><stop offset="0.6404" stop-color="#ff9400"/><stop offset="0.6512" stop-color="#ff7300"/><stop offset="0.6611" stop-color="#ff6c00"/><stop offset="0.7892" stop-color="#ff6f00"/><stop offset="0.9527" stop-color="#ffaf00"/><stop offset="1" stop-color="#ffaf00"/></linearGradient>
<linearGradient id="h239" gradientUnits="userSpaceOnUse" x1="306" x2="1321" y1="0" y2="0"><stop offset="0" stop-color="#ffe000"/><stop offset="0.2138" stop-color="#fcff00"/><stop offset="0.2966" stop-color="#d9ff00"/><stop offset="0.3635" stop-color="#acff00"/><stop offset="0.402" stop-color="#89ff00"/><stop offset="0.4749" stop-color="#6cff00"/><stop offset="0.5192" stop-color="#70ff00"/><stop offset="0.5764" stop-color="#a4ff00"/><stop offset="0.6" stop-color="#ccff00"/><stop offset="0.6158" stop-color="#fffd00"/><stop offset="0.6404" stop-color="#ff9b00"/><stop offset="0.6522" stop-color="#ff7e00"/><stop offset="0.668" stop-color="#ff7900"/><stop offset="0.7911" stop-color="#ff7c00"/><stop offset="0.9547" stop-color="#ffb400"/><stop offset="1" stop-color="#ffb400"/></linearGradient>
<linearGradient id="h240" gradientUnits="userSpaceOnUse" x1="306" x2="1321" y1="0" y2="0"><stop offset="0" stop-color="#ffdf00"/><stop offset="0.2404" stop-color="#fcff00"/><stop offset="0.3498" stop-color="#ccff00"/><stop offset="0.4039" stop-color="#a8ff00"/><stop offset="0.4808" stop-color="#93ff00"/><stop offset="0.5241" stop-color="#97ff00"/><stop offset="0.5803" stop-color="#c3ff00"/><stop offset="0.602" stop-color="#e7ff00"/><stop offset="0.6118" stop-color="#fffc00"/><stop offset="0.6404" stop-color="#ffa200"/><stop offset="0.6542" stop-color="#ff8a00"/><stop offset="0.7911" stop-color="#ff8a00"/><stop offset="0.9576" stop-color="#ffba00"/><stop offset="1" stop-color="#ffba00"/></linearGradient>
<linearGradient id="h241" gradientUnits="userSpaceOnUse" x1="306" x2="1321" y1="0" y2="0"><stop offset="0" stop-color="#ffde00"/><stop offset="0.2394" stop-color="#fff800"/><stop offset="0.2798" stop-color="#faff00"/><stop offset="0.4118" stop-color="#c8ff00"/><stop offset="0.4906" stop-color="#bbff00"/><stop offset="0.533" stop-color="#c0ff00"/><stop offset="0.5842" stop-color="#e1ff00"/><stop offset="0.6039" stop-color="#fffe00"/><stop offset="0.6424" stop-color="#ffa600"/><stop offset="0.6571" stop-color="#ff9700"/><stop offset="0.799" stop-color="#ff9a00"/><stop offset="0.9606" stop-color="#ffc000"/><stop offset="1" stop-color="#ffc000"/></linearGradient>
<linearGradient id="h242" gradientUnits="userSpaceOnUse" x1="306" x2="1321" y1="0" y2="0"><stop offset="0" stop-color="#ffde00"/><stop offset="0.2532" stop-color="#fff200"/><stop offset="0.3241" stop-color="#fbff00"/><stop offset="0.4187" stop-color="#e7ff00"/><stop offset="0.5182" stop-color="#e0ff00"/><stop offset="0.5754" stop-color="#f1ff00"/><stop offset="0.5931" stop-color="#fffc00"/><stop offset="0.6443" stop-color="#ffac00"/><stop offset="0.6631" stop-color="#ffa400"/><stop offset="0.8069" stop-color="#ffa800"/><stop offset="0.9645" stop-color="#ffc500"/><stop offset="1" stop-color="#ffc500"/></linearGradient>
<linearGradient id="h243" gradientUnits="userSpaceOnUse" x1="306" x2="1321" y1="0" y2="0"><stop offset="0" stop-color="#ffde00"/><stop offset="0.266" stop-color="#ffec00"/><stop offset="0.4256" stop-color="#fffe00"/><stop offset="0.5616" stop-color="#fffc00"/><stop offset="0.5862" stop-color="#fff400"/><stop offset="0.6443" stop-color="#ffb400"/><stop offset="0.6759" stop-color="#ffaf00"/><stop offset="0.8187" stop-color="#ffb300"/><stop offset="0.9695" stop-color="#ffc900"/><stop offset="1" stop-color="#ffc900"/></linearGradient>
<linearGradient id="h244" gradientUnits="userSpaceOnUse" x1="306" x2="1321" y1="0" y2="0"><stop offset="0" stop-color="#ffde00"/><stop offset="0.2739" stop-color="#ffe700"/><stop offset="0.4187" stop-color="#ffee00"/><stop offset="0.5842" stop-color="#ffeb00"/><stop offset="0.6443" stop-color="#ffb900"/><stop offset="0.7429" stop-color="#ffb600"/><stop offset="0.8877" stop-color="#ffc200"/><stop offset="0.9793" stop-color="#ffcc00"/><stop offset="1" stop-color="#ffcc00"/></linearGradient>
<linearGradient id="h245" gradientUnits="userSpaceOnUse" x1="306" x2="1321" y1="0" y2="0"><stop offset="0" stop-color="#ffdd00"/><stop offset="0.2778" stop-color="#ffe300"/><stop offset="0.4522" stop-color="#ffe800"/><stop offset="0.5852" stop-color="#ffe500"/><stop offset="0.6453" stop-color="#ffbc00"/><stop offset="0.8197" stop-color="#ffbd00"/><stop offset="0.9813" stop-color="#ffcc00"/><stop offset="1" stop-color="#ffcc00"/></linearGradient>
<linearGradient id="h246" gradientUnits="userSpaceOnUse" x1="306" x2="1321" y1="0" y2="0"><stop offset="0" stop-color="#ffdb00"/><stop offset="0.5813" stop-color="#ffe100"/><stop offset="0.6493" stop-color="#ffbf00"/><stop offset="0.8414" stop-color="#ffc200"/><stop offset="0.997" stop-color="#ffcc00"/><stop offset="1" stop-color="#ffcc00"/></linearGradient>
<linearGradient id="h247" gradientUnits="userSpaceOnUse" x1="306" x2="1321" y1="0" y2="0"><stop offset="0" stop-color="#ffd800"/><stop offset="0.5872" stop-color="#ffd900"/><stop offset="0.6552" stop-color="#ffc200"/><stop offset="0.8897" stop-color="#ffc800"/><stop offset="1" stop-color="#ffcc00"/></linearGradient>
<linearGradient id="h248" gradientUnits="userSpaceOnUse" x1="306" x2="1321" y1="0" y2="0"><stop offset="0" stop-color="#ffd500"/><stop offset="0.5911" stop-color="#ffd300"/><stop offset="0.666" stop-color="#ffc600"/><stop offset="1" stop-color="#ffcc00"/></linearGradient>
<linearGradient id="h249" gradientUnits="userSpaceOnUse" x1="306" x2="1321" y1="0" y2="0"><stop offset="0" stop-color="#ffd100"/><stop offset="0.6148" stop-color="#ffcc00"/><stop offset="1" stop-color="#ffcc00"/></linearGradient><linearGradient id="cb" x1="0" y1="0" x2="0" y2="1"><stop offset="0" stop-color="#ff0000"/><stop offset=".25" stop-color="#ffff00"/><stop offset=".5" stop-color="#00ff00"/><stop offset=".75" stop-color="#00ffff"/><stop offset="1" stop-color="#0000ff"/></linearGradient></defs>
<rect width="1405" height="1522" fill="#fff"/>
<g shape-rendering="crispEdges"><rect x="306" y="690" width="1016" height="2" fill="url(#h0)"/>
<rect x="306" y="692" width="1016" height="2" fill="url(#h1)"/>
<rect x="306" y="694" width="1016" height="2" fill="url(#h2)"/>
<rect x="306" y="696" width="1016" height="2" fill="url(#h3)"/>
<rect x="306" y="698" width="1016" height="2" fill="url(#h4)"/>
<rect x="306" y="700" width="1016" height="2" fill="url(#h5)"/>
<rect x="306" y="702" width="1016" height="2" fill="url(#h6)"/>
<rect x="306" y="704" width="1016" height="2" fill="url(#h7)"/>
<rect x="306" y="706" width="1016" height="2" fill="url(#h8)"/>
<rect x="306" y="708" width="1016" height="2" fill="url(#h9)"/>
<rect x="306" y="710" width="1016" height="2" fill="url(#h10)"/>
<rect x="306" y="712" width="1016" height="2" fill="url(#h11)"/>
<rect x="306" y="714" width="1016" height="2" fill="url(#h12)"/>
<rect x="306" y="716" width="1016" height="2" fill="url(#h13)"/>
<rect x="306" y="718" width="1016" height="2" fill="url(#h14)"/>
<rect x="306" y="720" width="1016" height="2" fill="url(#h15)"/>
<rect x="306" y="722" width="1016" height="2" fill="url(#h16)"/>
<rect x="306" y="724" width="1016" height="2" fill="url(#h17)"/>
<rect x="306" y="726" width="1016" height="2" fill="url(#h18)"/>
<rect x="306" y="728" width="1016" height="2" fill="url(#h19)"/>
<rect x="306" y="730" width="1016" height="2" fill="url(#h20)"/>
<rect x="306" y="732" width="1016" height="2" fill="url(#h21)"/>
<rect x="306" y="734" width="1016" height="2" fill="url(#h22)"/>
<rect x="306" y="736" width="1016" height="2" fill="url(#h23)"/>
<rect x="306" y="738" width="1016" height="2" fill="url(#h24)"/>
<rect x="306" y="740" width="1016" height="2" fill="url(#h25)"/>
<rect x="306" y="742" width="1016" height="2" fill="url(#h26)"/>
<rect x="306" y="744" width="1016" height="2" fill="url(#h27)"/>
<rect x="306" y="746" width="1016" height="2" fill="url(#h28)"/>
<rect x="306" y="748" width="1016" height="2" fill="url(#h29)"/>
<rect x="306" y="750" width="1016" height="2" fill="url(#h30)"/>
<rect x="306" y="752" width="1016" height="2" fill="url(#h31)"/>
<rect x="306" y="754" width="1016" height="2" fill="url(#h32)"/>
<rect x="306" y="756" width="1016" height="2" fill="url(#h33)"/>
<rect x="306" y="758" width="1016" height="2" fill="url(#h34)"/>
<rect x="306" y="760" width="1016" height="2" fill="url(#h35)"/>
<rect x="306" y="762" width="1016" height="2" fill="url(#h36)"/>
<rect x="306" y="764" width="1016" height="2" fill="url(#h37)"/>
<rect x="306" y="766" width="1016" height="2" fill="url(#h38)"/>
<rect x="306" y="768" width="1016" height="2" fill="url(#h39)"/>
<rect x="306" y="770" width="1016" height="2" fill="url(#h40)"/>
<rect x="306" y="772" width="1016" height="2" fill="url(#h41)"/>
<rect x="306" y="774" width="1016" height="2" fill="url(#h42)"/>
<rect x="306" y="776" width="1016" height="2" fill="url(#h43)"/>
<rect x="306" y="778" width="1016" height="2" fill="url(#h44)"/>
<rect x="306" y="780" width="1016" height="2" fill="url(#h45)"/>
<rect x="306" y="782" width="1016" height="2" fill="url(#h46)"/>
<rect x="306" y="784" width="1016" height="2" fill="url(#h47)"/>
<rect x="306" y="786" width="1016" height="2" fill="url(#h48)"/>
<rect x="306" y="788" width="1016" height="2" fill="url(#h49)"/>
<rect x="306" y="790" width="1016" height="1" fill="url(#h50)"/>
<rect x="306" y="791" width="1016" height="1" fill="url(#h51)"/>
<rect x="306" y="792" width="1016" height="1" fill="url(#h52)"/>
<rect x="306" y="793" width="1016" height="1" fill="url(#h53)"/>
<rect x="306" y="794" width="1016" height="1" fill="url(#h54)"/>
<rect x="306" y="795" width="1016" height="1" fill="url(#h55)"/>
<rect x="306" y="796" width="1016" height="1" fill="url(#h56)"/>
<rect x="306" y="797" width="1016" height="1" fill="url(#h57)"/>
<rect x="306" y="798" width="1016" height="1" fill="url(#h58)"/>
<rect x="306" y="799" width="1016" height="1" fill="url(#h59)"/>
<rect x="306" y="800" width="1016" height="1" fill="url(#h60)"/>
<rect x="306" y="801" width="1016" height="1" fill="url(#h61)"/>
<rect x="306" y="802" width="1016" height="1" fill="url(#h62)"/>
<rect x="306" y="803" width="1016" height="1" fill="url(#h63)"/>
<rect x="306" y="804" width="1016" height="1" fill="url(#h64)"/>
<rect x="306" y="805" width="1016" height="1" fill="url(#h65)"/>
<rect x="306" y="806" width="1016" height="1" fill="url(#h66)"/>
<rect x="306" y="807" width="1016" height="1" fill="url(#h67)"/>
<rect x="306" y="808" width="1016" height="1" fill="url(#h68)"/>
<rect x="306" y="809" width="1016" height="1" fill="url(#h69)"/>
<rect x="306" y="810" width="1016" height="1" fill="url(#h70)"/>
<rect x="306" y="811" width="1016" height="1" fill="url(#h71)"/>
<rect x="306" y="812" width="1016" height="1" fill="url(#h72)"/>
<rect x="306" y="813" width="1016" height="1" fill="url(#h73)"/>
<rect x="306" y="814" width="1016" height="1" fill="url(#h74)"/>
<rect x="306" y="815" width="1016" height="1" fill="url(#h75)"/>
<rect x="306" y="816" width="1016" height="1" fill="url(#h76)"/>
<rect x="306" y="817" width="1016" height="1" fill="url(#h77)"/>
<rect x="306" y="818" width="1016" height="1" fill="url(#h78)"/>
<rect x="306" y="819" width="1016" height="1" fill="url(#h79)"/>
<rect x="306" y="820" width="1016" height="1" fill="url(#h80)"/>
<rect x="306" y="821" width="1016" height="1" fill="url(#h81)"/>
<rect x="306" y="822" width="1016" height="1" fill="url(#h82)"/>
<rect x="306" y="823" width="1016" height="1" fill="url(#h83)"/>
<rect x="306" y="824" width="1016" height="1" fill="url(#h84)"/>
<rect x="306" y="825" width="1016" height="1" fill="url(#h85)"/>
<rect x="306" y="826" width="1016" height="1" fill="url(#h86)"/>
<rect x="306" y="827" width="1016" height="1" fill="url(#h87)"/>
<rect x="306" y="828" width="1016" height="1" fill="url(#h88)"/>
<rect x="306" y="839" width="1016" height="6" fill="url(#h89)"/>
<rect x="306" y="845" width="1016" height="6" fill="url(#h90)"/>
<rect x="306" y="851" width="1016" height="6" fill="url(#h91)"/>
<rect x="306" y="857" width="1016" height="5" fill="url(#h92)"/>
<rect x="306" y="862" width="1016" height="4" fill="url(#h93)"/>
<rect x="306" y="866" width="1016" height="4" fill="url(#h94)"/>
<rect x="306" y="870" width="1016" height="4" fill="url(#h95)"/>
<rect x="306" y="874" width="1016" height="6" fill="url(#h96)"/>
<rect x="306" y="880" width="1016" height="7" fill="url(#h97)"/>
<rect x="306" y="887" width="1016" height="7" fill="url(#h98)"/>
<rect x="306" y="894" width="1016" height="7" fill="url(#h99)"/>
<rect x="306" y="901" width="1016" height="8" fill="url(#h100)"/>
<rect x="306" y="909" width="1016" height="8" fill="url(#h101)"/>
<rect x="306" y="917" width="1016" height="8" fill="url(#h102)"/>
<rect x="306" y="925" width="1016" height="9" fill="url(#h103)"/>
<rect x="306" y="934" width="1016" height="9" fill="url(#h104)"/>
<rect x="306" y="943" width="1016" height="10" fill="url(#h105)"/>
<rect x="306" y="953" width="1016" height="11" fill="url(#h106)"/>
<rect x="306" y="964" width="1016" height="13" fill="url(#h107)"/>
<rect x="306" y="977" width="1016" height="12" fill="url(#h108)"/>
<rect x="306" y="989" width="1016" height="11" fill="url(#h109)"/>
<rect x="306" y="1000" width="1016" height="10" fill="url(#h110)"/>
<rect x="306" y="1010" width="1016" height="9" fill="url(#h111)"/>
<rect x="306" y="1019" width="1016" height="8" fill="url(#h112)"/>
<rect x="306" y="1027" width="1016" height="8" fill="url(#h113)"/>
<rect x="306" y="1035" width="1016" height="8" fill="url(#h114)"/>
<rect x="306" y="1043" width="1016" height="8" fill="url(#h115)"/>
<rect x="306" y="1051" width="1016" height="7" fill="url(#h116)"/>
<rect x="306" y="1058" width="1016" height="7" fill="url(#h117)"/>
<rect x="306" y="1065" width="1016" height="7" fill="url(#h118)"/>
<rect x="306" y="1072" width="1016" height="7" fill="url(#h119)"/>
<rect x="306" y="1079" width="1016" height="6" fill="url(#h120)"/>
<rect x="306" y="1085" width="1016" height="5" fill="url(#h121)"/>
<rect x="306" y="1090" width="1016" height="4" fill="url(#h122)"/>
<rect x="306" y="1094" width="1016" height="4" fill="url(#h123)"/>
<rect x="306" y="1098" width="1016" height="4" fill="url(#h124)"/>
<rect x="306" y="1102" width="1016" height="4" fill="url(#h125)"/>
<rect x="306" y="1106" width="1016" height="4" fill="url(#h126)"/>
<rect x="306" y="1110" width="1016" height="3" fill="url(#h127)"/>
<rect x="306" y="1113" width="1016" height="3" fill="url(#h128)"/>
<rect x="306" y="1116" width="1016" height="3" fill="url(#h129)"/>
<rect x="306" y="1119" width="1016" height="3" fill="url(#h130)"/>
<rect x="306" y="1122" width="1016" height="3" fill="url(#h131)"/>
<rect x="306" y="1125" width="1016" height="3" fill="url(#h132)"/>
<rect x="306" y="1128" width="1016" height="3" fill="url(#h133)"/>
<rect x="306" y="1131" width="1016" height="3" fill="url(#h134)"/>
<rect x="306" y="1134" width="1016" height="3" fill="url(#h135)"/>
<rect x="306" y="1137" width="1016" height="3" fill="url(#h136)"/>
<rect x="306" y="1140" width="1016" height="3" fill="url(#h137)"/>
<rect x="306" y="1143" width="1016" height="2" fill="url(#h138)"/>
<rect x="306" y="1145" width="1016" height="2" fill="url(#h139)"/>
<rect x="306" y="1147" width="1016" height="2" fill="url(#h140)"/>
<rect x="306" y="1149" width="1016" height="2" fill="url(#h141)"/>
<rect x="306" y="1151" width="1016" height="2" fill="url(#h142)"/>
<rect x="306" y="1153" width="1016" height="2" fill="url(#h143)"/>
<rect x="306" y="1155" width="1016" height="1" fill="url(#h144)"/>
<rect x="306" y="1156" width="1016" height="1" fill="url(#h145)"/>
<rect x="306" y="1157" width="1016" height="1" fill="url(#h146)"/>
<rect x="306" y="1158" width="1016" height="1" fill="url(#h147)"/>
<rect x="306" y="1159" width="1016" height="1" fill="url(#h148)"/>
<rect x="306" y="1160" width="1016" height="1" fill="url(#h149)"/>
<rect x="306" y="1161" width="1016" height="1" fill="url(#h150)"/>
<rect x="306" y="1162" width="1016" height="1" fill="url(#h151)"/>
<rect x="306" y="1163" width="1016" height="1" fill="url(#h152)"/>
<rect x="306" y="1164" width="1016" height="1" fill="url(#h153)"/>
<rect x="306" y="1165" width="1016" height="1" fill="url(#h154)"/>
<rect x="306" y="1166" width="1016" height="1" fill="url(#h155)"/>
<rect x="306" y="1167" width="1016" height="1" fill="url(#h156)"/>
<rect x="306" y="1168" width="1016" height="1" fill="url(#h157)"/>
<rect x="306" y="1169" width="1016" height="1" fill="url(#h158)"/>
<rect x="306" y="1170" width="1016" height="1" fill="url(#h159)"/>
<rect x="306" y="1171" width="1016" height="1" fill="url(#h160)"/>
<rect x="306" y="1172" width="1016" height="1" fill="url(#h161)"/>
<rect x="306" y="1173" width="1016" height="1" fill="url(#h162)"/>
<rect x="306" y="1174" width="1016" height="1" fill="url(#h163)"/>
<rect x="306" y="1175" width="1016" height="1" fill="url(#h164)"/>
<rect x="306" y="1176" width="1016" height="1" fill="url(#h165)"/>
<rect x="306" y="1177" width="1016" height="1" fill="url(#h166)"/>
<rect x="306" y="1178" width="1016" height="1" fill="url(#h167)"/>
<rect x="306" y="1179" width="1016" height="1" fill="url(#h168)"/>
<rect x="306" y="1180" width="1016" height="1" fill="url(#h169)"/>
<rect x="306" y="1181" width="1016" height="1" fill="url(#h170)"/>
<rect x="306" y="1182" width="1016" height="1" fill="url(#h171)"/>
<rect x="306" y="1183" width="1016" height="1" fill="url(#h172)"/>
<rect x="306" y="1184" width="1016" height="1" fill="url(#h173)"/>
<rect x="306" y="1185" width="1016" height="1" fill="url(#h174)"/>
<rect x="306" y="1186" width="1016" height="1" fill="url(#h175)"/>
<rect x="306" y="1187" width="1016" height="1" fill="url(#h176)"/>
<rect x="306" y="1188" width="1016" height="1" fill="url(#h177)"/>
<rect x="306" y="1189" width="1016" height="1" fill="url(#h178)"/>
<rect x="306" y="1190" width="1016" height="1" fill="url(#h179)"/>
<rect x="306" y="1191" width="1016" height="1" fill="url(#h180)"/>
<rect x="306" y="1192" width="1016" height="1" fill="url(#h181)"/>
<rect x="306" y="1193" width="1016" height="1" fill="url(#h182)"/>
<rect x="306" y="1194" width="1016" height="1" fill="url(#h183)"/>
<rect x="306" y="1195" width="1016" height="1" fill="url(#h184)"/>
<rect x="306" y="1196" width="1016" height="1" fill="url(#h185)"/>
<rect x="306" y="1197" width="1016" height="1" fill="url(#h186)"/>
<rect x="306" y="1198" width="1016" height="1" fill="url(#h187)"/>
<rect x="306" y="1199" width="1016" height="1" fill="url(#h188)"/>
<rect x="306" y="1200" width="1016" height="1" fill="url(#h189)"/>
<rect x="306" y="1201" width="1016" height="1" fill="url(#h190)"/>
<rect x="306" y="1202" width="1016" height="1" fill="url(#h191)"/>
<rect x="306" y="1203" width="1016" height="1" fill="url(#h192)"/>
<rect x="306" y="1204" width="1016" height="1" fill="url(#h193)"/>
<rect x="306" y="1205" width="1016" height="1" fill="url(#h194)"/>
<rect x="306" y="1206" width="1016" height="1" fill="url(#h195)"/>
<rect x="306" y="1207" width="1016" height="1" fill="url(#h196)"/>
<rect x="306" y="1208" width="1016" height="1" fill="url(#h197)"/>
<rect x="306" y="1209" width="1016" height="1" fill="url(#h198)"/>
<rect x="306" y="1210" width="1016" height="1" fill="url(#h199)"/>
<rect x="306" y="1211" width="1016" height="1" fill="url(#h200)"/>
<rect x="306" y="1212" width="1016" height="1" fill="url(#h201)"/>
<rect x="306" y="1213" width="1016" height="1" fill="url(#h202)"/>
<rect x="306" y="1214" width="1016" height="1" fill="url(#h203)"/>
<rect x="306" y="1215" width="1016" height="1" fill="url(#h204)"/>
<rect x="306" y="1216" width="1016" height="1" fill="url(#h205)"/>
<rect x="306" y="1217" width="1016" height="1" fill="url(#h206)"/>
<rect x="306" y="1218" width="1016" height="1" fill="url(#h207)"/>
<rect x="306" y="1219" width="1016" height="1" fill="url(#h208)"/>
<rect x="306" y="1220" width="1016" height="1" fill="url(#h209)"/>
<rect x="306" y="1221" width="1016" height="1" fill="url(#h210)"/>
<rect x="306" y="1222" width="1016" height="1" fill="url(#h211)"/>
<rect x="306" y="1223" width="1016" height="1" fill="url(#h212)"/>
<rect x="306" y="1224" width="1016" height="1" fill="url(#h213)"/>
<rect x="306" y="1225" width="1016" height="1" fill="url(#h214)"/>
<rect x="306" y="1226" width="1016" height="1" fill="url(#h215)"/>
<rect x="306" y="1227" width="1016" height="1" fill="url(#h216)"/>
<rect x="306" y="1228" width="1016" height="1" fill="url(#h217)"/>
<rect x="306" y="1229" width="1016" height="1" fill="url(#h218)"/>
<rect x="306" y="1230" width="1016" height="1" fill="url(#h219)"/>
<rect x="306" y="1231" width="1016" height="1" fill="url(#h220)"/>
<rect x="306" y="1232" width="1016" height="1" fill="url(#h221)"/>
<rect x="306" y="1233" width="1016" height="1" fill="url(#h222)"/>
<rect x="306" y="1234" width="1016" height="1" fill="url(#h223)"/>
<rect x="306" y="1235" width="1016" height="1" fill="url(#h224)"/>
<rect x="306" y="1236" width="1016" height="1" fill="url(#h225)"/>
<rect x="306" y="1237" width="1016" height="1" fill="url(#h226)"/>
<rect x="306" y="1238" width="1016" height="1" fill="url(#h227)"/>
<rect x="306" y="1239" width="1016" height="1" fill="url(#h228)"/>
<rect x="306" y="1240" width="1016" height="1" fill="url(#h229)"/>
<rect x="306" y="1241" width="1016" height="1" fill="url(#h230)"/>
<rect x="306" y="1242" width="1016" height="1" fill="url(#h231)"/>
<rect x="306" y="1243" width="1016" height="1" fill="url(#h232)"/>
<rect x="306" y="1244" width="1016" height="1" fill="url(#h233)"/>
<rect x="306" y="1245" width="1016" height="1" fill="url(#h234)"/>
<rect x="306" y="1246" width="1016" height="1" fill="url(#h235)"/>
<rect x="306" y="1247" width="1016" height="1" fill="url(#h236)"/>
<rect x="306" y="1248" width="1016" height="1" fill="url(#h237)"/>
<rect x="306" y="1249" width="1016" height="1" fill="url(#h238)"/>
<rect x="306" y="1250" width="1016" height="1" fill="url(#h239)"/>
<rect x="306" y="1251" width="1016" height="1" fill="url(#h240)"/>
<rect x="306" y="1252" width="1016" height="1" fill="url(#h241)"/>
<rect x="306" y="1253" width="1016" height="1" fill="url(#h242)"/>
<rect x="306" y="1254" width="1016" height="1" fill="url(#h243)"/>
<rect x="306" y="1255" width="1016" height="1" fill="url(#h244)"/>
<rect x="306" y="1256" width="1016" height="2" fill="url(#h245)"/>
<rect x="306" y="1258" width="1016" height="3" fill="url(#h246)"/>
<rect x="306" y="1261" width="1016" height="3" fill="url(#h247)"/>
<rect x="306" y="1264" width="1016" height="4" fill="url(#h248)"/>
<rect x="306" y="1268" width="1016" height="7" fill="url(#h249)"/>
<rect x="306" y="1275" width="1016" height="5" fill="#ffce00"/></g>
<rect x="306" y="829" width="1016" height="10" fill="#fff"/>
<g fill="#000">
<rect x="297" y="85" width="1033" height="9"/>
<rect x="297" y="85" width="9" height="1203"/>
<rect x="1322" y="85" width="8" height="1203"/>
<rect x="297" y="682" width="1033" height="8"/>
<rect x="297" y="1280" width="1033" height="8"/>
</g>
<g fill="#000"><rect x="400.35" y="646.00" width="8.50" height="40.00" rx="3"/><rect x="400.35" y="1242.00" width="8.50" height="42.00" rx="3"/><rect x="502.75" y="664.00" width="8.50" height="22.00" rx="3"/><rect x="502.75" y="1260.00" width="8.50" height="24.00" rx="3"/><rect x="605.15" y="646.00" width="8.50" height="40.00" rx="3"/><rect x="605.15" y="1242.00" width="8.50" height="42.00" rx="3"/><rect x="707.55" y="664.00" width="8.50" height="22.00" rx="3"/><rect x="707.55" y="1260.00" width="8.50" height="24.00" rx="3"/><rect x="809.95" y="646.00" width="8.50" height="40.00" rx="3"/><rect x="809.95" y="1242.00" width="8.50" height="42.00" rx="3"/><rect x="912.35" y="664.00" width="8.50" height="22.00" rx="3"/><rect x="912.35" y="1260.00" width="8.50" height="24.00" rx="3"/><rect x="1014.75" y="646.00" width="8.50" height="40.00" rx="3"/><rect x="1014.75" y="1242.00" width="8.50" height="42.00" rx="3"/><rect x="1117.15" y="664.00" width="8.50" height="22.00" rx="3"/><rect x="1117.15" y="1260.00" width="8.50" height="24.00" rx="3"/><rect x="1219.55" y="646.00" width="8.50" height="40.00" rx="3"/><rect x="1219.55" y="1242.00" width="8.50" height="42.00" rx="3"/><rect x="302.00" y="1256.15" width="40.00" height="8.50" rx="3"/><rect x="302.00" y="1209.25" width="23.00" height="8.50" rx="3"/><rect x="302.00" y="1162.35" width="40.00" height="8.50" rx="3"/><rect x="302.00" y="1115.45" width="23.00" height="8.50" rx="3"/><rect x="302.00" y="1068.55" width="40.00" height="8.50" rx="3"/><rect x="302.00" y="1021.65" width="23.00" height="8.50" rx="3"/><rect x="302.00" y="974.75" width="40.00" height="8.50" rx="3"/><rect x="302.00" y="927.85" width="23.00" height="8.50" rx="3"/><rect x="302.00" y="880.95" width="40.00" height="8.50" rx="3"/><rect x="302.00" y="826.75" width="40.00" height="8.50" rx="3"/><rect x="302.00" y="811.40" width="23.00" height="8.50" rx="3"/><rect x="302.00" y="802.42" width="23.00" height="8.50" rx="3"/><rect x="302.00" y="796.04" width="23.00" height="8.50" rx="3"/><rect x="302.00" y="791.10" width="23.00" height="8.50" rx="3"/><rect x="302.00" y="787.06" width="23.00" height="8.50" rx="3"/><rect x="302.00" y="783.65" width="23.00" height="8.50" rx="3"/><rect x="302.00" y="780.69" width="23.00" height="8.50" rx="3"/><rect x="302.00" y="778.08" width="23.00" height="8.50" rx="3"/><rect x="302.00" y="775.75" width="40.00" height="8.50" rx="3"/><rect x="302.00" y="760.40" width="23.00" height="8.50" rx="3"/><rect x="302.00" y="751.42" width="23.00" height="8.50" rx="3"/><rect x="302.00" y="745.04" width="23.00" height="8.50" rx="3"/><rect x="302.00" y="740.10" width="23.00" height="8.50" rx="3"/><rect x="302.00" y="736.06" width="23.00" height="8.50" rx="3"/><rect x="302.00" y="732.65" width="23.00" height="8.50" rx="3"/><rect x="302.00" y="729.69" width="23.00" height="8.50" rx="3"/><rect x="302.00" y="727.08" width="23.00" height="8.50" rx="3"/><rect x="302.00" y="724.75" width="40.00" height="8.50" rx="3"/><rect x="302.00" y="709.40" width="23.00" height="8.50" rx="3"/><rect x="302.00" y="700.42" width="23.00" height="8.50" rx="3"/><rect x="302.00" y="694.04" width="23.00" height="8.50" rx="3"/><rect x="302.00" y="689.10" width="23.00" height="8.50" rx="3"/><rect x="302.00" y="685.06" width="23.00" height="8.50" rx="3"/></g>
<rect x="357" y="740" width="19" height="302" fill="url(#cb)"/>
<g fill="#000"><rect x="351" y="733.5" width="6" height="315"/></g>
<g stroke="#000" stroke-width="6.5" stroke-linecap="round"><line x1="354" y1="736.7" x2="389.5" y2="736.7"/><line x1="354" y1="1045.2" x2="391.5" y2="1045.2"/><line x1="377" y1="793.9" x2="389.5" y2="793.9"/></g>
<polyline points="302.0,238.5 306.0,241.2 315.0,247.4 325.0,254.2 335.0,259.5 345.0,265.5 355.0,271.2 365.0,274.8 375.0,278.4 385.0,282.0 395.0,284.8 400.0,285.3 420.0,291.4 440.0,295.3 460.0,299.7 480.0,303.6 500.0,308.7 520.0,312.5 540.0,318.6 560.0,323.4 570.5,327.3 590.0,331.0 613.2,333.5 641.6,335.6 665.0,335.6 685.0,334.2 700.0,332.0 710.0,330.4 720.0,328.3 735.0,327.4 745.0,325.8 752.0,324.6 780.0,324.6 787.0,325.3 795.0,327.7 800.0,328.8 810.0,332.8 820.0,340.2 830.0,348.5 840.0,356.7 850.0,367.5 859.0,380.0 866.0,390.0 878.8,411.5 894.6,443.1 910.7,474.6 924.2,506.2 941.5,537.7 959.7,569.3 978.0,592.9 992.0,608.7 1005.0,616.0 1020.1,621.7 1048.6,630.2 1072.6,633.9 1121.0,638.8 1169.4,642.4 1217.8,646.0 1266.2,649.7 1314.6,653.3 1326.0,654.0" fill="none" stroke="#000" stroke-width="15" stroke-linejoin="round"/>
<polyline points="302.0,653.2 422.0,652.2 528.0,650.4 560.0,647.8 574.2,647.4 602.7,642.1 631.2,634.6 659.6,622.5 688.1,604.0 716.6,575.5 735.0,550.0 748.4,535.3 768.0,501.7 790.3,468.2 809.3,434.7 827.2,401.2 836.8,390.0 849.8,368.0 860.0,352.0 870.0,341.7 880.0,333.1 890.0,326.2 900.0,323.5 910.0,322.5 918.0,323.3 925.0,327.4 935.0,336.6 945.0,347.0 955.0,361.6 965.0,376.9 973.0,389.0 980.9,411.5 990.0,430.0 1000.0,448.0 1009.7,464.5 1024.2,488.7 1048.4,527.4 1072.6,554.1 1096.8,575.8 1121.0,592.8 1145.2,607.3 1169.4,617.0 1193.6,625.5 1217.8,632.7 1242.0,637.6 1266.2,641.2 1290.4,643.6 1326.0,645.5" fill="none" stroke="#0000ff" stroke-width="14.5" stroke-linejoin="round"/>
<g stroke-width="15" stroke-linecap="round"><line x1="628.1" y1="147.4" x2="733.7" y2="147.4" stroke="#000"/><line x1="628.1" y1="239.4" x2="733.7" y2="239.4" stroke="#0000ff"/></g>
<line x1="261.2" y1="841.3" x2="340.8" y2="830.8" stroke="#fff" stroke-width="13"/><line x1="263.2" y1="835.5" x2="338.8" y2="825.6" stroke="#000" stroke-width="8" stroke-linecap="round"/><line x1="263.2" y1="846.5" x2="338.8" y2="836.6" stroke="#000" stroke-width="8" stroke-linecap="round"/>
<rect x="308" y="826.5" width="34" height="9" fill="#000"/>
<line x1="1286.2" y1="841.2" x2="1365.8" y2="830.7" stroke="#fff" stroke-width="13"/><line x1="1288.2" y1="835.4" x2="1363.8" y2="825.5" stroke="#000" stroke-width="8" stroke-linecap="round"/><line x1="1288.2" y1="846.4" x2="1363.8" y2="836.5" stroke="#000" stroke-width="8" stroke-linecap="round"/>
<text x="149.7" y="86.5" font-size="92">(a)</text><text x="149.7" y="688.6" font-size="92">(b)</text><text x="750.5" y="164.5" font-size="72">absorption</text><text x="749" y="256" font-size="72">photoluminescence</text><text transform="translate(80.9,574.5) rotate(-90)" font-size="73">Intensity (a.u.)</text><text transform="translate(81,1188.8) rotate(-90)" font-size="73">Delay time (ps)</text><text x="561.5" y="1480" font-size="72">Wavelength (nm)</text><text x="405.3" y="1380.3" font-size="72.5" text-anchor="middle">460</text><text x="610.1" y="1380.3" font-size="72.5" text-anchor="middle">480</text><text x="814.9" y="1380.3" font-size="72.5" text-anchor="middle">500</text><text x="1019.7" y="1380.3" font-size="72.5" text-anchor="middle">520</text><text x="1224.5" y="1380.3" font-size="72.5" text-anchor="middle">540</text><text x="260.5" y="746.3" font-size="72" text-anchor="end">1000</text><text x="260.5" y="797.7" font-size="72" text-anchor="end">100</text><text x="260.5" y="847.7" font-size="72" text-anchor="end">10</text><text x="260.5" y="1279.0" font-size="72.5" text-anchor="end">0</text><text x="260.5" y="1184.9" font-size="72.5" text-anchor="end">2</text><text x="260.5" y="1090.8" font-size="72.5" text-anchor="end">4</text><text x="260.5" y="996.7" font-size="72.5" text-anchor="end">6</text><text x="260.5" y="902.6" font-size="72.5" text-anchor="end">8</text><text x="396.5" y="771" font-size="82" style="stroke-width:2.2px">0.025</text><text x="397.3" y="820.5" font-size="73">0</text><text x="396.3" y="1080" font-size="83" style="stroke-width:2.2px">-0.090</text><text x="910.2" y="788" font-size="73">λ<tspan font-size="63" dx="2.5">ex</tspan>= 365 nm</text><text x="1004" y="909.9" font-size="71.5">16 μJ/cm<tspan font-size="43" dx="-2" dy="-36">2</tspan></text>
</svg></body></html>
